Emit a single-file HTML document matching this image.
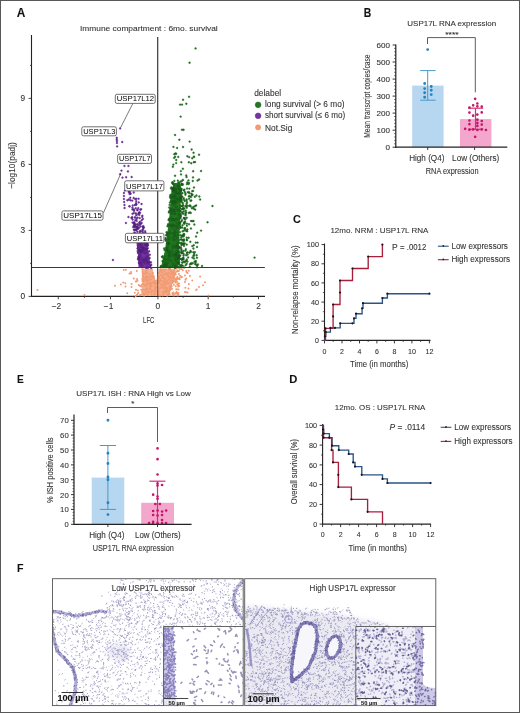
<!DOCTYPE html>
<html><head><meta charset="utf-8"><style>
html,body{margin:0;padding:0;background:#fff;}
svg{display:block;will-change:transform;}
text{font-family:"Liberation Sans", sans-serif;stroke:#3a3a3a;stroke-width:0.1px;}
text.ns{stroke:none;}
</style></head><body>
<svg width="520" height="713" viewBox="0 0 520 713">
<rect x="0" y="0" width="520" height="713" fill="#fff"/>
<line x1="31.5" y1="35" x2="31.5" y2="296.9" stroke="#222" stroke-width="1.1"/>
<line x1="31" y1="296.4" x2="265" y2="296.4" stroke="#222" stroke-width="1.1"/>
<line x1="28.6" y1="296.4" x2="31.5" y2="296.4" stroke="#333" stroke-width="0.9"/>
<text x="25.1" y="299.3" font-size="8.3" text-anchor="end" fill="#333">0</text>
<line x1="28.6" y1="230.4" x2="31.5" y2="230.4" stroke="#333" stroke-width="0.9"/>
<text x="25.1" y="233.3" font-size="8.3" text-anchor="end" fill="#333">3</text>
<line x1="28.6" y1="164.4" x2="31.5" y2="164.4" stroke="#333" stroke-width="0.9"/>
<text x="25.1" y="167.3" font-size="8.3" text-anchor="end" fill="#333">6</text>
<line x1="28.6" y1="98.4" x2="31.5" y2="98.4" stroke="#333" stroke-width="0.9"/>
<text x="25.1" y="101.3" font-size="8.3" text-anchor="end" fill="#333">9</text>
<line x1="30" y1="263.4" x2="31.5" y2="263.4" stroke="#333" stroke-width="0.8"/>
<line x1="30" y1="197.4" x2="31.5" y2="197.4" stroke="#333" stroke-width="0.8"/>
<line x1="30" y1="131.4" x2="31.5" y2="131.4" stroke="#333" stroke-width="0.8"/>
<line x1="30" y1="65.4" x2="31.5" y2="65.4" stroke="#333" stroke-width="0.8"/>
<line x1="58.3" y1="296.4" x2="58.3" y2="299.3" stroke="#333" stroke-width="0.9"/>
<line x1="110.5" y1="296.4" x2="110.5" y2="299.3" stroke="#333" stroke-width="0.9"/>
<line x1="157.9" y1="296.4" x2="157.9" y2="299.3" stroke="#333" stroke-width="0.9"/>
<line x1="208.2" y1="296.4" x2="208.2" y2="299.3" stroke="#333" stroke-width="0.9"/>
<line x1="258.5" y1="296.4" x2="258.5" y2="299.3" stroke="#333" stroke-width="0.9"/>
<line x1="84.4" y1="296.4" x2="84.4" y2="297.9" stroke="#333" stroke-width="0.8"/>
<line x1="134.2" y1="296.4" x2="134.2" y2="297.9" stroke="#333" stroke-width="0.8"/>
<line x1="183.1" y1="296.4" x2="183.1" y2="297.9" stroke="#333" stroke-width="0.8"/>
<line x1="233.3" y1="296.4" x2="233.3" y2="297.9" stroke="#333" stroke-width="0.8"/>
<text x="56.5" y="309.2" font-size="8.4" text-anchor="middle" fill="#333">−2</text>
<text x="108.6" y="309.2" font-size="8.4" text-anchor="middle" fill="#333">−1</text>
<text x="157.9" y="309.2" font-size="8.4" text-anchor="middle" fill="#333">0</text>
<text x="208.2" y="309.2" font-size="8.4" text-anchor="middle" fill="#333">1</text>
<text x="258.5" y="309.2" font-size="8.4" text-anchor="middle" fill="#333">2</text>
<line x1="157.7" y1="37" x2="157.7" y2="296.4" stroke="#333" stroke-width="0.9"/>
<line x1="31.5" y1="267.5" x2="264.8" y2="267.5" stroke="#333" stroke-width="0.9"/>
<path fill="#f5ad8c" d="M141.5 268.8 L152.5 268.8 L156 282.5 L159 268.8 L176 268.8 L173.3 280 L170.4 290 L168.5 295.6 L141 295.6 L142.5 285Z" />
<path fill="#f29a72" d="M168.8 268.9a1.0 1.0 0 1 0 2 0a1.0 1.0 0 1 0 -2 0M150.1 268.6a1.0 1.0 0 1 0 2 0a1.0 1.0 0 1 0 -2 0M159.6 269a1.0 1.0 0 1 0 2 0a1.0 1.0 0 1 0 -2 0M167.8 268.8a1.0 1.0 0 1 0 2 0a1.0 1.0 0 1 0 -2 0M141.7 269.3a1.0 1.0 0 1 0 2 0a1.0 1.0 0 1 0 -2 0M162.1 269.3a1.0 1.0 0 1 0 2 0a1.0 1.0 0 1 0 -2 0M164.2 269.6a1.0 1.0 0 1 0 2 0a1.0 1.0 0 1 0 -2 0M168.8 270.1a1.0 1.0 0 1 0 2 0a1.0 1.0 0 1 0 -2 0M158.9 270.8a1.0 1.0 0 1 0 2 0a1.0 1.0 0 1 0 -2 0M170.1 270.7a1.0 1.0 0 1 0 2 0a1.0 1.0 0 1 0 -2 0M160.8 270.5a1.0 1.0 0 1 0 2 0a1.0 1.0 0 1 0 -2 0M145.6 270.9a1.0 1.0 0 1 0 2 0a1.0 1.0 0 1 0 -2 0M173.3 271.1a1.0 1.0 0 1 0 2 0a1.0 1.0 0 1 0 -2 0M163.3 271.2a1.0 1.0 0 1 0 2 0a1.0 1.0 0 1 0 -2 0M170.1 271.3a1.0 1.0 0 1 0 2 0a1.0 1.0 0 1 0 -2 0M144.9 271.4a1.0 1.0 0 1 0 2 0a1.0 1.0 0 1 0 -2 0M172.5 271.5a1.0 1.0 0 1 0 2 0a1.0 1.0 0 1 0 -2 0M170.4 271.8a1.0 1.0 0 1 0 2 0a1.0 1.0 0 1 0 -2 0M159.7 271.7a1.0 1.0 0 1 0 2 0a1.0 1.0 0 1 0 -2 0M141.7 271.9a1.0 1.0 0 1 0 2 0a1.0 1.0 0 1 0 -2 0M144.6 272.5a1.0 1.0 0 1 0 2 0a1.0 1.0 0 1 0 -2 0M157.9 272.9a1.0 1.0 0 1 0 2 0a1.0 1.0 0 1 0 -2 0M171 272.6a1.0 1.0 0 1 0 2 0a1.0 1.0 0 1 0 -2 0M171.8 272.5a1.0 1.0 0 1 0 2 0a1.0 1.0 0 1 0 -2 0M165.7 272.9a1.0 1.0 0 1 0 2 0a1.0 1.0 0 1 0 -2 0M145 272.7a1.0 1.0 0 1 0 2 0a1.0 1.0 0 1 0 -2 0M167.8 272.5a1.0 1.0 0 1 0 2 0a1.0 1.0 0 1 0 -2 0M161.6 272.9a1.0 1.0 0 1 0 2 0a1.0 1.0 0 1 0 -2 0M146.4 273.2a1.0 1.0 0 1 0 2 0a1.0 1.0 0 1 0 -2 0M172.2 273.3a1.0 1.0 0 1 0 2 0a1.0 1.0 0 1 0 -2 0M151.8 273.1a1.0 1.0 0 1 0 2 0a1.0 1.0 0 1 0 -2 0M172.3 273.2a1.0 1.0 0 1 0 2 0a1.0 1.0 0 1 0 -2 0M172.2 273.6a1.0 1.0 0 1 0 2 0a1.0 1.0 0 1 0 -2 0M167.3 273.8a1.0 1.0 0 1 0 2 0a1.0 1.0 0 1 0 -2 0M164.4 273.8a1.0 1.0 0 1 0 2 0a1.0 1.0 0 1 0 -2 0M172.9 273.7a1.0 1.0 0 1 0 2 0a1.0 1.0 0 1 0 -2 0M142.1 273.6a1.0 1.0 0 1 0 2 0a1.0 1.0 0 1 0 -2 0M171 273.9a1.0 1.0 0 1 0 2 0a1.0 1.0 0 1 0 -2 0M144.2 273.8a1.0 1.0 0 1 0 2 0a1.0 1.0 0 1 0 -2 0M142.5 274.2a1.0 1.0 0 1 0 2 0a1.0 1.0 0 1 0 -2 0M165.8 274.4a1.0 1.0 0 1 0 2 0a1.0 1.0 0 1 0 -2 0M164.7 274.1a1.0 1.0 0 1 0 2 0a1.0 1.0 0 1 0 -2 0M170.8 274.4a1.0 1.0 0 1 0 2 0a1.0 1.0 0 1 0 -2 0M169.6 274.3a1.0 1.0 0 1 0 2 0a1.0 1.0 0 1 0 -2 0M170.9 274a1.0 1.0 0 1 0 2 0a1.0 1.0 0 1 0 -2 0M148.8 274.6a1.0 1.0 0 1 0 2 0a1.0 1.0 0 1 0 -2 0M159.9 275.1a1.0 1.0 0 1 0 2 0a1.0 1.0 0 1 0 -2 0M162.8 275a1.0 1.0 0 1 0 2 0a1.0 1.0 0 1 0 -2 0M141.7 275.9a1.0 1.0 0 1 0 2 0a1.0 1.0 0 1 0 -2 0M172 275.9a1.0 1.0 0 1 0 2 0a1.0 1.0 0 1 0 -2 0M142 275.7a1.0 1.0 0 1 0 2 0a1.0 1.0 0 1 0 -2 0M150.9 275.6a1.0 1.0 0 1 0 2 0a1.0 1.0 0 1 0 -2 0M161 275.9a1.0 1.0 0 1 0 2 0a1.0 1.0 0 1 0 -2 0M150.7 275.9a1.0 1.0 0 1 0 2 0a1.0 1.0 0 1 0 -2 0M166.7 275.6a1.0 1.0 0 1 0 2 0a1.0 1.0 0 1 0 -2 0M162.1 276.3a1.0 1.0 0 1 0 2 0a1.0 1.0 0 1 0 -2 0M167.4 276.4a1.0 1.0 0 1 0 2 0a1.0 1.0 0 1 0 -2 0M151.1 276.4a1.0 1.0 0 1 0 2 0a1.0 1.0 0 1 0 -2 0M168.9 276.4a1.0 1.0 0 1 0 2 0a1.0 1.0 0 1 0 -2 0M145.7 276a1.0 1.0 0 1 0 2 0a1.0 1.0 0 1 0 -2 0M161.8 276.1a1.0 1.0 0 1 0 2 0a1.0 1.0 0 1 0 -2 0M152.8 276.6a1.0 1.0 0 1 0 2 0a1.0 1.0 0 1 0 -2 0M162.1 276.9a1.0 1.0 0 1 0 2 0a1.0 1.0 0 1 0 -2 0M152.7 276.7a1.0 1.0 0 1 0 2 0a1.0 1.0 0 1 0 -2 0M158 276.6a1.0 1.0 0 1 0 2 0a1.0 1.0 0 1 0 -2 0M148.5 276.7a1.0 1.0 0 1 0 2 0a1.0 1.0 0 1 0 -2 0M144.7 277.1a1.0 1.0 0 1 0 2 0a1.0 1.0 0 1 0 -2 0M143 277.5a1.0 1.0 0 1 0 2 0a1.0 1.0 0 1 0 -2 0M149.1 277.2a1.0 1.0 0 1 0 2 0a1.0 1.0 0 1 0 -2 0M167.5 277.3a1.0 1.0 0 1 0 2 0a1.0 1.0 0 1 0 -2 0M146.5 277.2a1.0 1.0 0 1 0 2 0a1.0 1.0 0 1 0 -2 0M152.4 277.5a1.0 1.0 0 1 0 2 0a1.0 1.0 0 1 0 -2 0M157.2 277.9a1.0 1.0 0 1 0 2 0a1.0 1.0 0 1 0 -2 0M146.5 277.6a1.0 1.0 0 1 0 2 0a1.0 1.0 0 1 0 -2 0M157.8 277.9a1.0 1.0 0 1 0 2 0a1.0 1.0 0 1 0 -2 0M169.5 277.6a1.0 1.0 0 1 0 2 0a1.0 1.0 0 1 0 -2 0M146.3 277.9a1.0 1.0 0 1 0 2 0a1.0 1.0 0 1 0 -2 0M161.3 277.9a1.0 1.0 0 1 0 2 0a1.0 1.0 0 1 0 -2 0M152.6 278.2a1.0 1.0 0 1 0 2 0a1.0 1.0 0 1 0 -2 0M141.4 278.4a1.0 1.0 0 1 0 2 0a1.0 1.0 0 1 0 -2 0M157.9 278.2a1.0 1.0 0 1 0 2 0a1.0 1.0 0 1 0 -2 0M158.1 278.4a1.0 1.0 0 1 0 2 0a1.0 1.0 0 1 0 -2 0M152.7 278.4a1.0 1.0 0 1 0 2 0a1.0 1.0 0 1 0 -2 0M170.1 278.2a1.0 1.0 0 1 0 2 0a1.0 1.0 0 1 0 -2 0M144.8 278.4a1.0 1.0 0 1 0 2 0a1.0 1.0 0 1 0 -2 0M172.5 278.1a1.0 1.0 0 1 0 2 0a1.0 1.0 0 1 0 -2 0M163.4 278.4a1.0 1.0 0 1 0 2 0a1.0 1.0 0 1 0 -2 0M170.2 278.1a1.0 1.0 0 1 0 2 0a1.0 1.0 0 1 0 -2 0M158.9 278.7a1.0 1.0 0 1 0 2 0a1.0 1.0 0 1 0 -2 0M164.6 278.6a1.0 1.0 0 1 0 2 0a1.0 1.0 0 1 0 -2 0M169.9 278.6a1.0 1.0 0 1 0 2 0a1.0 1.0 0 1 0 -2 0M150.4 279.2a1.0 1.0 0 1 0 2 0a1.0 1.0 0 1 0 -2 0M163.5 279.2a1.0 1.0 0 1 0 2 0a1.0 1.0 0 1 0 -2 0M142.1 279.5a1.0 1.0 0 1 0 2 0a1.0 1.0 0 1 0 -2 0M141.4 279.8a1.0 1.0 0 1 0 2 0a1.0 1.0 0 1 0 -2 0M144.3 279.6a1.0 1.0 0 1 0 2 0a1.0 1.0 0 1 0 -2 0M167.9 279.7a1.0 1.0 0 1 0 2 0a1.0 1.0 0 1 0 -2 0M146.2 279.8a1.0 1.0 0 1 0 2 0a1.0 1.0 0 1 0 -2 0M148.8 279.8a1.0 1.0 0 1 0 2 0a1.0 1.0 0 1 0 -2 0M144.7 280.1a1.0 1.0 0 1 0 2 0a1.0 1.0 0 1 0 -2 0M171.6 280.5a1.0 1.0 0 1 0 2 0a1.0 1.0 0 1 0 -2 0M147.7 280.5a1.0 1.0 0 1 0 2 0a1.0 1.0 0 1 0 -2 0M146.9 280.3a1.0 1.0 0 1 0 2 0a1.0 1.0 0 1 0 -2 0M156.2 280.5a1.0 1.0 0 1 0 2 0a1.0 1.0 0 1 0 -2 0M141.6 280.2a1.0 1.0 0 1 0 2 0a1.0 1.0 0 1 0 -2 0M159.5 280a1.0 1.0 0 1 0 2 0a1.0 1.0 0 1 0 -2 0M145.6 280.9a1.0 1.0 0 1 0 2 0a1.0 1.0 0 1 0 -2 0M145.6 281a1.0 1.0 0 1 0 2 0a1.0 1.0 0 1 0 -2 0M159.3 280.7a1.0 1.0 0 1 0 2 0a1.0 1.0 0 1 0 -2 0M170.1 280.6a1.0 1.0 0 1 0 2 0a1.0 1.0 0 1 0 -2 0M156.7 280.5a1.0 1.0 0 1 0 2 0a1.0 1.0 0 1 0 -2 0M171.1 280.8a1.0 1.0 0 1 0 2 0a1.0 1.0 0 1 0 -2 0M165.9 280.6a1.0 1.0 0 1 0 2 0a1.0 1.0 0 1 0 -2 0M165.8 280.9a1.0 1.0 0 1 0 2 0a1.0 1.0 0 1 0 -2 0M160.8 281a1.0 1.0 0 1 0 2 0a1.0 1.0 0 1 0 -2 0M154.1 280.7a1.0 1.0 0 1 0 2 0a1.0 1.0 0 1 0 -2 0M163.4 281a1.0 1.0 0 1 0 2 0a1.0 1.0 0 1 0 -2 0M170.7 281.2a1.0 1.0 0 1 0 2 0a1.0 1.0 0 1 0 -2 0M153.3 281.4a1.0 1.0 0 1 0 2 0a1.0 1.0 0 1 0 -2 0M156.9 281.4a1.0 1.0 0 1 0 2 0a1.0 1.0 0 1 0 -2 0M143 281.3a1.0 1.0 0 1 0 2 0a1.0 1.0 0 1 0 -2 0M158 281.5a1.0 1.0 0 1 0 2 0a1.0 1.0 0 1 0 -2 0M141.5 281.2a1.0 1.0 0 1 0 2 0a1.0 1.0 0 1 0 -2 0M146.5 281.9a1.0 1.0 0 1 0 2 0a1.0 1.0 0 1 0 -2 0M146.5 281.7a1.0 1.0 0 1 0 2 0a1.0 1.0 0 1 0 -2 0M164 281.9a1.0 1.0 0 1 0 2 0a1.0 1.0 0 1 0 -2 0M157.8 281.9a1.0 1.0 0 1 0 2 0a1.0 1.0 0 1 0 -2 0M152.3 282.2a1.0 1.0 0 1 0 2 0a1.0 1.0 0 1 0 -2 0M164.1 282.3a1.0 1.0 0 1 0 2 0a1.0 1.0 0 1 0 -2 0M150.9 282.4a1.0 1.0 0 1 0 2 0a1.0 1.0 0 1 0 -2 0M152.3 282.4a1.0 1.0 0 1 0 2 0a1.0 1.0 0 1 0 -2 0M165 282.2a1.0 1.0 0 1 0 2 0a1.0 1.0 0 1 0 -2 0M162.7 282a1.0 1.0 0 1 0 2 0a1.0 1.0 0 1 0 -2 0M152.6 282.4a1.0 1.0 0 1 0 2 0a1.0 1.0 0 1 0 -2 0M158.5 282.3a1.0 1.0 0 1 0 2 0a1.0 1.0 0 1 0 -2 0M149.5 282.7a1.0 1.0 0 1 0 2 0a1.0 1.0 0 1 0 -2 0M171.7 282.7a1.0 1.0 0 1 0 2 0a1.0 1.0 0 1 0 -2 0M154.3 282.7a1.0 1.0 0 1 0 2 0a1.0 1.0 0 1 0 -2 0M158.5 283a1.0 1.0 0 1 0 2 0a1.0 1.0 0 1 0 -2 0M168.2 282.7a1.0 1.0 0 1 0 2 0a1.0 1.0 0 1 0 -2 0M167.4 283.2a1.0 1.0 0 1 0 2 0a1.0 1.0 0 1 0 -2 0M155.7 283.1a1.0 1.0 0 1 0 2 0a1.0 1.0 0 1 0 -2 0M153.4 283.4a1.0 1.0 0 1 0 2 0a1.0 1.0 0 1 0 -2 0M166.2 283.2a1.0 1.0 0 1 0 2 0a1.0 1.0 0 1 0 -2 0M162.3 283.9a1.0 1.0 0 1 0 2 0a1.0 1.0 0 1 0 -2 0M142 283.9a1.0 1.0 0 1 0 2 0a1.0 1.0 0 1 0 -2 0M165.8 283.7a1.0 1.0 0 1 0 2 0a1.0 1.0 0 1 0 -2 0M142.2 283.8a1.0 1.0 0 1 0 2 0a1.0 1.0 0 1 0 -2 0M147.9 283.8a1.0 1.0 0 1 0 2 0a1.0 1.0 0 1 0 -2 0M170.2 284.1a1.0 1.0 0 1 0 2 0a1.0 1.0 0 1 0 -2 0M149.7 284.1a1.0 1.0 0 1 0 2 0a1.0 1.0 0 1 0 -2 0M142.3 284.2a1.0 1.0 0 1 0 2 0a1.0 1.0 0 1 0 -2 0M164.2 284.4a1.0 1.0 0 1 0 2 0a1.0 1.0 0 1 0 -2 0M146.3 284.1a1.0 1.0 0 1 0 2 0a1.0 1.0 0 1 0 -2 0M150.2 284.4a1.0 1.0 0 1 0 2 0a1.0 1.0 0 1 0 -2 0M153.8 284.7a1.0 1.0 0 1 0 2 0a1.0 1.0 0 1 0 -2 0M144.6 284.7a1.0 1.0 0 1 0 2 0a1.0 1.0 0 1 0 -2 0M160 284.6a1.0 1.0 0 1 0 2 0a1.0 1.0 0 1 0 -2 0M144.5 284.6a1.0 1.0 0 1 0 2 0a1.0 1.0 0 1 0 -2 0M149 285a1.0 1.0 0 1 0 2 0a1.0 1.0 0 1 0 -2 0M141 284.6a1.0 1.0 0 1 0 2 0a1.0 1.0 0 1 0 -2 0M145.3 284.7a1.0 1.0 0 1 0 2 0a1.0 1.0 0 1 0 -2 0M145.2 285.1a1.0 1.0 0 1 0 2 0a1.0 1.0 0 1 0 -2 0M168.6 285.9a1.0 1.0 0 1 0 2 0a1.0 1.0 0 1 0 -2 0M160.8 285.5a1.0 1.0 0 1 0 2 0a1.0 1.0 0 1 0 -2 0M160.6 285.8a1.0 1.0 0 1 0 2 0a1.0 1.0 0 1 0 -2 0M164 285.6a1.0 1.0 0 1 0 2 0a1.0 1.0 0 1 0 -2 0M169.5 285.9a1.0 1.0 0 1 0 2 0a1.0 1.0 0 1 0 -2 0M143.7 285.7a1.0 1.0 0 1 0 2 0a1.0 1.0 0 1 0 -2 0M161 286.3a1.0 1.0 0 1 0 2 0a1.0 1.0 0 1 0 -2 0M169.4 286.3a1.0 1.0 0 1 0 2 0a1.0 1.0 0 1 0 -2 0M150.5 286.3a1.0 1.0 0 1 0 2 0a1.0 1.0 0 1 0 -2 0M140.8 286.4a1.0 1.0 0 1 0 2 0a1.0 1.0 0 1 0 -2 0M161.5 286.2a1.0 1.0 0 1 0 2 0a1.0 1.0 0 1 0 -2 0M145.8 286.7a1.0 1.0 0 1 0 2 0a1.0 1.0 0 1 0 -2 0M153.9 287a1.0 1.0 0 1 0 2 0a1.0 1.0 0 1 0 -2 0M148.7 286.9a1.0 1.0 0 1 0 2 0a1.0 1.0 0 1 0 -2 0M161 286.9a1.0 1.0 0 1 0 2 0a1.0 1.0 0 1 0 -2 0M164.1 287.1a1.0 1.0 0 1 0 2 0a1.0 1.0 0 1 0 -2 0M168.7 287.6a1.0 1.0 0 1 0 2 0a1.0 1.0 0 1 0 -2 0M161.5 287.6a1.0 1.0 0 1 0 2 0a1.0 1.0 0 1 0 -2 0M164.9 287.6a1.0 1.0 0 1 0 2 0a1.0 1.0 0 1 0 -2 0M155.8 287.5a1.0 1.0 0 1 0 2 0a1.0 1.0 0 1 0 -2 0M158.5 288.2a1.0 1.0 0 1 0 2 0a1.0 1.0 0 1 0 -2 0M159.2 288.2a1.0 1.0 0 1 0 2 0a1.0 1.0 0 1 0 -2 0M166.2 288.1a1.0 1.0 0 1 0 2 0a1.0 1.0 0 1 0 -2 0M163.1 288.3a1.0 1.0 0 1 0 2 0a1.0 1.0 0 1 0 -2 0M169.2 288.9a1.0 1.0 0 1 0 2 0a1.0 1.0 0 1 0 -2 0M146.3 288.9a1.0 1.0 0 1 0 2 0a1.0 1.0 0 1 0 -2 0M148.5 288.7a1.0 1.0 0 1 0 2 0a1.0 1.0 0 1 0 -2 0M166.1 288.7a1.0 1.0 0 1 0 2 0a1.0 1.0 0 1 0 -2 0M148.8 288.7a1.0 1.0 0 1 0 2 0a1.0 1.0 0 1 0 -2 0M145.3 289a1.0 1.0 0 1 0 2 0a1.0 1.0 0 1 0 -2 0M154.1 289.1a1.0 1.0 0 1 0 2 0a1.0 1.0 0 1 0 -2 0M143.9 289.9a1.0 1.0 0 1 0 2 0a1.0 1.0 0 1 0 -2 0M154.3 289.9a1.0 1.0 0 1 0 2 0a1.0 1.0 0 1 0 -2 0M142.1 289.8a1.0 1.0 0 1 0 2 0a1.0 1.0 0 1 0 -2 0M166 289.9a1.0 1.0 0 1 0 2 0a1.0 1.0 0 1 0 -2 0M140.3 289.8a1.0 1.0 0 1 0 2 0a1.0 1.0 0 1 0 -2 0M164.3 290.2a1.0 1.0 0 1 0 2 0a1.0 1.0 0 1 0 -2 0M153.6 290.5a1.0 1.0 0 1 0 2 0a1.0 1.0 0 1 0 -2 0M149.6 290a1.0 1.0 0 1 0 2 0a1.0 1.0 0 1 0 -2 0M157 291a1.0 1.0 0 1 0 2 0a1.0 1.0 0 1 0 -2 0M157.3 290.8a1.0 1.0 0 1 0 2 0a1.0 1.0 0 1 0 -2 0M157.3 291.2a1.0 1.0 0 1 0 2 0a1.0 1.0 0 1 0 -2 0M145 291.3a1.0 1.0 0 1 0 2 0a1.0 1.0 0 1 0 -2 0M164.3 291.1a1.0 1.0 0 1 0 2 0a1.0 1.0 0 1 0 -2 0M156.2 291.4a1.0 1.0 0 1 0 2 0a1.0 1.0 0 1 0 -2 0M152 291.1a1.0 1.0 0 1 0 2 0a1.0 1.0 0 1 0 -2 0M151.1 291.3a1.0 1.0 0 1 0 2 0a1.0 1.0 0 1 0 -2 0M147.4 291.6a1.0 1.0 0 1 0 2 0a1.0 1.0 0 1 0 -2 0M165.1 292a1.0 1.0 0 1 0 2 0a1.0 1.0 0 1 0 -2 0M141.4 291.7a1.0 1.0 0 1 0 2 0a1.0 1.0 0 1 0 -2 0M145.8 291.7a1.0 1.0 0 1 0 2 0a1.0 1.0 0 1 0 -2 0M167.3 291.5a1.0 1.0 0 1 0 2 0a1.0 1.0 0 1 0 -2 0M150.5 292.5a1.0 1.0 0 1 0 2 0a1.0 1.0 0 1 0 -2 0M162.1 292.1a1.0 1.0 0 1 0 2 0a1.0 1.0 0 1 0 -2 0M163.8 292.2a1.0 1.0 0 1 0 2 0a1.0 1.0 0 1 0 -2 0M163 292a1.0 1.0 0 1 0 2 0a1.0 1.0 0 1 0 -2 0M165.7 292.1a1.0 1.0 0 1 0 2 0a1.0 1.0 0 1 0 -2 0M148.4 292.5a1.0 1.0 0 1 0 2 0a1.0 1.0 0 1 0 -2 0M146.4 292.6a1.0 1.0 0 1 0 2 0a1.0 1.0 0 1 0 -2 0M153.7 292.7a1.0 1.0 0 1 0 2 0a1.0 1.0 0 1 0 -2 0M157.2 292.6a1.0 1.0 0 1 0 2 0a1.0 1.0 0 1 0 -2 0M162.1 293.1a1.0 1.0 0 1 0 2 0a1.0 1.0 0 1 0 -2 0M144.1 293.7a1.0 1.0 0 1 0 2 0a1.0 1.0 0 1 0 -2 0M157.5 294a1.0 1.0 0 1 0 2 0a1.0 1.0 0 1 0 -2 0M144.3 293.9a1.0 1.0 0 1 0 2 0a1.0 1.0 0 1 0 -2 0M153.9 293.6a1.0 1.0 0 1 0 2 0a1.0 1.0 0 1 0 -2 0M168.3 293.8a1.0 1.0 0 1 0 2 0a1.0 1.0 0 1 0 -2 0M143.8 294a1.0 1.0 0 1 0 2 0a1.0 1.0 0 1 0 -2 0M143 293.5a1.0 1.0 0 1 0 2 0a1.0 1.0 0 1 0 -2 0M166.6 294.3a1.0 1.0 0 1 0 2 0a1.0 1.0 0 1 0 -2 0M142 294.3a1.0 1.0 0 1 0 2 0a1.0 1.0 0 1 0 -2 0M162.6 294.9a1.0 1.0 0 1 0 2 0a1.0 1.0 0 1 0 -2 0M168.6 294.6a1.0 1.0 0 1 0 2 0a1.0 1.0 0 1 0 -2 0M153.1 295a1.0 1.0 0 1 0 2 0a1.0 1.0 0 1 0 -2 0M167.3 294.7a1.0 1.0 0 1 0 2 0a1.0 1.0 0 1 0 -2 0M167.1 294.7a1.0 1.0 0 1 0 2 0a1.0 1.0 0 1 0 -2 0M150.8 294.9a1.0 1.0 0 1 0 2 0a1.0 1.0 0 1 0 -2 0M153.6 294.7a1.0 1.0 0 1 0 2 0a1.0 1.0 0 1 0 -2 0M161.7 295.3a1.0 1.0 0 1 0 2 0a1.0 1.0 0 1 0 -2 0M159.3 295.4a1.0 1.0 0 1 0 2 0a1.0 1.0 0 1 0 -2 0M146.6 295.1a1.0 1.0 0 1 0 2 0a1.0 1.0 0 1 0 -2 0M158.2 295.6a1.0 1.0 0 1 0 2 0a1.0 1.0 0 1 0 -2 0M143.1 295.8a1.0 1.0 0 1 0 2 0a1.0 1.0 0 1 0 -2 0M161.7 295.6a1.0 1.0 0 1 0 2 0a1.0 1.0 0 1 0 -2 0M158.2 295.5a1.0 1.0 0 1 0 2 0a1.0 1.0 0 1 0 -2 0M175.8 268.7a1.0 1.0 0 1 0 2 0a1.0 1.0 0 1 0 -2 0M178.9 269a1.0 1.0 0 1 0 2 0a1.0 1.0 0 1 0 -2 0M180.7 269.1a1.0 1.0 0 1 0 2 0a1.0 1.0 0 1 0 -2 0M177.8 271a1.0 1.0 0 1 0 2 0a1.0 1.0 0 1 0 -2 0M177.1 271.3a1.0 1.0 0 1 0 2 0a1.0 1.0 0 1 0 -2 0M175.6 271.5a1.0 1.0 0 1 0 2 0a1.0 1.0 0 1 0 -2 0M174.4 272.7a1.0 1.0 0 1 0 2 0a1.0 1.0 0 1 0 -2 0M177.9 274a1.0 1.0 0 1 0 2 0a1.0 1.0 0 1 0 -2 0M174.3 274.5a1.0 1.0 0 1 0 2 0a1.0 1.0 0 1 0 -2 0M174.8 274.5a1.0 1.0 0 1 0 2 0a1.0 1.0 0 1 0 -2 0M174 274.5a1.0 1.0 0 1 0 2 0a1.0 1.0 0 1 0 -2 0M173.2 276a1.0 1.0 0 1 0 2 0a1.0 1.0 0 1 0 -2 0M172.5 276.4a1.0 1.0 0 1 0 2 0a1.0 1.0 0 1 0 -2 0M172.5 276.6a1.0 1.0 0 1 0 2 0a1.0 1.0 0 1 0 -2 0M176.4 277a1.0 1.0 0 1 0 2 0a1.0 1.0 0 1 0 -2 0M171.7 277.4a1.0 1.0 0 1 0 2 0a1.0 1.0 0 1 0 -2 0M172.1 277.1a1.0 1.0 0 1 0 2 0a1.0 1.0 0 1 0 -2 0M172.9 277.5a1.0 1.0 0 1 0 2 0a1.0 1.0 0 1 0 -2 0M178.5 278a1.0 1.0 0 1 0 2 0a1.0 1.0 0 1 0 -2 0M173.4 277.9a1.0 1.0 0 1 0 2 0a1.0 1.0 0 1 0 -2 0M175.5 278a1.0 1.0 0 1 0 2 0a1.0 1.0 0 1 0 -2 0M177.1 278.8a1.0 1.0 0 1 0 2 0a1.0 1.0 0 1 0 -2 0M173.3 279.5a1.0 1.0 0 1 0 2 0a1.0 1.0 0 1 0 -2 0M175.2 279a1.0 1.0 0 1 0 2 0a1.0 1.0 0 1 0 -2 0M175.1 280.3a1.0 1.0 0 1 0 2 0a1.0 1.0 0 1 0 -2 0M174.4 280.5a1.0 1.0 0 1 0 2 0a1.0 1.0 0 1 0 -2 0M171.8 280.7a1.0 1.0 0 1 0 2 0a1.0 1.0 0 1 0 -2 0M172.2 281.4a1.0 1.0 0 1 0 2 0a1.0 1.0 0 1 0 -2 0M170.5 281.3a1.0 1.0 0 1 0 2 0a1.0 1.0 0 1 0 -2 0M172.1 281.2a1.0 1.0 0 1 0 2 0a1.0 1.0 0 1 0 -2 0M174 281.8a1.0 1.0 0 1 0 2 0a1.0 1.0 0 1 0 -2 0M170.7 281.6a1.0 1.0 0 1 0 2 0a1.0 1.0 0 1 0 -2 0M174.5 282.6a1.0 1.0 0 1 0 2 0a1.0 1.0 0 1 0 -2 0M178 283.5a1.0 1.0 0 1 0 2 0a1.0 1.0 0 1 0 -2 0M177.5 283.6a1.0 1.0 0 1 0 2 0a1.0 1.0 0 1 0 -2 0M176.2 284.2a1.0 1.0 0 1 0 2 0a1.0 1.0 0 1 0 -2 0M176.9 284.8a1.0 1.0 0 1 0 2 0a1.0 1.0 0 1 0 -2 0M172.9 284.7a1.0 1.0 0 1 0 2 0a1.0 1.0 0 1 0 -2 0M170 285.8a1.0 1.0 0 1 0 2 0a1.0 1.0 0 1 0 -2 0M178.2 286.1a1.0 1.0 0 1 0 2 0a1.0 1.0 0 1 0 -2 0M177.2 286.4a1.0 1.0 0 1 0 2 0a1.0 1.0 0 1 0 -2 0M174.8 286.3a1.0 1.0 0 1 0 2 0a1.0 1.0 0 1 0 -2 0M170.8 286.3a1.0 1.0 0 1 0 2 0a1.0 1.0 0 1 0 -2 0M170 286.9a1.0 1.0 0 1 0 2 0a1.0 1.0 0 1 0 -2 0M168.7 287.1a1.0 1.0 0 1 0 2 0a1.0 1.0 0 1 0 -2 0M170.2 288.8a1.0 1.0 0 1 0 2 0a1.0 1.0 0 1 0 -2 0M171.1 288.7a1.0 1.0 0 1 0 2 0a1.0 1.0 0 1 0 -2 0M175.2 289.2a1.0 1.0 0 1 0 2 0a1.0 1.0 0 1 0 -2 0M177 289.2a1.0 1.0 0 1 0 2 0a1.0 1.0 0 1 0 -2 0M169.3 290a1.0 1.0 0 1 0 2 0a1.0 1.0 0 1 0 -2 0M168.2 289.7a1.0 1.0 0 1 0 2 0a1.0 1.0 0 1 0 -2 0M177.5 289.5a1.0 1.0 0 1 0 2 0a1.0 1.0 0 1 0 -2 0M168.4 291.9a1.0 1.0 0 1 0 2 0a1.0 1.0 0 1 0 -2 0M175.6 291.8a1.0 1.0 0 1 0 2 0a1.0 1.0 0 1 0 -2 0M176.1 292.7a1.0 1.0 0 1 0 2 0a1.0 1.0 0 1 0 -2 0M172.4 292.6a1.0 1.0 0 1 0 2 0a1.0 1.0 0 1 0 -2 0M177.4 293.4a1.0 1.0 0 1 0 2 0a1.0 1.0 0 1 0 -2 0M171.3 293.2a1.0 1.0 0 1 0 2 0a1.0 1.0 0 1 0 -2 0M175.1 293.1a1.0 1.0 0 1 0 2 0a1.0 1.0 0 1 0 -2 0M171.7 293.6a1.0 1.0 0 1 0 2 0a1.0 1.0 0 1 0 -2 0M176.5 293.7a1.0 1.0 0 1 0 2 0a1.0 1.0 0 1 0 -2 0M174.1 293.7a1.0 1.0 0 1 0 2 0a1.0 1.0 0 1 0 -2 0M176.7 294a1.0 1.0 0 1 0 2 0a1.0 1.0 0 1 0 -2 0M171.8 294.5a1.0 1.0 0 1 0 2 0a1.0 1.0 0 1 0 -2 0M172.4 294.6a1.0 1.0 0 1 0 2 0a1.0 1.0 0 1 0 -2 0M172.8 295.4a1.0 1.0 0 1 0 2 0a1.0 1.0 0 1 0 -2 0M166.2 295.7a1.0 1.0 0 1 0 2 0a1.0 1.0 0 1 0 -2 0M176.6 295.6a1.0 1.0 0 1 0 2 0a1.0 1.0 0 1 0 -2 0M136.5 280.4a1.0 1.0 0 1 0 2 0a1.0 1.0 0 1 0 -2 0M135.5 281.4a1.0 1.0 0 1 0 2 0a1.0 1.0 0 1 0 -2 0M137.7 285a1.0 1.0 0 1 0 2 0a1.0 1.0 0 1 0 -2 0M139.3 285.8a1.0 1.0 0 1 0 2 0a1.0 1.0 0 1 0 -2 0M139.2 286a1.0 1.0 0 1 0 2 0a1.0 1.0 0 1 0 -2 0M135 289.7a1.0 1.0 0 1 0 2 0a1.0 1.0 0 1 0 -2 0M136.9 290.4a1.0 1.0 0 1 0 2 0a1.0 1.0 0 1 0 -2 0M133.8 292.7a1.0 1.0 0 1 0 2 0a1.0 1.0 0 1 0 -2 0M136 294.8a1.0 1.0 0 1 0 2 0a1.0 1.0 0 1 0 -2 0M138.7 295.2a1.0 1.0 0 1 0 2 0a1.0 1.0 0 1 0 -2 0M139.7 295.1a1.0 1.0 0 1 0 2 0a1.0 1.0 0 1 0 -2 0M180.6 276.7a1.0 1.0 0 1 0 2 0a1.0 1.0 0 1 0 -2 0M202 285.3a1.0 1.0 0 1 0 2 0a1.0 1.0 0 1 0 -2 0M176.5 270.9a1.0 1.0 0 1 0 2 0a1.0 1.0 0 1 0 -2 0M181.8 270.3a1.0 1.0 0 1 0 2 0a1.0 1.0 0 1 0 -2 0M186.6 292.6a1.0 1.0 0 1 0 2 0a1.0 1.0 0 1 0 -2 0M185.4 272a1.0 1.0 0 1 0 2 0a1.0 1.0 0 1 0 -2 0M176.1 281.7a1.0 1.0 0 1 0 2 0a1.0 1.0 0 1 0 -2 0M184.4 279.7a1.0 1.0 0 1 0 2 0a1.0 1.0 0 1 0 -2 0M176.8 293.7a1.0 1.0 0 1 0 2 0a1.0 1.0 0 1 0 -2 0M186.5 272.9a1.0 1.0 0 1 0 2 0a1.0 1.0 0 1 0 -2 0M184 282a1.0 1.0 0 1 0 2 0a1.0 1.0 0 1 0 -2 0M185.2 270.9a1.0 1.0 0 1 0 2 0a1.0 1.0 0 1 0 -2 0M175.5 293.6a1.0 1.0 0 1 0 2 0a1.0 1.0 0 1 0 -2 0M179.1 275.7a1.0 1.0 0 1 0 2 0a1.0 1.0 0 1 0 -2 0M180.5 277.3a1.0 1.0 0 1 0 2 0a1.0 1.0 0 1 0 -2 0M177.8 270.8a1.0 1.0 0 1 0 2 0a1.0 1.0 0 1 0 -2 0M187.7 270.8a1.0 1.0 0 1 0 2 0a1.0 1.0 0 1 0 -2 0M199.1 276.6a1.0 1.0 0 1 0 2 0a1.0 1.0 0 1 0 -2 0M177.4 293.1a1.0 1.0 0 1 0 2 0a1.0 1.0 0 1 0 -2 0M183.9 275.5a1.0 1.0 0 1 0 2 0a1.0 1.0 0 1 0 -2 0M175.1 279.2a1.0 1.0 0 1 0 2 0a1.0 1.0 0 1 0 -2 0M195.7 289.5a1.0 1.0 0 1 0 2 0a1.0 1.0 0 1 0 -2 0M184.4 287.8a1.0 1.0 0 1 0 2 0a1.0 1.0 0 1 0 -2 0M177.5 295.1a1.0 1.0 0 1 0 2 0a1.0 1.0 0 1 0 -2 0M184.9 292.2a1.0 1.0 0 1 0 2 0a1.0 1.0 0 1 0 -2 0M185.2 278.4a1.0 1.0 0 1 0 2 0a1.0 1.0 0 1 0 -2 0M187.5 288.5a1.0 1.0 0 1 0 2 0a1.0 1.0 0 1 0 -2 0M176.6 279.1a1.0 1.0 0 1 0 2 0a1.0 1.0 0 1 0 -2 0M130.6 283.9a1.0 1.0 0 1 0 2 0a1.0 1.0 0 1 0 -2 0M136.1 294.6a1.0 1.0 0 1 0 2 0a1.0 1.0 0 1 0 -2 0M134.7 296a1.0 1.0 0 1 0 2 0a1.0 1.0 0 1 0 -2 0M132.8 278.5a1.0 1.0 0 1 0 2 0a1.0 1.0 0 1 0 -2 0M130 272a1.0 1.0 0 1 0 2 0a1.0 1.0 0 1 0 -2 0M130 273.6a1.0 1.0 0 1 0 2 0a1.0 1.0 0 1 0 -2 0M137.3 293a1.0 1.0 0 1 0 2 0a1.0 1.0 0 1 0 -2 0M130.5 287a1.0 1.0 0 1 0 2 0a1.0 1.0 0 1 0 -2 0M135.8 271a1.0 1.0 0 1 0 2 0a1.0 1.0 0 1 0 -2 0M122.2 282.4a1.0 1.0 0 1 0 2 0a1.0 1.0 0 1 0 -2 0M124.5 286.6a1.0 1.0 0 1 0 2 0a1.0 1.0 0 1 0 -2 0M124.9 269.8a1.0 1.0 0 1 0 2 0a1.0 1.0 0 1 0 -2 0M126.3 293.2a1.0 1.0 0 1 0 2 0a1.0 1.0 0 1 0 -2 0M124.3 283.2a1.0 1.0 0 1 0 2 0a1.0 1.0 0 1 0 -2 0M36.4 290a1.0 1.0 0 1 0 2 0a1.0 1.0 0 1 0 -2 0M83.5 295.1a1.0 1.0 0 1 0 2 0a1.0 1.0 0 1 0 -2 0M114 285.8a1.0 1.0 0 1 0 2 0a1.0 1.0 0 1 0 -2 0M119.8 284.6a1.0 1.0 0 1 0 2 0a1.0 1.0 0 1 0 -2 0M128.5 273.5a1.0 1.0 0 1 0 2 0a1.0 1.0 0 1 0 -2 0M134.8 281.6a1.0 1.0 0 1 0 2 0a1.0 1.0 0 1 0 -2 0M136 279a1.0 1.0 0 1 0 2 0a1.0 1.0 0 1 0 -2 0M178.6 279.3a1.0 1.0 0 1 0 2 0a1.0 1.0 0 1 0 -2 0M181 277a1.0 1.0 0 1 0 2 0a1.0 1.0 0 1 0 -2 0M187.8 284a1.0 1.0 0 1 0 2 0a1.0 1.0 0 1 0 -2 0M191.3 280.5a1.0 1.0 0 1 0 2 0a1.0 1.0 0 1 0 -2 0M204 282.3a1.0 1.0 0 1 0 2 0a1.0 1.0 0 1 0 -2 0M207.5 295.5a1.0 1.0 0 1 0 2 0a1.0 1.0 0 1 0 -2 0M122.8 270a1.0 1.0 0 1 0 2 0a1.0 1.0 0 1 0 -2 0M195 290a1.0 1.0 0 1 0 2 0a1.0 1.0 0 1 0 -2 0M198 287a1.0 1.0 0 1 0 2 0a1.0 1.0 0 1 0 -2 0M184 292a1.0 1.0 0 1 0 2 0a1.0 1.0 0 1 0 -2 0M189 276a1.0 1.0 0 1 0 2 0a1.0 1.0 0 1 0 -2 0"/>
<path fill="#7533a8" d="M138.5 267.5 L137.8 252 L136 240 L140 237 L145.5 240 L148.5 252 L151 267.5Z" />
<path fill="#7533a8" stroke="#4a2070" stroke-width="0.3" d="M128.7 191.8a0.95 0.95 0 1 0 1.9 0a0.95 0.95 0 1 0 -1.9 0M127.8 192a0.95 0.95 0 1 0 1.9 0a0.95 0.95 0 1 0 -1.9 0M132.8 192.5a0.95 0.95 0 1 0 1.9 0a0.95 0.95 0 1 0 -1.9 0M129.4 193.3a0.95 0.95 0 1 0 1.9 0a0.95 0.95 0 1 0 -1.9 0M128.6 193.9a0.95 0.95 0 1 0 1.9 0a0.95 0.95 0 1 0 -1.9 0M129.6 193.7a0.95 0.95 0 1 0 1.9 0a0.95 0.95 0 1 0 -1.9 0M132.7 198a0.95 0.95 0 1 0 1.9 0a0.95 0.95 0 1 0 -1.9 0M129.3 197.8a0.95 0.95 0 1 0 1.9 0a0.95 0.95 0 1 0 -1.9 0M137.6 198.8a0.95 0.95 0 1 0 1.9 0a0.95 0.95 0 1 0 -1.9 0M135.3 198.8a0.95 0.95 0 1 0 1.9 0a0.95 0.95 0 1 0 -1.9 0M134.3 199.1a0.95 0.95 0 1 0 1.9 0a0.95 0.95 0 1 0 -1.9 0M127.8 199.5a0.95 0.95 0 1 0 1.9 0a0.95 0.95 0 1 0 -1.9 0M129.5 200.3a0.95 0.95 0 1 0 1.9 0a0.95 0.95 0 1 0 -1.9 0M126.4 200.3a0.95 0.95 0 1 0 1.9 0a0.95 0.95 0 1 0 -1.9 0M131.3 200.6a0.95 0.95 0 1 0 1.9 0a0.95 0.95 0 1 0 -1.9 0M135.3 201.2a0.95 0.95 0 1 0 1.9 0a0.95 0.95 0 1 0 -1.9 0M137.8 202.4a0.95 0.95 0 1 0 1.9 0a0.95 0.95 0 1 0 -1.9 0M135.1 203.2a0.95 0.95 0 1 0 1.9 0a0.95 0.95 0 1 0 -1.9 0M135.4 204.3a0.95 0.95 0 1 0 1.9 0a0.95 0.95 0 1 0 -1.9 0M135.3 204.7a0.95 0.95 0 1 0 1.9 0a0.95 0.95 0 1 0 -1.9 0M133.9 205a0.95 0.95 0 1 0 1.9 0a0.95 0.95 0 1 0 -1.9 0M131.8 205.5a0.95 0.95 0 1 0 1.9 0a0.95 0.95 0 1 0 -1.9 0M128.4 206.3a0.95 0.95 0 1 0 1.9 0a0.95 0.95 0 1 0 -1.9 0M128.7 206.4a0.95 0.95 0 1 0 1.9 0a0.95 0.95 0 1 0 -1.9 0M131.5 207.6a0.95 0.95 0 1 0 1.9 0a0.95 0.95 0 1 0 -1.9 0M137.4 208.1a0.95 0.95 0 1 0 1.9 0a0.95 0.95 0 1 0 -1.9 0M134.8 208.2a0.95 0.95 0 1 0 1.9 0a0.95 0.95 0 1 0 -1.9 0M131.5 209.4a0.95 0.95 0 1 0 1.9 0a0.95 0.95 0 1 0 -1.9 0M140.2 209.3a0.95 0.95 0 1 0 1.9 0a0.95 0.95 0 1 0 -1.9 0M132.6 209.8a0.95 0.95 0 1 0 1.9 0a0.95 0.95 0 1 0 -1.9 0M139.4 209.7a0.95 0.95 0 1 0 1.9 0a0.95 0.95 0 1 0 -1.9 0M132.9 209.5a0.95 0.95 0 1 0 1.9 0a0.95 0.95 0 1 0 -1.9 0M136.6 209.7a0.95 0.95 0 1 0 1.9 0a0.95 0.95 0 1 0 -1.9 0M136.3 210.3a0.95 0.95 0 1 0 1.9 0a0.95 0.95 0 1 0 -1.9 0M133.2 210.9a0.95 0.95 0 1 0 1.9 0a0.95 0.95 0 1 0 -1.9 0M138.4 212.4a0.95 0.95 0 1 0 1.9 0a0.95 0.95 0 1 0 -1.9 0M138.8 212.9a0.95 0.95 0 1 0 1.9 0a0.95 0.95 0 1 0 -1.9 0M137.9 212.8a0.95 0.95 0 1 0 1.9 0a0.95 0.95 0 1 0 -1.9 0M138.9 212.6a0.95 0.95 0 1 0 1.9 0a0.95 0.95 0 1 0 -1.9 0M132.9 213.1a0.95 0.95 0 1 0 1.9 0a0.95 0.95 0 1 0 -1.9 0M134.9 213.2a0.95 0.95 0 1 0 1.9 0a0.95 0.95 0 1 0 -1.9 0M137.3 214a0.95 0.95 0 1 0 1.9 0a0.95 0.95 0 1 0 -1.9 0M131.6 213.8a0.95 0.95 0 1 0 1.9 0a0.95 0.95 0 1 0 -1.9 0M138.4 214.9a0.95 0.95 0 1 0 1.9 0a0.95 0.95 0 1 0 -1.9 0M135.4 214.9a0.95 0.95 0 1 0 1.9 0a0.95 0.95 0 1 0 -1.9 0M135.5 215.1a0.95 0.95 0 1 0 1.9 0a0.95 0.95 0 1 0 -1.9 0M141.4 215.7a0.95 0.95 0 1 0 1.9 0a0.95 0.95 0 1 0 -1.9 0M141.3 216.9a0.95 0.95 0 1 0 1.9 0a0.95 0.95 0 1 0 -1.9 0M131.2 217.1a0.95 0.95 0 1 0 1.9 0a0.95 0.95 0 1 0 -1.9 0M134.1 217.2a0.95 0.95 0 1 0 1.9 0a0.95 0.95 0 1 0 -1.9 0M136.6 217.6a0.95 0.95 0 1 0 1.9 0a0.95 0.95 0 1 0 -1.9 0M130.5 218a0.95 0.95 0 1 0 1.9 0a0.95 0.95 0 1 0 -1.9 0M134 217.6a0.95 0.95 0 1 0 1.9 0a0.95 0.95 0 1 0 -1.9 0M131.2 217.8a0.95 0.95 0 1 0 1.9 0a0.95 0.95 0 1 0 -1.9 0M138.7 218.1a0.95 0.95 0 1 0 1.9 0a0.95 0.95 0 1 0 -1.9 0M135.7 218.8a0.95 0.95 0 1 0 1.9 0a0.95 0.95 0 1 0 -1.9 0M142 218.9a0.95 0.95 0 1 0 1.9 0a0.95 0.95 0 1 0 -1.9 0M131.7 219.6a0.95 0.95 0 1 0 1.9 0a0.95 0.95 0 1 0 -1.9 0M140.7 220.3a0.95 0.95 0 1 0 1.9 0a0.95 0.95 0 1 0 -1.9 0M134.4 220.2a0.95 0.95 0 1 0 1.9 0a0.95 0.95 0 1 0 -1.9 0M135.7 220.9a0.95 0.95 0 1 0 1.9 0a0.95 0.95 0 1 0 -1.9 0M139 221.8a0.95 0.95 0 1 0 1.9 0a0.95 0.95 0 1 0 -1.9 0M133.2 222.2a0.95 0.95 0 1 0 1.9 0a0.95 0.95 0 1 0 -1.9 0M131.6 222.6a0.95 0.95 0 1 0 1.9 0a0.95 0.95 0 1 0 -1.9 0M140.7 223a0.95 0.95 0 1 0 1.9 0a0.95 0.95 0 1 0 -1.9 0M138.2 222.7a0.95 0.95 0 1 0 1.9 0a0.95 0.95 0 1 0 -1.9 0M133.5 223a0.95 0.95 0 1 0 1.9 0a0.95 0.95 0 1 0 -1.9 0M132.9 223.4a0.95 0.95 0 1 0 1.9 0a0.95 0.95 0 1 0 -1.9 0M138.7 223.5a0.95 0.95 0 1 0 1.9 0a0.95 0.95 0 1 0 -1.9 0M136.3 224.3a0.95 0.95 0 1 0 1.9 0a0.95 0.95 0 1 0 -1.9 0M139.6 224.2a0.95 0.95 0 1 0 1.9 0a0.95 0.95 0 1 0 -1.9 0M133.7 224.5a0.95 0.95 0 1 0 1.9 0a0.95 0.95 0 1 0 -1.9 0M134.4 224.5a0.95 0.95 0 1 0 1.9 0a0.95 0.95 0 1 0 -1.9 0M133.9 224.6a0.95 0.95 0 1 0 1.9 0a0.95 0.95 0 1 0 -1.9 0M136.5 224.7a0.95 0.95 0 1 0 1.9 0a0.95 0.95 0 1 0 -1.9 0M132.9 225.4a0.95 0.95 0 1 0 1.9 0a0.95 0.95 0 1 0 -1.9 0M138 225.2a0.95 0.95 0 1 0 1.9 0a0.95 0.95 0 1 0 -1.9 0M134.4 225.9a0.95 0.95 0 1 0 1.9 0a0.95 0.95 0 1 0 -1.9 0M142.4 226.1a0.95 0.95 0 1 0 1.9 0a0.95 0.95 0 1 0 -1.9 0M139.7 226.4a0.95 0.95 0 1 0 1.9 0a0.95 0.95 0 1 0 -1.9 0M135.2 226.7a0.95 0.95 0 1 0 1.9 0a0.95 0.95 0 1 0 -1.9 0M136 226.9a0.95 0.95 0 1 0 1.9 0a0.95 0.95 0 1 0 -1.9 0M141.9 226.6a0.95 0.95 0 1 0 1.9 0a0.95 0.95 0 1 0 -1.9 0M134 226.7a0.95 0.95 0 1 0 1.9 0a0.95 0.95 0 1 0 -1.9 0M136.6 227a0.95 0.95 0 1 0 1.9 0a0.95 0.95 0 1 0 -1.9 0M142 227.1a0.95 0.95 0 1 0 1.9 0a0.95 0.95 0 1 0 -1.9 0M133.1 227.2a0.95 0.95 0 1 0 1.9 0a0.95 0.95 0 1 0 -1.9 0M136 227.4a0.95 0.95 0 1 0 1.9 0a0.95 0.95 0 1 0 -1.9 0M132.2 227.1a0.95 0.95 0 1 0 1.9 0a0.95 0.95 0 1 0 -1.9 0M142.8 227.4a0.95 0.95 0 1 0 1.9 0a0.95 0.95 0 1 0 -1.9 0M142.6 227.9a0.95 0.95 0 1 0 1.9 0a0.95 0.95 0 1 0 -1.9 0M138.3 227.6a0.95 0.95 0 1 0 1.9 0a0.95 0.95 0 1 0 -1.9 0M136.3 228a0.95 0.95 0 1 0 1.9 0a0.95 0.95 0 1 0 -1.9 0M137 228.7a0.95 0.95 0 1 0 1.9 0a0.95 0.95 0 1 0 -1.9 0M136.9 228.8a0.95 0.95 0 1 0 1.9 0a0.95 0.95 0 1 0 -1.9 0M142 229.3a0.95 0.95 0 1 0 1.9 0a0.95 0.95 0 1 0 -1.9 0M134.5 229.8a0.95 0.95 0 1 0 1.9 0a0.95 0.95 0 1 0 -1.9 0M135.7 229.6a0.95 0.95 0 1 0 1.9 0a0.95 0.95 0 1 0 -1.9 0M134.1 229.7a0.95 0.95 0 1 0 1.9 0a0.95 0.95 0 1 0 -1.9 0M132.9 229.8a0.95 0.95 0 1 0 1.9 0a0.95 0.95 0 1 0 -1.9 0M141.6 229.9a0.95 0.95 0 1 0 1.9 0a0.95 0.95 0 1 0 -1.9 0M134.2 229.8a0.95 0.95 0 1 0 1.9 0a0.95 0.95 0 1 0 -1.9 0M135.1 230.1a0.95 0.95 0 1 0 1.9 0a0.95 0.95 0 1 0 -1.9 0M139.3 230.7a0.95 0.95 0 1 0 1.9 0a0.95 0.95 0 1 0 -1.9 0M141.4 231.4a0.95 0.95 0 1 0 1.9 0a0.95 0.95 0 1 0 -1.9 0M141.6 231a0.95 0.95 0 1 0 1.9 0a0.95 0.95 0 1 0 -1.9 0M144.2 231.3a0.95 0.95 0 1 0 1.9 0a0.95 0.95 0 1 0 -1.9 0M139.3 231.6a0.95 0.95 0 1 0 1.9 0a0.95 0.95 0 1 0 -1.9 0M136.3 231.7a0.95 0.95 0 1 0 1.9 0a0.95 0.95 0 1 0 -1.9 0M138.6 232.1a0.95 0.95 0 1 0 1.9 0a0.95 0.95 0 1 0 -1.9 0M133.4 232.5a0.95 0.95 0 1 0 1.9 0a0.95 0.95 0 1 0 -1.9 0M134 233a0.95 0.95 0 1 0 1.9 0a0.95 0.95 0 1 0 -1.9 0M144.4 232.6a0.95 0.95 0 1 0 1.9 0a0.95 0.95 0 1 0 -1.9 0M141.3 233.4a0.95 0.95 0 1 0 1.9 0a0.95 0.95 0 1 0 -1.9 0M142.5 233.3a0.95 0.95 0 1 0 1.9 0a0.95 0.95 0 1 0 -1.9 0M139 234.4a0.95 0.95 0 1 0 1.9 0a0.95 0.95 0 1 0 -1.9 0M133.9 234.1a0.95 0.95 0 1 0 1.9 0a0.95 0.95 0 1 0 -1.9 0M137.1 234.5a0.95 0.95 0 1 0 1.9 0a0.95 0.95 0 1 0 -1.9 0M138.7 234.8a0.95 0.95 0 1 0 1.9 0a0.95 0.95 0 1 0 -1.9 0M142.2 235.1a0.95 0.95 0 1 0 1.9 0a0.95 0.95 0 1 0 -1.9 0M144.3 235.1a0.95 0.95 0 1 0 1.9 0a0.95 0.95 0 1 0 -1.9 0M140.9 235.7a0.95 0.95 0 1 0 1.9 0a0.95 0.95 0 1 0 -1.9 0M139.6 235.9a0.95 0.95 0 1 0 1.9 0a0.95 0.95 0 1 0 -1.9 0M139.4 235.7a0.95 0.95 0 1 0 1.9 0a0.95 0.95 0 1 0 -1.9 0M137.5 236.1a0.95 0.95 0 1 0 1.9 0a0.95 0.95 0 1 0 -1.9 0M137 236.4a0.95 0.95 0 1 0 1.9 0a0.95 0.95 0 1 0 -1.9 0M135.4 236.1a0.95 0.95 0 1 0 1.9 0a0.95 0.95 0 1 0 -1.9 0M138.5 236.8a0.95 0.95 0 1 0 1.9 0a0.95 0.95 0 1 0 -1.9 0M142.1 237a0.95 0.95 0 1 0 1.9 0a0.95 0.95 0 1 0 -1.9 0M137 237.5a0.95 0.95 0 1 0 1.9 0a0.95 0.95 0 1 0 -1.9 0M135 237.1a0.95 0.95 0 1 0 1.9 0a0.95 0.95 0 1 0 -1.9 0M142.1 237.3a0.95 0.95 0 1 0 1.9 0a0.95 0.95 0 1 0 -1.9 0M135.4 237.9a0.95 0.95 0 1 0 1.9 0a0.95 0.95 0 1 0 -1.9 0M135.5 237.7a0.95 0.95 0 1 0 1.9 0a0.95 0.95 0 1 0 -1.9 0M144.8 238a0.95 0.95 0 1 0 1.9 0a0.95 0.95 0 1 0 -1.9 0M139.7 238a0.95 0.95 0 1 0 1.9 0a0.95 0.95 0 1 0 -1.9 0M145.8 238a0.95 0.95 0 1 0 1.9 0a0.95 0.95 0 1 0 -1.9 0M138.2 238.1a0.95 0.95 0 1 0 1.9 0a0.95 0.95 0 1 0 -1.9 0M145.2 239.3a0.95 0.95 0 1 0 1.9 0a0.95 0.95 0 1 0 -1.9 0M144.7 240a0.95 0.95 0 1 0 1.9 0a0.95 0.95 0 1 0 -1.9 0M142 239.7a0.95 0.95 0 1 0 1.9 0a0.95 0.95 0 1 0 -1.9 0M145.3 240a0.95 0.95 0 1 0 1.9 0a0.95 0.95 0 1 0 -1.9 0M145 240.3a0.95 0.95 0 1 0 1.9 0a0.95 0.95 0 1 0 -1.9 0M145.7 240.7a0.95 0.95 0 1 0 1.9 0a0.95 0.95 0 1 0 -1.9 0M137.1 240.5a0.95 0.95 0 1 0 1.9 0a0.95 0.95 0 1 0 -1.9 0M140.3 241.5a0.95 0.95 0 1 0 1.9 0a0.95 0.95 0 1 0 -1.9 0M135 241.1a0.95 0.95 0 1 0 1.9 0a0.95 0.95 0 1 0 -1.9 0M146 241.9a0.95 0.95 0 1 0 1.9 0a0.95 0.95 0 1 0 -1.9 0M141.6 242.3a0.95 0.95 0 1 0 1.9 0a0.95 0.95 0 1 0 -1.9 0M138.6 242.6a0.95 0.95 0 1 0 1.9 0a0.95 0.95 0 1 0 -1.9 0M145.9 242.9a0.95 0.95 0 1 0 1.9 0a0.95 0.95 0 1 0 -1.9 0M139.4 243.5a0.95 0.95 0 1 0 1.9 0a0.95 0.95 0 1 0 -1.9 0M139.3 243.3a0.95 0.95 0 1 0 1.9 0a0.95 0.95 0 1 0 -1.9 0M146.4 243.1a0.95 0.95 0 1 0 1.9 0a0.95 0.95 0 1 0 -1.9 0M144 243.9a0.95 0.95 0 1 0 1.9 0a0.95 0.95 0 1 0 -1.9 0M137.9 244a0.95 0.95 0 1 0 1.9 0a0.95 0.95 0 1 0 -1.9 0M140.6 244.4a0.95 0.95 0 1 0 1.9 0a0.95 0.95 0 1 0 -1.9 0M144.6 244a0.95 0.95 0 1 0 1.9 0a0.95 0.95 0 1 0 -1.9 0M146.6 244.1a0.95 0.95 0 1 0 1.9 0a0.95 0.95 0 1 0 -1.9 0M138.9 244.4a0.95 0.95 0 1 0 1.9 0a0.95 0.95 0 1 0 -1.9 0M139.7 244.9a0.95 0.95 0 1 0 1.9 0a0.95 0.95 0 1 0 -1.9 0M144.8 244.7a0.95 0.95 0 1 0 1.9 0a0.95 0.95 0 1 0 -1.9 0M146.1 244.7a0.95 0.95 0 1 0 1.9 0a0.95 0.95 0 1 0 -1.9 0M144.4 244.8a0.95 0.95 0 1 0 1.9 0a0.95 0.95 0 1 0 -1.9 0M136.9 245.5a0.95 0.95 0 1 0 1.9 0a0.95 0.95 0 1 0 -1.9 0M147 245a0.95 0.95 0 1 0 1.9 0a0.95 0.95 0 1 0 -1.9 0M146.8 245.3a0.95 0.95 0 1 0 1.9 0a0.95 0.95 0 1 0 -1.9 0M140.8 245.9a0.95 0.95 0 1 0 1.9 0a0.95 0.95 0 1 0 -1.9 0M145.5 246.3a0.95 0.95 0 1 0 1.9 0a0.95 0.95 0 1 0 -1.9 0M146.5 246.1a0.95 0.95 0 1 0 1.9 0a0.95 0.95 0 1 0 -1.9 0M139.8 246.5a0.95 0.95 0 1 0 1.9 0a0.95 0.95 0 1 0 -1.9 0M138.6 246.7a0.95 0.95 0 1 0 1.9 0a0.95 0.95 0 1 0 -1.9 0M137.1 246.9a0.95 0.95 0 1 0 1.9 0a0.95 0.95 0 1 0 -1.9 0M140.2 247.4a0.95 0.95 0 1 0 1.9 0a0.95 0.95 0 1 0 -1.9 0M141.5 247.3a0.95 0.95 0 1 0 1.9 0a0.95 0.95 0 1 0 -1.9 0M142.2 247.8a0.95 0.95 0 1 0 1.9 0a0.95 0.95 0 1 0 -1.9 0M137 248a0.95 0.95 0 1 0 1.9 0a0.95 0.95 0 1 0 -1.9 0M141.9 247.6a0.95 0.95 0 1 0 1.9 0a0.95 0.95 0 1 0 -1.9 0M142.3 248.4a0.95 0.95 0 1 0 1.9 0a0.95 0.95 0 1 0 -1.9 0M146.9 248.3a0.95 0.95 0 1 0 1.9 0a0.95 0.95 0 1 0 -1.9 0M143.2 248.2a0.95 0.95 0 1 0 1.9 0a0.95 0.95 0 1 0 -1.9 0M142.9 248.3a0.95 0.95 0 1 0 1.9 0a0.95 0.95 0 1 0 -1.9 0M145.3 248.7a0.95 0.95 0 1 0 1.9 0a0.95 0.95 0 1 0 -1.9 0M145.1 248.6a0.95 0.95 0 1 0 1.9 0a0.95 0.95 0 1 0 -1.9 0M141.7 248.9a0.95 0.95 0 1 0 1.9 0a0.95 0.95 0 1 0 -1.9 0M136.6 248.6a0.95 0.95 0 1 0 1.9 0a0.95 0.95 0 1 0 -1.9 0M146 249.1a0.95 0.95 0 1 0 1.9 0a0.95 0.95 0 1 0 -1.9 0M139.9 249.3a0.95 0.95 0 1 0 1.9 0a0.95 0.95 0 1 0 -1.9 0M143.9 249.7a0.95 0.95 0 1 0 1.9 0a0.95 0.95 0 1 0 -1.9 0M145.5 249.9a0.95 0.95 0 1 0 1.9 0a0.95 0.95 0 1 0 -1.9 0M142 250a0.95 0.95 0 1 0 1.9 0a0.95 0.95 0 1 0 -1.9 0M137.9 249.6a0.95 0.95 0 1 0 1.9 0a0.95 0.95 0 1 0 -1.9 0M138.2 250.4a0.95 0.95 0 1 0 1.9 0a0.95 0.95 0 1 0 -1.9 0M145.2 250.1a0.95 0.95 0 1 0 1.9 0a0.95 0.95 0 1 0 -1.9 0M139.5 250.4a0.95 0.95 0 1 0 1.9 0a0.95 0.95 0 1 0 -1.9 0M138.6 250.7a0.95 0.95 0 1 0 1.9 0a0.95 0.95 0 1 0 -1.9 0M139.2 250.6a0.95 0.95 0 1 0 1.9 0a0.95 0.95 0 1 0 -1.9 0M141 250.5a0.95 0.95 0 1 0 1.9 0a0.95 0.95 0 1 0 -1.9 0M142 250.8a0.95 0.95 0 1 0 1.9 0a0.95 0.95 0 1 0 -1.9 0M139.9 251.3a0.95 0.95 0 1 0 1.9 0a0.95 0.95 0 1 0 -1.9 0M148.2 251.3a0.95 0.95 0 1 0 1.9 0a0.95 0.95 0 1 0 -1.9 0M142.5 251.4a0.95 0.95 0 1 0 1.9 0a0.95 0.95 0 1 0 -1.9 0M140.2 251.4a0.95 0.95 0 1 0 1.9 0a0.95 0.95 0 1 0 -1.9 0M136.7 251.1a0.95 0.95 0 1 0 1.9 0a0.95 0.95 0 1 0 -1.9 0M138.6 251.1a0.95 0.95 0 1 0 1.9 0a0.95 0.95 0 1 0 -1.9 0M140.1 251.8a0.95 0.95 0 1 0 1.9 0a0.95 0.95 0 1 0 -1.9 0M146.8 252.1a0.95 0.95 0 1 0 1.9 0a0.95 0.95 0 1 0 -1.9 0M137.3 252.1a0.95 0.95 0 1 0 1.9 0a0.95 0.95 0 1 0 -1.9 0M142.4 252.5a0.95 0.95 0 1 0 1.9 0a0.95 0.95 0 1 0 -1.9 0M140.6 252.5a0.95 0.95 0 1 0 1.9 0a0.95 0.95 0 1 0 -1.9 0M138.9 252.9a0.95 0.95 0 1 0 1.9 0a0.95 0.95 0 1 0 -1.9 0M144.2 252.9a0.95 0.95 0 1 0 1.9 0a0.95 0.95 0 1 0 -1.9 0M137 253a0.95 0.95 0 1 0 1.9 0a0.95 0.95 0 1 0 -1.9 0M146.5 253.3a0.95 0.95 0 1 0 1.9 0a0.95 0.95 0 1 0 -1.9 0M144.7 253.1a0.95 0.95 0 1 0 1.9 0a0.95 0.95 0 1 0 -1.9 0M143.9 253.2a0.95 0.95 0 1 0 1.9 0a0.95 0.95 0 1 0 -1.9 0M139.8 254.4a0.95 0.95 0 1 0 1.9 0a0.95 0.95 0 1 0 -1.9 0M148.9 254.7a0.95 0.95 0 1 0 1.9 0a0.95 0.95 0 1 0 -1.9 0M139.2 255.2a0.95 0.95 0 1 0 1.9 0a0.95 0.95 0 1 0 -1.9 0M147 256a0.95 0.95 0 1 0 1.9 0a0.95 0.95 0 1 0 -1.9 0M138.9 256.2a0.95 0.95 0 1 0 1.9 0a0.95 0.95 0 1 0 -1.9 0M147.3 256a0.95 0.95 0 1 0 1.9 0a0.95 0.95 0 1 0 -1.9 0M137.5 256.9a0.95 0.95 0 1 0 1.9 0a0.95 0.95 0 1 0 -1.9 0M145.1 256.7a0.95 0.95 0 1 0 1.9 0a0.95 0.95 0 1 0 -1.9 0M138.1 257.3a0.95 0.95 0 1 0 1.9 0a0.95 0.95 0 1 0 -1.9 0M137.7 257.1a0.95 0.95 0 1 0 1.9 0a0.95 0.95 0 1 0 -1.9 0M145.5 257.6a0.95 0.95 0 1 0 1.9 0a0.95 0.95 0 1 0 -1.9 0M140.1 257.7a0.95 0.95 0 1 0 1.9 0a0.95 0.95 0 1 0 -1.9 0M138.1 257.6a0.95 0.95 0 1 0 1.9 0a0.95 0.95 0 1 0 -1.9 0M144.9 257.9a0.95 0.95 0 1 0 1.9 0a0.95 0.95 0 1 0 -1.9 0M141.3 257.7a0.95 0.95 0 1 0 1.9 0a0.95 0.95 0 1 0 -1.9 0M148.6 258a0.95 0.95 0 1 0 1.9 0a0.95 0.95 0 1 0 -1.9 0M148.3 258.5a0.95 0.95 0 1 0 1.9 0a0.95 0.95 0 1 0 -1.9 0M144.7 258.9a0.95 0.95 0 1 0 1.9 0a0.95 0.95 0 1 0 -1.9 0M138 258.7a0.95 0.95 0 1 0 1.9 0a0.95 0.95 0 1 0 -1.9 0M136.9 258.9a0.95 0.95 0 1 0 1.9 0a0.95 0.95 0 1 0 -1.9 0M146.7 258.5a0.95 0.95 0 1 0 1.9 0a0.95 0.95 0 1 0 -1.9 0M143.4 259.3a0.95 0.95 0 1 0 1.9 0a0.95 0.95 0 1 0 -1.9 0M141 259.3a0.95 0.95 0 1 0 1.9 0a0.95 0.95 0 1 0 -1.9 0M138.2 259.9a0.95 0.95 0 1 0 1.9 0a0.95 0.95 0 1 0 -1.9 0M146.3 259.9a0.95 0.95 0 1 0 1.9 0a0.95 0.95 0 1 0 -1.9 0M144.2 259.8a0.95 0.95 0 1 0 1.9 0a0.95 0.95 0 1 0 -1.9 0M142.8 260.3a0.95 0.95 0 1 0 1.9 0a0.95 0.95 0 1 0 -1.9 0M139.5 260a0.95 0.95 0 1 0 1.9 0a0.95 0.95 0 1 0 -1.9 0M137.8 260.1a0.95 0.95 0 1 0 1.9 0a0.95 0.95 0 1 0 -1.9 0M142.8 260.9a0.95 0.95 0 1 0 1.9 0a0.95 0.95 0 1 0 -1.9 0M143.4 260.8a0.95 0.95 0 1 0 1.9 0a0.95 0.95 0 1 0 -1.9 0M141.6 260.6a0.95 0.95 0 1 0 1.9 0a0.95 0.95 0 1 0 -1.9 0M144.9 260.7a0.95 0.95 0 1 0 1.9 0a0.95 0.95 0 1 0 -1.9 0M145.9 261.2a0.95 0.95 0 1 0 1.9 0a0.95 0.95 0 1 0 -1.9 0M143.1 262a0.95 0.95 0 1 0 1.9 0a0.95 0.95 0 1 0 -1.9 0M146.2 261.9a0.95 0.95 0 1 0 1.9 0a0.95 0.95 0 1 0 -1.9 0M141.2 261.9a0.95 0.95 0 1 0 1.9 0a0.95 0.95 0 1 0 -1.9 0M138.4 262.5a0.95 0.95 0 1 0 1.9 0a0.95 0.95 0 1 0 -1.9 0M147.4 262.1a0.95 0.95 0 1 0 1.9 0a0.95 0.95 0 1 0 -1.9 0M140 262.3a0.95 0.95 0 1 0 1.9 0a0.95 0.95 0 1 0 -1.9 0M146.9 262.1a0.95 0.95 0 1 0 1.9 0a0.95 0.95 0 1 0 -1.9 0M149.5 262.2a0.95 0.95 0 1 0 1.9 0a0.95 0.95 0 1 0 -1.9 0M150 262.4a0.95 0.95 0 1 0 1.9 0a0.95 0.95 0 1 0 -1.9 0M137.9 262.8a0.95 0.95 0 1 0 1.9 0a0.95 0.95 0 1 0 -1.9 0M147.1 263a0.95 0.95 0 1 0 1.9 0a0.95 0.95 0 1 0 -1.9 0M138.8 263.4a0.95 0.95 0 1 0 1.9 0a0.95 0.95 0 1 0 -1.9 0M146.2 263.4a0.95 0.95 0 1 0 1.9 0a0.95 0.95 0 1 0 -1.9 0M148 263.3a0.95 0.95 0 1 0 1.9 0a0.95 0.95 0 1 0 -1.9 0M143.6 263.2a0.95 0.95 0 1 0 1.9 0a0.95 0.95 0 1 0 -1.9 0M139.2 263.6a0.95 0.95 0 1 0 1.9 0a0.95 0.95 0 1 0 -1.9 0M144.5 263.6a0.95 0.95 0 1 0 1.9 0a0.95 0.95 0 1 0 -1.9 0M140 263.5a0.95 0.95 0 1 0 1.9 0a0.95 0.95 0 1 0 -1.9 0M141.1 263.9a0.95 0.95 0 1 0 1.9 0a0.95 0.95 0 1 0 -1.9 0M140.8 265a0.95 0.95 0 1 0 1.9 0a0.95 0.95 0 1 0 -1.9 0M150.3 264.9a0.95 0.95 0 1 0 1.9 0a0.95 0.95 0 1 0 -1.9 0M139.1 265.2a0.95 0.95 0 1 0 1.9 0a0.95 0.95 0 1 0 -1.9 0M149.4 265.4a0.95 0.95 0 1 0 1.9 0a0.95 0.95 0 1 0 -1.9 0M149.2 266a0.95 0.95 0 1 0 1.9 0a0.95 0.95 0 1 0 -1.9 0M146.4 266.2a0.95 0.95 0 1 0 1.9 0a0.95 0.95 0 1 0 -1.9 0M141.7 266.1a0.95 0.95 0 1 0 1.9 0a0.95 0.95 0 1 0 -1.9 0M140.4 267a0.95 0.95 0 1 0 1.9 0a0.95 0.95 0 1 0 -1.9 0M146.2 267.9a0.95 0.95 0 1 0 1.9 0a0.95 0.95 0 1 0 -1.9 0M147.1 267.7a0.95 0.95 0 1 0 1.9 0a0.95 0.95 0 1 0 -1.9 0M150.4 267.9a0.95 0.95 0 1 0 1.9 0a0.95 0.95 0 1 0 -1.9 0M144.9 267.8a0.95 0.95 0 1 0 1.9 0a0.95 0.95 0 1 0 -1.9 0M123 193a0.95 0.95 0 1 0 1.9 0a0.95 0.95 0 1 0 -1.9 0M123 196a0.95 0.95 0 1 0 1.9 0a0.95 0.95 0 1 0 -1.9 0M123 199a0.95 0.95 0 1 0 1.9 0a0.95 0.95 0 1 0 -1.9 0M123.2 202a0.95 0.95 0 1 0 1.9 0a0.95 0.95 0 1 0 -1.9 0M123.5 205a0.95 0.95 0 1 0 1.9 0a0.95 0.95 0 1 0 -1.9 0M123.6 208a0.95 0.95 0 1 0 1.9 0a0.95 0.95 0 1 0 -1.9 0M123.5 165.9a0.95 0.95 0 1 0 1.9 0a0.95 0.95 0 1 0 -1.9 0M127.5 165.9a0.95 0.95 0 1 0 1.9 0a0.95 0.95 0 1 0 -1.9 0M120.5 170.6a0.95 0.95 0 1 0 1.9 0a0.95 0.95 0 1 0 -1.9 0M127 171.4a0.95 0.95 0 1 0 1.9 0a0.95 0.95 0 1 0 -1.9 0M119.2 174.2a0.95 0.95 0 1 0 1.9 0a0.95 0.95 0 1 0 -1.9 0M121.5 177.6a0.95 0.95 0 1 0 1.9 0a0.95 0.95 0 1 0 -1.9 0M125.2 177.2a0.95 0.95 0 1 0 1.9 0a0.95 0.95 0 1 0 -1.9 0M130.7 177a0.95 0.95 0 1 0 1.9 0a0.95 0.95 0 1 0 -1.9 0M115.8 137.8a0.95 0.95 0 1 0 1.9 0a0.95 0.95 0 1 0 -1.9 0M115.8 139.5a0.95 0.95 0 1 0 1.9 0a0.95 0.95 0 1 0 -1.9 0M116 141a0.95 0.95 0 1 0 1.9 0a0.95 0.95 0 1 0 -1.9 0M116 143a0.95 0.95 0 1 0 1.9 0a0.95 0.95 0 1 0 -1.9 0M116.2 146.4a0.95 0.95 0 1 0 1.9 0a0.95 0.95 0 1 0 -1.9 0M121.3 142a0.95 0.95 0 1 0 1.9 0a0.95 0.95 0 1 0 -1.9 0M119.2 128.4a0.95 0.95 0 1 0 1.9 0a0.95 0.95 0 1 0 -1.9 0M112 260a0.95 0.95 0 1 0 1.9 0a0.95 0.95 0 1 0 -1.9 0M125 223a0.95 0.95 0 1 0 1.9 0a0.95 0.95 0 1 0 -1.9 0M127.5 217a0.95 0.95 0 1 0 1.9 0a0.95 0.95 0 1 0 -1.9 0M140.6 204a0.95 0.95 0 1 0 1.9 0a0.95 0.95 0 1 0 -1.9 0M124 190.5a0.95 0.95 0 1 0 1.9 0a0.95 0.95 0 1 0 -1.9 0M128.1 191a0.95 0.95 0 1 0 1.9 0a0.95 0.95 0 1 0 -1.9 0"/>
<path fill="#23791f" d="M159.3 267.5 L161.5 265 L165 250 L169 220 L171.5 190 L174 183 L180 183 L181 190 L180 220 L179 250 L178 265 L178 267.5Z" />
<path fill="#23791f" stroke="#17521a" stroke-width="0.3" d="M181.4 180.6a0.95 0.95 0 1 0 1.9 0a0.95 0.95 0 1 0 -1.9 0M176.9 180.6a0.95 0.95 0 1 0 1.9 0a0.95 0.95 0 1 0 -1.9 0M173.4 180.9a0.95 0.95 0 1 0 1.9 0a0.95 0.95 0 1 0 -1.9 0M179.9 181.5a0.95 0.95 0 1 0 1.9 0a0.95 0.95 0 1 0 -1.9 0M178.3 182.5a0.95 0.95 0 1 0 1.9 0a0.95 0.95 0 1 0 -1.9 0M171.5 182.3a0.95 0.95 0 1 0 1.9 0a0.95 0.95 0 1 0 -1.9 0M172 182.9a0.95 0.95 0 1 0 1.9 0a0.95 0.95 0 1 0 -1.9 0M177.3 182.6a0.95 0.95 0 1 0 1.9 0a0.95 0.95 0 1 0 -1.9 0M171.2 182.8a0.95 0.95 0 1 0 1.9 0a0.95 0.95 0 1 0 -1.9 0M171.9 183.7a0.95 0.95 0 1 0 1.9 0a0.95 0.95 0 1 0 -1.9 0M172 183.9a0.95 0.95 0 1 0 1.9 0a0.95 0.95 0 1 0 -1.9 0M180.7 184.3a0.95 0.95 0 1 0 1.9 0a0.95 0.95 0 1 0 -1.9 0M180.5 184.6a0.95 0.95 0 1 0 1.9 0a0.95 0.95 0 1 0 -1.9 0M180.9 184.5a0.95 0.95 0 1 0 1.9 0a0.95 0.95 0 1 0 -1.9 0M177.3 185a0.95 0.95 0 1 0 1.9 0a0.95 0.95 0 1 0 -1.9 0M173 185.1a0.95 0.95 0 1 0 1.9 0a0.95 0.95 0 1 0 -1.9 0M175.8 185.7a0.95 0.95 0 1 0 1.9 0a0.95 0.95 0 1 0 -1.9 0M177.3 186.4a0.95 0.95 0 1 0 1.9 0a0.95 0.95 0 1 0 -1.9 0M179.1 186.1a0.95 0.95 0 1 0 1.9 0a0.95 0.95 0 1 0 -1.9 0M170.4 187.5a0.95 0.95 0 1 0 1.9 0a0.95 0.95 0 1 0 -1.9 0M178.4 187.8a0.95 0.95 0 1 0 1.9 0a0.95 0.95 0 1 0 -1.9 0M172 188a0.95 0.95 0 1 0 1.9 0a0.95 0.95 0 1 0 -1.9 0M177.2 188.1a0.95 0.95 0 1 0 1.9 0a0.95 0.95 0 1 0 -1.9 0M176.8 188a0.95 0.95 0 1 0 1.9 0a0.95 0.95 0 1 0 -1.9 0M170.1 188.4a0.95 0.95 0 1 0 1.9 0a0.95 0.95 0 1 0 -1.9 0M173.8 188.3a0.95 0.95 0 1 0 1.9 0a0.95 0.95 0 1 0 -1.9 0M172.9 188.7a0.95 0.95 0 1 0 1.9 0a0.95 0.95 0 1 0 -1.9 0M172.7 188.6a0.95 0.95 0 1 0 1.9 0a0.95 0.95 0 1 0 -1.9 0M179.6 188.5a0.95 0.95 0 1 0 1.9 0a0.95 0.95 0 1 0 -1.9 0M171.9 188.9a0.95 0.95 0 1 0 1.9 0a0.95 0.95 0 1 0 -1.9 0M172.4 188.6a0.95 0.95 0 1 0 1.9 0a0.95 0.95 0 1 0 -1.9 0M180.7 188.9a0.95 0.95 0 1 0 1.9 0a0.95 0.95 0 1 0 -1.9 0M174.9 188.6a0.95 0.95 0 1 0 1.9 0a0.95 0.95 0 1 0 -1.9 0M177.7 189.2a0.95 0.95 0 1 0 1.9 0a0.95 0.95 0 1 0 -1.9 0M177.9 189.1a0.95 0.95 0 1 0 1.9 0a0.95 0.95 0 1 0 -1.9 0M171.2 189a0.95 0.95 0 1 0 1.9 0a0.95 0.95 0 1 0 -1.9 0M171.9 189.7a0.95 0.95 0 1 0 1.9 0a0.95 0.95 0 1 0 -1.9 0M179.9 190a0.95 0.95 0 1 0 1.9 0a0.95 0.95 0 1 0 -1.9 0M174.7 189.9a0.95 0.95 0 1 0 1.9 0a0.95 0.95 0 1 0 -1.9 0M180.3 190a0.95 0.95 0 1 0 1.9 0a0.95 0.95 0 1 0 -1.9 0M174.9 190.2a0.95 0.95 0 1 0 1.9 0a0.95 0.95 0 1 0 -1.9 0M172.8 190a0.95 0.95 0 1 0 1.9 0a0.95 0.95 0 1 0 -1.9 0M172.2 190.8a0.95 0.95 0 1 0 1.9 0a0.95 0.95 0 1 0 -1.9 0M180.3 190.7a0.95 0.95 0 1 0 1.9 0a0.95 0.95 0 1 0 -1.9 0M171.8 190.8a0.95 0.95 0 1 0 1.9 0a0.95 0.95 0 1 0 -1.9 0M179.5 191.4a0.95 0.95 0 1 0 1.9 0a0.95 0.95 0 1 0 -1.9 0M179.3 191.2a0.95 0.95 0 1 0 1.9 0a0.95 0.95 0 1 0 -1.9 0M172.8 191.1a0.95 0.95 0 1 0 1.9 0a0.95 0.95 0 1 0 -1.9 0M179.5 191.5a0.95 0.95 0 1 0 1.9 0a0.95 0.95 0 1 0 -1.9 0M174.6 191.8a0.95 0.95 0 1 0 1.9 0a0.95 0.95 0 1 0 -1.9 0M172 191.6a0.95 0.95 0 1 0 1.9 0a0.95 0.95 0 1 0 -1.9 0M175.4 192.1a0.95 0.95 0 1 0 1.9 0a0.95 0.95 0 1 0 -1.9 0M176.8 192.6a0.95 0.95 0 1 0 1.9 0a0.95 0.95 0 1 0 -1.9 0M174.1 192.8a0.95 0.95 0 1 0 1.9 0a0.95 0.95 0 1 0 -1.9 0M179 193.3a0.95 0.95 0 1 0 1.9 0a0.95 0.95 0 1 0 -1.9 0M177.2 193.1a0.95 0.95 0 1 0 1.9 0a0.95 0.95 0 1 0 -1.9 0M174.8 193.3a0.95 0.95 0 1 0 1.9 0a0.95 0.95 0 1 0 -1.9 0M175.9 193.8a0.95 0.95 0 1 0 1.9 0a0.95 0.95 0 1 0 -1.9 0M179.2 193.7a0.95 0.95 0 1 0 1.9 0a0.95 0.95 0 1 0 -1.9 0M180 193.9a0.95 0.95 0 1 0 1.9 0a0.95 0.95 0 1 0 -1.9 0M178.1 194.4a0.95 0.95 0 1 0 1.9 0a0.95 0.95 0 1 0 -1.9 0M171.1 194.4a0.95 0.95 0 1 0 1.9 0a0.95 0.95 0 1 0 -1.9 0M177.3 194a0.95 0.95 0 1 0 1.9 0a0.95 0.95 0 1 0 -1.9 0M169.5 194.9a0.95 0.95 0 1 0 1.9 0a0.95 0.95 0 1 0 -1.9 0M173.1 194.8a0.95 0.95 0 1 0 1.9 0a0.95 0.95 0 1 0 -1.9 0M173.8 195.4a0.95 0.95 0 1 0 1.9 0a0.95 0.95 0 1 0 -1.9 0M169.8 195.9a0.95 0.95 0 1 0 1.9 0a0.95 0.95 0 1 0 -1.9 0M180.1 195.8a0.95 0.95 0 1 0 1.9 0a0.95 0.95 0 1 0 -1.9 0M174.8 196.1a0.95 0.95 0 1 0 1.9 0a0.95 0.95 0 1 0 -1.9 0M174.1 196.3a0.95 0.95 0 1 0 1.9 0a0.95 0.95 0 1 0 -1.9 0M169.4 196.2a0.95 0.95 0 1 0 1.9 0a0.95 0.95 0 1 0 -1.9 0M172.4 196.3a0.95 0.95 0 1 0 1.9 0a0.95 0.95 0 1 0 -1.9 0M173.5 196.9a0.95 0.95 0 1 0 1.9 0a0.95 0.95 0 1 0 -1.9 0M180.2 196.6a0.95 0.95 0 1 0 1.9 0a0.95 0.95 0 1 0 -1.9 0M169.1 197a0.95 0.95 0 1 0 1.9 0a0.95 0.95 0 1 0 -1.9 0M179.2 196.8a0.95 0.95 0 1 0 1.9 0a0.95 0.95 0 1 0 -1.9 0M174.2 197.3a0.95 0.95 0 1 0 1.9 0a0.95 0.95 0 1 0 -1.9 0M171.5 197.4a0.95 0.95 0 1 0 1.9 0a0.95 0.95 0 1 0 -1.9 0M172.1 197.4a0.95 0.95 0 1 0 1.9 0a0.95 0.95 0 1 0 -1.9 0M170.3 197.9a0.95 0.95 0 1 0 1.9 0a0.95 0.95 0 1 0 -1.9 0M180.1 197.8a0.95 0.95 0 1 0 1.9 0a0.95 0.95 0 1 0 -1.9 0M179.8 197.5a0.95 0.95 0 1 0 1.9 0a0.95 0.95 0 1 0 -1.9 0M179.5 197.9a0.95 0.95 0 1 0 1.9 0a0.95 0.95 0 1 0 -1.9 0M176.4 197.7a0.95 0.95 0 1 0 1.9 0a0.95 0.95 0 1 0 -1.9 0M177.1 198.3a0.95 0.95 0 1 0 1.9 0a0.95 0.95 0 1 0 -1.9 0M172 198a0.95 0.95 0 1 0 1.9 0a0.95 0.95 0 1 0 -1.9 0M169.7 198.6a0.95 0.95 0 1 0 1.9 0a0.95 0.95 0 1 0 -1.9 0M175 198.8a0.95 0.95 0 1 0 1.9 0a0.95 0.95 0 1 0 -1.9 0M180.2 199.1a0.95 0.95 0 1 0 1.9 0a0.95 0.95 0 1 0 -1.9 0M176.2 199.1a0.95 0.95 0 1 0 1.9 0a0.95 0.95 0 1 0 -1.9 0M178.6 199.1a0.95 0.95 0 1 0 1.9 0a0.95 0.95 0 1 0 -1.9 0M173.8 199.1a0.95 0.95 0 1 0 1.9 0a0.95 0.95 0 1 0 -1.9 0M179.1 199.3a0.95 0.95 0 1 0 1.9 0a0.95 0.95 0 1 0 -1.9 0M179 199.9a0.95 0.95 0 1 0 1.9 0a0.95 0.95 0 1 0 -1.9 0M177.6 200a0.95 0.95 0 1 0 1.9 0a0.95 0.95 0 1 0 -1.9 0M176 200.1a0.95 0.95 0 1 0 1.9 0a0.95 0.95 0 1 0 -1.9 0M179.8 200.9a0.95 0.95 0 1 0 1.9 0a0.95 0.95 0 1 0 -1.9 0M173.7 200.9a0.95 0.95 0 1 0 1.9 0a0.95 0.95 0 1 0 -1.9 0M171.9 201.3a0.95 0.95 0 1 0 1.9 0a0.95 0.95 0 1 0 -1.9 0M173.2 201.2a0.95 0.95 0 1 0 1.9 0a0.95 0.95 0 1 0 -1.9 0M173.5 201.1a0.95 0.95 0 1 0 1.9 0a0.95 0.95 0 1 0 -1.9 0M169.8 201a0.95 0.95 0 1 0 1.9 0a0.95 0.95 0 1 0 -1.9 0M176.7 201.2a0.95 0.95 0 1 0 1.9 0a0.95 0.95 0 1 0 -1.9 0M173.2 202a0.95 0.95 0 1 0 1.9 0a0.95 0.95 0 1 0 -1.9 0M174.2 202a0.95 0.95 0 1 0 1.9 0a0.95 0.95 0 1 0 -1.9 0M170.8 201.5a0.95 0.95 0 1 0 1.9 0a0.95 0.95 0 1 0 -1.9 0M179.4 201.7a0.95 0.95 0 1 0 1.9 0a0.95 0.95 0 1 0 -1.9 0M174.7 202a0.95 0.95 0 1 0 1.9 0a0.95 0.95 0 1 0 -1.9 0M171.2 202a0.95 0.95 0 1 0 1.9 0a0.95 0.95 0 1 0 -1.9 0M171.4 202.3a0.95 0.95 0 1 0 1.9 0a0.95 0.95 0 1 0 -1.9 0M169 202.6a0.95 0.95 0 1 0 1.9 0a0.95 0.95 0 1 0 -1.9 0M175.9 202.9a0.95 0.95 0 1 0 1.9 0a0.95 0.95 0 1 0 -1.9 0M171.5 203.5a0.95 0.95 0 1 0 1.9 0a0.95 0.95 0 1 0 -1.9 0M172.5 203.5a0.95 0.95 0 1 0 1.9 0a0.95 0.95 0 1 0 -1.9 0M174.4 203.1a0.95 0.95 0 1 0 1.9 0a0.95 0.95 0 1 0 -1.9 0M173.7 204.2a0.95 0.95 0 1 0 1.9 0a0.95 0.95 0 1 0 -1.9 0M171.6 205a0.95 0.95 0 1 0 1.9 0a0.95 0.95 0 1 0 -1.9 0M168.7 204.9a0.95 0.95 0 1 0 1.9 0a0.95 0.95 0 1 0 -1.9 0M172.8 205.3a0.95 0.95 0 1 0 1.9 0a0.95 0.95 0 1 0 -1.9 0M179.4 205.2a0.95 0.95 0 1 0 1.9 0a0.95 0.95 0 1 0 -1.9 0M175.5 206.9a0.95 0.95 0 1 0 1.9 0a0.95 0.95 0 1 0 -1.9 0M175.6 206.6a0.95 0.95 0 1 0 1.9 0a0.95 0.95 0 1 0 -1.9 0M168.3 207.5a0.95 0.95 0 1 0 1.9 0a0.95 0.95 0 1 0 -1.9 0M179 208a0.95 0.95 0 1 0 1.9 0a0.95 0.95 0 1 0 -1.9 0M174.6 208.3a0.95 0.95 0 1 0 1.9 0a0.95 0.95 0 1 0 -1.9 0M178.9 208.5a0.95 0.95 0 1 0 1.9 0a0.95 0.95 0 1 0 -1.9 0M174.5 208.5a0.95 0.95 0 1 0 1.9 0a0.95 0.95 0 1 0 -1.9 0M169.4 208.6a0.95 0.95 0 1 0 1.9 0a0.95 0.95 0 1 0 -1.9 0M171.8 208.7a0.95 0.95 0 1 0 1.9 0a0.95 0.95 0 1 0 -1.9 0M169.4 209.3a0.95 0.95 0 1 0 1.9 0a0.95 0.95 0 1 0 -1.9 0M177.2 209.5a0.95 0.95 0 1 0 1.9 0a0.95 0.95 0 1 0 -1.9 0M170.6 209.9a0.95 0.95 0 1 0 1.9 0a0.95 0.95 0 1 0 -1.9 0M170.3 209.8a0.95 0.95 0 1 0 1.9 0a0.95 0.95 0 1 0 -1.9 0M171.2 209.7a0.95 0.95 0 1 0 1.9 0a0.95 0.95 0 1 0 -1.9 0M177.9 210.3a0.95 0.95 0 1 0 1.9 0a0.95 0.95 0 1 0 -1.9 0M173.4 210.4a0.95 0.95 0 1 0 1.9 0a0.95 0.95 0 1 0 -1.9 0M176.5 210.5a0.95 0.95 0 1 0 1.9 0a0.95 0.95 0 1 0 -1.9 0M173.8 210.8a0.95 0.95 0 1 0 1.9 0a0.95 0.95 0 1 0 -1.9 0M168.6 210.9a0.95 0.95 0 1 0 1.9 0a0.95 0.95 0 1 0 -1.9 0M176.8 211a0.95 0.95 0 1 0 1.9 0a0.95 0.95 0 1 0 -1.9 0M172.5 210.7a0.95 0.95 0 1 0 1.9 0a0.95 0.95 0 1 0 -1.9 0M179.3 210.7a0.95 0.95 0 1 0 1.9 0a0.95 0.95 0 1 0 -1.9 0M171.3 211.1a0.95 0.95 0 1 0 1.9 0a0.95 0.95 0 1 0 -1.9 0M173.2 211.1a0.95 0.95 0 1 0 1.9 0a0.95 0.95 0 1 0 -1.9 0M168.4 211.5a0.95 0.95 0 1 0 1.9 0a0.95 0.95 0 1 0 -1.9 0M179.5 211.5a0.95 0.95 0 1 0 1.9 0a0.95 0.95 0 1 0 -1.9 0M170.8 212.3a0.95 0.95 0 1 0 1.9 0a0.95 0.95 0 1 0 -1.9 0M167.9 212.4a0.95 0.95 0 1 0 1.9 0a0.95 0.95 0 1 0 -1.9 0M170.3 212.8a0.95 0.95 0 1 0 1.9 0a0.95 0.95 0 1 0 -1.9 0M173.5 213.5a0.95 0.95 0 1 0 1.9 0a0.95 0.95 0 1 0 -1.9 0M174.4 213.4a0.95 0.95 0 1 0 1.9 0a0.95 0.95 0 1 0 -1.9 0M173.8 213.9a0.95 0.95 0 1 0 1.9 0a0.95 0.95 0 1 0 -1.9 0M169.9 213.7a0.95 0.95 0 1 0 1.9 0a0.95 0.95 0 1 0 -1.9 0M178.7 213.7a0.95 0.95 0 1 0 1.9 0a0.95 0.95 0 1 0 -1.9 0M177.2 214.3a0.95 0.95 0 1 0 1.9 0a0.95 0.95 0 1 0 -1.9 0M171.2 214.4a0.95 0.95 0 1 0 1.9 0a0.95 0.95 0 1 0 -1.9 0M173.7 214a0.95 0.95 0 1 0 1.9 0a0.95 0.95 0 1 0 -1.9 0M177.9 215a0.95 0.95 0 1 0 1.9 0a0.95 0.95 0 1 0 -1.9 0M177.9 216.5a0.95 0.95 0 1 0 1.9 0a0.95 0.95 0 1 0 -1.9 0M179.8 216.4a0.95 0.95 0 1 0 1.9 0a0.95 0.95 0 1 0 -1.9 0M179.6 217a0.95 0.95 0 1 0 1.9 0a0.95 0.95 0 1 0 -1.9 0M170.7 217.6a0.95 0.95 0 1 0 1.9 0a0.95 0.95 0 1 0 -1.9 0M170.3 217.6a0.95 0.95 0 1 0 1.9 0a0.95 0.95 0 1 0 -1.9 0M179.5 218.2a0.95 0.95 0 1 0 1.9 0a0.95 0.95 0 1 0 -1.9 0M178.6 218.2a0.95 0.95 0 1 0 1.9 0a0.95 0.95 0 1 0 -1.9 0M175.7 218.4a0.95 0.95 0 1 0 1.9 0a0.95 0.95 0 1 0 -1.9 0M168.6 218.8a0.95 0.95 0 1 0 1.9 0a0.95 0.95 0 1 0 -1.9 0M168.4 218.6a0.95 0.95 0 1 0 1.9 0a0.95 0.95 0 1 0 -1.9 0M173.8 219.2a0.95 0.95 0 1 0 1.9 0a0.95 0.95 0 1 0 -1.9 0M172 219.4a0.95 0.95 0 1 0 1.9 0a0.95 0.95 0 1 0 -1.9 0M176.3 219.3a0.95 0.95 0 1 0 1.9 0a0.95 0.95 0 1 0 -1.9 0M175.2 219.3a0.95 0.95 0 1 0 1.9 0a0.95 0.95 0 1 0 -1.9 0M173 219.9a0.95 0.95 0 1 0 1.9 0a0.95 0.95 0 1 0 -1.9 0M170.9 219.8a0.95 0.95 0 1 0 1.9 0a0.95 0.95 0 1 0 -1.9 0M167.8 219.6a0.95 0.95 0 1 0 1.9 0a0.95 0.95 0 1 0 -1.9 0M172.3 219.5a0.95 0.95 0 1 0 1.9 0a0.95 0.95 0 1 0 -1.9 0M172.6 219.6a0.95 0.95 0 1 0 1.9 0a0.95 0.95 0 1 0 -1.9 0M177.5 220.3a0.95 0.95 0 1 0 1.9 0a0.95 0.95 0 1 0 -1.9 0M167.7 220.1a0.95 0.95 0 1 0 1.9 0a0.95 0.95 0 1 0 -1.9 0M170.2 220.8a0.95 0.95 0 1 0 1.9 0a0.95 0.95 0 1 0 -1.9 0M174.2 221.3a0.95 0.95 0 1 0 1.9 0a0.95 0.95 0 1 0 -1.9 0M178.4 222a0.95 0.95 0 1 0 1.9 0a0.95 0.95 0 1 0 -1.9 0M175.9 222.9a0.95 0.95 0 1 0 1.9 0a0.95 0.95 0 1 0 -1.9 0M178.8 223.6a0.95 0.95 0 1 0 1.9 0a0.95 0.95 0 1 0 -1.9 0M177.1 223.5a0.95 0.95 0 1 0 1.9 0a0.95 0.95 0 1 0 -1.9 0M167.2 224.2a0.95 0.95 0 1 0 1.9 0a0.95 0.95 0 1 0 -1.9 0M171.5 224.5a0.95 0.95 0 1 0 1.9 0a0.95 0.95 0 1 0 -1.9 0M175.6 224.2a0.95 0.95 0 1 0 1.9 0a0.95 0.95 0 1 0 -1.9 0M171.4 224.4a0.95 0.95 0 1 0 1.9 0a0.95 0.95 0 1 0 -1.9 0M168.3 225.2a0.95 0.95 0 1 0 1.9 0a0.95 0.95 0 1 0 -1.9 0M167.1 225a0.95 0.95 0 1 0 1.9 0a0.95 0.95 0 1 0 -1.9 0M172.3 225.4a0.95 0.95 0 1 0 1.9 0a0.95 0.95 0 1 0 -1.9 0M169.1 225.3a0.95 0.95 0 1 0 1.9 0a0.95 0.95 0 1 0 -1.9 0M172.6 225.7a0.95 0.95 0 1 0 1.9 0a0.95 0.95 0 1 0 -1.9 0M169.6 225.5a0.95 0.95 0 1 0 1.9 0a0.95 0.95 0 1 0 -1.9 0M171.3 225.9a0.95 0.95 0 1 0 1.9 0a0.95 0.95 0 1 0 -1.9 0M173.8 225.6a0.95 0.95 0 1 0 1.9 0a0.95 0.95 0 1 0 -1.9 0M177.3 225.5a0.95 0.95 0 1 0 1.9 0a0.95 0.95 0 1 0 -1.9 0M178.9 225.8a0.95 0.95 0 1 0 1.9 0a0.95 0.95 0 1 0 -1.9 0M166.5 226.3a0.95 0.95 0 1 0 1.9 0a0.95 0.95 0 1 0 -1.9 0M170.3 226.2a0.95 0.95 0 1 0 1.9 0a0.95 0.95 0 1 0 -1.9 0M173.5 226a0.95 0.95 0 1 0 1.9 0a0.95 0.95 0 1 0 -1.9 0M176.3 226.8a0.95 0.95 0 1 0 1.9 0a0.95 0.95 0 1 0 -1.9 0M175.6 226.9a0.95 0.95 0 1 0 1.9 0a0.95 0.95 0 1 0 -1.9 0M179.8 227.2a0.95 0.95 0 1 0 1.9 0a0.95 0.95 0 1 0 -1.9 0M171.1 227.9a0.95 0.95 0 1 0 1.9 0a0.95 0.95 0 1 0 -1.9 0M175.8 228.2a0.95 0.95 0 1 0 1.9 0a0.95 0.95 0 1 0 -1.9 0M177.9 228.9a0.95 0.95 0 1 0 1.9 0a0.95 0.95 0 1 0 -1.9 0M173.2 229.5a0.95 0.95 0 1 0 1.9 0a0.95 0.95 0 1 0 -1.9 0M174.9 230.2a0.95 0.95 0 1 0 1.9 0a0.95 0.95 0 1 0 -1.9 0M168.7 230.5a0.95 0.95 0 1 0 1.9 0a0.95 0.95 0 1 0 -1.9 0M173.8 231.2a0.95 0.95 0 1 0 1.9 0a0.95 0.95 0 1 0 -1.9 0M165.6 232.3a0.95 0.95 0 1 0 1.9 0a0.95 0.95 0 1 0 -1.9 0M174.4 232.2a0.95 0.95 0 1 0 1.9 0a0.95 0.95 0 1 0 -1.9 0M179.1 232.1a0.95 0.95 0 1 0 1.9 0a0.95 0.95 0 1 0 -1.9 0M177 232.4a0.95 0.95 0 1 0 1.9 0a0.95 0.95 0 1 0 -1.9 0M175.1 233a0.95 0.95 0 1 0 1.9 0a0.95 0.95 0 1 0 -1.9 0M173.9 232.8a0.95 0.95 0 1 0 1.9 0a0.95 0.95 0 1 0 -1.9 0M166.4 232.8a0.95 0.95 0 1 0 1.9 0a0.95 0.95 0 1 0 -1.9 0M168.8 232.7a0.95 0.95 0 1 0 1.9 0a0.95 0.95 0 1 0 -1.9 0M169.7 233.4a0.95 0.95 0 1 0 1.9 0a0.95 0.95 0 1 0 -1.9 0M167 233.5a0.95 0.95 0 1 0 1.9 0a0.95 0.95 0 1 0 -1.9 0M171.4 233.2a0.95 0.95 0 1 0 1.9 0a0.95 0.95 0 1 0 -1.9 0M172.7 233.2a0.95 0.95 0 1 0 1.9 0a0.95 0.95 0 1 0 -1.9 0M167.6 233.7a0.95 0.95 0 1 0 1.9 0a0.95 0.95 0 1 0 -1.9 0M166.5 233.7a0.95 0.95 0 1 0 1.9 0a0.95 0.95 0 1 0 -1.9 0M172.3 233.9a0.95 0.95 0 1 0 1.9 0a0.95 0.95 0 1 0 -1.9 0M177.2 234.9a0.95 0.95 0 1 0 1.9 0a0.95 0.95 0 1 0 -1.9 0M165.7 234.7a0.95 0.95 0 1 0 1.9 0a0.95 0.95 0 1 0 -1.9 0M177.3 235.2a0.95 0.95 0 1 0 1.9 0a0.95 0.95 0 1 0 -1.9 0M165.2 235.1a0.95 0.95 0 1 0 1.9 0a0.95 0.95 0 1 0 -1.9 0M173.7 235.5a0.95 0.95 0 1 0 1.9 0a0.95 0.95 0 1 0 -1.9 0M173.9 235.1a0.95 0.95 0 1 0 1.9 0a0.95 0.95 0 1 0 -1.9 0M179.5 235.2a0.95 0.95 0 1 0 1.9 0a0.95 0.95 0 1 0 -1.9 0M166.6 235.9a0.95 0.95 0 1 0 1.9 0a0.95 0.95 0 1 0 -1.9 0M175 236a0.95 0.95 0 1 0 1.9 0a0.95 0.95 0 1 0 -1.9 0M168.6 236.2a0.95 0.95 0 1 0 1.9 0a0.95 0.95 0 1 0 -1.9 0M174.1 236.2a0.95 0.95 0 1 0 1.9 0a0.95 0.95 0 1 0 -1.9 0M171.2 237.5a0.95 0.95 0 1 0 1.9 0a0.95 0.95 0 1 0 -1.9 0M173 237.2a0.95 0.95 0 1 0 1.9 0a0.95 0.95 0 1 0 -1.9 0M175.9 237.9a0.95 0.95 0 1 0 1.9 0a0.95 0.95 0 1 0 -1.9 0M176.9 237.7a0.95 0.95 0 1 0 1.9 0a0.95 0.95 0 1 0 -1.9 0M168 237.8a0.95 0.95 0 1 0 1.9 0a0.95 0.95 0 1 0 -1.9 0M167.4 238.5a0.95 0.95 0 1 0 1.9 0a0.95 0.95 0 1 0 -1.9 0M164.7 238a0.95 0.95 0 1 0 1.9 0a0.95 0.95 0 1 0 -1.9 0M175.4 239.2a0.95 0.95 0 1 0 1.9 0a0.95 0.95 0 1 0 -1.9 0M172.6 239.2a0.95 0.95 0 1 0 1.9 0a0.95 0.95 0 1 0 -1.9 0M164.5 239.3a0.95 0.95 0 1 0 1.9 0a0.95 0.95 0 1 0 -1.9 0M168.5 239.1a0.95 0.95 0 1 0 1.9 0a0.95 0.95 0 1 0 -1.9 0M173.9 239.8a0.95 0.95 0 1 0 1.9 0a0.95 0.95 0 1 0 -1.9 0M165.3 239.7a0.95 0.95 0 1 0 1.9 0a0.95 0.95 0 1 0 -1.9 0M178.1 240a0.95 0.95 0 1 0 1.9 0a0.95 0.95 0 1 0 -1.9 0M167.8 240.5a0.95 0.95 0 1 0 1.9 0a0.95 0.95 0 1 0 -1.9 0M172 240.1a0.95 0.95 0 1 0 1.9 0a0.95 0.95 0 1 0 -1.9 0M172.9 240.4a0.95 0.95 0 1 0 1.9 0a0.95 0.95 0 1 0 -1.9 0M164.9 240.7a0.95 0.95 0 1 0 1.9 0a0.95 0.95 0 1 0 -1.9 0M177.4 242.2a0.95 0.95 0 1 0 1.9 0a0.95 0.95 0 1 0 -1.9 0M177.5 242.3a0.95 0.95 0 1 0 1.9 0a0.95 0.95 0 1 0 -1.9 0M168 242.9a0.95 0.95 0 1 0 1.9 0a0.95 0.95 0 1 0 -1.9 0M167.2 242.7a0.95 0.95 0 1 0 1.9 0a0.95 0.95 0 1 0 -1.9 0M175.4 242.7a0.95 0.95 0 1 0 1.9 0a0.95 0.95 0 1 0 -1.9 0M167.7 243.4a0.95 0.95 0 1 0 1.9 0a0.95 0.95 0 1 0 -1.9 0M168.2 243.2a0.95 0.95 0 1 0 1.9 0a0.95 0.95 0 1 0 -1.9 0M167.2 243.9a0.95 0.95 0 1 0 1.9 0a0.95 0.95 0 1 0 -1.9 0M176.6 243.6a0.95 0.95 0 1 0 1.9 0a0.95 0.95 0 1 0 -1.9 0M167.1 243.6a0.95 0.95 0 1 0 1.9 0a0.95 0.95 0 1 0 -1.9 0M166 243.7a0.95 0.95 0 1 0 1.9 0a0.95 0.95 0 1 0 -1.9 0M171.6 243.8a0.95 0.95 0 1 0 1.9 0a0.95 0.95 0 1 0 -1.9 0M168 244.6a0.95 0.95 0 1 0 1.9 0a0.95 0.95 0 1 0 -1.9 0M174 245.5a0.95 0.95 0 1 0 1.9 0a0.95 0.95 0 1 0 -1.9 0M176 245.3a0.95 0.95 0 1 0 1.9 0a0.95 0.95 0 1 0 -1.9 0M176.2 245.9a0.95 0.95 0 1 0 1.9 0a0.95 0.95 0 1 0 -1.9 0M171.3 245.9a0.95 0.95 0 1 0 1.9 0a0.95 0.95 0 1 0 -1.9 0M167.1 246.5a0.95 0.95 0 1 0 1.9 0a0.95 0.95 0 1 0 -1.9 0M176.1 246.4a0.95 0.95 0 1 0 1.9 0a0.95 0.95 0 1 0 -1.9 0M176.4 246.4a0.95 0.95 0 1 0 1.9 0a0.95 0.95 0 1 0 -1.9 0M173.8 246.5a0.95 0.95 0 1 0 1.9 0a0.95 0.95 0 1 0 -1.9 0M178.6 246.9a0.95 0.95 0 1 0 1.9 0a0.95 0.95 0 1 0 -1.9 0M172.3 247.2a0.95 0.95 0 1 0 1.9 0a0.95 0.95 0 1 0 -1.9 0M173.2 247.4a0.95 0.95 0 1 0 1.9 0a0.95 0.95 0 1 0 -1.9 0M174.8 247.1a0.95 0.95 0 1 0 1.9 0a0.95 0.95 0 1 0 -1.9 0M165.5 247.7a0.95 0.95 0 1 0 1.9 0a0.95 0.95 0 1 0 -1.9 0M166.2 247.6a0.95 0.95 0 1 0 1.9 0a0.95 0.95 0 1 0 -1.9 0M163.3 248.4a0.95 0.95 0 1 0 1.9 0a0.95 0.95 0 1 0 -1.9 0M165.9 248.1a0.95 0.95 0 1 0 1.9 0a0.95 0.95 0 1 0 -1.9 0M171.4 248.3a0.95 0.95 0 1 0 1.9 0a0.95 0.95 0 1 0 -1.9 0M175.3 248.1a0.95 0.95 0 1 0 1.9 0a0.95 0.95 0 1 0 -1.9 0M178.3 248.3a0.95 0.95 0 1 0 1.9 0a0.95 0.95 0 1 0 -1.9 0M176.7 248.2a0.95 0.95 0 1 0 1.9 0a0.95 0.95 0 1 0 -1.9 0M166 249.7a0.95 0.95 0 1 0 1.9 0a0.95 0.95 0 1 0 -1.9 0M167.2 249.9a0.95 0.95 0 1 0 1.9 0a0.95 0.95 0 1 0 -1.9 0M166 250a0.95 0.95 0 1 0 1.9 0a0.95 0.95 0 1 0 -1.9 0M176 250.4a0.95 0.95 0 1 0 1.9 0a0.95 0.95 0 1 0 -1.9 0M166.3 250.5a0.95 0.95 0 1 0 1.9 0a0.95 0.95 0 1 0 -1.9 0M163.6 250a0.95 0.95 0 1 0 1.9 0a0.95 0.95 0 1 0 -1.9 0M170.8 250.2a0.95 0.95 0 1 0 1.9 0a0.95 0.95 0 1 0 -1.9 0M177.7 250.7a0.95 0.95 0 1 0 1.9 0a0.95 0.95 0 1 0 -1.9 0M167.5 250.8a0.95 0.95 0 1 0 1.9 0a0.95 0.95 0 1 0 -1.9 0M166.1 250.7a0.95 0.95 0 1 0 1.9 0a0.95 0.95 0 1 0 -1.9 0M175.3 251.4a0.95 0.95 0 1 0 1.9 0a0.95 0.95 0 1 0 -1.9 0M167.4 251.9a0.95 0.95 0 1 0 1.9 0a0.95 0.95 0 1 0 -1.9 0M172.3 251.7a0.95 0.95 0 1 0 1.9 0a0.95 0.95 0 1 0 -1.9 0M169.3 252.2a0.95 0.95 0 1 0 1.9 0a0.95 0.95 0 1 0 -1.9 0M178 252.2a0.95 0.95 0 1 0 1.9 0a0.95 0.95 0 1 0 -1.9 0M168.8 252.6a0.95 0.95 0 1 0 1.9 0a0.95 0.95 0 1 0 -1.9 0M177 252.8a0.95 0.95 0 1 0 1.9 0a0.95 0.95 0 1 0 -1.9 0M165.9 252.5a0.95 0.95 0 1 0 1.9 0a0.95 0.95 0 1 0 -1.9 0M169.3 252.5a0.95 0.95 0 1 0 1.9 0a0.95 0.95 0 1 0 -1.9 0M168.2 253.1a0.95 0.95 0 1 0 1.9 0a0.95 0.95 0 1 0 -1.9 0M176.3 253a0.95 0.95 0 1 0 1.9 0a0.95 0.95 0 1 0 -1.9 0M174.5 253.2a0.95 0.95 0 1 0 1.9 0a0.95 0.95 0 1 0 -1.9 0M174.7 254a0.95 0.95 0 1 0 1.9 0a0.95 0.95 0 1 0 -1.9 0M171.5 253.8a0.95 0.95 0 1 0 1.9 0a0.95 0.95 0 1 0 -1.9 0M174.5 254.4a0.95 0.95 0 1 0 1.9 0a0.95 0.95 0 1 0 -1.9 0M167.7 254.8a0.95 0.95 0 1 0 1.9 0a0.95 0.95 0 1 0 -1.9 0M171.4 255.1a0.95 0.95 0 1 0 1.9 0a0.95 0.95 0 1 0 -1.9 0M175.2 255.1a0.95 0.95 0 1 0 1.9 0a0.95 0.95 0 1 0 -1.9 0M174.3 255.2a0.95 0.95 0 1 0 1.9 0a0.95 0.95 0 1 0 -1.9 0M172.7 255.3a0.95 0.95 0 1 0 1.9 0a0.95 0.95 0 1 0 -1.9 0M177.2 255.4a0.95 0.95 0 1 0 1.9 0a0.95 0.95 0 1 0 -1.9 0M169 255.3a0.95 0.95 0 1 0 1.9 0a0.95 0.95 0 1 0 -1.9 0M164.6 255a0.95 0.95 0 1 0 1.9 0a0.95 0.95 0 1 0 -1.9 0M167.6 255.9a0.95 0.95 0 1 0 1.9 0a0.95 0.95 0 1 0 -1.9 0M167.8 256a0.95 0.95 0 1 0 1.9 0a0.95 0.95 0 1 0 -1.9 0M175.2 255.9a0.95 0.95 0 1 0 1.9 0a0.95 0.95 0 1 0 -1.9 0M175.8 256a0.95 0.95 0 1 0 1.9 0a0.95 0.95 0 1 0 -1.9 0M178.6 255.8a0.95 0.95 0 1 0 1.9 0a0.95 0.95 0 1 0 -1.9 0M167.9 255.9a0.95 0.95 0 1 0 1.9 0a0.95 0.95 0 1 0 -1.9 0M161.8 256.2a0.95 0.95 0 1 0 1.9 0a0.95 0.95 0 1 0 -1.9 0M175 256.4a0.95 0.95 0 1 0 1.9 0a0.95 0.95 0 1 0 -1.9 0M161 256.8a0.95 0.95 0 1 0 1.9 0a0.95 0.95 0 1 0 -1.9 0M169.9 256.9a0.95 0.95 0 1 0 1.9 0a0.95 0.95 0 1 0 -1.9 0M164.2 256.9a0.95 0.95 0 1 0 1.9 0a0.95 0.95 0 1 0 -1.9 0M177.7 257.5a0.95 0.95 0 1 0 1.9 0a0.95 0.95 0 1 0 -1.9 0M178.1 257a0.95 0.95 0 1 0 1.9 0a0.95 0.95 0 1 0 -1.9 0M172.3 257.3a0.95 0.95 0 1 0 1.9 0a0.95 0.95 0 1 0 -1.9 0M175.2 257.6a0.95 0.95 0 1 0 1.9 0a0.95 0.95 0 1 0 -1.9 0M161.9 257.5a0.95 0.95 0 1 0 1.9 0a0.95 0.95 0 1 0 -1.9 0M177.4 258.4a0.95 0.95 0 1 0 1.9 0a0.95 0.95 0 1 0 -1.9 0M177.4 258.4a0.95 0.95 0 1 0 1.9 0a0.95 0.95 0 1 0 -1.9 0M167.5 258.1a0.95 0.95 0 1 0 1.9 0a0.95 0.95 0 1 0 -1.9 0M177 258.2a0.95 0.95 0 1 0 1.9 0a0.95 0.95 0 1 0 -1.9 0M174.3 258.7a0.95 0.95 0 1 0 1.9 0a0.95 0.95 0 1 0 -1.9 0M165.1 259a0.95 0.95 0 1 0 1.9 0a0.95 0.95 0 1 0 -1.9 0M175.8 258.9a0.95 0.95 0 1 0 1.9 0a0.95 0.95 0 1 0 -1.9 0M163.4 258.5a0.95 0.95 0 1 0 1.9 0a0.95 0.95 0 1 0 -1.9 0M177.2 259a0.95 0.95 0 1 0 1.9 0a0.95 0.95 0 1 0 -1.9 0M167.4 259.4a0.95 0.95 0 1 0 1.9 0a0.95 0.95 0 1 0 -1.9 0M166.8 259.4a0.95 0.95 0 1 0 1.9 0a0.95 0.95 0 1 0 -1.9 0M163.3 259.7a0.95 0.95 0 1 0 1.9 0a0.95 0.95 0 1 0 -1.9 0M169 259.9a0.95 0.95 0 1 0 1.9 0a0.95 0.95 0 1 0 -1.9 0M174.2 259.5a0.95 0.95 0 1 0 1.9 0a0.95 0.95 0 1 0 -1.9 0M170.8 260.6a0.95 0.95 0 1 0 1.9 0a0.95 0.95 0 1 0 -1.9 0M174.3 260.6a0.95 0.95 0 1 0 1.9 0a0.95 0.95 0 1 0 -1.9 0M162.3 260.8a0.95 0.95 0 1 0 1.9 0a0.95 0.95 0 1 0 -1.9 0M175.3 260.6a0.95 0.95 0 1 0 1.9 0a0.95 0.95 0 1 0 -1.9 0M165.4 260.6a0.95 0.95 0 1 0 1.9 0a0.95 0.95 0 1 0 -1.9 0M169.7 261.3a0.95 0.95 0 1 0 1.9 0a0.95 0.95 0 1 0 -1.9 0M161.6 261.3a0.95 0.95 0 1 0 1.9 0a0.95 0.95 0 1 0 -1.9 0M178.1 261.5a0.95 0.95 0 1 0 1.9 0a0.95 0.95 0 1 0 -1.9 0M175.8 262.1a0.95 0.95 0 1 0 1.9 0a0.95 0.95 0 1 0 -1.9 0M167.1 262.5a0.95 0.95 0 1 0 1.9 0a0.95 0.95 0 1 0 -1.9 0M177.8 262.5a0.95 0.95 0 1 0 1.9 0a0.95 0.95 0 1 0 -1.9 0M177.7 262.6a0.95 0.95 0 1 0 1.9 0a0.95 0.95 0 1 0 -1.9 0M171.8 262.6a0.95 0.95 0 1 0 1.9 0a0.95 0.95 0 1 0 -1.9 0M163.3 262.6a0.95 0.95 0 1 0 1.9 0a0.95 0.95 0 1 0 -1.9 0M165.3 263.1a0.95 0.95 0 1 0 1.9 0a0.95 0.95 0 1 0 -1.9 0M178.1 263a0.95 0.95 0 1 0 1.9 0a0.95 0.95 0 1 0 -1.9 0M175.6 263.2a0.95 0.95 0 1 0 1.9 0a0.95 0.95 0 1 0 -1.9 0M166.7 263.5a0.95 0.95 0 1 0 1.9 0a0.95 0.95 0 1 0 -1.9 0M172.1 263.8a0.95 0.95 0 1 0 1.9 0a0.95 0.95 0 1 0 -1.9 0M164.1 263.5a0.95 0.95 0 1 0 1.9 0a0.95 0.95 0 1 0 -1.9 0M177.1 263.6a0.95 0.95 0 1 0 1.9 0a0.95 0.95 0 1 0 -1.9 0M166.2 264.2a0.95 0.95 0 1 0 1.9 0a0.95 0.95 0 1 0 -1.9 0M174 264.6a0.95 0.95 0 1 0 1.9 0a0.95 0.95 0 1 0 -1.9 0M165 264.7a0.95 0.95 0 1 0 1.9 0a0.95 0.95 0 1 0 -1.9 0M164.8 265.2a0.95 0.95 0 1 0 1.9 0a0.95 0.95 0 1 0 -1.9 0M163.5 265.4a0.95 0.95 0 1 0 1.9 0a0.95 0.95 0 1 0 -1.9 0M174.7 266a0.95 0.95 0 1 0 1.9 0a0.95 0.95 0 1 0 -1.9 0M163.5 265.6a0.95 0.95 0 1 0 1.9 0a0.95 0.95 0 1 0 -1.9 0M173.9 265.7a0.95 0.95 0 1 0 1.9 0a0.95 0.95 0 1 0 -1.9 0M162.7 265.5a0.95 0.95 0 1 0 1.9 0a0.95 0.95 0 1 0 -1.9 0M172.1 266.1a0.95 0.95 0 1 0 1.9 0a0.95 0.95 0 1 0 -1.9 0M163.1 266a0.95 0.95 0 1 0 1.9 0a0.95 0.95 0 1 0 -1.9 0M176.8 266.5a0.95 0.95 0 1 0 1.9 0a0.95 0.95 0 1 0 -1.9 0M170.2 266.1a0.95 0.95 0 1 0 1.9 0a0.95 0.95 0 1 0 -1.9 0M160.5 266.2a0.95 0.95 0 1 0 1.9 0a0.95 0.95 0 1 0 -1.9 0M165.9 266.1a0.95 0.95 0 1 0 1.9 0a0.95 0.95 0 1 0 -1.9 0M159.8 266.3a0.95 0.95 0 1 0 1.9 0a0.95 0.95 0 1 0 -1.9 0M174 266a0.95 0.95 0 1 0 1.9 0a0.95 0.95 0 1 0 -1.9 0M164.2 266.2a0.95 0.95 0 1 0 1.9 0a0.95 0.95 0 1 0 -1.9 0M164 266.9a0.95 0.95 0 1 0 1.9 0a0.95 0.95 0 1 0 -1.9 0M174.9 266.9a0.95 0.95 0 1 0 1.9 0a0.95 0.95 0 1 0 -1.9 0M161.3 266.6a0.95 0.95 0 1 0 1.9 0a0.95 0.95 0 1 0 -1.9 0M167.2 267a0.95 0.95 0 1 0 1.9 0a0.95 0.95 0 1 0 -1.9 0M169.1 267.3a0.95 0.95 0 1 0 1.9 0a0.95 0.95 0 1 0 -1.9 0M174.2 267.4a0.95 0.95 0 1 0 1.9 0a0.95 0.95 0 1 0 -1.9 0M165.6 267.1a0.95 0.95 0 1 0 1.9 0a0.95 0.95 0 1 0 -1.9 0M177.7 267.3a0.95 0.95 0 1 0 1.9 0a0.95 0.95 0 1 0 -1.9 0M174 267.9a0.95 0.95 0 1 0 1.9 0a0.95 0.95 0 1 0 -1.9 0M186.3 182.5a0.95 0.95 0 1 0 1.9 0a0.95 0.95 0 1 0 -1.9 0M188.1 182.9a0.95 0.95 0 1 0 1.9 0a0.95 0.95 0 1 0 -1.9 0M181.8 184.3a0.95 0.95 0 1 0 1.9 0a0.95 0.95 0 1 0 -1.9 0M187.6 184a0.95 0.95 0 1 0 1.9 0a0.95 0.95 0 1 0 -1.9 0M185.9 184.1a0.95 0.95 0 1 0 1.9 0a0.95 0.95 0 1 0 -1.9 0M181.6 184.9a0.95 0.95 0 1 0 1.9 0a0.95 0.95 0 1 0 -1.9 0M186.1 188.5a0.95 0.95 0 1 0 1.9 0a0.95 0.95 0 1 0 -1.9 0M188.4 188.6a0.95 0.95 0 1 0 1.9 0a0.95 0.95 0 1 0 -1.9 0M183.4 189.7a0.95 0.95 0 1 0 1.9 0a0.95 0.95 0 1 0 -1.9 0M182.9 190.2a0.95 0.95 0 1 0 1.9 0a0.95 0.95 0 1 0 -1.9 0M183.8 191.9a0.95 0.95 0 1 0 1.9 0a0.95 0.95 0 1 0 -1.9 0M188 192.1a0.95 0.95 0 1 0 1.9 0a0.95 0.95 0 1 0 -1.9 0M186.9 192.2a0.95 0.95 0 1 0 1.9 0a0.95 0.95 0 1 0 -1.9 0M184.5 193.4a0.95 0.95 0 1 0 1.9 0a0.95 0.95 0 1 0 -1.9 0M181.1 193.3a0.95 0.95 0 1 0 1.9 0a0.95 0.95 0 1 0 -1.9 0M188.4 193.1a0.95 0.95 0 1 0 1.9 0a0.95 0.95 0 1 0 -1.9 0M181.4 193.1a0.95 0.95 0 1 0 1.9 0a0.95 0.95 0 1 0 -1.9 0M184.5 194.8a0.95 0.95 0 1 0 1.9 0a0.95 0.95 0 1 0 -1.9 0M187.9 196.2a0.95 0.95 0 1 0 1.9 0a0.95 0.95 0 1 0 -1.9 0M180.8 196.7a0.95 0.95 0 1 0 1.9 0a0.95 0.95 0 1 0 -1.9 0M181.3 196.6a0.95 0.95 0 1 0 1.9 0a0.95 0.95 0 1 0 -1.9 0M182.8 198.2a0.95 0.95 0 1 0 1.9 0a0.95 0.95 0 1 0 -1.9 0M188.1 198.7a0.95 0.95 0 1 0 1.9 0a0.95 0.95 0 1 0 -1.9 0M180.6 199a0.95 0.95 0 1 0 1.9 0a0.95 0.95 0 1 0 -1.9 0M185.6 199.5a0.95 0.95 0 1 0 1.9 0a0.95 0.95 0 1 0 -1.9 0M183 199.7a0.95 0.95 0 1 0 1.9 0a0.95 0.95 0 1 0 -1.9 0M180.7 200.5a0.95 0.95 0 1 0 1.9 0a0.95 0.95 0 1 0 -1.9 0M185.6 200.6a0.95 0.95 0 1 0 1.9 0a0.95 0.95 0 1 0 -1.9 0M183.8 201.1a0.95 0.95 0 1 0 1.9 0a0.95 0.95 0 1 0 -1.9 0M186.1 202.5a0.95 0.95 0 1 0 1.9 0a0.95 0.95 0 1 0 -1.9 0M181.2 202.5a0.95 0.95 0 1 0 1.9 0a0.95 0.95 0 1 0 -1.9 0M181.9 203.2a0.95 0.95 0 1 0 1.9 0a0.95 0.95 0 1 0 -1.9 0M185.6 204a0.95 0.95 0 1 0 1.9 0a0.95 0.95 0 1 0 -1.9 0M182.3 205.3a0.95 0.95 0 1 0 1.9 0a0.95 0.95 0 1 0 -1.9 0M186.8 205.9a0.95 0.95 0 1 0 1.9 0a0.95 0.95 0 1 0 -1.9 0M181.2 206a0.95 0.95 0 1 0 1.9 0a0.95 0.95 0 1 0 -1.9 0M181.8 205.8a0.95 0.95 0 1 0 1.9 0a0.95 0.95 0 1 0 -1.9 0M185.3 206a0.95 0.95 0 1 0 1.9 0a0.95 0.95 0 1 0 -1.9 0M180 206.1a0.95 0.95 0 1 0 1.9 0a0.95 0.95 0 1 0 -1.9 0M184.4 206.2a0.95 0.95 0 1 0 1.9 0a0.95 0.95 0 1 0 -1.9 0M185.8 207.7a0.95 0.95 0 1 0 1.9 0a0.95 0.95 0 1 0 -1.9 0M182.5 208.1a0.95 0.95 0 1 0 1.9 0a0.95 0.95 0 1 0 -1.9 0M182 208.2a0.95 0.95 0 1 0 1.9 0a0.95 0.95 0 1 0 -1.9 0M183.4 208.6a0.95 0.95 0 1 0 1.9 0a0.95 0.95 0 1 0 -1.9 0M182.2 209.1a0.95 0.95 0 1 0 1.9 0a0.95 0.95 0 1 0 -1.9 0M180.8 209.2a0.95 0.95 0 1 0 1.9 0a0.95 0.95 0 1 0 -1.9 0M184.9 210.7a0.95 0.95 0 1 0 1.9 0a0.95 0.95 0 1 0 -1.9 0M182.9 211.2a0.95 0.95 0 1 0 1.9 0a0.95 0.95 0 1 0 -1.9 0M181.2 212.2a0.95 0.95 0 1 0 1.9 0a0.95 0.95 0 1 0 -1.9 0M184.6 212.9a0.95 0.95 0 1 0 1.9 0a0.95 0.95 0 1 0 -1.9 0M181.4 212.8a0.95 0.95 0 1 0 1.9 0a0.95 0.95 0 1 0 -1.9 0M185.1 212.7a0.95 0.95 0 1 0 1.9 0a0.95 0.95 0 1 0 -1.9 0M182.3 213.8a0.95 0.95 0 1 0 1.9 0a0.95 0.95 0 1 0 -1.9 0M179.9 214.3a0.95 0.95 0 1 0 1.9 0a0.95 0.95 0 1 0 -1.9 0M184.5 214.5a0.95 0.95 0 1 0 1.9 0a0.95 0.95 0 1 0 -1.9 0M184.6 215.2a0.95 0.95 0 1 0 1.9 0a0.95 0.95 0 1 0 -1.9 0M179.9 215.6a0.95 0.95 0 1 0 1.9 0a0.95 0.95 0 1 0 -1.9 0M185.8 217.7a0.95 0.95 0 1 0 1.9 0a0.95 0.95 0 1 0 -1.9 0M183.8 218a0.95 0.95 0 1 0 1.9 0a0.95 0.95 0 1 0 -1.9 0M182.8 218a0.95 0.95 0 1 0 1.9 0a0.95 0.95 0 1 0 -1.9 0M183.4 218.6a0.95 0.95 0 1 0 1.9 0a0.95 0.95 0 1 0 -1.9 0M184.4 219.4a0.95 0.95 0 1 0 1.9 0a0.95 0.95 0 1 0 -1.9 0M181.1 220.1a0.95 0.95 0 1 0 1.9 0a0.95 0.95 0 1 0 -1.9 0M180.6 221a0.95 0.95 0 1 0 1.9 0a0.95 0.95 0 1 0 -1.9 0M183.7 221.9a0.95 0.95 0 1 0 1.9 0a0.95 0.95 0 1 0 -1.9 0M184 221.8a0.95 0.95 0 1 0 1.9 0a0.95 0.95 0 1 0 -1.9 0M182.8 222.9a0.95 0.95 0 1 0 1.9 0a0.95 0.95 0 1 0 -1.9 0M179.4 222.5a0.95 0.95 0 1 0 1.9 0a0.95 0.95 0 1 0 -1.9 0M179.1 223a0.95 0.95 0 1 0 1.9 0a0.95 0.95 0 1 0 -1.9 0M183.6 223.1a0.95 0.95 0 1 0 1.9 0a0.95 0.95 0 1 0 -1.9 0M186 223.6a0.95 0.95 0 1 0 1.9 0a0.95 0.95 0 1 0 -1.9 0M183.4 223.7a0.95 0.95 0 1 0 1.9 0a0.95 0.95 0 1 0 -1.9 0M178.9 224.2a0.95 0.95 0 1 0 1.9 0a0.95 0.95 0 1 0 -1.9 0M181.6 225.3a0.95 0.95 0 1 0 1.9 0a0.95 0.95 0 1 0 -1.9 0M185.9 225.8a0.95 0.95 0 1 0 1.9 0a0.95 0.95 0 1 0 -1.9 0M179.6 227.3a0.95 0.95 0 1 0 1.9 0a0.95 0.95 0 1 0 -1.9 0M181.3 227.6a0.95 0.95 0 1 0 1.9 0a0.95 0.95 0 1 0 -1.9 0M184 228a0.95 0.95 0 1 0 1.9 0a0.95 0.95 0 1 0 -1.9 0M179.4 227.7a0.95 0.95 0 1 0 1.9 0a0.95 0.95 0 1 0 -1.9 0M183.6 228.5a0.95 0.95 0 1 0 1.9 0a0.95 0.95 0 1 0 -1.9 0M186.4 229.4a0.95 0.95 0 1 0 1.9 0a0.95 0.95 0 1 0 -1.9 0M184.1 229.1a0.95 0.95 0 1 0 1.9 0a0.95 0.95 0 1 0 -1.9 0M183.1 230.6a0.95 0.95 0 1 0 1.9 0a0.95 0.95 0 1 0 -1.9 0M185.1 230.8a0.95 0.95 0 1 0 1.9 0a0.95 0.95 0 1 0 -1.9 0M181.7 231.3a0.95 0.95 0 1 0 1.9 0a0.95 0.95 0 1 0 -1.9 0M186.3 231.2a0.95 0.95 0 1 0 1.9 0a0.95 0.95 0 1 0 -1.9 0M182.8 233.9a0.95 0.95 0 1 0 1.9 0a0.95 0.95 0 1 0 -1.9 0M183.3 234.3a0.95 0.95 0 1 0 1.9 0a0.95 0.95 0 1 0 -1.9 0M181.5 235.2a0.95 0.95 0 1 0 1.9 0a0.95 0.95 0 1 0 -1.9 0M183 235.8a0.95 0.95 0 1 0 1.9 0a0.95 0.95 0 1 0 -1.9 0M181.1 236.3a0.95 0.95 0 1 0 1.9 0a0.95 0.95 0 1 0 -1.9 0M182.5 236.4a0.95 0.95 0 1 0 1.9 0a0.95 0.95 0 1 0 -1.9 0M180.2 237.6a0.95 0.95 0 1 0 1.9 0a0.95 0.95 0 1 0 -1.9 0M185.8 237.7a0.95 0.95 0 1 0 1.9 0a0.95 0.95 0 1 0 -1.9 0M183.1 239.4a0.95 0.95 0 1 0 1.9 0a0.95 0.95 0 1 0 -1.9 0M185.9 239.8a0.95 0.95 0 1 0 1.9 0a0.95 0.95 0 1 0 -1.9 0M179.9 239.6a0.95 0.95 0 1 0 1.9 0a0.95 0.95 0 1 0 -1.9 0M181 239.6a0.95 0.95 0 1 0 1.9 0a0.95 0.95 0 1 0 -1.9 0M186 240.3a0.95 0.95 0 1 0 1.9 0a0.95 0.95 0 1 0 -1.9 0M182 240.1a0.95 0.95 0 1 0 1.9 0a0.95 0.95 0 1 0 -1.9 0M182.2 240.8a0.95 0.95 0 1 0 1.9 0a0.95 0.95 0 1 0 -1.9 0M183 240.8a0.95 0.95 0 1 0 1.9 0a0.95 0.95 0 1 0 -1.9 0M180.3 242.8a0.95 0.95 0 1 0 1.9 0a0.95 0.95 0 1 0 -1.9 0M179 243.1a0.95 0.95 0 1 0 1.9 0a0.95 0.95 0 1 0 -1.9 0M182.4 243.1a0.95 0.95 0 1 0 1.9 0a0.95 0.95 0 1 0 -1.9 0M183.9 243.5a0.95 0.95 0 1 0 1.9 0a0.95 0.95 0 1 0 -1.9 0M182.8 244a0.95 0.95 0 1 0 1.9 0a0.95 0.95 0 1 0 -1.9 0M180.6 244.2a0.95 0.95 0 1 0 1.9 0a0.95 0.95 0 1 0 -1.9 0M182.5 244.4a0.95 0.95 0 1 0 1.9 0a0.95 0.95 0 1 0 -1.9 0M181.9 244a0.95 0.95 0 1 0 1.9 0a0.95 0.95 0 1 0 -1.9 0M185.8 244.6a0.95 0.95 0 1 0 1.9 0a0.95 0.95 0 1 0 -1.9 0M180.6 245.3a0.95 0.95 0 1 0 1.9 0a0.95 0.95 0 1 0 -1.9 0M183.1 245.9a0.95 0.95 0 1 0 1.9 0a0.95 0.95 0 1 0 -1.9 0M178 246.7a0.95 0.95 0 1 0 1.9 0a0.95 0.95 0 1 0 -1.9 0M177.9 247.3a0.95 0.95 0 1 0 1.9 0a0.95 0.95 0 1 0 -1.9 0M180 247.6a0.95 0.95 0 1 0 1.9 0a0.95 0.95 0 1 0 -1.9 0M178.3 248a0.95 0.95 0 1 0 1.9 0a0.95 0.95 0 1 0 -1.9 0M180.4 249.1a0.95 0.95 0 1 0 1.9 0a0.95 0.95 0 1 0 -1.9 0M184.9 249.1a0.95 0.95 0 1 0 1.9 0a0.95 0.95 0 1 0 -1.9 0M180.4 250a0.95 0.95 0 1 0 1.9 0a0.95 0.95 0 1 0 -1.9 0M184.6 250.5a0.95 0.95 0 1 0 1.9 0a0.95 0.95 0 1 0 -1.9 0M182.6 250.9a0.95 0.95 0 1 0 1.9 0a0.95 0.95 0 1 0 -1.9 0M181.3 251.8a0.95 0.95 0 1 0 1.9 0a0.95 0.95 0 1 0 -1.9 0M186.6 252.3a0.95 0.95 0 1 0 1.9 0a0.95 0.95 0 1 0 -1.9 0M180 252.1a0.95 0.95 0 1 0 1.9 0a0.95 0.95 0 1 0 -1.9 0M178.3 252.1a0.95 0.95 0 1 0 1.9 0a0.95 0.95 0 1 0 -1.9 0M181.8 253.1a0.95 0.95 0 1 0 1.9 0a0.95 0.95 0 1 0 -1.9 0M185.8 253a0.95 0.95 0 1 0 1.9 0a0.95 0.95 0 1 0 -1.9 0M180.5 253.3a0.95 0.95 0 1 0 1.9 0a0.95 0.95 0 1 0 -1.9 0M178.1 254.1a0.95 0.95 0 1 0 1.9 0a0.95 0.95 0 1 0 -1.9 0M182.8 254.1a0.95 0.95 0 1 0 1.9 0a0.95 0.95 0 1 0 -1.9 0M185.1 255.3a0.95 0.95 0 1 0 1.9 0a0.95 0.95 0 1 0 -1.9 0M182.6 255.6a0.95 0.95 0 1 0 1.9 0a0.95 0.95 0 1 0 -1.9 0M179.3 255.6a0.95 0.95 0 1 0 1.9 0a0.95 0.95 0 1 0 -1.9 0M178.5 255.6a0.95 0.95 0 1 0 1.9 0a0.95 0.95 0 1 0 -1.9 0M177.9 256.7a0.95 0.95 0 1 0 1.9 0a0.95 0.95 0 1 0 -1.9 0M182.4 257.6a0.95 0.95 0 1 0 1.9 0a0.95 0.95 0 1 0 -1.9 0M182.1 258.2a0.95 0.95 0 1 0 1.9 0a0.95 0.95 0 1 0 -1.9 0M178 258a0.95 0.95 0 1 0 1.9 0a0.95 0.95 0 1 0 -1.9 0M181.1 258.9a0.95 0.95 0 1 0 1.9 0a0.95 0.95 0 1 0 -1.9 0M179.1 258.7a0.95 0.95 0 1 0 1.9 0a0.95 0.95 0 1 0 -1.9 0M180.6 259.2a0.95 0.95 0 1 0 1.9 0a0.95 0.95 0 1 0 -1.9 0M182.7 259.1a0.95 0.95 0 1 0 1.9 0a0.95 0.95 0 1 0 -1.9 0M181.3 259.6a0.95 0.95 0 1 0 1.9 0a0.95 0.95 0 1 0 -1.9 0M180.8 259.7a0.95 0.95 0 1 0 1.9 0a0.95 0.95 0 1 0 -1.9 0M185.8 259.5a0.95 0.95 0 1 0 1.9 0a0.95 0.95 0 1 0 -1.9 0M178 260.1a0.95 0.95 0 1 0 1.9 0a0.95 0.95 0 1 0 -1.9 0M184.9 261a0.95 0.95 0 1 0 1.9 0a0.95 0.95 0 1 0 -1.9 0M182.9 261.4a0.95 0.95 0 1 0 1.9 0a0.95 0.95 0 1 0 -1.9 0M183.8 262.2a0.95 0.95 0 1 0 1.9 0a0.95 0.95 0 1 0 -1.9 0M181.7 262.6a0.95 0.95 0 1 0 1.9 0a0.95 0.95 0 1 0 -1.9 0M181.2 262.5a0.95 0.95 0 1 0 1.9 0a0.95 0.95 0 1 0 -1.9 0M177.2 263.2a0.95 0.95 0 1 0 1.9 0a0.95 0.95 0 1 0 -1.9 0M185.7 263.7a0.95 0.95 0 1 0 1.9 0a0.95 0.95 0 1 0 -1.9 0M180.5 264.9a0.95 0.95 0 1 0 1.9 0a0.95 0.95 0 1 0 -1.9 0M178.3 264.6a0.95 0.95 0 1 0 1.9 0a0.95 0.95 0 1 0 -1.9 0M184.7 265.2a0.95 0.95 0 1 0 1.9 0a0.95 0.95 0 1 0 -1.9 0M181.9 265.8a0.95 0.95 0 1 0 1.9 0a0.95 0.95 0 1 0 -1.9 0M179.8 265.6a0.95 0.95 0 1 0 1.9 0a0.95 0.95 0 1 0 -1.9 0M180.3 265.9a0.95 0.95 0 1 0 1.9 0a0.95 0.95 0 1 0 -1.9 0M179.5 266.6a0.95 0.95 0 1 0 1.9 0a0.95 0.95 0 1 0 -1.9 0M183.2 267.4a0.95 0.95 0 1 0 1.9 0a0.95 0.95 0 1 0 -1.9 0M193 187.5a0.95 0.95 0 1 0 1.9 0a0.95 0.95 0 1 0 -1.9 0M191.3 191.1a0.95 0.95 0 1 0 1.9 0a0.95 0.95 0 1 0 -1.9 0M190.4 193.7a0.95 0.95 0 1 0 1.9 0a0.95 0.95 0 1 0 -1.9 0M191.6 194.6a0.95 0.95 0 1 0 1.9 0a0.95 0.95 0 1 0 -1.9 0M190.9 195.4a0.95 0.95 0 1 0 1.9 0a0.95 0.95 0 1 0 -1.9 0M188.7 196.3a0.95 0.95 0 1 0 1.9 0a0.95 0.95 0 1 0 -1.9 0M193.9 196.7a0.95 0.95 0 1 0 1.9 0a0.95 0.95 0 1 0 -1.9 0M190 197.1a0.95 0.95 0 1 0 1.9 0a0.95 0.95 0 1 0 -1.9 0M190.3 200.4a0.95 0.95 0 1 0 1.9 0a0.95 0.95 0 1 0 -1.9 0M189.6 200.8a0.95 0.95 0 1 0 1.9 0a0.95 0.95 0 1 0 -1.9 0M195.2 205.4a0.95 0.95 0 1 0 1.9 0a0.95 0.95 0 1 0 -1.9 0M188.7 205.7a0.95 0.95 0 1 0 1.9 0a0.95 0.95 0 1 0 -1.9 0M189.1 205.5a0.95 0.95 0 1 0 1.9 0a0.95 0.95 0 1 0 -1.9 0M189.7 206.4a0.95 0.95 0 1 0 1.9 0a0.95 0.95 0 1 0 -1.9 0M194 206.2a0.95 0.95 0 1 0 1.9 0a0.95 0.95 0 1 0 -1.9 0M191 208.2a0.95 0.95 0 1 0 1.9 0a0.95 0.95 0 1 0 -1.9 0M192.8 208.7a0.95 0.95 0 1 0 1.9 0a0.95 0.95 0 1 0 -1.9 0M194.3 209.6a0.95 0.95 0 1 0 1.9 0a0.95 0.95 0 1 0 -1.9 0M189 212.4a0.95 0.95 0 1 0 1.9 0a0.95 0.95 0 1 0 -1.9 0M187.8 212.9a0.95 0.95 0 1 0 1.9 0a0.95 0.95 0 1 0 -1.9 0M189.8 212.9a0.95 0.95 0 1 0 1.9 0a0.95 0.95 0 1 0 -1.9 0M191.4 221.1a0.95 0.95 0 1 0 1.9 0a0.95 0.95 0 1 0 -1.9 0M190.1 221a0.95 0.95 0 1 0 1.9 0a0.95 0.95 0 1 0 -1.9 0M193.4 224.5a0.95 0.95 0 1 0 1.9 0a0.95 0.95 0 1 0 -1.9 0M188.1 224.3a0.95 0.95 0 1 0 1.9 0a0.95 0.95 0 1 0 -1.9 0M190 228.5a0.95 0.95 0 1 0 1.9 0a0.95 0.95 0 1 0 -1.9 0M196.3 232.7a0.95 0.95 0 1 0 1.9 0a0.95 0.95 0 1 0 -1.9 0M195.1 236.5a0.95 0.95 0 1 0 1.9 0a0.95 0.95 0 1 0 -1.9 0M187.7 237.8a0.95 0.95 0 1 0 1.9 0a0.95 0.95 0 1 0 -1.9 0M189.4 241.8a0.95 0.95 0 1 0 1.9 0a0.95 0.95 0 1 0 -1.9 0M194.8 242.6a0.95 0.95 0 1 0 1.9 0a0.95 0.95 0 1 0 -1.9 0M196.6 242.6a0.95 0.95 0 1 0 1.9 0a0.95 0.95 0 1 0 -1.9 0M192.8 245.3a0.95 0.95 0 1 0 1.9 0a0.95 0.95 0 1 0 -1.9 0M191.3 246.1a0.95 0.95 0 1 0 1.9 0a0.95 0.95 0 1 0 -1.9 0M192.5 248.5a0.95 0.95 0 1 0 1.9 0a0.95 0.95 0 1 0 -1.9 0M189.5 250.9a0.95 0.95 0 1 0 1.9 0a0.95 0.95 0 1 0 -1.9 0M190 251.8a0.95 0.95 0 1 0 1.9 0a0.95 0.95 0 1 0 -1.9 0M192.4 252.2a0.95 0.95 0 1 0 1.9 0a0.95 0.95 0 1 0 -1.9 0M194 252.1a0.95 0.95 0 1 0 1.9 0a0.95 0.95 0 1 0 -1.9 0M188.5 252.7a0.95 0.95 0 1 0 1.9 0a0.95 0.95 0 1 0 -1.9 0M193.3 254a0.95 0.95 0 1 0 1.9 0a0.95 0.95 0 1 0 -1.9 0M186.7 254.6a0.95 0.95 0 1 0 1.9 0a0.95 0.95 0 1 0 -1.9 0M195.7 255.3a0.95 0.95 0 1 0 1.9 0a0.95 0.95 0 1 0 -1.9 0M193 255.8a0.95 0.95 0 1 0 1.9 0a0.95 0.95 0 1 0 -1.9 0M187.2 257.4a0.95 0.95 0 1 0 1.9 0a0.95 0.95 0 1 0 -1.9 0M191.5 257.5a0.95 0.95 0 1 0 1.9 0a0.95 0.95 0 1 0 -1.9 0M196 257.8a0.95 0.95 0 1 0 1.9 0a0.95 0.95 0 1 0 -1.9 0M193 258.5a0.95 0.95 0 1 0 1.9 0a0.95 0.95 0 1 0 -1.9 0M194.8 260.9a0.95 0.95 0 1 0 1.9 0a0.95 0.95 0 1 0 -1.9 0M186.5 261.5a0.95 0.95 0 1 0 1.9 0a0.95 0.95 0 1 0 -1.9 0M193.6 261.7a0.95 0.95 0 1 0 1.9 0a0.95 0.95 0 1 0 -1.9 0M194.9 262.1a0.95 0.95 0 1 0 1.9 0a0.95 0.95 0 1 0 -1.9 0M191.8 263.3a0.95 0.95 0 1 0 1.9 0a0.95 0.95 0 1 0 -1.9 0M190.2 263.2a0.95 0.95 0 1 0 1.9 0a0.95 0.95 0 1 0 -1.9 0M194.2 264a0.95 0.95 0 1 0 1.9 0a0.95 0.95 0 1 0 -1.9 0M190.4 263.9a0.95 0.95 0 1 0 1.9 0a0.95 0.95 0 1 0 -1.9 0M197 264.5a0.95 0.95 0 1 0 1.9 0a0.95 0.95 0 1 0 -1.9 0M189 264.3a0.95 0.95 0 1 0 1.9 0a0.95 0.95 0 1 0 -1.9 0M196.3 265.6a0.95 0.95 0 1 0 1.9 0a0.95 0.95 0 1 0 -1.9 0M188.9 266.6a0.95 0.95 0 1 0 1.9 0a0.95 0.95 0 1 0 -1.9 0M196.1 267.3a0.95 0.95 0 1 0 1.9 0a0.95 0.95 0 1 0 -1.9 0M192.1 177.4a0.95 0.95 0 1 0 1.9 0a0.95 0.95 0 1 0 -1.9 0M193.1 157a0.95 0.95 0 1 0 1.9 0a0.95 0.95 0 1 0 -1.9 0M179.9 171.1a0.95 0.95 0 1 0 1.9 0a0.95 0.95 0 1 0 -1.9 0M185.6 177.1a0.95 0.95 0 1 0 1.9 0a0.95 0.95 0 1 0 -1.9 0M191.3 158.2a0.95 0.95 0 1 0 1.9 0a0.95 0.95 0 1 0 -1.9 0M174.1 175.7a0.95 0.95 0 1 0 1.9 0a0.95 0.95 0 1 0 -1.9 0M188.2 157.1a0.95 0.95 0 1 0 1.9 0a0.95 0.95 0 1 0 -1.9 0M172.5 146.9a0.95 0.95 0 1 0 1.9 0a0.95 0.95 0 1 0 -1.9 0M177.3 156.9a0.95 0.95 0 1 0 1.9 0a0.95 0.95 0 1 0 -1.9 0M176.2 148a0.95 0.95 0 1 0 1.9 0a0.95 0.95 0 1 0 -1.9 0M175.3 160a0.95 0.95 0 1 0 1.9 0a0.95 0.95 0 1 0 -1.9 0M173.4 154.3a0.95 0.95 0 1 0 1.9 0a0.95 0.95 0 1 0 -1.9 0M182 179.9a0.95 0.95 0 1 0 1.9 0a0.95 0.95 0 1 0 -1.9 0M192.8 162.2a0.95 0.95 0 1 0 1.9 0a0.95 0.95 0 1 0 -1.9 0M174.2 156.8a0.95 0.95 0 1 0 1.9 0a0.95 0.95 0 1 0 -1.9 0M187.9 162.3a0.95 0.95 0 1 0 1.9 0a0.95 0.95 0 1 0 -1.9 0M185.3 175.5a0.95 0.95 0 1 0 1.9 0a0.95 0.95 0 1 0 -1.9 0M187.5 180.4a0.95 0.95 0 1 0 1.9 0a0.95 0.95 0 1 0 -1.9 0M173.2 157.9a0.95 0.95 0 1 0 1.9 0a0.95 0.95 0 1 0 -1.9 0M171.9 166.8a0.95 0.95 0 1 0 1.9 0a0.95 0.95 0 1 0 -1.9 0M186.4 156.2a0.95 0.95 0 1 0 1.9 0a0.95 0.95 0 1 0 -1.9 0M172.4 164.6a0.95 0.95 0 1 0 1.9 0a0.95 0.95 0 1 0 -1.9 0M175.2 153.8a0.95 0.95 0 1 0 1.9 0a0.95 0.95 0 1 0 -1.9 0M180.6 183.8a0.95 0.95 0 1 0 1.9 0a0.95 0.95 0 1 0 -1.9 0M180.1 174.4a0.95 0.95 0 1 0 1.9 0a0.95 0.95 0 1 0 -1.9 0M180.4 162.2a0.95 0.95 0 1 0 1.9 0a0.95 0.95 0 1 0 -1.9 0M174.6 153.4a0.95 0.95 0 1 0 1.9 0a0.95 0.95 0 1 0 -1.9 0M190.3 163.2a0.95 0.95 0 1 0 1.9 0a0.95 0.95 0 1 0 -1.9 0M178.2 185.5a0.95 0.95 0 1 0 1.9 0a0.95 0.95 0 1 0 -1.9 0M193 156.6a0.95 0.95 0 1 0 1.9 0a0.95 0.95 0 1 0 -1.9 0M181.9 168.7a0.95 0.95 0 1 0 1.9 0a0.95 0.95 0 1 0 -1.9 0M175.2 163.1a0.95 0.95 0 1 0 1.9 0a0.95 0.95 0 1 0 -1.9 0M194.6 48.4a0.95 0.95 0 1 0 1.9 0a0.95 0.95 0 1 0 -1.9 0M188.6 62.7a0.95 0.95 0 1 0 1.9 0a0.95 0.95 0 1 0 -1.9 0M188.1 96.8a0.95 0.95 0 1 0 1.9 0a0.95 0.95 0 1 0 -1.9 0M182.1 99.8a0.95 0.95 0 1 0 1.9 0a0.95 0.95 0 1 0 -1.9 0M185.4 103.7a0.95 0.95 0 1 0 1.9 0a0.95 0.95 0 1 0 -1.9 0M179.1 104.6a0.95 0.95 0 1 0 1.9 0a0.95 0.95 0 1 0 -1.9 0M181.1 104.6a0.95 0.95 0 1 0 1.9 0a0.95 0.95 0 1 0 -1.9 0M179.7 116.6a0.95 0.95 0 1 0 1.9 0a0.95 0.95 0 1 0 -1.9 0M181.1 129.8a0.95 0.95 0 1 0 1.9 0a0.95 0.95 0 1 0 -1.9 0M182.6 129.8a0.95 0.95 0 1 0 1.9 0a0.95 0.95 0 1 0 -1.9 0M174.1 135a0.95 0.95 0 1 0 1.9 0a0.95 0.95 0 1 0 -1.9 0M178.4 139.7a0.95 0.95 0 1 0 1.9 0a0.95 0.95 0 1 0 -1.9 0M188.7 141.6a0.95 0.95 0 1 0 1.9 0a0.95 0.95 0 1 0 -1.9 0M182.1 147a0.95 0.95 0 1 0 1.9 0a0.95 0.95 0 1 0 -1.9 0M190.7 149.5a0.95 0.95 0 1 0 1.9 0a0.95 0.95 0 1 0 -1.9 0M192.6 152.8a0.95 0.95 0 1 0 1.9 0a0.95 0.95 0 1 0 -1.9 0M198.1 154.7a0.95 0.95 0 1 0 1.9 0a0.95 0.95 0 1 0 -1.9 0M194.1 162a0.95 0.95 0 1 0 1.9 0a0.95 0.95 0 1 0 -1.9 0M192.2 171.3a0.95 0.95 0 1 0 1.9 0a0.95 0.95 0 1 0 -1.9 0M200.1 171a0.95 0.95 0 1 0 1.9 0a0.95 0.95 0 1 0 -1.9 0M191.8 181a0.95 0.95 0 1 0 1.9 0a0.95 0.95 0 1 0 -1.9 0M196.6 180.5a0.95 0.95 0 1 0 1.9 0a0.95 0.95 0 1 0 -1.9 0M198.1 179.5a0.95 0.95 0 1 0 1.9 0a0.95 0.95 0 1 0 -1.9 0M192.1 191a0.95 0.95 0 1 0 1.9 0a0.95 0.95 0 1 0 -1.9 0M195.5 195.5a0.95 0.95 0 1 0 1.9 0a0.95 0.95 0 1 0 -1.9 0M198.4 196.5a0.95 0.95 0 1 0 1.9 0a0.95 0.95 0 1 0 -1.9 0M199.2 199.5a0.95 0.95 0 1 0 1.9 0a0.95 0.95 0 1 0 -1.9 0M211.5 206a0.95 0.95 0 1 0 1.9 0a0.95 0.95 0 1 0 -1.9 0M192.4 207a0.95 0.95 0 1 0 1.9 0a0.95 0.95 0 1 0 -1.9 0M206.6 222.3a0.95 0.95 0 1 0 1.9 0a0.95 0.95 0 1 0 -1.9 0M192.6 221a0.95 0.95 0 1 0 1.9 0a0.95 0.95 0 1 0 -1.9 0M200.1 230.6a0.95 0.95 0 1 0 1.9 0a0.95 0.95 0 1 0 -1.9 0M196.1 247a0.95 0.95 0 1 0 1.9 0a0.95 0.95 0 1 0 -1.9 0M192.6 255.5a0.95 0.95 0 1 0 1.9 0a0.95 0.95 0 1 0 -1.9 0M253.6 257.6a0.95 0.95 0 1 0 1.9 0a0.95 0.95 0 1 0 -1.9 0M195.1 264.5a0.95 0.95 0 1 0 1.9 0a0.95 0.95 0 1 0 -1.9 0M201.1 266a0.95 0.95 0 1 0 1.9 0a0.95 0.95 0 1 0 -1.9 0"/>
<line x1="157.7" y1="37" x2="157.7" y2="296.4" stroke="#333" stroke-width="0.7"/>
<line x1="31.5" y1="267.5" x2="264.8" y2="267.5" stroke="#333" stroke-width="0.7"/>
<line x1="133.2" y1="102.8" x2="120.6" y2="127.6" stroke="#222" stroke-width="0.6"/>
<line x1="103.5" y1="212.7" x2="120.8" y2="173.5" stroke="#222" stroke-width="0.6"/>
<rect x="115.3" y="94.3" width="39.9" height="9.1" rx="1.6" fill="#fff" stroke="#444" stroke-width="0.75"/>
<text x="116.7" y="101.3" font-size="7.6" textLength="37.5" lengthAdjust="spacingAndGlyphs" class="ns">USP17L12</text>
<rect x="81.8" y="126.8" width="34.6" height="9" rx="1.6" fill="#fff" stroke="#444" stroke-width="0.75"/>
<text x="83.2" y="133.7" font-size="7.6" textLength="32.2" lengthAdjust="spacingAndGlyphs" class="ns">USP17L3</text>
<rect x="117.6" y="154.3" width="33.9" height="9.1" rx="1.6" fill="#fff" stroke="#444" stroke-width="0.75"/>
<text x="119" y="161.3" font-size="7.6" textLength="31.5" lengthAdjust="spacingAndGlyphs" class="ns">USP17L7</text>
<rect x="124.7" y="180.8" width="39.2" height="10.1" rx="1.6" fill="#fff" stroke="#444" stroke-width="0.75"/>
<text x="126.1" y="188.8" font-size="7.6" textLength="36.8" lengthAdjust="spacingAndGlyphs" class="ns">USP17L17</text>
<rect x="61.9" y="210.9" width="41.1" height="9.3" rx="1.6" fill="#fff" stroke="#444" stroke-width="0.75"/>
<text x="63.3" y="218.1" font-size="7.6" textLength="38.7" lengthAdjust="spacingAndGlyphs" class="ns">USP17L15</text>
<rect x="125.4" y="233.3" width="38.5" height="9.5" rx="1.6" fill="#fff" stroke="#444" stroke-width="0.75"/>
<text x="126.8" y="240.7" font-size="7.6" textLength="36.1" lengthAdjust="spacingAndGlyphs" class="ns">USP17L11</text>
<text x="16.8" y="16.5" font-size="12" font-weight="bold" fill="#111" textLength="8.6" lengthAdjust="spacingAndGlyphs">A</text>
<text x="80" y="31.3" font-size="8" fill="#333" textLength="137.7" lengthAdjust="spacingAndGlyphs">Immune compartment : 6mo. survival</text>
<text x="14.8" y="188.8" font-size="9.3" fill="#333" textLength="46.6" lengthAdjust="spacingAndGlyphs" transform="rotate(-90 14.8 188.8)">−log10(padj)</text>
<text x="143.1" y="322.6" font-size="9.8" fill="#333" textLength="11.2" lengthAdjust="spacingAndGlyphs">LFC</text>
<text x="254.2" y="96.2" font-size="8.6" fill="#333" textLength="27" lengthAdjust="spacingAndGlyphs">delabel</text>
<path fill="#23791f" stroke="#17521a" stroke-width="0.4" d="M255.2 104.8a2.9 2.9 0 1 0 5.8 0a2.9 2.9 0 1 0 -5.8 0"/>
<path fill="#7533a8" stroke="#4a2070" stroke-width="0.4" d="M255.2 115.8a2.9 2.9 0 1 0 5.8 0a2.9 2.9 0 1 0 -5.8 0"/>
<path fill="#f29a72" d="M255.2 127.3a2.9 2.9 0 1 0 5.8 0a2.9 2.9 0 1 0 -5.8 0"/>
<text x="265" y="107.1" font-size="8.8" fill="#333" textLength="79.6" lengthAdjust="spacingAndGlyphs">long survival (&gt; 6 mo)</text>
<text x="265" y="117.8" font-size="8.8" fill="#333" textLength="80.2" lengthAdjust="spacingAndGlyphs">short survival (≤ 6 mo)</text>
<text x="265" y="130.6" font-size="8.8" fill="#333" textLength="27.3" lengthAdjust="spacingAndGlyphs">Not.Sig</text>
<text x="363.8" y="16.8" font-size="12" font-weight="bold" fill="#111" textLength="7.5" lengthAdjust="spacingAndGlyphs">B</text>
<text x="407.3" y="26" font-size="8" fill="#333" textLength="88.9" lengthAdjust="spacingAndGlyphs">USP17L RNA expression</text>
<rect x="412.2" y="85.6" width="31.4" height="61.6" fill="#b7d6f0"/>
<rect x="460" y="119.1" width="31.4" height="28.1" fill="#f4a7cc"/>
<line x1="427.7" y1="70.6" x2="427.7" y2="100.2" stroke="#4799cc" stroke-width="1.0"/>
<line x1="420.2" y1="70.6" x2="435.6" y2="70.6" stroke="#4799cc" stroke-width="1.0"/>
<line x1="420.2" y1="100.2" x2="435.6" y2="100.2" stroke="#4799cc" stroke-width="1.0"/>
<line x1="475.5" y1="108.2" x2="475.5" y2="129.3" stroke="#d4307a" stroke-width="1.2"/>
<line x1="468.3" y1="108.2" x2="483.2" y2="108.2" stroke="#d4307a" stroke-width="1.2"/>
<line x1="468.3" y1="129.3" x2="483.2" y2="129.3" stroke="#d4307a" stroke-width="1.2"/>
<path fill="#2485ba" d="M426.2 49.6a1.45 1.45 0 1 0 2.9 0a1.45 1.45 0 1 0 -2.9 0M423.2 83.5a1.45 1.45 0 1 0 2.9 0a1.45 1.45 0 1 0 -2.9 0M423.2 88.6a1.45 1.45 0 1 0 2.9 0a1.45 1.45 0 1 0 -2.9 0M423.2 92.8a1.45 1.45 0 1 0 2.9 0a1.45 1.45 0 1 0 -2.9 0M423.2 97.2a1.45 1.45 0 1 0 2.9 0a1.45 1.45 0 1 0 -2.9 0M429.8 86.5a1.45 1.45 0 1 0 2.9 0a1.45 1.45 0 1 0 -2.9 0M429.8 90.2a1.45 1.45 0 1 0 2.9 0a1.45 1.45 0 1 0 -2.9 0M429.8 94.6a1.45 1.45 0 1 0 2.9 0a1.45 1.45 0 1 0 -2.9 0"/>
<path fill="#c8156a" d="M473.8 98.8a1.35 1.35 0 1 0 2.7 0a1.35 1.35 0 1 0 -2.7 0M476 103.5a1.35 1.35 0 1 0 2.7 0a1.35 1.35 0 1 0 -2.7 0M471.8 105.3a1.35 1.35 0 1 0 2.7 0a1.35 1.35 0 1 0 -2.7 0M476 106.3a1.35 1.35 0 1 0 2.7 0a1.35 1.35 0 1 0 -2.7 0M480.4 106.6a1.35 1.35 0 1 0 2.7 0a1.35 1.35 0 1 0 -2.7 0M468.1 107.7a1.35 1.35 0 1 0 2.7 0a1.35 1.35 0 1 0 -2.7 0M468.1 112.6a1.35 1.35 0 1 0 2.7 0a1.35 1.35 0 1 0 -2.7 0M480.4 112.4a1.35 1.35 0 1 0 2.7 0a1.35 1.35 0 1 0 -2.7 0M471.8 115.7a1.35 1.35 0 1 0 2.7 0a1.35 1.35 0 1 0 -2.7 0M476 114.6a1.35 1.35 0 1 0 2.7 0a1.35 1.35 0 1 0 -2.7 0M476 119.7a1.35 1.35 0 1 0 2.7 0a1.35 1.35 0 1 0 -2.7 0M468.1 120.5a1.35 1.35 0 1 0 2.7 0a1.35 1.35 0 1 0 -2.7 0M480.4 121a1.35 1.35 0 1 0 2.7 0a1.35 1.35 0 1 0 -2.7 0M468.1 124.2a1.35 1.35 0 1 0 2.7 0a1.35 1.35 0 1 0 -2.7 0M476 122.9a1.35 1.35 0 1 0 2.7 0a1.35 1.35 0 1 0 -2.7 0M480.4 124.6a1.35 1.35 0 1 0 2.7 0a1.35 1.35 0 1 0 -2.7 0M476 125.9a1.35 1.35 0 1 0 2.7 0a1.35 1.35 0 1 0 -2.7 0M463.8 128.8a1.35 1.35 0 1 0 2.7 0a1.35 1.35 0 1 0 -2.7 0M468.1 129.7a1.35 1.35 0 1 0 2.7 0a1.35 1.35 0 1 0 -2.7 0M471.8 129.4a1.35 1.35 0 1 0 2.7 0a1.35 1.35 0 1 0 -2.7 0M476 130a1.35 1.35 0 1 0 2.7 0a1.35 1.35 0 1 0 -2.7 0M480.4 129.4a1.35 1.35 0 1 0 2.7 0a1.35 1.35 0 1 0 -2.7 0M484.6 130a1.35 1.35 0 1 0 2.7 0a1.35 1.35 0 1 0 -2.7 0M473.8 136.8a1.35 1.35 0 1 0 2.7 0a1.35 1.35 0 1 0 -2.7 0"/>
<line x1="395.8" y1="44.5" x2="395.8" y2="147.9" stroke="#222" stroke-width="1.2"/>
<line x1="395.2" y1="147.2" x2="507.3" y2="147.2" stroke="#222" stroke-width="1.2"/>
<line x1="392.6" y1="147.2" x2="395.8" y2="147.2" stroke="#222" stroke-width="0.9"/>
<text x="390" y="150.1" font-size="8" text-anchor="end" fill="#333" textLength="4.5" lengthAdjust="spacingAndGlyphs">0</text>
<line x1="392.6" y1="130.2" x2="395.8" y2="130.2" stroke="#222" stroke-width="0.9"/>
<text x="390" y="133.1" font-size="8" text-anchor="end" fill="#333" textLength="13.5" lengthAdjust="spacingAndGlyphs">100</text>
<line x1="392.6" y1="113.1" x2="395.8" y2="113.1" stroke="#222" stroke-width="0.9"/>
<text x="390" y="116" font-size="8" text-anchor="end" fill="#333" textLength="13.5" lengthAdjust="spacingAndGlyphs">200</text>
<line x1="392.6" y1="96.1" x2="395.8" y2="96.1" stroke="#222" stroke-width="0.9"/>
<text x="390" y="99" font-size="8" text-anchor="end" fill="#333" textLength="13.5" lengthAdjust="spacingAndGlyphs">300</text>
<line x1="392.6" y1="79.1" x2="395.8" y2="79.1" stroke="#222" stroke-width="0.9"/>
<text x="390" y="82" font-size="8" text-anchor="end" fill="#333" textLength="13.5" lengthAdjust="spacingAndGlyphs">400</text>
<line x1="392.6" y1="62" x2="395.8" y2="62" stroke="#222" stroke-width="0.9"/>
<text x="390" y="64.9" font-size="8" text-anchor="end" fill="#333" textLength="13.5" lengthAdjust="spacingAndGlyphs">500</text>
<line x1="392.6" y1="45" x2="395.8" y2="45" stroke="#222" stroke-width="0.9"/>
<text x="390" y="47.9" font-size="8" text-anchor="end" fill="#333" textLength="13.5" lengthAdjust="spacingAndGlyphs">600</text>
<line x1="394.2" y1="143.8" x2="395.8" y2="143.8" stroke="#222" stroke-width="0.7"/>
<line x1="394.2" y1="140.4" x2="395.8" y2="140.4" stroke="#222" stroke-width="0.7"/>
<line x1="394.2" y1="137" x2="395.8" y2="137" stroke="#222" stroke-width="0.7"/>
<line x1="394.2" y1="133.6" x2="395.8" y2="133.6" stroke="#222" stroke-width="0.7"/>
<line x1="394.2" y1="126.8" x2="395.8" y2="126.8" stroke="#222" stroke-width="0.7"/>
<line x1="394.2" y1="123.4" x2="395.8" y2="123.4" stroke="#222" stroke-width="0.7"/>
<line x1="394.2" y1="120" x2="395.8" y2="120" stroke="#222" stroke-width="0.7"/>
<line x1="394.2" y1="116.5" x2="395.8" y2="116.5" stroke="#222" stroke-width="0.7"/>
<line x1="394.2" y1="109.7" x2="395.8" y2="109.7" stroke="#222" stroke-width="0.7"/>
<line x1="394.2" y1="106.3" x2="395.8" y2="106.3" stroke="#222" stroke-width="0.7"/>
<line x1="394.2" y1="102.9" x2="395.8" y2="102.9" stroke="#222" stroke-width="0.7"/>
<line x1="394.2" y1="99.5" x2="395.8" y2="99.5" stroke="#222" stroke-width="0.7"/>
<line x1="394.2" y1="92.7" x2="395.8" y2="92.7" stroke="#222" stroke-width="0.7"/>
<line x1="394.2" y1="89.3" x2="395.8" y2="89.3" stroke="#222" stroke-width="0.7"/>
<line x1="394.2" y1="85.9" x2="395.8" y2="85.9" stroke="#222" stroke-width="0.7"/>
<line x1="394.2" y1="82.5" x2="395.8" y2="82.5" stroke="#222" stroke-width="0.7"/>
<line x1="394.2" y1="75.7" x2="395.8" y2="75.7" stroke="#222" stroke-width="0.7"/>
<line x1="394.2" y1="72.3" x2="395.8" y2="72.3" stroke="#222" stroke-width="0.7"/>
<line x1="394.2" y1="68.9" x2="395.8" y2="68.9" stroke="#222" stroke-width="0.7"/>
<line x1="394.2" y1="65.5" x2="395.8" y2="65.5" stroke="#222" stroke-width="0.7"/>
<line x1="394.2" y1="58.6" x2="395.8" y2="58.6" stroke="#222" stroke-width="0.7"/>
<line x1="394.2" y1="55.2" x2="395.8" y2="55.2" stroke="#222" stroke-width="0.7"/>
<line x1="394.2" y1="51.8" x2="395.8" y2="51.8" stroke="#222" stroke-width="0.7"/>
<line x1="394.2" y1="48.4" x2="395.8" y2="48.4" stroke="#222" stroke-width="0.7"/>
<line x1="427.7" y1="147.2" x2="427.7" y2="150" stroke="#222" stroke-width="0.9"/>
<line x1="474.6" y1="147.2" x2="474.6" y2="150" stroke="#222" stroke-width="0.9"/>
<path d="M427.5 44V37.6H475.3V92.3" fill="none" stroke="#333" stroke-width="0.8"/>
<text x="445.2" y="37.4" font-size="8" fill="#333" textLength="13.5" lengthAdjust="spacingAndGlyphs">****</text>
<text x="409.2" y="160.8" font-size="8.5" fill="#333" textLength="35.2" lengthAdjust="spacingAndGlyphs">High (Q4)</text>
<text x="452.1" y="160.8" font-size="8.5" fill="#333" textLength="47.1" lengthAdjust="spacingAndGlyphs">Low (Others)</text>
<text x="425.8" y="173.8" font-size="9.5" fill="#333" textLength="52.7" lengthAdjust="spacingAndGlyphs">RNA expression</text>
<text x="369.8" y="137.7" font-size="8.6" fill="#333" textLength="83.3" lengthAdjust="spacingAndGlyphs" transform="rotate(-90 369.8 137.7)">Mean transcript copies/case</text>
<text x="17" y="382.6" font-size="11" font-weight="bold" fill="#111" textLength="6.8" lengthAdjust="spacingAndGlyphs">E</text>
<text x="76.3" y="396.3" font-size="8" fill="#333" textLength="114.5" lengthAdjust="spacingAndGlyphs">USP17L ISH : RNA High vs Low</text>
<rect x="91.7" y="477.6" width="32.6" height="46.7" fill="#b7d6f0"/>
<rect x="141.2" y="502.8" width="32.8" height="21.5" fill="#f4a7cc"/>
<line x1="107.9" y1="445.5" x2="107.9" y2="509.4" stroke="#4799cc" stroke-width="1.0"/>
<line x1="99.8" y1="445.5" x2="116" y2="445.5" stroke="#4799cc" stroke-width="1.0"/>
<line x1="99.8" y1="509.4" x2="116" y2="509.4" stroke="#4799cc" stroke-width="1.0"/>
<line x1="157.5" y1="481.2" x2="157.5" y2="524.3" stroke="#d4307a" stroke-width="1.2"/>
<line x1="149.4" y1="481.2" x2="165.4" y2="481.2" stroke="#d4307a" stroke-width="1.2"/>
<path fill="#2485ba" d="M106.5 420.3a1.45 1.45 0 1 0 2.9 0a1.45 1.45 0 1 0 -2.9 0M106.5 453.3a1.45 1.45 0 1 0 2.9 0a1.45 1.45 0 1 0 -2.9 0M106.5 463.5a1.45 1.45 0 1 0 2.9 0a1.45 1.45 0 1 0 -2.9 0M106.5 476.9a1.45 1.45 0 1 0 2.9 0a1.45 1.45 0 1 0 -2.9 0M106.5 479.7a1.45 1.45 0 1 0 2.9 0a1.45 1.45 0 1 0 -2.9 0M106.5 502.7a1.45 1.45 0 1 0 2.9 0a1.45 1.45 0 1 0 -2.9 0M106.5 514.6a1.45 1.45 0 1 0 2.9 0a1.45 1.45 0 1 0 -2.9 0"/>
<path fill="#c8156a" d="M156.2 448.4a1.35 1.35 0 1 0 2.7 0a1.35 1.35 0 1 0 -2.7 0M156.2 459.2a1.35 1.35 0 1 0 2.7 0a1.35 1.35 0 1 0 -2.7 0M156.2 474.5a1.35 1.35 0 1 0 2.7 0a1.35 1.35 0 1 0 -2.7 0M156.2 483.5a1.35 1.35 0 1 0 2.7 0a1.35 1.35 0 1 0 -2.7 0M156.2 485.6a1.35 1.35 0 1 0 2.7 0a1.35 1.35 0 1 0 -2.7 0M160.7 485a1.35 1.35 0 1 0 2.7 0a1.35 1.35 0 1 0 -2.7 0M151.8 494.7a1.35 1.35 0 1 0 2.7 0a1.35 1.35 0 1 0 -2.7 0M156.2 496.6a1.35 1.35 0 1 0 2.7 0a1.35 1.35 0 1 0 -2.7 0M156.2 498.7a1.35 1.35 0 1 0 2.7 0a1.35 1.35 0 1 0 -2.7 0M154 504a1.35 1.35 0 1 0 2.7 0a1.35 1.35 0 1 0 -2.7 0M158.5 504a1.35 1.35 0 1 0 2.7 0a1.35 1.35 0 1 0 -2.7 0M156.2 510.5a1.35 1.35 0 1 0 2.7 0a1.35 1.35 0 1 0 -2.7 0M151.8 511a1.35 1.35 0 1 0 2.7 0a1.35 1.35 0 1 0 -2.7 0M160.7 511.5a1.35 1.35 0 1 0 2.7 0a1.35 1.35 0 1 0 -2.7 0M164.8 510.5a1.35 1.35 0 1 0 2.7 0a1.35 1.35 0 1 0 -2.7 0M151.8 515a1.35 1.35 0 1 0 2.7 0a1.35 1.35 0 1 0 -2.7 0M156.2 515.5a1.35 1.35 0 1 0 2.7 0a1.35 1.35 0 1 0 -2.7 0M160.7 515a1.35 1.35 0 1 0 2.7 0a1.35 1.35 0 1 0 -2.7 0M160.7 520a1.35 1.35 0 1 0 2.7 0a1.35 1.35 0 1 0 -2.7 0M151.8 521.8a1.35 1.35 0 1 0 2.7 0a1.35 1.35 0 1 0 -2.7 0M147.7 523.2a1.35 1.35 0 1 0 2.7 0a1.35 1.35 0 1 0 -2.7 0M156.2 523.2a1.35 1.35 0 1 0 2.7 0a1.35 1.35 0 1 0 -2.7 0M160.7 523.2a1.35 1.35 0 1 0 2.7 0a1.35 1.35 0 1 0 -2.7 0M164.7 523.2a1.35 1.35 0 1 0 2.7 0a1.35 1.35 0 1 0 -2.7 0M151.7 523.4a1.35 1.35 0 1 0 2.7 0a1.35 1.35 0 1 0 -2.7 0"/>
<line x1="74" y1="414.6" x2="74" y2="525" stroke="#222" stroke-width="1.2"/>
<line x1="73.5" y1="524.3" x2="191.6" y2="524.3" stroke="#222" stroke-width="1.2"/>
<line x1="71" y1="524.3" x2="74" y2="524.3" stroke="#222" stroke-width="0.9"/>
<text x="68.7" y="527.2" font-size="8" text-anchor="end" fill="#333" textLength="4.2" lengthAdjust="spacingAndGlyphs">0</text>
<line x1="71" y1="509.4" x2="74" y2="509.4" stroke="#222" stroke-width="0.9"/>
<text x="68.7" y="512.3" font-size="8" text-anchor="end" fill="#333" textLength="8.6" lengthAdjust="spacingAndGlyphs">10</text>
<line x1="71" y1="494.6" x2="74" y2="494.6" stroke="#222" stroke-width="0.9"/>
<text x="68.7" y="497.5" font-size="8" text-anchor="end" fill="#333" textLength="8.6" lengthAdjust="spacingAndGlyphs">20</text>
<line x1="71" y1="479.7" x2="74" y2="479.7" stroke="#222" stroke-width="0.9"/>
<text x="68.7" y="482.6" font-size="8" text-anchor="end" fill="#333" textLength="8.6" lengthAdjust="spacingAndGlyphs">30</text>
<line x1="71" y1="464.9" x2="74" y2="464.9" stroke="#222" stroke-width="0.9"/>
<text x="68.7" y="467.8" font-size="8" text-anchor="end" fill="#333" textLength="8.6" lengthAdjust="spacingAndGlyphs">40</text>
<line x1="71" y1="450" x2="74" y2="450" stroke="#222" stroke-width="0.9"/>
<text x="68.7" y="452.9" font-size="8" text-anchor="end" fill="#333" textLength="8.6" lengthAdjust="spacingAndGlyphs">50</text>
<line x1="71" y1="435.1" x2="74" y2="435.1" stroke="#222" stroke-width="0.9"/>
<text x="68.7" y="438" font-size="8" text-anchor="end" fill="#333" textLength="8.6" lengthAdjust="spacingAndGlyphs">60</text>
<line x1="71" y1="420.3" x2="74" y2="420.3" stroke="#222" stroke-width="0.9"/>
<text x="68.7" y="423.2" font-size="8" text-anchor="end" fill="#333" textLength="8.6" lengthAdjust="spacingAndGlyphs">70</text>
<line x1="72.6" y1="521.3" x2="74" y2="521.3" stroke="#222" stroke-width="0.7"/>
<line x1="72.6" y1="518.4" x2="74" y2="518.4" stroke="#222" stroke-width="0.7"/>
<line x1="72.6" y1="515.4" x2="74" y2="515.4" stroke="#222" stroke-width="0.7"/>
<line x1="72.6" y1="512.4" x2="74" y2="512.4" stroke="#222" stroke-width="0.7"/>
<line x1="72.6" y1="506.5" x2="74" y2="506.5" stroke="#222" stroke-width="0.7"/>
<line x1="72.6" y1="503.5" x2="74" y2="503.5" stroke="#222" stroke-width="0.7"/>
<line x1="72.6" y1="500.5" x2="74" y2="500.5" stroke="#222" stroke-width="0.7"/>
<line x1="72.6" y1="497.6" x2="74" y2="497.6" stroke="#222" stroke-width="0.7"/>
<line x1="72.6" y1="491.6" x2="74" y2="491.6" stroke="#222" stroke-width="0.7"/>
<line x1="72.6" y1="488.6" x2="74" y2="488.6" stroke="#222" stroke-width="0.7"/>
<line x1="72.6" y1="485.7" x2="74" y2="485.7" stroke="#222" stroke-width="0.7"/>
<line x1="72.6" y1="482.7" x2="74" y2="482.7" stroke="#222" stroke-width="0.7"/>
<line x1="72.6" y1="476.7" x2="74" y2="476.7" stroke="#222" stroke-width="0.7"/>
<line x1="72.6" y1="473.8" x2="74" y2="473.8" stroke="#222" stroke-width="0.7"/>
<line x1="72.6" y1="470.8" x2="74" y2="470.8" stroke="#222" stroke-width="0.7"/>
<line x1="72.6" y1="467.8" x2="74" y2="467.8" stroke="#222" stroke-width="0.7"/>
<line x1="72.6" y1="461.9" x2="74" y2="461.9" stroke="#222" stroke-width="0.7"/>
<line x1="72.6" y1="458.9" x2="74" y2="458.9" stroke="#222" stroke-width="0.7"/>
<line x1="72.6" y1="455.9" x2="74" y2="455.9" stroke="#222" stroke-width="0.7"/>
<line x1="72.6" y1="453" x2="74" y2="453" stroke="#222" stroke-width="0.7"/>
<line x1="72.6" y1="447" x2="74" y2="447" stroke="#222" stroke-width="0.7"/>
<line x1="72.6" y1="444.1" x2="74" y2="444.1" stroke="#222" stroke-width="0.7"/>
<line x1="72.6" y1="441.1" x2="74" y2="441.1" stroke="#222" stroke-width="0.7"/>
<line x1="72.6" y1="438.1" x2="74" y2="438.1" stroke="#222" stroke-width="0.7"/>
<line x1="72.6" y1="432.2" x2="74" y2="432.2" stroke="#222" stroke-width="0.7"/>
<line x1="72.6" y1="429.2" x2="74" y2="429.2" stroke="#222" stroke-width="0.7"/>
<line x1="72.6" y1="426.2" x2="74" y2="426.2" stroke="#222" stroke-width="0.7"/>
<line x1="72.6" y1="423.3" x2="74" y2="423.3" stroke="#222" stroke-width="0.7"/>
<line x1="107.9" y1="524.3" x2="107.9" y2="527" stroke="#222" stroke-width="0.9"/>
<line x1="157.5" y1="524.3" x2="157.5" y2="527" stroke="#222" stroke-width="0.9"/>
<path d="M107.5 413V407.5H157.5V442" fill="none" stroke="#333" stroke-width="0.8"/>
<text x="131.3" y="405.8" font-size="8" fill="#333">*</text>
<text x="89.2" y="537.7" font-size="8.5" fill="#333" textLength="35.2" lengthAdjust="spacingAndGlyphs">High (Q4)</text>
<text x="135" y="537.7" font-size="8.5" fill="#333" textLength="45.6" lengthAdjust="spacingAndGlyphs">Low (Others)</text>
<text x="92.7" y="550.8" font-size="9.5" fill="#333" textLength="81.1" lengthAdjust="spacingAndGlyphs">USP17L RNA expression</text>
<text x="53.2" y="503" font-size="8.6" fill="#333" textLength="65.6" lengthAdjust="spacingAndGlyphs" transform="rotate(-90 53.2 503)">% ISH positive cells</text>
<text x="293" y="222.7" font-size="11.5" font-weight="bold" fill="#111" textLength="7.8" lengthAdjust="spacingAndGlyphs">C</text>
<text x="330.4" y="232.6" font-size="8" fill="#333" textLength="98" lengthAdjust="spacingAndGlyphs">12mo. NRM : USP17L RNA</text>
<line x1="324.5" y1="243.5" x2="324.5" y2="341" stroke="#222" stroke-width="1.1"/>
<line x1="324" y1="340.4" x2="430.5" y2="340.4" stroke="#222" stroke-width="1.1"/>
<line x1="321.5" y1="340.4" x2="324.5" y2="340.4" stroke="#222" stroke-width="0.9"/>
<text x="319" y="343" font-size="7.5" text-anchor="end" fill="#333" textLength="3.9" lengthAdjust="spacingAndGlyphs">0</text>
<line x1="321.5" y1="321.2" x2="324.5" y2="321.2" stroke="#222" stroke-width="0.9"/>
<text x="319" y="323.8" font-size="7.5" text-anchor="end" fill="#333" textLength="8" lengthAdjust="spacingAndGlyphs">20</text>
<line x1="321.5" y1="302.1" x2="324.5" y2="302.1" stroke="#222" stroke-width="0.9"/>
<text x="319" y="304.7" font-size="7.5" text-anchor="end" fill="#333" textLength="8" lengthAdjust="spacingAndGlyphs">40</text>
<line x1="321.5" y1="282.9" x2="324.5" y2="282.9" stroke="#222" stroke-width="0.9"/>
<text x="319" y="285.5" font-size="7.5" text-anchor="end" fill="#333" textLength="8" lengthAdjust="spacingAndGlyphs">60</text>
<line x1="321.5" y1="263.8" x2="324.5" y2="263.8" stroke="#222" stroke-width="0.9"/>
<text x="319" y="266.4" font-size="7.5" text-anchor="end" fill="#333" textLength="8" lengthAdjust="spacingAndGlyphs">80</text>
<line x1="321.5" y1="244.6" x2="324.5" y2="244.6" stroke="#222" stroke-width="0.9"/>
<text x="319" y="247.2" font-size="7.5" text-anchor="end" fill="#333" textLength="12.2" lengthAdjust="spacingAndGlyphs">100</text>
<line x1="322.9" y1="330.8" x2="324.5" y2="330.8" stroke="#222" stroke-width="0.7"/>
<line x1="322.9" y1="311.7" x2="324.5" y2="311.7" stroke="#222" stroke-width="0.7"/>
<line x1="322.9" y1="292.5" x2="324.5" y2="292.5" stroke="#222" stroke-width="0.7"/>
<line x1="322.9" y1="273.3" x2="324.5" y2="273.3" stroke="#222" stroke-width="0.7"/>
<line x1="322.9" y1="254.2" x2="324.5" y2="254.2" stroke="#222" stroke-width="0.7"/>
<line x1="324.5" y1="340.4" x2="324.5" y2="343.4" stroke="#222" stroke-width="0.9"/>
<text x="324.5" y="353.6" font-size="7.6" text-anchor="middle" fill="#333" textLength="3.9" lengthAdjust="spacingAndGlyphs">0</text>
<line x1="342" y1="340.4" x2="342" y2="343.4" stroke="#222" stroke-width="0.9"/>
<text x="342" y="353.6" font-size="7.6" text-anchor="middle" fill="#333" textLength="3.9" lengthAdjust="spacingAndGlyphs">2</text>
<line x1="359.5" y1="340.4" x2="359.5" y2="343.4" stroke="#222" stroke-width="0.9"/>
<text x="359.5" y="353.6" font-size="7.6" text-anchor="middle" fill="#333" textLength="3.9" lengthAdjust="spacingAndGlyphs">4</text>
<line x1="376.9" y1="340.4" x2="376.9" y2="343.4" stroke="#222" stroke-width="0.9"/>
<text x="376.9" y="353.6" font-size="7.6" text-anchor="middle" fill="#333" textLength="3.9" lengthAdjust="spacingAndGlyphs">6</text>
<line x1="394.4" y1="340.4" x2="394.4" y2="343.4" stroke="#222" stroke-width="0.9"/>
<text x="394.4" y="353.6" font-size="7.6" text-anchor="middle" fill="#333" textLength="3.9" lengthAdjust="spacingAndGlyphs">8</text>
<line x1="411.9" y1="340.4" x2="411.9" y2="343.4" stroke="#222" stroke-width="0.9"/>
<text x="411.9" y="353.6" font-size="7.6" text-anchor="middle" fill="#333" textLength="8" lengthAdjust="spacingAndGlyphs">10</text>
<line x1="429.4" y1="340.4" x2="429.4" y2="343.4" stroke="#222" stroke-width="0.9"/>
<text x="429.4" y="353.6" font-size="7.6" text-anchor="middle" fill="#333" textLength="8" lengthAdjust="spacingAndGlyphs">12</text>
<line x1="333.2" y1="340.4" x2="333.2" y2="342" stroke="#222" stroke-width="0.7"/>
<line x1="350.7" y1="340.4" x2="350.7" y2="342" stroke="#222" stroke-width="0.7"/>
<line x1="368.2" y1="340.4" x2="368.2" y2="342" stroke="#222" stroke-width="0.7"/>
<line x1="385.7" y1="340.4" x2="385.7" y2="342" stroke="#222" stroke-width="0.7"/>
<line x1="403.2" y1="340.4" x2="403.2" y2="342" stroke="#222" stroke-width="0.7"/>
<line x1="420.6" y1="340.4" x2="420.6" y2="342" stroke="#222" stroke-width="0.7"/>
<path d="M324.5 340.4H324.9V336.3H325.8V332.1H330.4V327.9H340.2V323.3H354V318.4H356V313.7H362.1V308.3H363V303.2H382.4V298H387.4V293.7H429.4" fill="none" stroke="#2b5584" stroke-width="1.35"/>
<path d="M324.5 340.4H325.5V328.4H333.1V304.5H340V280.5H352.5V268.5H368.2V256.6H382.4V244.6" fill="none" stroke="#a81f3d" stroke-width="1.35"/>
<path fill="#151520" d="M323.8 336.3a1.1 1.1 0 1 0 2.2 0a1.1 1.1 0 1 0 -2.2 0M324.7 332.1a1.1 1.1 0 1 0 2.2 0a1.1 1.1 0 1 0 -2.2 0M329.3 327.9a1.1 1.1 0 1 0 2.2 0a1.1 1.1 0 1 0 -2.2 0M333.9 327.9a1.1 1.1 0 1 0 2.2 0a1.1 1.1 0 1 0 -2.2 0M339.1 323.3a1.1 1.1 0 1 0 2.2 0a1.1 1.1 0 1 0 -2.2 0M351.4 323.3a1.1 1.1 0 1 0 2.2 0a1.1 1.1 0 1 0 -2.2 0M352.9 318.4a1.1 1.1 0 1 0 2.2 0a1.1 1.1 0 1 0 -2.2 0M354.9 313.7a1.1 1.1 0 1 0 2.2 0a1.1 1.1 0 1 0 -2.2 0M361 308.3a1.1 1.1 0 1 0 2.2 0a1.1 1.1 0 1 0 -2.2 0M361.9 303.2a1.1 1.1 0 1 0 2.2 0a1.1 1.1 0 1 0 -2.2 0M381.3 298a1.1 1.1 0 1 0 2.2 0a1.1 1.1 0 1 0 -2.2 0M386.3 293.7a1.1 1.1 0 1 0 2.2 0a1.1 1.1 0 1 0 -2.2 0M428.3 293.7a1.1 1.1 0 1 0 2.2 0a1.1 1.1 0 1 0 -2.2 0"/>
<path fill="#201010" d="M324.4 328.4a1.1 1.1 0 1 0 2.2 0a1.1 1.1 0 1 0 -2.2 0M332 316.4a1.1 1.1 0 1 0 2.2 0a1.1 1.1 0 1 0 -2.2 0M332 304.5a1.1 1.1 0 1 0 2.2 0a1.1 1.1 0 1 0 -2.2 0M338.9 292.5a1.1 1.1 0 1 0 2.2 0a1.1 1.1 0 1 0 -2.2 0M338.9 280.5a1.1 1.1 0 1 0 2.2 0a1.1 1.1 0 1 0 -2.2 0M351.4 268.5a1.1 1.1 0 1 0 2.2 0a1.1 1.1 0 1 0 -2.2 0M367.1 256.6a1.1 1.1 0 1 0 2.2 0a1.1 1.1 0 1 0 -2.2 0M381.3 244.6a1.1 1.1 0 1 0 2.2 0a1.1 1.1 0 1 0 -2.2 0"/>
<text x="392.1" y="249.7" font-size="8.5" fill="#333">P</text>
<text x="400.1" y="249.7" font-size="8.5" fill="#333" textLength="26.2" lengthAdjust="spacingAndGlyphs">= .0012</text>
<text x="298.4" y="333.9" font-size="8.6" fill="#333" textLength="88.4" lengthAdjust="spacingAndGlyphs" transform="rotate(-90 298.4 333.9)">Non-relapse mortality (%)</text>
<text x="350" y="367" font-size="9.5" fill="#333" textLength="58.3" lengthAdjust="spacingAndGlyphs">Time (in months)</text>
<line x1="437.9" y1="246.2" x2="448.7" y2="246.2" stroke="#2b5584" stroke-width="1.1"/>
<path fill="#222" d="M442.4 245.9a0.9 0.9 0 1 0 1.8 0a0.9 0.9 0 1 0 -1.8 0"/>
<text x="451.4" y="248.8" font-size="8.5" fill="#333" textLength="56.5" lengthAdjust="spacingAndGlyphs">Low expressors</text>
<line x1="437.9" y1="259.7" x2="448.7" y2="259.7" stroke="#a81f3d" stroke-width="1.1"/>
<path fill="#222" d="M442.4 259.4a0.9 0.9 0 1 0 1.8 0a0.9 0.9 0 1 0 -1.8 0"/>
<text x="451.4" y="262.3" font-size="8.5" fill="#333" textLength="58.6" lengthAdjust="spacingAndGlyphs">High expressors</text>
<text x="289.2" y="382.7" font-size="11.5" font-weight="bold" fill="#111" textLength="8.1" lengthAdjust="spacingAndGlyphs">D</text>
<text x="334.8" y="410.1" font-size="8" fill="#333" textLength="90.4" lengthAdjust="spacingAndGlyphs">12mo. OS : USP17L RNA</text>
<line x1="322.6" y1="424" x2="322.6" y2="524.7" stroke="#222" stroke-width="1.1"/>
<line x1="322.1" y1="524.1" x2="431" y2="524.1" stroke="#222" stroke-width="1.1"/>
<line x1="319.6" y1="524.1" x2="322.6" y2="524.1" stroke="#222" stroke-width="0.9"/>
<text x="317.1" y="526.7" font-size="7.5" text-anchor="end" fill="#333" textLength="3.9" lengthAdjust="spacingAndGlyphs">0</text>
<line x1="319.6" y1="504.4" x2="322.6" y2="504.4" stroke="#222" stroke-width="0.9"/>
<text x="317.1" y="507" font-size="7.5" text-anchor="end" fill="#333" textLength="8" lengthAdjust="spacingAndGlyphs">20</text>
<line x1="319.6" y1="484.6" x2="322.6" y2="484.6" stroke="#222" stroke-width="0.9"/>
<text x="317.1" y="487.2" font-size="7.5" text-anchor="end" fill="#333" textLength="8" lengthAdjust="spacingAndGlyphs">40</text>
<line x1="319.6" y1="464.9" x2="322.6" y2="464.9" stroke="#222" stroke-width="0.9"/>
<text x="317.1" y="467.5" font-size="7.5" text-anchor="end" fill="#333" textLength="8" lengthAdjust="spacingAndGlyphs">60</text>
<line x1="319.6" y1="445.1" x2="322.6" y2="445.1" stroke="#222" stroke-width="0.9"/>
<text x="317.1" y="447.7" font-size="7.5" text-anchor="end" fill="#333" textLength="8" lengthAdjust="spacingAndGlyphs">80</text>
<line x1="319.6" y1="425.4" x2="322.6" y2="425.4" stroke="#222" stroke-width="0.9"/>
<text x="317.1" y="428" font-size="7.5" text-anchor="end" fill="#333" textLength="12.2" lengthAdjust="spacingAndGlyphs">100</text>
<line x1="321" y1="514.2" x2="322.6" y2="514.2" stroke="#222" stroke-width="0.7"/>
<line x1="321" y1="494.5" x2="322.6" y2="494.5" stroke="#222" stroke-width="0.7"/>
<line x1="321" y1="474.8" x2="322.6" y2="474.8" stroke="#222" stroke-width="0.7"/>
<line x1="321" y1="455" x2="322.6" y2="455" stroke="#222" stroke-width="0.7"/>
<line x1="321" y1="435.3" x2="322.6" y2="435.3" stroke="#222" stroke-width="0.7"/>
<line x1="322.6" y1="524.1" x2="322.6" y2="527.1" stroke="#222" stroke-width="0.9"/>
<text x="322.6" y="537.3" font-size="7.6" text-anchor="middle" fill="#333" textLength="3.9" lengthAdjust="spacingAndGlyphs">0</text>
<line x1="340.6" y1="524.1" x2="340.6" y2="527.1" stroke="#222" stroke-width="0.9"/>
<text x="340.6" y="537.3" font-size="7.6" text-anchor="middle" fill="#333" textLength="3.9" lengthAdjust="spacingAndGlyphs">2</text>
<line x1="358.6" y1="524.1" x2="358.6" y2="527.1" stroke="#222" stroke-width="0.9"/>
<text x="358.6" y="537.3" font-size="7.6" text-anchor="middle" fill="#333" textLength="3.9" lengthAdjust="spacingAndGlyphs">4</text>
<line x1="376.6" y1="524.1" x2="376.6" y2="527.1" stroke="#222" stroke-width="0.9"/>
<text x="376.6" y="537.3" font-size="7.6" text-anchor="middle" fill="#333" textLength="3.9" lengthAdjust="spacingAndGlyphs">6</text>
<line x1="394.6" y1="524.1" x2="394.6" y2="527.1" stroke="#222" stroke-width="0.9"/>
<text x="394.6" y="537.3" font-size="7.6" text-anchor="middle" fill="#333" textLength="3.9" lengthAdjust="spacingAndGlyphs">8</text>
<line x1="412.6" y1="524.1" x2="412.6" y2="527.1" stroke="#222" stroke-width="0.9"/>
<text x="412.6" y="537.3" font-size="7.6" text-anchor="middle" fill="#333" textLength="8" lengthAdjust="spacingAndGlyphs">10</text>
<line x1="430.6" y1="524.1" x2="430.6" y2="527.1" stroke="#222" stroke-width="0.9"/>
<text x="430.6" y="537.3" font-size="7.6" text-anchor="middle" fill="#333" textLength="8" lengthAdjust="spacingAndGlyphs">12</text>
<line x1="331.6" y1="524.1" x2="331.6" y2="525.7" stroke="#222" stroke-width="0.7"/>
<line x1="349.6" y1="524.1" x2="349.6" y2="525.7" stroke="#222" stroke-width="0.7"/>
<line x1="367.6" y1="524.1" x2="367.6" y2="525.7" stroke="#222" stroke-width="0.7"/>
<line x1="385.6" y1="524.1" x2="385.6" y2="525.7" stroke="#222" stroke-width="0.7"/>
<line x1="403.6" y1="524.1" x2="403.6" y2="525.7" stroke="#222" stroke-width="0.7"/>
<line x1="421.6" y1="524.1" x2="421.6" y2="525.7" stroke="#222" stroke-width="0.7"/>
<path d="M322.6 425.4H323.1V429.5H323.7V433.6H329.4V437.7H332.1V445.7H338.8V450.1H348.7V454H353.2V462.4H355V466.6H361.8V474.8H382.5V478.9H387.4V483H430.6" fill="none" stroke="#2b5584" stroke-width="1.35"/>
<path d="M322.6 425.4H323.5V437.7H331.6V450.1H333V462.4H338.4V487.1H351.4V499.4H367.6V511.8H382.5V524.1" fill="none" stroke="#a81f3d" stroke-width="1.35"/>
<path fill="#151520" d="M321.9 429.5a1.1 1.1 0 1 0 2.2 0a1.1 1.1 0 1 0 -2.2 0M322.6 433.6a1.1 1.1 0 1 0 2.2 0a1.1 1.1 0 1 0 -2.2 0M328.2 437.7a1.1 1.1 0 1 0 2.2 0a1.1 1.1 0 1 0 -2.2 0M330.9 445.7a1.1 1.1 0 1 0 2.2 0a1.1 1.1 0 1 0 -2.2 0M337.7 450.1a1.1 1.1 0 1 0 2.2 0a1.1 1.1 0 1 0 -2.2 0M347.6 454a1.1 1.1 0 1 0 2.2 0a1.1 1.1 0 1 0 -2.2 0M352.1 462.4a1.1 1.1 0 1 0 2.2 0a1.1 1.1 0 1 0 -2.2 0M353.9 466.6a1.1 1.1 0 1 0 2.2 0a1.1 1.1 0 1 0 -2.2 0M360.6 474.8a1.1 1.1 0 1 0 2.2 0a1.1 1.1 0 1 0 -2.2 0M381.4 478.9a1.1 1.1 0 1 0 2.2 0a1.1 1.1 0 1 0 -2.2 0M386.3 483a1.1 1.1 0 1 0 2.2 0a1.1 1.1 0 1 0 -2.2 0M429.5 483a1.1 1.1 0 1 0 2.2 0a1.1 1.1 0 1 0 -2.2 0"/>
<path fill="#201010" d="M322.4 437.7a1.1 1.1 0 1 0 2.2 0a1.1 1.1 0 1 0 -2.2 0M330.5 450.1a1.1 1.1 0 1 0 2.2 0a1.1 1.1 0 1 0 -2.2 0M331.9 462.4a1.1 1.1 0 1 0 2.2 0a1.1 1.1 0 1 0 -2.2 0M337.2 474.8a1.1 1.1 0 1 0 2.2 0a1.1 1.1 0 1 0 -2.2 0M337.2 487.1a1.1 1.1 0 1 0 2.2 0a1.1 1.1 0 1 0 -2.2 0M350.3 499.4a1.1 1.1 0 1 0 2.2 0a1.1 1.1 0 1 0 -2.2 0M366.5 511.8a1.1 1.1 0 1 0 2.2 0a1.1 1.1 0 1 0 -2.2 0"/>
<text x="389.6" y="430.3" font-size="8.5" font-style="italic" fill="#333">P</text>
<text x="397.6" y="430.3" font-size="8.5" fill="#333" textLength="27.6" lengthAdjust="spacingAndGlyphs">= .0114</text>
<text x="296.9" y="504.3" font-size="8.6" fill="#333" textLength="65.3" lengthAdjust="spacingAndGlyphs" transform="rotate(-90 296.9 504.3)">Overall survival (%)</text>
<text x="348.5" y="551" font-size="9.5" fill="#333" textLength="58.3" lengthAdjust="spacingAndGlyphs">Time (in months)</text>
<line x1="440.7" y1="427.3" x2="451.3" y2="427.3" stroke="#2b5584" stroke-width="1.1"/>
<path fill="#222" d="M445.1 427a0.9 0.9 0 1 0 1.8 0a0.9 0.9 0 1 0 -1.8 0"/>
<text x="454.3" y="429.9" font-size="8.5" fill="#333" textLength="56.7" lengthAdjust="spacingAndGlyphs">Low expressors</text>
<line x1="440.7" y1="441.4" x2="451.3" y2="441.4" stroke="#a81f3d" stroke-width="1.1"/>
<path fill="#222" d="M445.1 441.1a0.9 0.9 0 1 0 1.8 0a0.9 0.9 0 1 0 -1.8 0"/>
<text x="454.3" y="444" font-size="8.5" fill="#333" textLength="58.3" lengthAdjust="spacingAndGlyphs">High expressors</text>
<text x="17" y="572.2" font-size="11.5" font-weight="bold" fill="#111" textLength="6.5" lengthAdjust="spacingAndGlyphs">F</text>
<defs><filter id="blur2"><feGaussianBlur stdDeviation="2.5"/></filter><clipPath id="cL"><rect x="52.6" y="578.8" width="110.6" height="126.6"/><rect x="163.2" y="578.8" width="80" height="47.4"/></clipPath><clipPath id="cLi"><rect x="163.3" y="626.3" width="79.9" height="79.4"/></clipPath><clipPath id="cR"><rect x="244.8" y="578.8" width="110.7" height="126.6"/><rect x="355.5" y="578.8" width="80.3" height="47.4"/></clipPath><clipPath id="cRi"><rect x="355.5" y="626.3" width="80.3" height="79.4"/></clipPath></defs>
<g clip-path="url(#cL)">
<ellipse cx="119" cy="652" rx="11" ry="9" fill="#e9e8f4" filter="url(#blur2)"/>
<path d="M65.0 626.5l-0.7 0.3M176.7 677.7l0.0 0.7M157.4 606.7l-0.1 0.2M76.4 702.4l0.3 0.2M127.8 632.1l0.1 0.3M170.2 640.4l0.1 0.1M232.6 607.2l-0.1 0.4M136.7 623.8l-0.1 0.4M239.0 621.9l-0.5 0.5M94.6 651.7l0.1 0.7M105.0 680.0l0.1 0.8M199.4 636.0l0.0 0.3M133.7 633.0l-0.0 0.1M237.6 608.6l-0.3 0.3M89.5 633.7l-0.3 0.5M169.2 656.9l0.1 0.6M200.7 651.2l0.8 0.0M120.2 678.8l-0.4 0.5M104.8 697.9l-0.0 0.9M216.8 621.6l-0.4 0.7M138.0 617.7l-0.1 0.2M84.2 629.4l-0.7 0.2M232.8 605.2l0.1 0.4M199.9 650.5l0.1 0.3M134.8 666.2l0.2 0.2M92.3 620.0l0.2 0.4M102.2 659.4l0.7 0.0M232.4 642.4l0.7 0.0M223.7 594.8l0.2 0.6M139.0 690.7l-0.2 0.8M212.7 663.2l0.6 0.2M161.8 602.1l0.4 0.1M233.8 620.8l-0.3 0.5M98.6 705.6l0.2 0.4M132.6 644.2l0.1 0.7M207.3 609.0l0.2 0.8M172.4 702.8l-0.0 0.1M87.5 633.7l-0.4 0.6M190.3 678.7l0.6 0.2M73.5 668.7l0.6 0.1M156.9 649.6l-0.6 0.5M130.2 617.5l-0.7 0.0M117.1 619.1l0.8 0.1M144.9 703.4l0.3 0.0M236.8 674.6l-0.2 0.1M97.1 685.9l-0.0 0.8M184.7 600.5l0.4 0.3M238.2 590.8l-0.2 0.1M85.1 646.9l-0.7 0.2M226.1 603.5l0.5 0.4M155.0 612.8l0.1 0.6M106.7 675.4l0.6 0.4M150.5 633.1l0.1 0.2M130.7 618.5l-0.7 0.2M130.6 582.9l-0.0 0.1M93.0 688.7l-0.2 0.4M181.5 605.4l-0.1 0.1M86.3 665.5l-0.2 0.1M165.5 705.1l-0.8 0.3M64.3 656.7l0.1 0.4M237.5 608.0l0.4 0.5M184.5 631.1l-0.8 0.3M129.0 639.1l0.7 0.3M141.4 602.4l-0.4 0.0M113.3 700.9l-0.4 0.2M60.8 634.3l-0.1 0.1M192.3 677.3l-0.4 0.8M123.7 597.4l-0.1 0.8M236.8 643.2l0.5 0.4M145.9 693.9l-0.1 0.3M191.8 609.7l0.1 0.1M207.6 608.7l-0.1 0.4M231.5 667.2l-0.1 0.2M103.6 618.0l0.4 0.5M219.8 636.9l0.0 0.4M225.5 641.9l-0.2 0.3M129.0 611.1l0.3 0.5M237.0 645.4l-0.5 0.3M118.4 687.0l0.1 0.0M135.7 603.2l0.8 0.1M200.4 699.6l-0.7 0.2M193.0 580.3l0.3 0.8M101.3 620.2l-0.3 0.1M136.2 596.1l-0.5 0.2M77.9 629.8l-0.2 0.5M98.0 625.8l-0.2 0.0M221.1 582.4l0.0 0.2M186.8 657.8l0.0 0.2M138.2 615.9l0.1 0.7M186.1 679.9l-0.3 0.4M158.9 630.9l-0.2 0.2M104.2 693.6l-0.3 0.0M83.5 641.2l-0.5 0.2M63.8 685.4l-0.0 0.8M180.2 666.0l-0.6 0.4M108.1 655.8l0.2 0.0M187.7 617.5l0.8 0.3M191.2 593.7l-0.2 0.5M192.6 693.8l0.3 0.5M179.0 689.3l0.6 0.2M195.1 645.4l0.6 0.7M206.0 588.5l-0.1 0.7M83.6 668.4l-0.7 0.0M192.5 685.4l0.0 0.6M165.7 696.4l-0.3 0.3M139.4 682.4l-0.1 0.5M146.0 594.2l0.6 0.5M96.0 662.1l-0.2 0.1M195.2 648.0l0.6 0.5M211.4 631.6l-0.0 0.3M53.9 621.4l-0.5 0.1M216.0 688.3l-0.1 0.0M91.2 647.2l-0.7 0.2M226.1 608.0l0.2 0.2M99.5 629.1l-0.6 0.3M148.5 627.0l0.2 0.4M119.6 624.0l0.8 0.4M124.5 638.3l0.4 0.1M145.9 634.9l-0.8 0.1M160.7 585.2l0.2 0.3M140.2 605.6l0.2 0.1M82.7 632.6l-0.2 0.1M125.9 641.4l0.4 0.2M83.6 693.8l-0.7 0.0M87.6 649.7l-0.1 0.2M172.5 661.4l-0.1 0.6M77.3 702.6l0.1 0.1M82.7 657.2l0.3 0.3M196.5 658.1l0.1 0.1M142.7 626.5l-0.3 0.6M199.6 685.3l0.1 0.5M200.3 621.3l-0.5 0.0M118.9 685.6l0.6 0.2M233.5 591.3l-0.1 0.6M97.1 660.6l-0.1 0.5M155.8 630.1l-0.1 0.1M120.4 644.9l0.1 0.3M52.4 612.8l-0.6 0.6M126.2 640.8l0.5 0.7M126.4 637.2l-0.4 0.8M223.2 615.8l0.2 0.3M129.9 612.7l-0.7 0.3M93.9 676.1l-0.1 0.4M126.5 593.1l0.1 0.0M149.1 633.1l0.0 0.3M182.6 613.5l0.2 0.5M85.7 630.0l0.4 0.3M180.5 604.8l0.3 0.8M234.2 629.2l-0.7 0.2M189.5 654.5l-0.0 0.2M225.6 628.5l0.0 0.3M204.5 704.3l-0.3 0.1M161.2 617.5l-0.3 0.8M177.7 688.6l0.5 0.0M200.5 680.5l-0.0 0.2M119.1 594.3l0.0 0.1M214.1 589.2l-0.4 0.6M119.9 691.6l0.0 0.3M109.7 629.8l0.1 0.1M110.6 670.2l-0.4 0.2M189.6 646.6l-0.1 0.6M211.9 651.1l-0.2 0.1M151.4 638.8l0.0 0.8M127.8 655.4l-0.1 0.0M135.6 593.1l0.8 0.2M78.4 667.5l0.9 0.1M189.3 593.8l-0.4 0.8M70.1 619.9l-0.2 0.5M232.6 682.6l0.0 0.9M241.1 632.7l-0.3 0.1M111.8 585.6l-0.2 0.2M77.0 655.6l-0.3 0.3M169.4 629.6l-0.7 0.1M226.7 607.8l-0.4 0.1M186.4 602.3l-0.0 0.3M160.6 626.5l-0.3 0.5M236.7 641.8l-0.6 0.3M202.2 694.2l-0.5 0.0M212.8 654.3l0.1 0.1M212.7 613.1l-0.0 0.2M174.6 579.9l-0.7 0.1M163.3 592.9l0.6 0.4M140.8 597.7l0.1 0.6M85.9 684.3l0.4 0.1M92.3 678.9l0.1 0.1M176.7 684.4l0.2 0.1M78.2 689.3l-0.3 0.1M127.8 659.9l0.2 0.2M200.2 636.0l-0.6 0.2M166.0 675.3l0.4 0.1M109.4 608.0l0.1 0.3M140.3 639.1l-0.6 0.4M118.0 650.8l-0.4 0.1M174.1 692.2l-0.3 0.4M97.9 644.0l0.1 0.1M120.7 600.7l-0.3 0.7M234.8 690.6l0.4 0.2M191.0 622.1l0.3 0.3M107.2 637.3l-0.1 0.0M216.1 593.7l-0.2 0.0M178.8 696.8l0.3 0.6M86.7 650.1l-0.6 0.2M166.8 676.4l0.3 0.2M210.0 599.7l-0.2 0.5M99.6 632.1l-0.2 0.7M124.2 600.5l0.3 0.1M234.8 596.5l0.5 0.4M130.2 605.2l0.1 0.4M73.7 659.0l0.9 0.1M149.4 593.0l-0.2 0.7M145.4 639.6l-0.1 0.8M180.3 605.5l-0.7 0.3M105.2 681.8l0.1 0.0M168.6 598.4l0.2 0.0M141.6 629.5l0.4 0.0M191.6 600.3l-0.4 0.0M229.0 636.8l0.0 0.2M192.6 659.7l-0.3 0.5M208.7 702.7l0.4 0.4M238.1 689.1l-0.6 0.0M238.2 594.6l0.9 0.2M229.1 599.8l-0.0 0.3M148.5 610.0l-0.2 0.3M215.4 636.2l0.1 0.0M196.4 601.5l0.0 0.3M91.9 703.3l-0.4 0.4M107.0 687.9l0.1 0.1M103.5 664.8l0.2 0.4M102.7 668.4l0.6 0.4M238.0 594.1l-0.3 0.3M158.8 671.4l-0.1 0.1M165.8 647.8l-0.2 0.0M184.3 639.1l-0.6 0.4M232.5 660.2l-0.5 0.3M232.6 637.2l0.2 0.3M155.7 650.6l-0.1 0.4M220.1 621.6l-0.3 0.3M201.5 603.4l-0.1 0.5M216.5 667.6l0.2 0.1M78.7 613.8l-0.1 0.8M136.1 623.1l-0.6 0.6M225.7 607.0l-0.6 0.7M103.3 695.1l-0.6 0.1M164.9 667.0l-0.0 0.2M180.9 678.1l0.7 0.4M215.3 608.5l0.0 0.2M158.1 669.7l0.2 0.6M204.5 591.2l0.2 0.0M188.0 703.3l-0.8 0.1M208.8 698.4l-0.1 0.2M62.0 635.7l0.3 0.5M98.3 627.3l0.6 0.1M195.4 619.6l-0.8 0.4M212.0 688.0l-0.0 0.1M238.8 578.3l-0.4 0.0M205.8 659.9l0.4 0.7M167.9 638.0l0.1 0.7M182.9 594.2l0.7 0.3M235.5 609.9l-0.2 0.2M140.6 594.2l0.3 0.3M96.7 630.5l-0.2 0.5M128.4 668.9l-0.1 0.0M241.6 608.9l-0.4 0.7M115.1 662.0l-0.1 0.1M94.4 675.5l-0.5 0.7M55.2 690.4l0.3 0.5M150.8 646.6l0.1 0.3M99.5 642.5l0.0 0.2M89.5 635.6l0.8 0.1M223.7 668.8l0.7 0.2M216.9 632.9l-0.8 0.0M160.9 652.2l0.2 0.0M92.6 647.6l0.4 0.5M149.9 620.9l0.4 0.1M184.0 692.2l-0.1 0.2M76.6 630.8l0.4 0.2M58.2 632.5l0.0 0.2M106.0 604.5l-0.1 0.1M74.4 647.0l-0.6 0.7M110.7 595.1l-0.2 0.0M198.5 670.9l-0.4 0.3M150.2 579.8l-0.8 0.1M168.1 601.0l-0.1 0.4M236.3 632.2l-0.0 0.6M164.3 638.8l-0.5 0.2M164.0 589.2l0.5 0.1M185.7 645.4l-0.3 0.0M217.7 629.9l0.1 0.3M130.8 649.1l0.3 0.3M81.0 631.4l-0.2 0.1M229.4 651.6l-0.3 0.2M115.3 667.6l-0.3 0.3M91.2 633.5l0.4 0.7M178.8 685.0l-0.1 0.1M145.2 609.1l0.4 0.3M77.3 645.7l0.2 0.6M229.6 702.5l0.8 0.3M200.6 580.5l-0.0 0.2M68.5 611.8l0.7 0.1M104.9 626.0l0.7 0.1M112.6 617.2l0.4 0.2M90.6 685.7l-0.2 0.8M182.5 648.8l-0.3 0.1M124.7 630.4l-0.4 0.5M92.3 676.9l0.1 0.1M62.1 640.7l0.7 0.1M106.8 626.5l0.1 0.3M141.4 651.8l-0.0 0.4M148.7 638.3l0.1 0.0M186.6 675.3l0.4 0.3M226.0 672.1l-0.4 0.7M123.5 637.0l0.3 0.5M195.3 696.2l0.7 0.1M139.3 588.4l0.3 0.1M243.2 601.7l0.2 0.6M199.0 596.6l0.1 0.9M229.9 671.7l0.3 0.3M112.2 665.1l0.1 0.3M183.4 604.1l-0.7 0.2M98.5 642.4l0.2 0.2M229.0 600.1l-0.1 0.6M97.9 673.9l0.7 0.4M75.4 659.2l-0.7 0.2M143.8 695.8l-0.3 0.1M182.7 703.4l-0.2 0.3M179.0 581.7l-0.1 0.5M104.6 676.0l-0.0 0.6M239.9 643.6l-0.3 0.1M113.9 647.7l0.1 0.5M61.1 621.8l-0.1 0.2M60.8 620.0l-0.3 0.1M167.3 653.5l0.1 0.2M181.3 627.9l0.1 0.1M213.6 599.6l0.8 0.3M239.4 640.7l-0.4 0.3M120.2 642.3l0.3 0.4M121.4 700.5l0.6 0.6M112.2 604.6l0.6 0.2M236.6 655.2l0.3 0.2M202.4 654.7l-0.2 0.0M129.2 614.1l-0.3 0.1M65.5 618.8l-0.3 0.2M84.3 694.8l-0.7 0.4M64.5 651.4l-0.2 0.1M210.2 619.3l0.0 0.5M240.1 689.9l-0.1 0.2M120.7 664.2l-0.6 0.1M202.1 658.4l0.4 0.5M240.1 624.4l-0.3 0.4M216.8 597.7l0.3 0.1M87.2 642.1l0.1 0.5M240.5 693.8l0.5 0.1M58.0 646.1l0.1 0.0M142.3 657.0l0.9 0.3M112.2 700.5l-0.5 0.1M135.9 644.2l-0.7 0.2M148.9 672.3l-0.0 0.5M69.5 615.1l0.9 0.2M140.0 606.0l-0.5 0.4M112.8 703.3l-0.7 0.4M102.8 667.4l0.3 0.8M203.5 674.1l-0.1 0.1M100.3 625.3l-0.5 0.1M107.5 677.1l0.8 0.1M240.3 694.9l0.3 0.3M195.5 612.0l0.0 0.2M105.5 698.9l-0.3 0.8M116.7 617.4l0.1 0.2M77.6 631.5l-0.1 0.8M131.4 633.0l-0.4 0.4M132.2 611.5l0.5 0.2M148.9 593.3l0.5 0.4M121.4 604.8l-0.1 0.3M82.1 680.5l0.1 0.3M163.7 678.3l0.5 0.5M72.3 648.9l-0.2 0.6M190.1 665.7l0.5 0.5M171.6 595.6l-0.2 0.7M102.5 638.9l-0.8 0.3M76.3 651.5l-0.1 0.4M80.4 626.0l-0.1 0.3M212.0 580.3l0.0 0.1M187.8 631.4l-0.6 0.2M162.3 685.3l0.4 0.2M122.4 635.5l0.0 0.3M130.2 595.8l-0.4 0.1M195.3 651.8l-0.0 0.1M92.9 622.3l-0.7 0.3M180.7 652.4l-0.7 0.0M77.3 651.8l0.0 0.2M232.4 578.8l0.2 0.2M241.1 661.0l-0.3 0.6M168.3 615.8l0.7 0.2M163.8 603.5l-0.6 0.6M105.7 681.8l0.1 0.2M108.2 652.0l-0.0 0.5M223.8 583.8l0.5 0.6M167.7 625.8l-0.5 0.7M239.8 606.5l0.2 0.7M111.3 669.0l0.8 0.2M91.6 620.9l0.2 0.1M99.1 620.8l-0.4 0.0M132.7 688.1l-0.1 0.1M130.5 675.5l0.5 0.7M202.5 623.1l0.2 0.6M230.6 689.7l-0.3 0.2M181.9 639.5l-0.4 0.6M114.4 633.8l-0.2 0.6M89.3 663.0l-0.2 0.2M209.2 670.7l-0.1 0.3M146.4 704.0l0.6 0.5M126.3 658.9l-0.2 0.1M185.4 658.9l-0.2 0.0M170.3 634.8l0.0 0.7M131.3 623.4l0.8 0.0M127.3 612.5l-0.8 0.1M216.3 611.4l0.2 0.0M80.1 613.8l0.1 0.1M224.3 580.8l0.7 0.4M224.3 651.9l0.2 0.0M174.2 694.0l-0.1 0.8M112.1 610.9l0.3 0.0M127.8 635.3l-0.8 0.4M87.7 660.7l0.5 0.4M238.1 701.8l-0.1 0.6M144.8 600.9l0.6 0.2M181.6 636.2l-0.1 0.2M89.9 667.4l-0.6 0.5M231.1 659.0l-0.4 0.2M188.5 698.6l-0.1 0.2M129.5 619.5l-0.1 0.0M184.7 603.3l0.1 0.0M148.3 654.2l0.1 0.2M197.2 637.2l0.1 0.5M223.0 608.7l0.5 0.2M201.2 667.6l-0.8 0.2M104.2 617.8l-0.4 0.2M120.9 590.3l-0.4 0.4M157.2 651.1l-0.1 0.1M174.2 625.4l-0.6 0.4M118.9 703.8l-0.2 0.0M68.1 625.6l0.0 0.4M191.8 651.3l0.5 0.1M123.1 610.1l0.7 0.4M165.0 613.5l0.7 0.2M200.7 651.0l-0.5 0.3M218.2 665.4l-0.3 0.4M162.4 701.0l-0.1 0.2M150.5 602.5l0.4 0.7M189.2 668.2l-0.2 0.5M105.8 689.3l0.5 0.2M167.7 691.1l0.3 0.5M221.8 630.0l-0.9 0.1M192.0 679.0l-0.0 0.4M86.4 634.8l-0.1 0.2M218.8 640.4l-0.4 0.0M122.1 659.7l0.0 0.5M206.2 600.3l-0.2 0.6M229.0 603.7l0.3 0.0M140.6 595.5l-0.1 0.3M180.0 692.0l-0.8 0.0M140.6 656.3l-0.5 0.3M145.5 699.5l0.1 0.1M118.1 650.1l-0.1 0.3M83.9 634.9l0.3 0.1M234.4 704.3l0.3 0.3M218.7 692.3l0.2 0.3M103.2 651.7l-0.1 0.3M186.8 670.5l0.5 0.6M233.7 681.9l-0.6 0.1M169.5 633.9l-0.5 0.0M120.0 703.5l0.0 0.1M61.0 643.2l0.2 0.2M196.4 695.4l0.1 0.3M216.6 637.6l-0.2 0.1M231.2 704.6l0.6 0.1M211.9 578.9l0.0 0.4M184.0 672.1l0.5 0.1M208.2 589.0l-0.6 0.6M207.3 590.9l-0.1 0.0M124.4 657.5l-0.5 0.6M222.3 686.4l-0.2 0.5M162.6 612.5l0.4 0.4M88.0 700.3l0.1 0.3M195.8 646.6l-0.2 0.0M112.2 703.5l-0.7 0.3M195.3 643.5l0.3 0.5M186.9 637.9l0.1 0.2M148.2 592.0l0.5 0.6M235.3 663.7l0.2 0.1M128.9 626.8l-0.3 0.1M165.9 639.4l0.7 0.1M143.7 620.2l0.6 0.1M238.9 662.0l-0.1 0.1M161.6 701.0l-0.3 0.3M198.9 661.3l-0.7 0.3M71.6 641.4l0.1 0.1M196.6 579.3l-0.2 0.2M156.4 639.9l0.2 0.2M209.4 659.9l0.1 0.2M228.2 658.9l0.6 0.5M83.9 635.7l-0.2 0.5M200.7 686.9l0.6 0.1M76.8 630.8l-0.4 0.6M239.2 600.6l-0.2 0.3M180.3 653.3l0.4 0.3M217.8 584.2l-0.0 0.2M178.3 700.6l-0.4 0.2M232.3 615.0l-0.1 0.8M174.6 618.7l-0.7 0.4M147.6 629.4l0.2 0.1M96.4 697.9l0.3 0.5M219.1 683.5l0.1 0.1M88.2 667.1l-0.1 0.3M87.5 693.5l-0.2 0.5M91.7 646.3l0.1 0.9M123.8 699.1l-0.1 0.3M200.5 682.1l-0.5 0.7M230.7 677.6l0.6 0.1M207.4 629.7l-0.2 0.3M147.8 612.5l-0.5 0.3M202.4 599.4l0.2 0.5M88.9 660.9l0.7 0.3M141.6 652.6l0.2 0.2M128.2 616.9l0.2 0.1M201.8 608.4l-0.1 0.8M90.7 628.8l0.0 0.1M53.3 620.1l-0.2 0.0M155.9 674.5l0.2 0.1M232.0 678.3l0.8 0.3M204.7 618.0l-0.5 0.1M91.1 655.0l-0.0 0.2M189.5 619.0l0.1 0.4M146.4 580.4l-0.1 0.2M132.0 618.9l-0.2 0.2M234.3 648.1l-0.0 0.2M127.3 616.5l-0.8 0.1M122.8 606.7l-0.9 0.0M97.2 661.2l0.1 0.3M112.7 689.5l0.5 0.2M227.5 637.7l-0.6 0.1M227.6 578.1l0.1 0.1M126.7 593.5l0.7 0.1M110.3 646.2l0.3 0.8M117.2 656.9l-0.1 0.5M199.9 607.6l-0.3 0.6M98.2 686.1l-0.6 0.1M135.5 675.7l-0.2 0.5M201.9 684.1l0.2 0.1M185.8 661.5l0.3 0.1M189.3 652.1l0.5 0.5M125.4 696.8l-0.7 0.2M79.7 655.3l0.3 0.8M197.0 633.4l-0.6 0.6M225.1 692.6l-0.1 0.2M242.8 678.0l-0.7 0.1M207.2 681.7l0.0 0.1M168.3 617.9l0.3 0.0M193.6 679.7l0.4 0.4M92.7 628.3l0.2 0.2M195.6 615.7l0.8 0.1M149.6 632.9l0.1 0.7M221.9 618.5l0.2 0.5M73.6 658.8l-0.7 0.5M159.9 602.2l0.6 0.0M133.7 674.6l-0.2 0.0M153.5 605.6l-0.3 0.4M163.6 606.9l0.4 0.4M216.4 612.4l-0.3 0.1M85.9 684.8l-0.1 0.4M151.0 691.5l0.1 0.0M218.3 615.7l0.2 0.5M99.6 700.9l-0.4 0.1M199.7 616.7l0.3 0.1M219.5 670.1l0.3 0.8M163.2 685.5l0.2 0.1M163.2 620.9l0.7 0.2M150.4 620.0l-0.8 0.2M137.2 606.9l0.1 0.8M231.5 605.6l0.8 0.5M168.0 651.4l-0.0 0.4M229.9 697.4l-0.1 0.4M152.6 671.9l-0.2 0.9M82.8 681.9l0.4 0.1M140.4 589.4l-0.3 0.2M218.2 690.9l0.4 0.5M231.5 644.0l-0.1 0.5M135.2 694.3l-0.4 0.2M83.5 639.4l-0.1 0.4M187.7 687.0l0.7 0.4M225.4 602.7l-0.8 0.1M101.5 683.9l-0.4 0.5M227.5 613.9l-0.7 0.3M178.6 703.8l0.2 0.0M185.1 600.0l-0.4 0.4M188.7 675.5l0.5 0.5M75.4 634.4l0.4 0.7M220.2 625.4l0.0 0.2M182.5 604.1l-0.3 0.2M153.3 614.8l0.1 0.2M96.4 615.2l0.2 0.1M64.9 639.1l0.8 0.4M159.5 667.5l-0.1 0.2M108.5 616.9l-0.3 0.2M214.7 631.0l0.8 0.0M225.7 626.2l0.1 0.1M138.1 606.7l0.2 0.7M140.6 607.0l0.0 0.4M75.6 694.4l-0.2 0.2M57.6 659.9l0.1 0.4M217.1 602.7l0.1 0.1M58.7 670.0l-0.1 0.1M239.4 701.7l-0.1 0.4M184.1 663.6l0.1 0.1M163.7 643.5l-0.4 0.5M120.8 685.1l0.0 0.1M193.9 606.0l0.1 0.2M179.3 613.4l0.0 0.5M92.1 688.0l0.1 0.4M128.5 601.2l0.1 0.3M94.4 682.0l0.1 0.3M176.3 612.0l-0.3 0.2M134.8 670.3l0.8 0.2M233.5 604.0l0.5 0.4M120.9 618.9l-0.7 0.2M200.9 602.1l0.2 0.5M180.2 622.4l-0.4 0.1M102.7 617.4l-0.7 0.5M179.6 667.0l0.0 0.2M204.4 623.3l-0.0 0.3M117.1 674.2l-0.3 0.1M207.2 689.6l0.0 0.3M78.7 616.6l-0.0 0.5M236.4 605.0l0.6 0.5M186.3 703.3l0.0 0.3M164.3 670.4l0.3 0.5M64.4 634.2l-0.3 0.3M83.1 632.8l-0.1 0.1M124.0 697.0l-0.1 0.1M61.1 628.7l-0.2 0.4M228.4 597.5l0.1 0.3M83.3 632.0l-0.3 0.8M206.7 580.9l-0.6 0.0M155.8 660.3l-0.3 0.2M235.5 610.8l-0.4 0.5M141.5 674.8l-0.2 0.7M172.1 647.7l0.4 0.2M148.4 581.9l-0.4 0.6M181.7 638.1l0.2 0.1M179.4 644.0l-0.2 0.3M95.0 691.2l-0.2 0.1M241.7 703.4l-0.5 0.6M218.3 650.6l0.1 0.1M122.0 651.6l-0.6 0.0M115.1 625.7l0.3 0.5M117.6 696.9l0.5 0.6M91.2 698.8l0.7 0.0M176.4 681.7l0.4 0.3M146.1 663.5l0.8 0.0M103.6 666.7l0.4 0.5M60.5 633.8l0.1 0.1M107.0 705.4l-0.1 0.1M213.7 610.7l-0.2 0.1M173.2 635.8l-0.7 0.2M126.7 654.8l-0.2 0.0M90.6 628.6l0.0 0.2M62.9 618.1l0.2 0.1M242.1 614.1l0.3 0.0M163.9 673.6l-0.2 0.1M146.0 636.2l-0.1 0.8M112.9 656.3l0.5 0.2M150.1 591.7l-0.6 0.2M112.9 639.6l-0.2 0.5M125.2 671.7l0.1 0.3M140.8 705.4l0.5 0.2M147.8 600.6l0.1 0.1M59.7 613.8l0.4 0.1M165.4 580.9l0.4 0.3M88.7 621.2l-0.0 0.5M171.1 641.0l0.1 0.0M131.3 690.4l-0.8 0.0M211.5 671.6l-0.7 0.4M218.6 653.7l0.2 0.3M233.6 637.5l-0.2 0.2M139.5 684.9l-0.5 0.5M206.7 702.6l-0.6 0.5M118.1 628.8l-0.3 0.5M137.5 657.0l0.0 0.3M202.9 690.8l0.1 0.1M120.5 582.8l-0.3 0.2M109.6 606.5l0.1 0.2M199.0 629.2l0.4 0.2M223.3 613.6l0.2 0.0M210.2 614.8l-0.0 0.2M148.7 677.6l-0.0 0.1M242.3 682.5l-0.1 0.2M218.6 613.4l0.2 0.0M140.1 579.7l-0.1 0.5M110.4 613.6l-0.7 0.3M176.8 637.1l0.1 0.2M240.5 670.3l-0.2 0.1M105.3 617.6l-0.2 0.4M200.6 681.5l-0.3 0.5M195.5 581.4l0.2 0.0M115.6 654.4l0.5 0.0M156.1 649.5l-0.6 0.1M230.4 627.5l0.1 0.1M183.9 595.8l-0.1 0.2M232.9 590.1l0.0 0.3M149.9 609.0l-0.1 0.2M179.0 581.6l-0.2 0.1M103.0 637.8l0.1 0.2M211.8 681.5l-0.6 0.4M151.1 579.1l0.0 0.3M223.3 628.3l-0.1 0.5M114.2 618.0l-0.6 0.4M63.8 632.1l0.1 0.1M101.0 618.7l-0.4 0.4M223.1 703.8l0.3 0.1M211.9 619.8l0.0 0.8M121.4 613.8l0.6 0.7M163.7 611.4l0.1 0.0M87.4 640.5l-0.2 0.7M217.2 664.4l0.0 0.8M156.0 597.7l0.4 0.3M132.4 615.8l-0.2 0.1M159.5 690.8l-0.8 0.3M189.8 664.7l0.2 0.9M212.0 631.8l0.2 0.2M76.4 691.9l0.2 0.0M161.3 702.9l0.6 0.1M148.0 692.7l-0.1 0.1M111.4 617.1l0.2 0.2M140.6 665.6l-0.3 0.8M239.1 606.1l0.7 0.2M172.2 639.0l0.1 0.1M157.4 638.4l0.7 0.4M159.5 636.4l-0.1 0.8M94.6 632.5l0.2 0.2M158.1 624.5l-0.3 0.3M241.2 700.3l0.0 0.2M242.7 611.2l-0.1 0.2M166.5 596.7l0.3 0.5M68.1 640.0l-0.3 0.1M91.3 641.4l0.3 0.0M214.7 660.9l0.3 0.5M236.8 670.4l-0.1 0.1M77.7 641.0l-0.4 0.6M102.2 692.0l-0.8 0.4M122.5 622.8l0.2 0.9M75.7 702.4l-0.2 0.1M202.7 694.5l0.1 0.1M238.4 674.3l-0.1 0.1M65.7 612.7l-0.0 0.1M205.4 623.4l-0.6 0.5M239.1 672.4l-0.1 0.2M146.2 617.4l0.2 0.3M176.4 625.5l0.2 0.2M174.5 606.4l-0.2 0.2M152.5 614.4l-0.1 0.9M187.1 658.9l0.4 0.5M134.9 624.9l-0.1 0.1M152.2 669.4l0.6 0.2M174.3 623.3l0.4 0.1M216.9 601.6l-0.1 0.3M172.5 596.6l-0.0 0.6M233.7 669.7l-0.5 0.5M147.7 700.2l0.4 0.3M215.4 610.5l-0.0 0.2M208.9 682.4l-0.2 0.8M58.4 616.8l0.0 0.4M202.9 686.2l0.6 0.1M62.8 612.0l-0.1 0.4M73.0 625.2l-0.0 0.3M88.4 662.6l0.3 0.2M165.4 655.0l0.4 0.3M117.5 599.7l-0.4 0.6M188.4 672.5l0.6 0.5M207.1 583.0l0.3 0.7M113.0 689.2l0.2 0.5M152.8 681.1l0.0 0.1M205.6 694.7l-0.7 0.5M235.3 590.0l0.3 0.8M118.2 678.8l-0.3 0.8M180.0 661.5l-0.3 0.6M226.3 671.0l0.1 0.6M84.0 695.6l0.0 0.6M70.2 693.1l-0.5 0.6M233.4 701.6l0.2 0.1M142.2 624.1l-0.2 0.1M82.0 612.3l0.0 0.5M189.1 671.9l0.2 0.3M170.1 627.7l0.1 0.1M208.2 620.5l-0.2 0.0M206.0 675.6l0.2 0.2M110.1 612.0l0.6 0.2M201.5 647.3l-0.2 0.0M95.7 683.5l-0.3 0.3M60.4 617.5l0.3 0.1M95.9 637.4l0.1 0.6M241.3 599.6l0.0 0.1M235.4 702.1l0.4 0.5M216.3 611.8l0.5 0.3M79.1 663.5l-0.6 0.5M127.4 693.0l-0.1 0.2M228.4 631.3l0.4 0.4M81.9 631.9l-0.4 0.1M133.5 652.3l-0.7 0.1M153.2 617.5l0.1 0.6M170.1 584.9l0.4 0.2M208.8 693.5l0.5 0.4M229.1 639.4l0.3 0.5M156.5 652.5l0.7 0.5M145.8 618.1l0.0 0.2M132.3 600.7l-0.3 0.3M108.4 687.2l-0.2 0.5M97.0 623.0l0.1 0.1M86.5 619.5l0.2 0.6M168.4 646.4l0.5 0.2M82.4 678.0l0.4 0.2M199.5 649.6l0.1 0.1M241.5 682.2l-0.2 0.6M165.4 614.2l0.1 0.7M136.9 639.4l-0.5 0.4M217.3 603.8l-0.7 0.2M233.8 695.9l0.0 0.3M241.8 670.7l-0.0 0.1M92.1 648.3l-0.6 0.3M149.1 605.3l-0.2 0.2M72.0 631.7l0.0 0.2M203.4 580.8l0.1 0.2M65.9 648.1l0.1 0.1M208.3 646.4l-0.2 0.2M73.2 627.5l0.2 0.2M118.6 601.9l0.1 0.8M74.2 666.2l0.5 0.2M118.0 666.5l-0.0 0.5M162.6 645.7l0.1 0.7M190.2 581.4l0.1 0.9M169.4 597.7l-0.5 0.1M240.0 678.3l0.2 0.0M169.3 598.4l0.2 0.2M168.1 648.6l0.6 0.6M110.1 677.3l-0.3 0.6M128.5 603.4l-0.1 0.8M206.4 667.5l0.6 0.1M213.3 702.8l-0.4 0.6M201.5 585.6l-0.4 0.6M119.1 601.2l-0.1 0.1M189.1 629.4l0.3 0.1M125.0 628.4l-0.3 0.2M188.7 658.5l-0.3 0.6M53.5 622.5l-0.2 0.1M128.8 611.3l-0.5 0.7M203.5 617.6l-0.4 0.7M160.5 647.2l0.2 0.5M193.8 584.7l0.4 0.5M176.3 609.1l-0.2 0.0M141.8 628.3l0.5 0.7M155.5 653.0l0.2 0.4M119.6 637.5l0.6 0.4M168.9 676.3l-0.2 0.5M215.9 618.7l0.6 0.2M150.6 672.1l-0.3 0.3M212.6 685.6l-0.3 0.8M183.0 662.3l-0.8 0.2M92.4 698.7l0.1 0.5M107.9 701.0l0.7 0.5M239.4 648.1l-0.1 0.2M164.8 691.0l-0.1 0.5M114.0 672.1l-0.2 0.5M79.2 654.7l-0.3 0.4M203.2 601.9l0.0 0.5M182.0 679.1l-0.2 0.1M131.2 622.9l-0.1 0.1M157.4 631.4l0.5 0.4M128.3 616.5l-0.5 0.7M239.3 636.9l-0.6 0.3M165.8 636.4l0.3 0.0M220.7 592.5l-0.0 0.4M126.8 645.0l-0.8 0.4M187.1 633.2l-0.1 0.1M146.4 615.7l-0.3 0.3M193.8 601.7l-0.5 0.0M203.8 662.1l0.3 0.3M106.1 639.9l-0.2 0.1M140.7 690.5l-0.2 0.5M235.9 617.0l0.4 0.3M199.1 704.8l-0.3 0.3M58.0 610.9l0.6 0.4M216.3 613.6l-0.7 0.2M136.3 669.1l-0.4 0.4M78.1 640.8l-0.2 0.4M159.4 675.2l-0.1 0.1M107.3 607.4l-0.0 0.6M148.2 642.0l-0.5 0.6M233.7 629.1l-0.4 0.1M123.0 652.7l0.5 0.2M70.4 618.6l-0.1 0.8M130.4 591.1l0.8 0.2M128.8 642.6l0.2 0.1M211.1 627.4l0.2 0.4M105.2 654.1l0.0 0.1M164.6 638.6l-0.2 0.3M100.7 680.0l-0.2 0.1M105.3 696.5l-0.7 0.1M132.3 700.4l0.1 0.4M71.3 651.9l0.5 0.5M149.0 607.9l0.3 0.1M222.1 593.3l0.3 0.1M86.0 690.1l-0.2 0.6M203.1 678.8l-0.5 0.6M145.0 673.4l-0.1 0.1M179.0 587.1l0.0 0.5M101.4 642.1l-0.2 0.2M243.4 635.6l0.1 0.0M121.4 649.8l-0.4 0.1M130.3 665.2l0.1 0.2M106.6 616.7l-0.5 0.6M230.6 597.7l-0.0 0.5M129.3 607.4l0.3 0.5M179.6 628.9l0.3 0.2M117.5 650.0l-0.7 0.3M239.7 628.9l-0.3 0.5M150.0 641.8l-0.1 0.2M202.0 675.8l-0.8 0.3M110.8 605.4l0.2 0.5M195.0 677.4l-0.8 0.2M212.9 653.6l-0.0 0.2M168.7 633.3l0.5 0.2M139.3 617.8l0.4 0.2M159.7 643.8l0.0 0.1M179.7 663.1l0.4 0.6M202.2 666.3l-0.1 0.5M148.6 705.6l-0.3 0.0M122.4 650.9l-0.1 0.3M123.1 661.3l-0.1 0.1M214.3 675.6l0.3 0.4M62.3 650.4l0.1 0.2M193.3 658.3l-0.1 0.1M86.8 634.9l0.3 0.8M222.8 666.8l0.0 0.5M175.4 614.9l0.0 0.3M165.0 608.9l0.3 0.8M132.1 672.7l0.2 0.1M101.5 621.3l0.3 0.4M137.4 648.9l0.1 0.0M243.3 682.8l0.1 0.0M227.1 612.2l-0.0 0.1M220.2 651.6l-0.3 0.5M211.0 633.4l0.5 0.7M82.1 659.4l0.0 0.1M84.7 637.8l0.7 0.1M141.3 597.8l-0.1 0.2M218.1 633.1l0.3 0.5M173.5 688.4l-0.3 0.3M156.8 625.2l-0.2 0.1M119.4 620.3l-0.3 0.8M218.3 648.0l-0.8 0.0M150.1 653.4l0.0 0.3M100.9 660.8l0.4 0.1M200.8 652.0l0.4 0.1M229.8 641.3l-0.5 0.4M124.7 634.3l0.3 0.1M230.7 639.1l0.8 0.3M94.3 677.8l-0.1 0.1M125.4 671.5l0.8 0.3M130.9 605.0l-0.5 0.3M86.5 629.7l0.2 0.0M108.1 654.9l-0.1 0.4M98.2 676.5l-0.1 0.5M114.0 619.4l-0.0 0.2M210.3 583.9l0.2 0.3M203.9 644.8l-0.0 0.4M146.8 616.4l0.5 0.2M63.5 643.1l-0.5 0.2M215.4 624.4l0.6 0.5M93.6 618.3l-0.1 0.1M125.9 699.0l-0.3 0.4M212.4 586.6l-0.0 0.6M206.9 698.4l0.5 0.4M225.7 678.4l-0.4 0.6M200.8 622.9l-0.3 0.1M172.3 580.3l-0.5 0.5M120.2 667.3l0.4 0.3M142.0 672.2l-0.4 0.1M184.8 702.5l-0.2 0.4M158.8 643.8l0.1 0.8M174.3 701.1l-0.1 0.1M132.7 687.4l-0.0 0.8M92.2 692.5l0.7 0.1M135.5 669.6l-0.6 0.2M179.5 617.7l0.3 0.1M179.7 600.1l0.1 0.1M142.0 700.6l0.0 0.2M236.5 599.6l0.4 0.6M98.8 656.0l0.3 0.7M212.9 688.4l-0.2 0.1M240.1 578.9l-0.2 0.7M119.8 613.5l-0.0 0.7M182.1 687.0l-0.7 0.3M229.8 703.8l-0.2 0.3M161.1 632.8l0.6 0.1M80.6 696.7l0.2 0.6M122.7 692.9l0.6 0.1M235.6 627.0l0.1 0.2M121.1 601.2l-0.2 0.0M125.4 603.0l0.2 0.1M192.0 579.3l0.6 0.3M233.9 594.8l0.5 0.2M150.6 668.8l0.3 0.6M129.5 631.9l-0.3 0.6M65.4 640.9l-0.1 0.6M238.6 689.1l0.1 0.3M93.2 613.1l0.6 0.7M197.9 624.0l-0.1 0.3M125.5 683.4l0.3 0.7M163.1 605.6l-0.4 0.6M184.8 614.1l-0.0 0.2M136.1 629.1l0.7 0.3M144.5 648.1l0.2 0.5M184.2 596.6l-0.0 0.1M124.5 620.2l0.3 0.2M129.9 600.7l0.2 0.7M220.9 648.0l0.0 0.5M122.1 693.6l-0.3 0.2M127.7 649.8l0.4 0.2M160.0 658.5l0.2 0.1M92.6 644.8l0.7 0.3M226.8 645.5l0.0 0.7M147.5 660.8l-0.6 0.3M213.8 700.0l0.4 0.5M78.7 613.9l0.5 0.6M62.0 701.4l-0.1 0.6M168.3 597.4l0.2 0.9M101.5 627.0l-0.7 0.3M233.4 628.4l-0.2 0.3M243.5 625.4l-0.4 0.2M227.8 676.6l0.4 0.1M182.3 627.6l0.3 0.3M189.7 619.5l0.4 0.6M128.2 649.1l0.2 0.2M239.0 686.4l-0.2 0.1M178.8 693.8l0.1 0.1M127.0 654.8l0.1 0.1M138.5 642.4l-0.3 0.3M217.6 700.6l-0.2 0.0M122.8 688.8l0.1 0.7M235.2 643.6l-0.7 0.0M170.2 593.9l-0.2 0.7M201.9 585.9l0.0 0.2M204.7 679.9l-0.1 0.1M226.2 595.0l-0.4 0.0M111.7 689.8l-0.7 0.2M235.7 659.8l0.5 0.7M160.9 627.2l-0.1 0.5M116.1 670.0l-0.1 0.1M170.4 667.4l0.4 0.5M187.2 683.2l0.5 0.2M123.9 652.6l0.4 0.0M176.5 645.0l-0.4 0.2M144.3 606.8l0.1 0.8M178.5 676.7l-0.5 0.1M103.0 700.3l-0.5 0.2M132.2 610.0l-0.4 0.8M80.8 697.3l0.8 0.1M161.9 611.9l-0.0 0.3M130.7 605.7l0.3 0.3M83.7 687.0l-0.0 0.3M141.2 636.4l0.1 0.1M241.6 670.6l0.3 0.4M92.0 639.9l0.0 0.1M150.2 581.3l0.4 0.7M135.2 598.2l0.2 0.3M190.3 683.5l-0.8 0.2M112.1 648.8l-0.1 0.3M207.9 617.6l-0.2 0.4M170.3 626.4l0.2 0.0M79.7 668.5l-0.6 0.1M140.7 639.9l-0.4 0.1M202.1 687.0l0.9 0.1M113.6 608.8l0.1 0.5M75.2 661.6l-0.6 0.1M90.7 621.9l0.5 0.3M190.8 704.3l0.2 0.3M224.3 633.4l-0.6 0.4M235.2 636.1l-0.5 0.4M191.6 593.0l-0.2 0.3M239.4 666.6l0.0 0.1M106.3 650.3l0.4 0.4M235.9 624.0l-0.1 0.3M190.1 641.2l0.4 0.0M82.3 623.3l-0.5 0.4M148.7 616.4l0.5 0.6M225.9 654.2l0.2 0.2M215.7 701.7l0.1 0.1M96.3 680.2l0.6 0.6M137.8 664.2l0.3 0.4M137.1 595.2l-0.4 0.0M145.5 703.9l0.4 0.2M190.2 645.4l0.1 0.5M210.0 672.6l0.4 0.0M213.0 607.5l-0.3 0.6M85.8 647.8l-0.1 0.4M81.0 667.0l-0.2 0.2M199.1 685.0l0.2 0.0M204.1 646.4l0.4 0.1M111.6 601.0l-0.2 0.1M123.3 604.5l0.6 0.3M160.7 659.5l-0.5 0.1M173.3 596.9l0.1 0.1M149.3 585.8l0.2 0.1M196.1 631.4l0.4 0.5M125.4 578.9l0.4 0.6M215.0 601.4l-0.0 0.3M112.5 620.8l-0.0 0.5M138.6 610.8l-0.5 0.0M113.1 608.7l0.4 0.3M125.2 608.2l-0.0 0.1M122.7 580.3l0.6 0.6M91.4 636.8l-0.2 0.3M218.1 637.5l-0.7 0.2M168.0 684.6l0.3 0.7M134.1 627.2l-0.1 0.3M230.3 632.3l0.3 0.3M118.9 632.0l-0.1 0.1M113.1 672.8l-0.0 0.5M110.3 642.3l-0.1 0.9M193.8 657.8l0.6 0.4M208.2 672.6l-0.2 0.6M112.9 655.5l-0.6 0.5M60.6 611.7l0.2 0.0M162.2 607.3l0.9 0.0M120.9 605.2l-0.4 0.6M137.4 622.0l-0.2 0.9M80.8 704.6l-0.2 0.1M204.3 650.8l0.2 0.8M57.4 634.1l0.5 0.4M232.1 688.3l0.3 0.1M212.5 696.8l-0.8 0.2M102.7 646.1l-0.1 0.4M140.8 615.9l-0.5 0.3M196.6 677.0l-0.1 0.6M229.3 604.6l0.2 0.1M120.4 628.5l-0.0 0.5M228.7 611.7l-0.3 0.6M236.5 654.9l0.2 0.4M165.2 609.8l0.4 0.0M226.9 611.7l-0.2 0.1M199.4 665.8l0.1 0.5M175.8 595.7l0.7 0.3M216.7 656.7l-0.1 0.6M126.7 608.7l-0.2 0.3M171.3 624.2l0.1 0.3M227.2 614.7l-0.0 0.2M231.8 671.5l0.4 0.3M233.6 590.7l-0.3 0.7M116.8 650.3l-0.1 0.2M232.9 695.9l0.6 0.3M190.4 667.8l0.2 0.7M236.0 671.4l-0.1 0.1M227.4 616.4l0.4 0.4M82.9 699.1l-0.0 0.3M107.8 641.1l-0.1 0.1M227.8 674.3l-0.2 0.0M164.4 658.0l0.6 0.6M148.8 691.0l0.0 0.3M132.1 641.0l0.4 0.2M209.6 676.6l0.4 0.6M192.6 663.5l0.5 0.2M151.0 607.5l-0.1 0.3M152.8 624.4l-0.4 0.4M161.6 579.9l-0.3 0.5M199.4 618.2l0.1 0.1M161.7 685.3l0.4 0.1M158.9 704.5l-0.2 0.2M154.5 683.9l0.1 0.8M222.6 605.6l0.6 0.6M161.7 588.9l-0.2 0.1M82.2 694.5l0.7 0.3M219.3 650.7l-0.6 0.4M82.7 644.1l0.4 0.1M103.2 622.1l0.1 0.2M176.5 692.4l0.0 0.7M106.1 616.6l0.7 0.1M75.7 647.5l0.3 0.1M82.0 660.4l-0.0 0.7M126.2 693.1l-0.2 0.1M177.4 622.1l-0.5 0.3M172.2 624.4l-0.1 0.2M134.5 649.9l0.5 0.3M223.9 669.9l-0.3 0.3M91.9 627.4l-0.1 0.3M140.8 674.7l-0.3 0.2M192.4 682.7l0.1 0.1M82.6 638.3l0.6 0.5M210.2 590.1l0.2 0.4M107.8 641.9l-0.1 0.3M76.4 663.1l0.1 0.1M178.4 649.1l0.1 0.4M184.1 623.2l-0.1 0.1M93.5 695.5l-0.4 0.6M91.1 684.3l0.1 0.4M137.4 639.4l-0.6 0.3M197.3 615.4l-0.5 0.1M191.7 621.1l0.0 0.5M109.8 674.3l0.4 0.4M214.1 581.9l0.0 0.2M174.1 630.0l-0.5 0.1M215.9 663.5l-0.3 0.6M152.7 652.2l0.5 0.4M54.3 642.9l0.1 0.2M183.2 601.1l-0.3 0.8M83.2 690.9l-0.3 0.3M125.0 613.7l-0.2 0.1M177.9 620.5l-0.1 0.7M96.2 640.9l0.8 0.2M59.5 674.2l-0.6 0.6M174.9 659.0l0.2 0.1M161.0 595.7l0.8 0.2M185.8 605.4l0.3 0.2M96.7 649.7l-0.6 0.1M99.2 655.3l-0.2 0.6M219.5 660.2l0.2 0.1M151.3 689.8l0.0 0.2M176.0 614.5l-0.1 0.1M105.7 649.1l-0.3 0.1M231.5 600.2l-0.3 0.6M77.3 684.1l0.2 0.2M83.1 611.3l-0.1 0.5M107.7 673.5l-0.3 0.1M149.1 676.2l0.7 0.2M156.0 597.0l0.1 0.4M126.6 667.3l0.9 0.0M107.4 648.2l-0.4 0.3M67.4 690.8l-0.5 0.2M95.6 691.4l0.2 0.1M55.4 626.9l0.0 0.7M64.6 647.2l-0.1 0.2M171.2 673.9l-0.1 0.1M134.1 687.4l-0.1 0.2M192.0 680.8l0.2 0.1M84.1 636.6l0.1 0.5M155.5 610.7l-0.1 0.2M107.5 674.5l0.2 0.8M117.4 616.9l0.1 0.2M207.1 601.6l0.6 0.2M65.8 628.9l0.3 0.0M215.8 632.4l-0.0 0.6M124.6 648.2l-0.8 0.2M210.1 578.0l-0.1 0.3M153.7 659.2l0.4 0.4M96.0 616.7l-0.5 0.6M128.0 689.4l-0.1 0.7M115.4 654.1l-0.7 0.2M154.1 580.8l0.1 0.5M232.7 615.5l0.3 0.4M197.9 613.3l-0.5 0.4M140.9 650.2l-0.3 0.2M144.7 605.7l0.4 0.1M192.1 675.9l-0.2 0.0M240.0 613.3l-0.2 0.0M224.9 631.9l0.5 0.3M226.2 583.5l-0.5 0.5M142.9 621.2l-0.3 0.7M241.2 589.5l0.1 0.3M237.8 693.0l-0.1 0.9M104.8 687.8l-0.3 0.6M137.4 579.1l0.6 0.5M187.9 635.7l0.0 0.2M226.9 585.9l-0.6 0.2M172.6 648.2l0.1 0.2M82.0 670.3l0.6 0.4M238.1 703.4l0.7 0.5M155.8 671.3l-0.2 0.6M204.3 613.2l-0.0 0.1M228.4 666.6l0.4 0.1M163.9 662.3l0.3 0.3M99.1 640.5l0.1 0.8M75.9 613.2l-0.3 0.1M224.7 696.9l0.4 0.5M184.7 663.0l0.1 0.1M239.8 687.8l0.1 0.1M70.5 645.3l0.4 0.1M204.6 688.0l-0.2 0.8M195.8 579.3l-0.5 0.3M65.4 656.6l-0.1 0.8M103.8 695.0l0.2 0.2M200.4 603.3l-0.2 0.2M218.4 615.9l0.6 0.3M59.1 646.8l-0.5 0.0M163.8 592.2l-0.4 0.4M217.8 579.4l-0.1 0.9M130.1 656.4l0.2 0.5M208.9 701.8l-0.4 0.0M192.4 688.2l-0.5 0.5M72.2 627.9l0.6 0.2M200.6 674.8l0.2 0.0M163.3 704.9l-0.2 0.3M217.3 662.7l0.4 0.2M123.7 678.4l-0.1 0.8M99.7 691.7l-0.8 0.2M84.4 641.5l0.1 0.7M155.7 619.6l-0.2 0.3M100.2 681.4l-0.7 0.2M233.4 600.4l0.4 0.2M101.2 639.0l-0.1 0.1M149.2 592.7l0.5 0.5M179.0 646.6l-0.3 0.8M131.7 660.7l-0.0 0.9M169.9 680.3l0.2 0.1M169.8 703.5l0.8 0.1M214.1 655.1l0.5 0.5M193.0 656.3l0.3 0.1M177.7 618.9l-0.8 0.1M145.0 602.5l-0.7 0.2M220.7 650.5l-0.1 0.1M207.9 677.0l-0.3 0.4M84.3 691.6l0.3 0.3M183.8 609.9l-0.3 0.0M242.3 688.3l-0.2 0.6M160.5 663.2l-0.4 0.6M127.1 635.8l-0.7 0.2M160.9 627.7l0.0 0.1M199.4 624.0l0.2 0.6M216.2 683.0l-0.1 0.8M159.1 644.5l-0.4 0.1M124.6 644.4l0.6 0.1M185.1 616.9l0.4 0.5M131.0 647.1l-0.3 0.6M54.7 635.1l-0.4 0.4M158.6 623.2l0.5 0.0M116.1 703.9l-0.6 0.2M183.0 683.1l0.6 0.6M126.1 656.7l-0.1 0.3M85.0 679.7l-0.3 0.3M116.4 601.3l-0.4 0.1M72.8 644.8l-0.1 0.2M115.0 596.4l-0.4 0.1M76.5 684.0l-0.2 0.4M119.3 661.9l-0.6 0.5M117.0 694.8l0.2 0.1M123.8 637.4l-0.3 0.3M213.0 639.9l0.1 0.2M225.8 630.8l-0.8 0.0M84.5 643.1l-0.5 0.7M76.2 631.6l-0.1 0.7M208.3 660.5l0.2 0.1M153.1 611.7l-0.6 0.2M105.8 642.8l-0.2 0.1M197.5 685.6l0.1 0.2M231.5 631.5l-0.1 0.2M75.2 630.2l-0.1 0.1M120.3 602.1l0.5 0.2M214.9 702.0l-0.5 0.6M68.6 625.9l0.1 0.5M236.6 640.4l0.0 0.4M182.2 595.8l0.4 0.1M206.8 667.5l-0.1 0.3M170.2 703.6l0.1 0.1M105.0 623.2l0.2 0.3M143.4 636.6l-0.3 0.8M148.3 698.2l0.5 0.6M194.4 677.7l-0.0 0.5M77.1 688.0l-0.0 0.5M115.1 649.0l-0.2 0.1M106.9 615.0l-0.1 0.2M220.6 698.3l-0.1 0.0M211.2 579.0l0.3 0.5M173.4 659.6l0.2 0.2M176.8 660.9l-0.2 0.0M165.2 649.6l-0.8 0.1M156.5 589.9l-0.3 0.4M143.2 657.5l0.6 0.6M216.5 582.0l-0.8 0.1M108.7 658.5l0.0 0.1M215.5 619.0l-0.3 0.4M63.7 615.5l0.2 0.5M200.2 579.0l-0.6 0.2M165.1 669.6l-0.1 0.2M101.4 630.6l0.2 0.1M189.6 683.1l-0.1 0.5M189.5 677.7l-0.3 0.2M243.0 588.5l0.2 0.6M173.3 654.6l0.2 0.6M231.2 662.3l0.3 0.5M66.9 629.4l0.0 0.7M93.8 683.3l0.4 0.7M95.3 668.4l0.5 0.1M131.1 608.7l0.0 0.1M122.7 682.3l0.6 0.4M135.3 598.1l0.5 0.1M123.0 619.5l-0.2 0.0M107.4 646.3l-0.4 0.3M128.2 698.5l0.2 0.7M215.8 698.8l0.2 0.5M201.9 671.6l0.5 0.1M153.0 596.3l0.5 0.3M207.5 578.3l-0.2 0.3M79.5 613.8l-0.2 0.6M53.5 622.0l0.1 0.3M131.1 627.2l0.1 0.1M65.3 627.1l0.4 0.1M150.1 643.2l-0.3 0.1M169.5 659.9l0.1 0.1M209.2 637.6l-0.6 0.1M130.2 599.7l0.6 0.2M156.9 668.3l-0.2 0.7M155.0 658.7l0.7 0.5M107.5 610.7l-0.7 0.2M238.7 631.5l-0.7 0.5M206.2 686.6l-0.6 0.4M150.4 649.6l-0.2 0.1M237.8 672.5l0.6 0.1M121.0 655.7l-0.1 0.0M243.4 698.3l-0.1 0.1M164.2 583.8l-0.3 0.1M118.3 695.9l0.0 0.1M182.7 685.4l0.3 0.6M165.4 633.5l0.2 0.6M229.1 692.0l-0.1 0.1M127.0 618.9l-0.5 0.2M192.5 625.3l-0.4 0.2M178.4 657.7l-0.4 0.2M207.1 674.1l0.2 0.3M52.5 664.1l-0.3 0.3M155.6 628.4l-0.8 0.1M121.5 635.9l-0.2 0.7M163.8 601.5l-0.1 0.5M118.9 662.8l0.1 0.2M87.8 644.0l0.2 0.3M168.2 671.8l0.3 0.7M199.7 670.9l-0.0 0.1M236.2 615.3l-0.8 0.1M119.8 639.8l-0.8 0.2M149.6 585.8l-0.1 0.2M159.7 594.0l0.6 0.2M149.6 611.1l0.5 0.4M174.1 597.0l0.6 0.1M201.4 612.8l0.1 0.3M236.9 663.6l0.1 0.4M204.0 691.7l0.4 0.4M146.2 642.2l-0.8 0.3M149.6 647.6l-0.7 0.5M124.0 693.9l-0.0 0.2M88.9 671.7l-0.5 0.7M98.4 681.8l-0.3 0.6M177.6 643.7l0.8 0.2M129.7 623.9l-0.5 0.3M223.8 605.8l0.2 0.1M212.2 616.6l-0.4 0.5M151.0 593.9l0.6 0.4M131.2 642.2l0.1 0.9M67.4 616.4l-0.2 0.7M99.9 694.4l-0.5 0.1M116.9 602.5l-0.7 0.2M144.2 605.5l0.4 0.1M112.4 605.6l0.6 0.0M214.6 607.2l-0.0 0.3M79.7 653.3l-0.3 0.5M235.3 676.2l-0.7 0.1M78.8 695.5l-0.2 0.3M161.2 626.1l0.0 0.1M130.2 637.6l-0.4 0.2M75.6 666.3l-0.7 0.5M66.7 631.7l-0.2 0.4M239.5 605.4l-0.1 0.2M225.0 671.9l-0.1 0.4M163.0 613.6l-0.3 0.5M141.5 592.8l-0.4 0.6M181.5 638.1l-0.5 0.0M97.3 694.6l-0.3 0.6M91.4 704.1l-0.6 0.4M161.8 616.1l0.8 0.2M141.7 665.9l-0.2 0.0M169.9 699.0l0.1 0.0M206.8 651.6l-0.3 0.2M212.2 606.3l0.4 0.3M208.9 646.0l0.4 0.3M165.8 590.8l-0.1 0.5M243.2 697.5l0.2 0.2M76.2 675.1l-0.1 0.1M239.5 610.3l-0.3 0.0M138.1 663.2l0.2 0.0M231.5 697.0l0.4 0.3M189.7 670.4l0.6 0.2M127.1 608.4l-0.1 0.2M123.7 654.3l-0.4 0.6M206.4 673.3l-0.2 0.3M105.0 681.1l0.1 0.3M213.1 601.2l-0.0 0.9M177.8 597.1l0.2 0.0M119.0 686.0l0.4 0.1M214.9 702.9l0.3 0.9M94.1 700.6l0.2 0.4M169.6 592.0l0.2 0.2M120.6 615.1l0.4 0.6M162.1 699.6l0.0 0.2M197.6 607.5l-0.1 0.3M218.5 690.8l0.5 0.5M220.7 612.6l-0.3 0.1M219.0 637.7l0.4 0.2M193.8 598.4l0.2 0.1M89.0 621.6l0.3 0.8M224.4 649.5l-0.1 0.7M131.5 691.3l0.2 0.3M220.6 591.4l-0.7 0.2M114.2 625.2l-0.7 0.1M217.8 619.9l0.8 0.0M129.2 625.8l-0.0 0.1M239.8 596.0l-0.4 0.1M192.7 616.9l-0.5 0.4M210.4 636.5l0.8 0.0M173.5 627.2l-0.3 0.4M121.7 580.3l-0.6 0.1M165.1 636.9l-0.1 0.2M124.1 597.0l0.1 0.4M105.3 626.1l-0.2 0.1M234.4 640.2l-0.2 0.3M178.7 639.8l-0.8 0.4M168.8 582.0l-0.1 0.8M130.8 632.9l-0.2 0.2M123.6 583.7l-0.2 0.6M178.8 607.1l-0.4 0.3M130.8 642.8l0.4 0.3M159.9 616.9l-0.3 0.7M207.2 615.3l0.4 0.3M126.3 658.1l0.6 0.1M230.9 697.8l0.6 0.1M208.5 608.7l0.0 0.3M138.9 659.5l0.8 0.1M100.1 686.3l-0.0 0.4M170.6 617.6l-0.5 0.1M132.1 669.0l-0.5 0.3M204.4 593.6l0.1 0.4M158.3 618.7l0.4 0.0M208.2 635.0l0.2 0.2M239.5 593.1l0.1 0.5M120.3 674.9l-0.5 0.3M85.2 628.3l0.1 0.2M125.7 604.7l-0.1 0.0M243.9 677.1l0.0 0.3M98.6 687.4l0.1 0.6M151.1 609.2l0.3 0.4M177.5 690.8l0.0 0.7M187.7 620.7l-0.0 0.4M184.6 701.0l0.2 0.9M135.7 682.6l0.6 0.4M73.7 617.3l0.3 0.6M53.8 612.9l0.1 0.9M236.8 642.2l-0.2 0.1M162.6 614.4l-0.2 0.0M102.3 610.7l0.9 0.0M226.8 621.8l0.6 0.4M92.8 652.7l-0.3 0.4M123.5 660.4l0.1 0.2M106.2 667.2l0.3 0.0M228.3 700.0l0.6 0.3M216.9 665.7l0.3 0.2M207.0 702.3l-0.1 0.1M187.8 694.6l0.6 0.3M88.5 695.7l-0.2 0.7M59.7 632.1l-0.0 0.1M211.9 686.4l0.4 0.2M57.3 620.6l-0.1 0.3M151.7 623.5l-0.0 0.1M126.2 653.5l-0.1 0.1M83.8 703.3l-0.6 0.4M124.0 650.0l-0.4 0.4M207.1 583.6l-0.1 0.7M144.5 627.2l-0.1 0.1M159.6 627.8l-0.4 0.5M167.0 637.0l-0.3 0.3M229.6 606.9l0.2 0.1M159.9 664.5l-0.2 0.2M109.2 609.5l-0.1 0.5M134.3 618.6l0.7 0.5M208.8 610.1l-0.4 0.1M232.8 696.8l-0.5 0.1M173.8 649.6l0.5 0.5M120.0 671.1l0.1 0.1M243.1 686.5l-0.1 0.5M183.6 659.4l0.2 0.6M207.3 617.1l0.1 0.5M137.6 621.9l0.3 0.2M116.3 641.0l0.5 0.1M117.9 653.1l0.3 0.2M197.7 622.9l-0.7 0.0M187.3 616.4l0.3 0.3M210.4 608.0l0.2 0.4M160.3 705.0l0.1 0.1M223.9 631.2l0.1 0.6M234.0 645.9l0.3 0.8M191.7 653.4l0.2 0.4M116.9 620.6l0.8 0.2M113.7 611.2l0.1 0.3M218.9 581.9l-0.1 0.2M225.8 604.7l-0.1 0.4M115.5 695.9l0.3 0.2M124.7 656.2l0.5 0.0M184.2 654.9l0.7 0.4M176.5 580.6l0.3 0.3M131.5 598.9l0.8 0.0M123.5 664.4l0.1 0.0M176.5 610.1l0.0 0.3M97.2 640.8l0.0 0.8M236.6 623.8l0.1 0.3M159.2 622.1l-0.1 0.4M85.1 646.1l-0.1 0.3M97.9 661.4l0.2 0.4M111.3 686.1l0.1 0.1M184.8 617.7l0.5 0.5M78.8 663.5l-0.2 0.3M122.9 696.5l-0.4 0.2M204.0 664.8l-0.4 0.8M159.7 614.9l0.4 0.3M92.7 685.4l0.3 0.2M66.0 652.9l0.8 0.0M124.2 597.7l0.2 0.0M163.8 659.7l-0.2 0.5M153.2 617.5l-0.2 0.2M184.8 652.0l0.0 0.2M74.0 664.3l0.4 0.2M158.7 594.7l0.1 0.4M231.3 672.2l-0.7 0.1M130.1 619.6l-0.8 0.3M176.7 698.4l-0.3 0.2M139.1 668.0l0.7 0.1M117.2 688.2l0.1 0.3M79.6 657.4l0.1 0.1M62.5 673.5l-0.5 0.6M149.7 598.0l-0.5 0.5M109.6 610.3l0.6 0.7M209.3 666.4l-0.3 0.0M154.0 603.4l-0.6 0.2M200.6 641.8l-0.8 0.2M162.3 701.0l0.4 0.3M180.3 612.1l0.1 0.5M172.5 623.2l0.8 0.0M219.9 683.8l-0.7 0.0M215.0 578.1l0.3 0.5M135.0 705.7l-0.2 0.0M139.1 650.6l-0.1 0.1M137.5 634.8l0.1 0.1M137.6 605.9l0.4 0.6M152.9 616.5l-0.8 0.5M100.8 672.2l0.1 0.1M75.2 647.7l0.3 0.4M118.7 601.6l0.1 0.2M75.8 699.8l-0.3 0.1M204.7 598.5l-0.3 0.0M216.8 668.4l-0.6 0.3M223.1 636.0l-0.1 0.0M240.1 680.1l0.1 0.2M229.4 705.8l-0.2 0.8M96.5 624.4l-0.1 0.8M236.4 680.2l0.1 0.3M217.7 626.5l0.6 0.3M218.6 682.0l0.3 0.7M210.9 689.2l0.4 0.7M200.8 578.1l-0.0 0.2M151.4 594.0l0.2 0.6M107.4 659.1l0.2 0.4M203.0 678.9l0.5 0.3M105.8 631.4l-0.2 0.1M177.9 689.6l-0.0 0.4M220.6 597.1l-0.1 0.8M185.6 628.6l0.8 0.4M116.0 624.7l0.0 0.2M195.4 618.1l-0.8 0.3M179.5 671.7l-0.3 0.8M185.3 648.3l0.5 0.3M63.5 617.9l0.3 0.6M122.8 605.3l0.8 0.0M115.3 634.6l0.6 0.2M128.9 705.9l-0.3 0.7M242.3 606.6l0.2 0.6M147.1 657.9l-0.6 0.6M194.9 649.7l-0.0 0.4M151.3 580.9l-0.2 0.0M124.0 596.3l0.5 0.3M118.2 602.9l0.3 0.6M207.5 698.4l-0.1 0.0M199.5 641.6l-0.7 0.4M215.2 622.0l0.0 0.4M58.4 620.9l-0.2 0.3M95.4 635.2l-0.8 0.1M107.1 630.4l0.4 0.6M123.0 598.8l0.5 0.1M210.3 599.9l0.4 0.6M208.0 655.3l-0.4 0.3M58.9 623.1l0.2 0.2M140.6 654.7l0.8 0.1M138.2 634.9l0.6 0.1M226.6 654.1l0.1 0.1M147.2 601.6l0.1 0.1M238.5 606.0l-0.5 0.7M75.9 623.0l0.5 0.2M113.1 631.6l-0.6 0.0M172.6 649.5l0.3 0.3M215.2 623.3l0.5 0.6M134.7 591.9l0.2 0.6M214.2 681.4l0.3 0.7M125.6 640.9l-0.1 0.6M126.4 616.8l0.5 0.1M230.9 666.1l0.0 0.4M113.1 601.0l0.1 0.6M238.9 614.5l-0.5 0.3M159.0 620.9l-0.1 0.8M103.5 663.4l0.0 0.7M214.8 640.4l-0.3 0.3M80.8 626.2l0.1 0.1M110.9 630.8l0.3 0.1M75.9 699.8l-0.2 0.6M148.9 704.5l-0.6 0.0M234.5 584.8l-0.1 0.0M83.8 680.0l-0.4 0.1M121.3 665.4l0.4 0.4M198.3 604.5l-0.7 0.2M93.0 639.0l0.4 0.3M90.3 659.5l-0.3 0.6M140.7 595.8l0.2 0.2M179.1 684.9l-0.0 0.2M190.8 588.5l0.2 0.6M212.1 613.7l-0.0 0.3M86.5 677.5l-0.7 0.3M219.5 652.7l-0.4 0.6M153.5 624.5l-0.1 0.2M147.6 634.1l0.4 0.0M97.1 671.4l-0.3 0.7M233.8 693.1l0.6 0.6M120.1 635.0l0.4 0.7M119.8 705.0l-0.4 0.2M152.6 617.4l-0.3 0.1M194.6 678.8l-0.3 0.1M110.6 626.8l0.8 0.4M145.7 629.7l-0.8 0.3M60.3 614.5l-0.3 0.1M126.9 674.3l0.1 0.3M181.2 615.0l0.6 0.6M148.2 607.1l-0.5 0.7M222.8 630.0l0.0 0.1M198.5 630.6l-0.0 0.1M117.1 612.8l-0.1 0.0M179.7 670.1l0.3 0.2M96.5 672.5l-0.0 0.2M139.2 621.0l-0.3 0.1M67.4 683.4l-0.3 0.1M202.9 633.9l-0.5 0.2M88.7 649.1l0.6 0.3M238.0 665.2l-0.2 0.5M210.9 654.9l-0.3 0.4M85.6 703.0l-0.1 0.2M109.7 640.3l-0.2 0.0M158.4 654.9l0.1 0.4M219.2 614.6l0.0 0.5M123.2 664.4l-0.4 0.4M225.9 594.4l-0.6 0.1M110.1 617.9l-0.3 0.2M73.0 704.8l-0.4 0.7M182.3 600.0l-0.3 0.3M146.2 693.7l0.2 0.0M202.0 603.9l0.4 0.0M181.4 657.3l-0.5 0.2M241.2 586.5l-0.2 0.3M241.5 681.6l0.2 0.7M124.2 660.6l0.5 0.7M88.2 664.4l-0.3 0.2M164.7 637.1l0.5 0.2M92.0 659.1l0.1 0.3M234.6 579.3l0.3 0.4M55.0 628.8l0.2 0.3M196.9 602.8l0.1 0.5M216.6 693.3l-0.0 0.2M212.1 636.5l-0.2 0.3M94.2 681.7l0.3 0.2M222.7 633.2l-0.1 0.4M210.6 664.5l-0.5 0.2M201.5 603.4l0.5 0.4M170.2 602.5l-0.7 0.0M148.5 594.2l0.2 0.4M179.1 656.6l-0.5 0.2M167.9 617.3l-0.0 0.1M230.0 616.6l0.3 0.1M124.2 659.8l-0.2 0.2M117.7 654.1l-0.0 0.4M188.8 689.9l-0.1 0.1M206.1 643.8l-0.0 0.3M78.1 701.7l-0.7 0.4M101.9 610.5l-0.3 0.3M103.4 662.3l0.5 0.2M211.0 684.8l-0.4 0.0M108.5 634.1l-0.1 0.5M189.5 624.8l-0.3 0.4M185.8 680.3l0.3 0.2M226.7 677.0l0.7 0.5M207.9 704.4l-0.2 0.1M224.0 616.0l-0.5 0.1M115.8 594.1l-0.2 0.0M160.1 593.5l0.1 0.7M132.7 629.3l0.7 0.6M82.7 646.5l-0.5 0.4M153.7 615.6l-0.1 0.0M154.4 640.8l-0.4 0.6M217.6 579.3l0.1 0.5M166.3 636.3l0.3 0.3M110.3 650.7l-0.2 0.2M126.4 625.2l-0.4 0.7M173.8 625.6l-0.0 0.8M76.5 626.7l0.3 0.5M197.9 702.5l-0.3 0.2M123.6 652.4l0.6 0.6M204.2 640.0l-0.2 0.8M229.2 650.1l0.2 0.3M218.9 616.3l-0.6 0.2M176.6 663.4l0.5 0.2M238.9 609.4l0.1 0.2M188.0 622.2l0.0 0.1M193.2 578.6l0.6 0.6M200.3 700.7l0.6 0.3M134.1 656.0l0.1 0.2M146.0 682.2l0.1 0.3M201.8 592.6l0.7 0.3M197.7 650.4l-0.2 0.8M166.6 600.1l0.5 0.4M225.3 657.6l0.8 0.3M211.2 607.1l0.1 0.0M210.9 655.7l0.3 0.5M122.2 705.0l0.3 0.2M243.9 667.5l-0.5 0.0M184.2 673.1l0.1 0.5M65.3 651.8l-0.4 0.6M226.9 638.5l-0.7 0.3M167.4 702.6l0.2 0.4M123.7 652.8l0.3 0.6M125.2 640.1l0.1 0.9M231.4 624.7l-0.3 0.6M126.6 604.1l-0.5 0.3M209.5 663.6l-0.3 0.0M53.3 624.3l0.4 0.6M73.8 627.5l-0.4 0.3M115.3 648.4l0.1 0.2M139.5 681.7l0.1 0.0M71.9 656.8l0.1 0.2M134.4 592.4l-0.3 0.2M228.1 589.2l0.2 0.1M234.4 658.4l0.4 0.3M173.9 655.8l0.2 0.4M239.5 685.9l-0.2 0.1M120.4 675.2l0.4 0.5M130.5 600.6l0.6 0.6M237.7 642.6l-0.1 0.1M180.3 701.2l0.1 0.5M194.2 656.8l0.3 0.8M200.0 682.1l0.3 0.5M119.1 693.9l0.2 0.2M238.2 698.0l0.2 0.7M196.0 653.7l-0.1 0.3M205.3 645.3l-0.4 0.6M55.7 611.0l0.5 0.1M77.4 665.3l-0.2 0.4M198.9 679.0l0.3 0.1M242.9 622.0l0.3 0.4M125.6 610.9l-0.2 0.1M155.0 628.9l-0.4 0.6M220.4 637.1l0.0 0.2M98.6 661.7l0.1 0.1M173.4 645.1l-0.6 0.4M175.8 691.6l-0.2 0.6M116.7 594.3l0.2 0.4M78.7 625.2l-0.3 0.3M184.0 673.6l0.7 0.2M143.9 599.6l-0.3 0.2M147.7 613.1l0.0 0.1M158.4 655.3l-0.5 0.4M69.1 704.8l0.4 0.1M202.4 697.5l0.4 0.8M150.5 671.7l-0.6 0.5M54.6 629.3l-0.7 0.4M145.7 603.2l0.4 0.5M56.2 635.8l0.1 0.1M235.6 668.6l-0.1 0.8M225.1 579.6l0.4 0.3M67.2 654.6l0.8 0.0M119.7 631.7l0.0 0.2M136.7 658.2l0.8 0.0M229.6 584.1l0.8 0.2M102.5 623.7l-0.4 0.2M154.7 632.0l0.1 0.3M148.2 630.8l-0.3 0.3M238.3 656.2l-0.3 0.5M237.3 652.5l0.6 0.3M176.8 683.6l0.0 0.8M159.5 633.5l0.0 0.3M215.0 611.3l0.4 0.1M204.3 680.0l0.1 0.1M209.5 635.4l-0.3 0.3M93.8 701.1l-0.5 0.2M182.7 628.3l-0.3 0.1M229.9 638.6l0.2 0.4M227.8 603.5l-0.5 0.5M144.1 608.7l-0.2 0.7M177.6 694.4l-0.1 0.4M91.0 630.3l0.7 0.2M134.4 613.0l-0.5 0.4M142.3 623.8l0.2 0.5M127.8 683.9l0.3 0.3M215.7 629.9l0.4 0.1M73.0 701.8l-0.8 0.3M191.9 610.5l0.2 0.1M128.0 619.6l0.6 0.6M199.3 659.0l0.2 0.0M224.6 668.6l-0.1 0.2M163.8 625.6l0.2 0.9M223.4 662.9l-0.0 0.1M227.7 700.4l0.1 0.1M234.6 610.5l0.1 0.1M145.7 657.2l0.4 0.3M229.7 621.5l0.0 0.7M71.7 629.5l-0.1 0.1M113.6 704.1l-0.2 0.4M186.3 651.9l0.2 0.2M172.8 698.1l0.4 0.4M141.4 696.8l-0.6 0.1M70.1 638.0l0.3 0.2M228.0 591.7l-0.5 0.3M134.7 682.6l-0.0 0.4M133.1 607.7l-0.6 0.4M242.8 675.0l-0.1 0.5M107.8 609.2l0.2 0.3M197.8 669.0l-0.1 0.1M214.0 616.8l-0.3 0.3M176.5 694.1l0.5 0.3M126.3 697.9l-0.2 0.1M211.8 654.8l0.2 0.2M65.0 633.6l0.7 0.1M196.8 621.6l0.8 0.3M200.3 681.0l-0.3 0.1M243.7 678.3l-0.2 0.8M231.2 648.7l-0.1 0.4M201.0 651.0l0.6 0.4M120.0 679.0l0.0 0.1M118.8 600.6l-0.5 0.1M168.2 600.5l-0.3 0.0M141.7 631.7l0.4 0.2M155.0 627.9l-0.2 0.6M140.4 682.6l-0.7 0.4M218.0 584.4l0.2 0.5M218.2 701.2l-0.0 0.3M127.8 601.0l-0.1 0.4M223.7 627.8l-0.2 0.1M137.1 697.2l-0.1 0.1M221.4 588.5l-0.3 0.3M171.7 676.5l0.0 0.6M230.6 691.0l0.3 0.2M113.7 629.2l0.2 0.3M143.9 610.1l-0.1 0.6M218.8 701.2l-0.5 0.6M200.8 618.8l0.0 0.6M130.8 610.8l0.2 0.0M233.0 669.5l0.7 0.0M143.6 656.2l-0.2 0.5M185.1 673.1l0.2 0.1M118.7 604.3l0.5 0.7M220.9 582.9l0.3 0.4M108.2 681.5l-0.1 0.1M228.0 698.8l-0.5 0.3M87.3 656.1l0.4 0.3M238.9 692.9l0.0 0.4M188.1 629.0l0.1 0.1M242.9 661.5l-0.2 0.1M234.2 609.6l-0.0 0.7M121.3 579.2l-0.3 0.2M215.4 679.0l-0.5 0.5M240.4 683.0l0.4 0.3M124.1 600.0l-0.2 0.0M224.8 671.7l0.6 0.1M113.7 643.5l-0.5 0.6M202.5 698.1l-0.3 0.8M115.6 619.8l0.8 0.2M147.2 642.1l-0.5 0.2M190.4 688.4l-0.7 0.2M88.1 677.1l-0.2 0.6M98.3 694.7l-0.2 0.0M152.6 597.3l0.5 0.3M92.3 644.9l0.5 0.2M207.9 642.9l-0.0 0.4M217.9 664.2l0.3 0.2M132.8 664.6l0.2 0.0M176.1 623.3l-0.1 0.7M172.8 592.1l0.3 0.2M104.3 631.1l-0.8 0.0M238.9 584.2l0.2 0.2M128.0 622.2l-0.0 0.4M142.4 609.2l-0.0 0.3M94.3 668.3l0.2 0.1M117.8 635.3l-0.6 0.1M149.6 620.4l-0.0 0.8M103.2 612.3l-0.2 0.2M116.9 665.4l-0.2 0.1M234.7 603.3l-0.1 0.8M218.7 694.3l0.5 0.1M214.4 623.0l0.3 0.8M173.7 630.4l-0.0 0.4M90.0 690.7l0.5 0.0M241.4 611.1l0.1 0.4M117.2 628.6l-0.3 0.5M123.0 659.1l0.0 0.4M128.1 614.1l-0.1 0.3M131.2 623.3l-0.1 0.0M177.4 647.6l-0.1 0.1M188.4 664.0l0.2 0.2M115.5 675.3l-0.1 0.3M219.1 677.2l0.1 0.1M116.5 644.0l0.3 0.4M233.5 657.6l0.5 0.2M235.6 638.8l-0.1 0.2M219.0 658.5l-0.2 0.3M65.3 679.6l-0.6 0.4M114.4 663.2l0.1 0.1M75.8 655.3l-0.0 0.1M128.1 688.8l0.7 0.5M207.6 695.5l0.1 0.4M222.7 621.5l-0.7 0.5M109.9 615.5l-0.1 0.1M185.5 651.5l-0.5 0.2M176.8 596.4l-0.6 0.4M105.9 676.0l-0.1 0.4M128.5 613.3l0.2 0.7M93.7 652.1l0.1 0.8M190.4 630.5l0.1 0.1M218.8 630.1l-0.3 0.1M202.0 694.4l-0.2 0.3M183.0 665.4l0.0 0.3M123.3 583.8l0.1 0.6M67.0 620.6l0.5 0.2M66.6 615.1l-0.4 0.3M137.3 614.2l0.3 0.1M118.2 616.2l-0.4 0.8M219.6 664.2l0.4 0.6M92.8 653.9l0.1 0.1M157.0 613.1l0.5 0.4M147.4 609.1l0.6 0.5M217.1 694.9l-0.6 0.1M228.7 680.1l0.1 0.0M125.0 654.3l0.4 0.0M197.5 651.2l-0.3 0.3M238.4 585.4l0.3 0.0M227.8 621.3l-0.5 0.3M100.1 651.4l0.4 0.2M85.5 649.0l-0.5 0.4M104.3 610.9l0.2 0.3M197.1 612.2l0.5 0.1M175.9 645.0l0.7 0.5M203.0 627.3l-0.1 0.2M192.6 637.8l0.4 0.5M146.9 646.3l-0.1 0.8M233.4 683.7l0.1 0.5M197.7 634.7l0.0 0.7M112.6 605.7l0.2 0.3M73.7 678.0l0.4 0.5M236.4 648.1l-0.2 0.3M83.2 691.8l-0.2 0.1M96.1 628.5l-0.5 0.5M148.8 597.5l0.2 0.3M129.1 700.6l-0.1 0.8M217.6 626.2l0.8 0.4M190.5 702.7l0.0 0.1M239.9 652.1l0.5 0.3M140.0 592.2l-0.0 0.1M130.4 673.7l0.3 0.1M196.5 660.4l0.7 0.1M155.5 597.5l-0.8 0.4M132.8 637.0l0.0 0.6M121.0 670.6l0.1 0.5M186.3 672.4l-0.4 0.5M190.1 619.6l0.5 0.0M235.6 638.1l-0.3 0.1M81.8 652.5l-0.4 0.4M88.6 647.7l-0.4 0.7M117.0 605.7l0.5 0.4M156.0 644.3l0.6 0.0M147.1 593.5l0.0 0.6M193.3 660.4l-0.0 0.5M89.6 703.0l0.1 0.6M98.7 622.6l0.3 0.4M231.6 659.8l0.5 0.3M156.5 679.0l0.5 0.0M168.9 618.0l-0.1 0.1M85.1 660.0l0.1 0.3M212.9 608.8l0.4 0.1M166.5 624.3l-0.5 0.0M187.4 601.2l0.2 0.6M224.6 685.3l-0.1 0.3M224.8 603.7l-0.2 0.4M218.0 692.5l-0.3 0.4M112.8 667.4l-0.5 0.1M158.1 618.3l0.1 0.1M229.4 665.6l-0.4 0.7M236.1 602.6l0.1 0.1M229.9 649.6l0.4 0.5M130.4 677.2l-0.1 0.3M225.6 611.4l-0.6 0.3M119.9 629.5l-0.2 0.1M85.1 649.3l0.6 0.4M233.9 695.9l0.1 0.2M86.3 676.6l0.5 0.5M143.6 650.2l0.1 0.1M117.2 604.9l0.5 0.3M158.4 606.3l0.6 0.3M70.6 612.0l-0.4 0.7M123.9 641.6l0.2 0.9M110.1 610.9l-0.3 0.6M187.9 672.2l-0.0 0.1M178.8 604.0l0.7 0.1M210.0 697.8l0.7 0.0M99.8 698.1l-0.2 0.3M177.4 673.8l0.2 0.6M109.4 666.1l-0.1 0.1M155.0 612.3l0.7 0.3M97.5 672.3l0.2 0.3M67.3 697.0l-0.2 0.9M167.0 677.2l-0.8 0.3M221.7 614.7l0.2 0.1M200.0 693.3l0.7 0.6M181.6 655.6l0.1 0.4M243.1 669.2l0.5 0.3M233.8 587.5l0.7 0.3M197.2 702.3l0.4 0.0M107.8 688.1l-0.2 0.3M98.0 636.7l-0.9 0.1M109.0 647.5l-0.2 0.8M129.2 624.2l-0.6 0.5M197.1 691.4l-0.2 0.2M200.2 629.0l-0.8 0.4M87.3 667.8l-0.2 0.5M128.7 620.7l0.1 0.0M147.4 631.7l-0.1 0.6M163.0 683.2l0.4 0.4M133.0 582.2l-0.2 0.1M137.8 633.6l-0.3 0.1M188.4 634.0l0.1 0.1M65.5 636.2l-0.0 0.2M231.3 659.3l-0.3 0.2M127.5 635.2l-0.5 0.4M72.5 632.1l0.0 0.1M72.7 633.5l-0.2 0.1M212.8 659.9l0.0 0.4M224.3 585.4l-0.5 0.3M77.5 618.9l-0.2 0.2M113.9 659.5l0.8 0.1M228.2 595.3l0.9 0.0M208.4 600.7l0.4 0.1M163.0 621.9l-0.2 0.3M139.1 578.4l-0.1 0.3M52.9 625.0l0.1 0.1M184.4 670.0l-0.5 0.4M118.9 651.4l-0.4 0.7M170.1 623.5l-0.3 0.8M143.8 587.2l0.0 0.8M191.5 680.4l0.3 0.3M161.3 693.8l-0.5 0.5M204.8 625.8l-0.2 0.2M164.6 634.2l-0.0 0.3M232.5 702.7l0.3 0.6M103.6 634.7l-0.0 0.1M71.0 624.4l0.0 0.1M232.2 653.9l-0.1 0.9M126.2 651.2l-0.4 0.5M242.5 701.8l0.0 0.4M134.4 701.4l0.8 0.0M209.3 689.6l-0.1 0.8M239.1 614.8l0.7 0.3M202.9 667.2l-0.1 0.1M119.8 616.1l0.5 0.7M141.8 602.1l0.5 0.2M181.2 695.7l0.2 0.9M191.8 682.2l-0.1 0.1M215.2 640.7l-0.3 0.3M149.8 661.5l-0.4 0.2M121.2 684.4l-0.5 0.0M208.9 601.5l-0.5 0.6M86.3 647.3l0.7 0.0M182.2 614.2l-0.3 0.8M186.0 661.3l-0.1 0.1M160.9 617.9l0.1 0.7M189.8 679.8l-0.4 0.3M240.9 598.6l0.0 0.4M89.6 666.8l-0.0 0.2M115.0 616.1l0.4 0.4M56.4 704.0l0.8 0.4M213.5 680.1l-0.1 0.3M191.4 614.5l-0.1 0.8M88.8 626.5l0.3 0.4M54.0 619.6l-0.5 0.1M177.1 618.4l-0.0 0.8M57.2 701.7l-0.3 0.0M83.3 665.1l0.1 0.3M189.2 607.6l0.3 0.2M113.4 637.0l0.2 0.3M180.8 620.6l-0.3 0.5M124.2 703.9l-0.1 0.3M78.5 641.7l-0.1 0.6M135.0 664.1l-0.6 0.3M124.0 584.3l0.2 0.4M164.5 695.5l-0.2 0.2M154.2 599.8l0.4 0.3M166.5 653.5l0.6 0.5M88.4 672.7l-0.7 0.1M128.4 643.9l-0.3 0.6M127.7 633.4l0.8 0.0M196.2 638.7l-0.1 0.4M119.4 649.7l0.5 0.1M168.8 673.3l0.1 0.1M169.9 669.2l-0.2 0.2M240.5 613.9l0.0 0.1M204.8 612.1l0.3 0.5M204.0 626.7l-0.3 0.4M219.0 626.0l-0.1 0.3M155.5 657.3l0.1 0.8M225.5 663.2l0.2 0.5M164.1 598.0l0.2 0.3M183.7 700.7l0.1 0.7M142.6 667.1l-0.2 0.0M192.4 637.1l-0.2 0.4M164.7 663.5l-0.3 0.3M222.6 620.1l-0.1 0.1M199.5 675.1l-0.2 0.3M196.5 662.5l-0.1 0.3M215.6 664.1l-0.3 0.1M128.6 659.8l0.1 0.2M125.8 618.6l0.0 0.1M184.4 681.4l0.3 0.1M187.4 683.5l0.7 0.2M217.8 696.2l0.4 0.7M148.6 697.1l-0.6 0.0M156.6 627.7l0.0 0.2M241.8 656.9l-0.5 0.1M227.7 607.8l-0.1 0.6M137.4 662.1l-0.2 0.6M187.8 626.5l0.1 0.7M233.4 699.1l0.2 0.9M168.7 685.5l0.0 0.3M163.4 581.7l0.3 0.0M222.3 590.2l0.4 0.3M76.2 694.1l-0.2 0.3M229.6 604.0l0.3 0.0M99.4 689.7l0.4 0.2M175.9 693.9l0.6 0.1M186.9 637.8l-0.5 0.2M93.5 641.7l0.4 0.2M202.4 704.5l0.1 0.5M88.9 695.8l-0.0 0.8M57.2 616.5l0.4 0.8M108.9 612.2l0.0 0.5M124.8 645.0l0.5 0.2M128.6 699.0l0.1 0.7M206.8 671.2l0.6 0.2M105.4 613.8l-0.5 0.5M208.1 651.4l-0.6 0.0M86.1 668.1l0.2 0.3M109.9 613.3l0.2 0.2M241.7 583.7l-0.1 0.1M233.8 636.7l-0.4 0.7M97.4 628.5l-0.5 0.1M229.6 669.8l-0.1 0.0M187.8 602.7l-0.4 0.0M154.5 612.8l-0.1 0.0M209.7 605.3l-0.0 0.2M149.1 595.1l0.2 0.6M209.2 700.3l-0.1 0.1M178.0 670.1l-0.2 0.5M219.8 594.7l0.4 0.2M201.3 649.9l-0.4 0.5M65.7 616.1l-0.6 0.4M182.5 621.7l-0.0 0.5M81.4 664.2l0.3 0.5M187.7 664.4l-0.4 0.4M100.2 668.6l-0.2 0.2M151.1 667.8l-0.0 0.2M177.6 649.3l-0.1 0.6M112.9 632.1l0.6 0.3M168.9 606.2l-0.1 0.0M75.4 690.9l-0.2 0.5M239.8 627.8l-0.6 0.2M176.8 652.5l-0.4 0.8M170.9 702.9l-0.5 0.5M228.9 699.6l0.5 0.1M121.7 636.3l0.1 0.3M231.2 663.9l0.0 0.2M156.2 700.9l-0.3 0.5M172.2 693.0l-0.1 0.0M139.7 632.3l-0.1 0.3M124.7 629.8l-0.5 0.3M237.7 607.7l-0.0 0.3M239.0 606.4l0.0 0.2M239.0 676.7l-0.1 0.1M207.3 670.0l0.1 0.1M200.1 639.4l0.3 0.2M219.8 629.0l-0.9 0.0M106.6 644.3l0.8 0.2M196.6 633.7l0.5 0.7M144.7 665.4l0.7 0.1M171.8 701.3l-0.1 0.1M239.2 629.9l-0.3 0.4M196.7 683.6l-0.4 0.2M148.8 600.7l0.2 0.1M86.0 613.1l-0.4 0.7M229.4 676.6l-0.4 0.3M117.7 672.1l-0.3 0.2M241.2 661.4l-0.6 0.2M208.8 617.0l0.4 0.7M215.5 649.9l0.3 0.0M196.1 631.8l-0.6 0.3M209.7 699.7l0.3 0.3M196.6 650.7l0.8 0.3M142.7 594.4l0.5 0.1M173.7 698.9l0.3 0.1M153.9 580.2l0.2 0.5M145.5 661.2l-0.5 0.0M231.3 696.2l-0.2 0.7M198.3 639.5l-0.2 0.5M104.9 647.4l-0.3 0.4M202.6 651.8l0.5 0.2M224.7 591.7l-0.1 0.1M163.7 665.5l-0.1 0.3M222.8 642.6l0.4 0.1M188.7 682.8l0.2 0.2M93.4 667.3l0.0 0.2M207.4 608.7l0.5 0.0M190.2 688.5l0.4 0.4M210.8 601.6l0.2 0.7M125.3 593.0l-0.4 0.3M171.6 617.4l-0.1 0.7M157.4 604.4l-0.0 0.2M180.3 696.0l0.1 0.8M152.8 610.6l0.0 0.1M218.8 600.5l-0.6 0.1M112.1 693.8l-0.3 0.3M139.4 579.4l0.4 0.5M225.5 699.0l-0.7 0.1M178.5 679.3l0.6 0.4M149.4 625.3l-0.5 0.1M190.1 598.3l-0.8 0.1M101.4 668.2l0.6 0.5M236.9 601.7l0.5 0.3M130.2 586.5l-0.5 0.1M216.8 580.1l-0.2 0.1M184.5 681.2l-0.6 0.0M132.3 653.2l-0.2 0.0M95.4 615.7l0.1 0.5M223.0 597.4l0.5 0.3M181.3 679.0l-0.2 0.2M228.5 690.0l0.1 0.3M82.5 701.5l0.2 0.6M97.3 697.1l0.0 0.2M159.5 677.1l0.0 0.6M122.9 608.5l0.0 0.6M154.6 704.4l-0.2 0.4M104.6 651.9l-0.1 0.1M236.9 617.7l-0.2 0.8M85.9 695.6l0.3 0.4M216.7 661.2l-0.0 0.3M228.8 685.9l0.1 0.1M91.9 668.4l-0.3 0.5M203.9 629.9l-0.2 0.8M180.6 648.8l0.3 0.2M167.4 616.8l0.3 0.3M212.6 590.5l0.8 0.4M146.4 594.6l0.2 0.3M107.2 690.9l0.7 0.2M127.9 658.2l-0.2 0.3M209.0 651.5l-0.5 0.3M164.7 596.6l-0.8 0.2M183.6 636.3l0.5 0.2M125.3 614.3l0.0 0.9M137.1 703.6l0.1 0.4M100.5 633.9l0.0 0.1M237.1 674.8l-0.2 0.1M180.9 607.4l0.7 0.1M159.4 608.0l-0.6 0.1M116.9 680.1l0.8 0.1M228.8 649.9l-0.6 0.1M172.9 678.2l0.3 0.1M215.0 614.7l-0.4 0.0M133.1 586.7l0.2 0.1M157.1 656.5l0.6 0.4M114.8 663.2l0.9 0.0M207.2 703.1l-0.1 0.8M98.9 648.2l0.2 0.0M71.6 613.7l0.4 0.4M185.0 691.5l-0.2 0.2M163.8 686.5l-0.7 0.1M98.6 620.6l0.6 0.2M83.3 635.1l0.5 0.0M122.0 673.6l-0.1 0.2M173.7 619.7l-0.3 0.0M120.3 630.0l-0.2 0.3M101.5 595.9l0.7 0.3M195.8 594.5l-0.3 0.8M228.0 648.3l-0.2 0.0M163.5 629.7l0.1 0.0M130.4 649.5l-0.5 0.5M231.0 636.7l-0.4 0.6M101.6 617.4l0.7 0.4M158.9 624.0l0.4 0.5M95.1 676.6l0.3 0.1M107.4 670.1l0.1 0.2M227.1 603.1l0.3 0.1M234.8 608.9l0.0 0.9M227.7 637.0l-0.3 0.1M134.1 632.3l0.1 0.1M241.4 676.8l-0.1 0.4M234.7 599.0l0.9 0.1M175.9 671.4l-0.0 0.3M148.0 678.8l0.1 0.7M108.7 697.1l-0.6 0.4M241.7 586.0l0.1 0.4M59.0 652.0l0.1 0.3M184.5 581.7l-0.5 0.0M231.0 703.1l-0.1 0.1M241.7 619.7l0.8 0.3M98.0 671.2l-0.5 0.1M128.8 634.1l0.1 0.5M183.9 636.4l0.5 0.7M172.8 580.8l-0.3 0.6M234.3 664.8l0.3 0.7M168.0 688.2l0.2 0.2M163.4 635.9l0.1 0.1M77.0 691.8l-0.3 0.2M155.3 667.9l-0.7 0.5M196.4 627.6l0.4 0.2M154.7 665.8l0.1 0.1M214.6 591.5l-0.1 0.4M207.5 678.2l-0.1 0.4M147.8 599.9l0.3 0.5M171.9 605.3l-0.2 0.0M107.9 648.8l-0.5 0.6M108.8 660.2l-0.7 0.2M106.8 603.0l-0.2 0.6M125.9 597.7l0.1 0.1M167.2 676.2l0.2 0.5M79.8 626.4l-0.3 0.2M155.4 705.5l0.2 0.5M58.4 635.0l0.1 0.1M105.3 701.6l-0.6 0.6M164.4 616.2l0.1 0.2M159.3 609.3l-0.1 0.2M95.1 691.6l0.6 0.6M240.2 628.1l-0.2 0.2M200.6 699.9l0.3 0.3M136.3 618.1l0.2 0.0M81.4 700.4l0.4 0.1M218.1 656.8l-0.1 0.4M115.3 593.4l-0.3 0.4M237.0 679.3l0.0 0.2M128.1 655.6l-0.4 0.6M120.1 598.7l-0.1 0.2M118.6 671.7l0.1 0.1M172.2 603.1l0.5 0.6M130.4 683.3l-0.0 0.5M162.1 682.8l-0.5 0.6M154.3 607.5l-0.5 0.1M186.2 652.2l0.1 0.5M79.0 633.6l0.4 0.7M120.1 605.1l-0.5 0.2M141.1 658.6l0.5 0.7M104.7 633.8l0.2 0.6M185.2 614.1l0.6 0.1M104.5 673.8l-0.7 0.5M207.9 652.2l0.1 0.6M158.9 693.6l0.3 0.0M145.0 601.4l0.0 0.7M175.1 670.7l-0.4 0.8M145.1 629.2l0.1 0.2M205.9 583.2l0.1 0.1M142.7 657.0l-0.1 0.3M220.6 638.0l-0.6 0.6M140.3 596.5l0.3 0.6M142.5 596.9l-0.1 0.3M113.2 652.7l0.4 0.1M162.7 634.0l0.2 0.1M137.8 697.8l0.2 0.2M125.3 594.1l-0.0 0.5M217.0 692.5l0.4 0.5M79.0 699.5l-0.6 0.0M154.5 610.4l-0.0 0.5M112.2 623.1l-0.5 0.1M89.6 658.8l-0.4 0.0M56.9 618.8l0.4 0.3M151.3 658.4l-0.9 0.1M108.8 592.0l-0.2 0.3M94.3 684.6l0.2 0.5M225.9 639.8l-0.3 0.2M151.6 631.5l0.1 0.0M233.4 691.8l0.2 0.1M128.2 663.0l0.0 0.4M213.7 686.2l0.1 0.5M171.3 672.5l0.2 0.0M129.3 620.1l-0.4 0.6M170.6 600.5l0.2 0.3M210.0 653.7l0.0 0.2M78.9 617.4l-0.1 0.4M141.6 668.9l0.1 0.4M63.1 624.2l-0.5 0.2M142.4 639.7l-0.5 0.6M189.2 610.4l-0.3 0.4M118.9 654.4l0.6 0.0M155.9 666.0l-0.3 0.5M149.5 638.5l-0.5 0.2M102.7 704.1l0.4 0.8M218.7 628.2l0.1 0.2M94.9 637.0l0.5 0.5M127.3 683.4l0.5 0.0M97.4 678.3l0.0 0.3M166.2 704.5l0.3 0.2M80.5 687.5l-0.9 0.0M144.9 594.0l-0.7 0.3M237.8 646.6l-0.4 0.7M230.3 618.8l0.1 0.8M121.8 628.8l-0.3 0.3M229.7 671.0l0.8 0.0M132.1 689.3l0.2 0.2M199.6 609.5l0.6 0.5M200.7 634.8l-0.0 0.4M119.8 609.3l-0.1 0.6M165.2 600.6l-0.1 0.0M222.9 679.9l-0.2 0.1M110.6 646.9l-0.2 0.4M126.1 601.5l0.4 0.6M230.9 685.9l-0.4 0.4M77.5 626.9l-0.2 0.8M217.0 655.0l-0.3 0.5M104.5 631.9l-0.5 0.5M197.3 705.2l-0.5 0.6M194.8 667.3l-0.7 0.2M135.5 652.5l-0.1 0.2M125.3 630.5l0.2 0.0M131.4 656.5l0.5 0.1M119.9 603.8l-0.7 0.3M89.0 635.3l-0.6 0.4M118.8 619.6l-0.3 0.5M83.0 666.2l-0.3 0.4M235.2 694.2l-0.1 0.7M77.1 618.2l-0.6 0.1M220.5 657.0l0.3 0.0M193.1 669.2l-0.5 0.5M118.3 650.0l0.1 0.0M204.7 625.0l0.2 0.7M176.8 612.8l-0.1 0.1M82.9 652.0l-0.6 0.2M233.3 653.4l-0.2 0.6M215.7 634.9l-0.6 0.5M124.2 649.5l0.1 0.1M68.7 638.7l0.7 0.1M107.2 697.1l-0.1 0.2M117.2 591.9l-0.6 0.5M156.0 659.5l-0.3 0.2M232.0 649.9l0.1 0.1M133.5 700.0l0.1 0.0M217.3 620.2l0.2 0.0M226.3 684.3l-0.7 0.2M239.7 644.2l-0.6 0.2M87.2 631.3l-0.3 0.4M167.5 700.9l0.2 0.5M117.1 605.6l0.2 0.8M64.7 643.3l-0.6 0.3M71.9 649.4l-0.6 0.6M134.9 626.5l0.1 0.2M76.2 697.3l-0.4 0.4M228.5 645.2l-0.3 0.3M192.9 614.2l0.8 0.3M60.0 617.8l-0.9 0.2M184.5 600.8l-0.2 0.5M90.4 625.4l-0.7 0.1M73.1 634.3l0.7 0.2M179.7 599.2l0.8 0.0M215.7 694.4l0.7 0.4M170.6 582.8l-0.1 0.1M235.5 632.1l-0.0 0.3M113.0 651.2l-0.9 0.1M174.9 616.2l0.7 0.1M234.8 632.9l0.4 0.7M162.1 695.5l0.4 0.8M186.3 626.3l0.1 0.3M179.9 606.6l0.6 0.4M222.7 597.3l0.1 0.2M228.7 585.8l-0.4 0.7M163.7 705.7l-0.3 0.6M193.8 665.3l-0.7 0.1M131.5 685.8l0.0 0.2M98.9 657.5l0.2 0.5M205.4 702.7l-0.1 0.0M227.7 642.7l-0.5 0.5M124.2 600.1l-0.1 0.0M102.8 679.6l-0.4 0.1M161.8 643.7l0.7 0.3M167.0 669.0l-0.2 0.9M171.6 689.5l0.3 0.4M196.2 672.2l-0.2 0.6M92.9 640.4l-0.2 0.2M204.3 637.1l0.5 0.1M204.2 584.5l-0.1 0.8M113.8 601.9l0.1 0.4M80.8 661.8l-0.6 0.1M212.8 592.2l-0.7 0.4M243.4 640.7l0.3 0.6M170.5 618.1l0.0 0.8M58.4 692.7l-0.1 0.1M196.3 695.8l-0.3 0.6M113.6 641.0l-0.2 0.4M163.7 594.8l-0.6 0.5M121.6 644.6l-0.3 0.8M224.9 676.8l-0.0 0.2M211.4 625.4l-0.5 0.2M129.7 652.3l0.1 0.1M104.8 696.4l-0.1 0.1M71.5 655.8l-0.2 0.1M108.9 643.0l0.0 0.5M178.0 653.6l0.1 0.3M133.1 581.5l-0.0 0.1M137.9 595.6l0.2 0.4M186.4 607.5l0.2 0.5M137.2 621.4l-0.2 0.5M109.4 657.1l-0.5 0.3M216.5 671.2l-0.6 0.5M159.9 622.4l0.2 0.6M121.6 656.4l0.3 0.2M134.4 620.1l0.6 0.2M200.2 661.0l-0.7 0.4M240.0 624.1l0.3 0.8M138.2 648.0l-0.3 0.0M126.9 615.1l-0.1 0.2M147.6 596.3l-0.2 0.1M188.1 703.4l0.5 0.1M196.1 613.7l-0.6 0.1M105.0 655.4l-0.2 0.1M112.1 645.1l-0.2 0.1M208.7 689.3l-0.1 0.8M143.6 615.1l0.2 0.8M162.0 645.3l-0.0 0.2M127.4 619.6l0.8 0.2M217.6 617.4l0.0 0.1M153.6 621.9l0.7 0.1M137.1 688.1l0.2 0.0M228.4 584.0l0.3 0.0M163.1 579.8l-0.1 0.5M118.8 660.8l-0.6 0.3M180.2 690.3l0.8 0.4M61.0 629.5l-0.0 0.2M182.9 604.4l0.5 0.3M239.9 700.6l-0.6 0.2M194.0 694.7l-0.4 0.2" stroke="#9995c0" stroke-width="0.95" stroke-linecap="round" fill="none" opacity="0.9"/>
<path d="M52 611 L62 612.5 L75 616 L90 613.5 L100 611 L106 612" stroke="#b9b5dc" stroke-width="2.8" fill="none" stroke-linejoin="round" stroke-linecap="round" opacity="1.0"/>
<path d="M52 628 L54 640 L58 652 L66 660 L73 668 L76 680 L75 692 L72 700 L70 706" stroke="#b3afd9" stroke-width="3.2" fill="none" stroke-linejoin="round" stroke-linecap="round" opacity="1.0"/>
<path d="M243 580 L237 588 L233.5 598 L235 608 L240 616 L244 619" stroke="#bcb8de" stroke-width="3.0" fill="none" stroke-linejoin="round" stroke-linecap="round" opacity="1.0"/>
<path d="M72.7 668.6l0.4 0.0M77.6 615.5l-0.2 0.5M70.2 613.1l-0.1 0.3M240.3 614.1l-0.1 0.2M235.5 590.0l-0.2 0.4M75.1 616.4l-0.4 0.7M73.7 673.1l0.3 0.2M235.9 610.7l-0.0 0.8M86.2 613.0l-0.0 0.1M52.4 626.6l-0.0 0.2M89.3 612.1l-0.3 0.6M75.3 694.9l-0.5 0.1M83.8 614.0l0.0 0.3M66.9 663.0l0.1 0.5M238.4 614.0l0.7 0.0M73.9 614.3l-0.4 0.6M75.3 678.6l0.5 0.5M242.3 582.9l-0.1 0.6M233.0 604.0l0.6 0.2M70.4 667.0l-0.3 0.2M73.6 699.8l-0.2 0.4M52.9 641.2l0.0 0.2M71.1 613.6l0.6 0.4M55.3 638.4l0.3 0.1M75.8 674.5l-0.3 0.7M106.7 612.4l-0.5 0.2M64.4 657.7l0.4 0.1M67.7 614.0l0.2 0.1M77.4 679.7l-0.4 0.3M73.0 698.4l-0.3 0.4M71.6 703.5l0.1 0.0M73.3 672.3l-0.1 0.0M72.3 696.7l-0.4 0.4M70.7 667.1l-0.1 0.1M92.3 611.6l0.1 0.6M237.8 589.9l0.1 0.1M96.8 610.7l0.1 0.5M73.6 690.5l0.1 0.1M80.7 615.6l0.4 0.3M82.3 614.6l-0.4 0.2M72.4 697.4l-0.3 0.7M72.2 667.4l-0.6 0.3M89.1 614.1l0.7 0.1M65.1 657.1l-0.0 0.2M64.0 657.5l0.1 0.3M56.9 644.8l-0.4 0.0M71.1 615.5l-0.0 0.3M52.4 612.5l0.0 0.6M67.8 663.2l0.3 0.0M53.0 626.8l-0.1 0.4M76.4 690.4l-0.2 0.2M67.4 659.6l0.3 0.4M75.5 676.9l-0.1 0.7M58.3 613.0l0.1 0.1M232.2 599.8l-0.0 0.6M56.2 651.2l-0.3 0.1M73.2 614.9l0.3 0.1M238.3 585.3l-0.2 0.0M105.7 611.5l-0.1 0.3M234.6 601.8l-0.6 0.2M91.4 613.1l0.1 0.2M70.5 614.3l-0.3 0.4M240.2 585.2l-0.4 0.4M54.4 634.8l0.2 0.0M71.1 664.2l0.1 0.1M106.0 611.7l0.7 0.1M95.1 612.6l0.4 0.3M53.3 612.4l0.1 0.1M97.9 611.5l0.3 0.6M76.3 685.5l-0.1 0.2M60.6 653.0l0.6 0.2M68.7 664.0l-0.1 0.7M74.0 686.4l-0.0 0.4M53.3 611.6l0.4 0.5M234.8 596.1l0.4 0.3M66.6 662.6l0.2 0.4M72.8 615.5l0.7 0.1M76.1 675.0l0.1 0.2M238.8 615.3l0.0 0.3M83.5 615.2l0.0 0.6M55.6 648.2l-0.0 0.7M71.6 616.3l-0.3 0.6M59.8 610.8l-0.0 0.5M236.8 589.7l-0.2 0.1M234.7 590.1l-0.7 0.1M94.3 611.1l0.2 0.7M99.5 611.5l0.3 0.2M243.5 619.7l0.6 0.2M74.7 679.9l-0.0 0.7M80.4 615.6l-0.1 0.2M74.9 688.7l-0.7 0.3M235.8 602.8l-0.0 0.1M69.5 704.7l-0.0 0.2M240.6 585.2l-0.3 0.2M75.2 614.9l0.4 0.2M233.2 605.8l0.1 0.2M241.0 617.7l0.1 0.7M82.5 616.3l0.7 0.1M74.7 673.9l0.2 0.1M104.3 612.7l0.4 0.6M82.9 614.4l-0.5 0.1M75.1 675.3l-0.5 0.4M66.0 659.9l0.0 0.3M57.5 651.0l0.1 0.4M64.7 660.6l0.2 0.1M234.9 596.9l-0.7 0.1M73.4 616.1l-0.2 0.3M68.3 660.3l0.3 0.1M233.5 604.2l0.2 0.7M88.0 614.3l-0.0 0.1M71.1 701.1l0.5 0.1M74.6 678.6l-0.5 0.3M54.1 634.1l-0.1 0.1M233.4 604.3l0.1 0.5M233.2 605.7l0.1 0.0M73.7 671.1l-0.3 0.3M53.5 638.9l-0.3 0.2M73.3 672.3l-0.1 0.1M61.9 611.0l-0.2 0.0M66.1 660.8l0.5 0.5M65.0 614.7l-0.0 0.2M69.1 613.3l-0.5 0.5M233.8 595.5l-0.1 0.5M72.6 697.8l0.2 0.5M76.9 682.2l0.7 0.2M60.4 613.6l0.3 0.7M234.8 607.7l0.5 0.5M233.5 593.9l-0.0 0.6M241.5 619.4l0.3 0.2M55.7 649.6l-0.1 0.6M240.6 582.2l0.4 0.4M66.4 615.1l0.4 0.1M102.6 611.8l-0.4 0.4M76.7 691.2l-0.6 0.2M242.2 618.0l0.3 0.2M235.2 610.8l-0.1 0.2M56.0 610.7l-0.6 0.1M55.2 645.7l-0.1 0.0M64.4 657.1l0.0 0.1M74.9 672.1l-0.5 0.3M234.6 594.0l-0.4 0.1M95.9 612.1l-0.5 0.0M97.9 613.0l-0.3 0.1M235.6 604.6l0.2 0.0M58.6 651.8l0.3 0.1M236.2 609.5l0.1 0.2M73.5 693.1l0.0 0.1M58.9 651.2l0.1 0.4M71.9 666.2l0.0 0.2M72.2 703.9l-0.7 0.3M58.6 650.3l-0.0 0.2M233.5 594.4l0.0 0.3M73.6 670.2l0.0 0.5M74.0 685.5l0.7 0.2M58.4 612.8l-0.4 0.7M83.0 615.6l-0.3 0.0M236.1 612.5l0.5 0.1M64.1 655.8l0.1 0.2M72.4 666.8l-0.2 0.7M73.4 670.8l0.2 0.8M235.9 607.7l-0.2 0.2M71.0 614.7l-0.6 0.4M60.3 655.6l0.1 0.2M53.5 610.4l-0.1 0.5M59.1 613.2l0.1 0.1M95.2 611.9l-0.4 0.5M53.2 631.3l-0.7 0.3M99.0 610.1l0.5 0.2M75.9 676.3l0.1 0.1M73.1 666.9l-0.2 0.1M58.2 650.4l0.1 0.0M53.4 629.5l-0.1 0.3M236.3 591.5l-0.3 0.3M74.7 672.2l0.0 0.6M58.4 649.2l-0.4 0.2M62.8 613.6l0.3 0.5M75.9 692.9l-0.1 0.4M65.1 659.8l-0.0 0.2M68.3 613.4l-0.1 0.1M78.1 616.1l0.3 0.2M234.1 593.4l0.2 0.4M70.6 667.1l-0.3 0.1M95.7 611.6l-0.1 0.1M235.6 608.1l0.3 0.2M81.8 615.5l0.7 0.0M96.1 613.3l-0.2 0.0M242.4 583.4l0.6 0.3M98.4 612.1l-0.2 0.0M55.7 644.1l-0.3 0.2M53.4 627.4l-0.1 0.7M58.6 652.3l-0.4 0.4M59.0 654.4l0.7 0.3M69.4 613.6l-0.1 0.2M66.0 659.9l0.3 0.7M67.9 664.2l-0.2 0.3M54.2 632.8l0.3 0.3M75.0 678.6l-0.2 0.2M61.7 612.6l0.1 0.7M72.6 700.1l-0.7 0.3M97.7 612.1l0.4 0.2M233.3 605.5l0.2 0.3M56.3 647.7l-0.6 0.4M103.1 611.2l0.7 0.2M52.9 632.0l-0.1 0.7M236.2 605.7l0.6 0.3M60.4 652.4l-0.7 0.3M76.4 677.7l-0.2 0.3M243.0 579.5l-0.1 0.7M56.3 612.8l-0.4 0.3M61.4 611.0l0.1 0.5M66.2 661.2l0.7 0.2M234.0 609.2l-0.0 0.2M54.5 637.7l0.1 0.2M74.5 671.2l-0.3 0.3M235.1 591.0l-0.1 0.1M55.2 610.9l0.1 0.2M74.2 615.3l0.1 0.4M86.2 614.4l-0.5 0.3M98.4 609.9l0.5 0.4M63.2 613.1l0.6 0.1M55.0 647.5l0.2 0.2M86.0 615.7l-0.1 0.5M54.3 633.9l0.2 0.3M73.1 666.1l-0.6 0.2M233.3 599.7l-0.0 0.1M73.1 697.3l0.7 0.1M64.2 658.6l-0.5 0.1M52.7 637.7l0.3 0.2M86.0 615.4l0.2 0.3M234.7 601.2l0.0 0.5M73.2 693.0l0.3 0.2M235.2 606.6l-0.4 0.6M72.0 670.0l-0.2 0.7M236.5 585.9l0.2 0.1M90.9 614.7l-0.6 0.2M55.3 644.7l-0.2 0.4M237.9 585.6l0.6 0.4M71.5 664.2l0.2 0.0M233.1 603.0l-0.3 0.0M73.7 695.1l-0.1 0.2M72.7 670.2l0.7 0.0M54.4 643.9l-0.7 0.3M63.7 656.1l0.2 0.6M55.8 643.9l-0.8 0.1M73.8 669.1l0.4 0.6M95.8 610.9l-0.3 0.6M74.6 679.2l0.3 0.4M75.0 694.9l0.3 0.1M233.3 594.2l-0.4 0.4M53.8 611.5l-0.6 0.0M78.8 614.0l0.1 0.1M87.4 612.7l0.1 0.7M56.3 651.9l-0.3 0.1M63.5 656.1l0.5 0.5M89.6 613.9l-0.4 0.5M73.9 670.6l-0.4 0.3M74.4 667.8l-0.1 0.0M83.1 614.0l0.2 0.1M73.4 674.6l-0.1 0.0M55.3 639.5l-0.3 0.7M59.8 613.3l0.2 0.1M237.9 615.3l-0.0 0.3M69.7 663.0l-0.1 0.5M236.8 593.6l0.3 0.3M54.8 643.1l0.1 0.2M64.0 612.9l-0.5 0.4M66.3 658.9l-0.4 0.4M235.0 598.5l-0.0 0.4M102.3 609.8l0.2 0.2M235.9 610.2l-0.5 0.4M103.0 611.7l0.2 0.0M71.9 667.1l-0.1 0.1M74.5 677.5l-0.2 0.0" stroke="#686399" stroke-width="0.9" stroke-linecap="round" fill="none" opacity="0.8"/>
</g>
<g clip-path="url(#cLi)">
<path d="M163 626H173L174 650L175 680L175.5 706H163Z" fill="#cfcbe8"/>
<path d="M164.5 635.1l0.7 0.6M171.5 692.5l0.4 0.1M169.0 690.0l0.1 0.7M169.0 667.3l-0.6 0.6M172.1 653.6l0.7 0.2M169.6 690.8l0.4 0.7M176.0 704.2l0.2 0.5M175.7 690.6l0.3 0.2M173.9 687.9l1.2 0.1M170.8 645.3l0.7 0.4M175.2 702.9l-0.8 0.2M163.9 689.3l-0.9 0.5M165.1 631.3l0.2 0.6M169.1 706.0l0.2 0.2M166.9 638.7l-0.4 0.3M167.7 692.4l-0.0 1.1M168.0 705.0l-0.4 1.1M172.4 627.1l0.8 0.5M171.2 640.2l0.5 0.8M163.9 642.2l-0.0 0.8M172.6 674.6l-1.0 0.6M163.4 641.8l0.1 0.6M172.7 655.0l0.1 0.2M167.2 665.9l0.2 0.7M173.5 633.8l0.0 0.3M171.2 643.0l-0.2 0.2M163.9 674.2l-0.5 0.4M163.1 643.6l-0.2 1.1M164.4 698.5l-1.1 0.1M173.7 641.7l-0.3 0.1M163.3 637.1l-0.4 0.3M170.3 695.4l-0.3 0.6M171.2 688.8l0.7 0.2M168.6 705.6l-0.1 0.9M163.9 628.3l0.4 1.0M168.5 671.9l-0.6 1.0M173.9 648.6l0.2 1.0M174.3 698.8l-0.2 0.1M172.9 628.1l-0.5 0.0M163.3 659.9l-0.6 0.1M169.7 665.0l0.2 0.6M168.9 691.4l0.4 0.1M164.9 675.8l0.3 0.0M170.4 679.3l-0.8 0.1M174.9 652.0l-0.5 0.1M171.8 628.5l1.1 0.5M163.4 650.2l-0.5 0.5M164.8 687.2l0.1 0.2M165.3 668.9l-0.6 0.7M164.1 650.2l-0.6 0.3M172.8 699.9l0.1 0.3M164.3 683.9l0.2 0.4M170.4 658.8l-0.3 0.7M166.5 673.8l0.7 0.4M164.1 636.1l-0.3 0.1M168.9 649.6l-0.9 0.7M167.0 690.4l-1.1 0.2M170.9 698.7l0.3 0.2M170.1 697.8l-0.7 0.3M171.6 685.3l-0.2 0.2M167.6 674.9l-0.3 0.0M170.6 685.8l-0.4 0.8M169.6 700.8l-0.9 0.3M169.7 680.3l0.3 0.7M168.7 664.2l1.0 0.6M165.1 658.5l0.2 0.4M174.9 663.4l0.8 0.7M164.8 643.8l0.4 0.5M164.7 682.5l0.5 0.5M168.0 660.2l-0.2 0.3M164.7 688.7l0.2 0.8M171.3 628.7l0.6 0.2M163.3 688.7l0.2 0.6M175.0 658.4l0.4 0.1M170.4 642.1l-0.0 0.4M166.2 668.9l0.3 0.3M163.9 639.3l0.5 1.0M169.3 668.3l1.0 0.3M172.2 637.7l-0.4 0.9M165.4 701.8l0.6 1.0M170.3 689.8l-0.1 0.2M174.7 659.6l-0.4 0.7M172.3 671.6l0.5 0.1M169.0 657.4l-0.3 0.4M173.2 648.5l-0.4 0.5M165.8 645.9l-0.3 0.4M169.6 693.9l-0.2 0.7M171.1 696.4l-0.7 0.6M163.5 704.0l0.2 1.0M168.4 676.3l0.4 0.6M169.1 681.5l0.2 0.6M163.4 703.2l0.5 0.5M171.2 639.8l1.0 0.0M175.4 681.3l0.4 0.9M169.2 665.0l0.2 0.9M164.3 655.4l0.6 0.8M165.8 682.8l-0.4 0.0M165.9 698.5l0.8 0.5M164.0 655.6l1.0 0.2M174.3 641.0l0.5 0.1M166.1 701.6l-0.5 0.4M174.0 642.0l-0.1 0.6M173.1 680.2l-0.3 0.3M167.4 684.2l-0.2 0.7M174.9 674.7l0.4 0.1M168.1 678.6l-0.8 0.6M165.4 678.5l0.8 0.8M172.3 670.8l-1.0 0.2M174.3 678.6l0.4 0.0M168.4 635.1l-0.2 0.2M168.6 691.2l-0.4 0.4M170.1 660.6l0.2 0.6M165.8 695.6l0.6 0.2M174.1 663.9l-0.2 0.2M168.5 688.5l-0.4 1.1M170.7 640.2l0.3 0.3M172.8 704.8l-0.8 0.2M163.2 659.1l-0.3 0.1M165.0 635.9l-0.0 0.2M165.1 692.6l-0.3 0.5M173.5 638.0l-0.0 0.5M171.1 695.4l-0.8 0.4M167.7 662.2l-0.8 0.9M171.4 656.7l0.4 0.2M164.7 659.4l-0.4 0.2M171.0 678.5l-1.0 0.1M167.2 652.9l0.2 0.1M171.5 646.8l0.3 0.5M170.3 670.2l0.1 0.4M175.1 698.7l0.4 0.3M174.2 692.4l-0.7 0.6M166.8 638.6l0.3 0.2M169.2 659.8l-0.0 0.3M174.4 695.2l-0.1 0.8M174.3 634.8l0.3 0.2M174.1 679.4l-0.6 0.7M172.2 700.7l0.8 0.7M171.5 634.1l0.1 0.4M169.0 669.8l-0.6 0.5M167.1 700.7l-0.7 0.9M171.7 648.8l-0.1 0.7M169.2 657.0l-0.4 0.1M175.1 664.1l0.1 0.2M169.4 634.3l0.4 0.4M168.4 638.6l-0.5 0.6M173.7 700.0l-0.3 0.7M168.2 628.4l-0.9 0.2M172.1 684.9l1.0 0.0M172.7 655.6l-0.3 0.3M163.8 690.8l0.1 0.8M167.0 651.8l0.6 0.2M168.8 648.3l0.5 0.3M170.2 696.8l0.1 0.9M168.6 636.5l-0.3 0.3M171.8 659.7l-0.5 0.2M164.8 653.9l-0.1 0.3M167.6 635.4l0.2 0.2M166.2 652.5l-0.0 1.1M166.2 704.4l-0.4 0.1M167.7 692.0l0.3 0.8M166.6 643.2l0.9 0.6M163.7 645.2l0.5 0.0M165.3 697.2l-1.0 0.6M163.3 653.6l-0.0 0.8M175.0 655.1l-0.1 0.2M165.7 691.7l0.4 0.9M173.1 683.3l0.6 0.5M165.3 664.0l-0.4 0.1M165.0 652.7l0.6 0.3M168.4 632.9l0.6 0.9M172.4 671.5l0.5 0.3M173.6 698.7l-0.6 0.4M167.4 695.0l0.1 0.4M170.9 661.5l0.6 0.3M171.1 638.2l-0.1 0.5M168.4 675.6l-0.3 0.1M164.4 681.6l0.9 0.2M172.5 652.4l-0.4 0.5M168.8 675.4l0.7 0.8M169.8 640.5l-0.5 0.5M169.2 700.0l-0.8 0.5M168.4 690.9l0.1 0.5M166.5 635.8l0.5 0.8M172.9 635.7l-0.7 0.7M164.3 634.2l-0.1 0.2M166.7 675.9l-0.8 0.8M168.9 663.2l0.3 0.0M166.7 689.7l0.3 1.1M170.7 682.9l0.1 0.7M167.5 628.4l-0.6 0.4M164.1 684.2l0.5 0.2M169.7 636.7l0.9 0.3M165.1 694.5l0.3 0.5M173.3 638.9l-0.8 0.5M174.1 675.7l-0.2 1.1M170.3 650.1l0.2 0.3M166.1 630.5l-0.3 0.5M169.1 696.9l1.1 0.2M171.6 694.5l0.5 0.6M171.2 675.0l0.3 0.0M173.8 656.3l0.9 0.6M168.3 676.7l0.3 0.9M174.5 659.0l0.2 0.9M171.5 663.8l-0.2 0.5M167.2 657.1l-0.1 0.4M165.4 687.0l0.1 0.5M170.3 686.0l-1.0 0.6M164.8 645.6l-0.0 0.9M172.4 685.0l-0.1 0.3M169.9 696.6l-0.6 0.6M173.9 704.9l-0.2 0.3M174.1 688.2l-0.9 0.0M163.3 631.8l-0.1 0.2M167.1 696.6l0.4 0.8M171.9 634.5l0.2 0.2M174.1 635.2l0.9 0.5M168.9 627.9l-0.3 0.3M173.1 662.9l-0.2 0.2M166.5 639.6l0.1 0.2M164.0 646.2l-0.3 1.0M174.8 686.5l0.4 0.1M163.4 703.9l0.9 0.4M170.2 673.3l1.0 0.1M164.2 702.2l-0.3 0.2M165.3 628.2l0.3 0.6M168.6 642.8l0.0 0.7M172.0 693.0l-0.3 0.2M171.8 689.5l0.2 0.6M167.6 703.8l-0.0 0.3M169.7 667.6l-0.3 0.2M169.6 698.6l0.2 0.6M167.6 652.8l-0.2 0.2M166.6 687.4l0.2 0.2M171.9 652.6l0.7 0.2M168.3 700.2l0.5 0.2M165.3 658.3l0.3 0.5M174.4 657.7l-0.1 0.2M165.9 641.2l-0.5 0.6M167.9 662.2l0.1 0.5M173.2 658.7l0.0 1.1M173.1 675.3l-0.8 0.4M163.3 667.4l-1.2 0.2M168.2 630.7l1.1 0.3M175.2 701.7l0.8 0.3M166.8 635.6l0.0 0.6M167.2 705.2l-0.2 0.7M163.3 629.4l-0.3 0.5M169.1 654.4l0.7 0.1M169.4 683.2l-0.4 0.7M166.9 679.9l0.1 0.2M166.2 701.4l-0.9 0.6M166.9 677.6l0.5 0.2M169.7 667.1l-0.5 0.2M165.0 690.9l0.6 0.5M166.6 692.6l-0.2 0.4M164.2 681.3l0.9 0.1M166.3 684.7l0.1 0.3M166.6 675.4l-0.1 0.2M169.2 696.4l-0.4 0.0M172.3 661.4l-0.2 0.3M163.6 631.7l-0.2 0.3M165.6 682.5l0.6 1.0M168.4 664.9l-0.3 0.7M166.5 635.5l0.8 0.5M165.2 626.7l-0.8 0.1M164.0 691.3l-0.0 0.4M174.9 699.3l0.8 0.6M169.7 634.0l0.6 0.1M173.1 694.2l0.7 0.6M170.7 682.4l0.2 0.6M166.0 629.7l-0.0 0.8M164.2 638.0l-0.8 0.2M172.8 681.9l0.9 0.1M164.3 637.2l-0.0 0.9M169.1 646.4l0.6 0.2M175.0 675.1l-0.4 0.2M163.4 632.2l0.3 0.2M167.6 689.1l0.2 0.9M173.8 686.6l0.8 0.6M165.8 633.7l0.3 0.1M167.6 631.4l0.4 0.5M171.4 665.5l-0.3 0.7M172.0 701.2l-0.2 0.7M164.6 653.5l-0.1 0.2M165.6 674.0l0.5 1.0M173.9 683.7l-0.5 0.8M163.0 658.3l0.4 0.4M163.6 676.2l0.3 0.3M167.9 665.8l-0.2 0.4M172.8 699.4l0.0 0.3M166.7 637.4l-0.9 0.0M174.5 675.0l-0.2 0.5M175.2 693.1l-0.4 0.3M171.5 656.7l-0.1 0.7M167.7 652.1l0.4 0.8M163.5 635.4l-0.6 0.8M169.3 672.2l-0.0 1.0M169.0 639.7l-0.8 0.9M169.2 687.3l0.1 0.8M174.8 667.0l0.8 0.4M172.7 664.6l-0.1 0.5M170.7 664.3l-0.3 0.2M165.6 653.3l0.6 0.7M165.9 650.4l-0.2 0.3M168.4 646.7l0.7 0.2M175.4 696.2l1.0 0.1M163.5 642.6l-1.0 0.4M167.0 650.8l0.2 0.1M171.7 704.0l0.9 0.2M163.0 681.9l0.5 0.3M167.8 675.1l-0.4 0.1M164.0 669.1l-0.3 0.9M169.5 695.8l-1.1 0.2M172.1 670.0l-1.1 0.4M171.1 651.0l-1.1 0.2M172.2 670.6l-0.3 0.0M170.0 669.8l0.1 0.4M173.9 661.1l0.7 0.7M168.5 698.6l-0.5 0.1M174.1 703.6l0.8 0.5M163.9 660.7l-0.2 0.5M168.1 629.8l-0.3 0.0M168.3 670.5l-0.3 0.2M175.3 701.6l0.5 0.4M171.9 655.1l-1.0 0.1M170.9 682.0l0.2 1.1M173.5 671.4l0.9 0.2M172.3 637.8l0.1 0.4M166.7 667.3l0.1 0.2M173.5 632.0l0.6 0.1M166.3 655.0l-0.3 0.7M173.7 644.8l0.1 0.5M169.0 629.5l-0.4 0.6M168.8 701.1l-0.1 0.6M167.8 695.3l0.3 0.4M172.8 669.2l-0.2 0.5M174.0 660.3l0.4 0.4M164.4 698.5l0.7 0.1M165.1 639.1l1.2 0.0M163.0 693.9l-0.1 0.4M166.0 679.7l0.1 0.3M174.1 689.9l0.7 0.8M173.2 667.1l0.1 0.2M165.9 636.1l0.2 0.6M168.5 703.9l-0.4 0.1M163.1 643.4l-1.0 0.5M168.0 635.1l-0.4 0.6M168.6 662.7l0.3 0.3M167.7 666.2l0.9 0.2M165.7 686.7l-0.6 0.1M165.2 682.6l0.2 0.6M174.2 641.9l0.2 0.4M172.7 704.6l-0.5 0.9M173.6 649.8l-0.8 0.6M171.2 667.3l-0.6 0.0M163.2 672.2l0.1 0.4M167.8 690.1l0.4 0.3M171.9 637.2l0.1 1.0M164.8 648.7l-0.7 0.9M169.3 638.6l-0.3 0.9M173.0 642.7l0.8 0.4M169.3 664.5l-0.2 1.1M167.4 659.1l0.0 0.8M166.7 634.7l-0.2 0.4M164.9 652.6l-0.5 0.2M174.4 695.4l-0.3 0.2M167.2 703.8l-1.1 0.0M167.7 683.3l0.6 0.4M175.3 669.8l0.4 0.1M164.7 691.8l-0.9 0.8M169.3 664.1l-0.2 0.6M173.5 686.0l-0.3 0.1M170.1 633.3l0.3 1.1" stroke="#7a72b5" stroke-width="1.3" stroke-linecap="round" fill="none" opacity="0.85"/>
<path d="M238.9 690.3l0.3 2.3M196.1 638.8l-1.1 0.3M197.2 689.7l-0.7 1.9M223.7 646.9l0.8 0.5M221.5 685.0l-0.8 0.1M208.0 653.0l-1.7 0.6M195.3 658.1l-1.4 0.2M205.6 691.8l-0.9 1.7M206.9 671.5l1.6 1.7M194.1 646.1l-1.2 0.8M231.3 670.6l1.3 2.1M193.5 631.8l0.4 1.0M196.7 696.3l-2.2 1.1M190.2 691.0l0.5 2.2M197.3 629.2l-0.2 0.9M227.6 653.6l0.5 1.3M243.1 682.9l0.5 1.1M206.7 670.4l-1.6 1.3M206.2 657.9l0.8 0.2M192.0 679.0l0.7 0.9M210.4 644.7l2.0 0.9M217.9 628.6l1.6 1.7M234.4 650.9l-0.8 0.6M222.1 702.0l-1.1 0.5M193.9 703.4l1.5 1.4M234.4 626.2l0.7 0.6M196.6 649.8l-0.1 1.4M237.7 649.9l-1.3 0.1M221.4 665.0l1.8 0.3M224.4 658.8l-1.1 0.5M228.2 664.7l1.3 0.7M192.0 691.8l2.5 0.0M225.7 631.9l-0.0 2.1M241.4 694.9l-0.6 1.7M212.1 683.2l-1.2 1.2M193.6 664.6l2.6 0.2M218.4 629.0l1.3 0.3M212.0 692.0l-0.6 1.5M230.0 627.6l1.8 1.4M201.5 699.6l1.3 1.9M198.3 630.8l1.8 0.7M191.3 653.7l1.2 0.9M232.3 700.9l1.3 1.1M243.6 660.8l1.5 0.7M197.8 656.6l-1.8 0.2M229.0 683.2l1.2 0.5M205.5 628.4l-1.2 0.7M205.9 683.5l1.1 1.1M235.9 676.0l0.3 2.5M207.0 680.7l2.1 1.1M241.4 675.0l1.0 1.7M229.8 668.2l-0.2 0.9M213.7 685.2l-0.0 1.5M242.5 667.6l0.8 0.6M229.9 674.5l1.1 2.0M218.6 695.5l-0.3 1.0M204.1 645.7l1.6 2.0M235.2 646.5l-0.2 1.2M240.6 661.6l0.4 1.7M181.6 627.3l1.2 1.3M238.2 642.8l-0.8 0.5M239.9 663.2l-0.3 1.6M238.0 650.9l0.4 1.8M241.0 672.2l0.2 0.8M218.3 684.9l1.1 0.1M193.0 683.5l1.4 1.4M236.4 634.5l-1.0 1.8M231.5 629.6l-1.7 1.7M227.3 670.4l0.8 0.8M192.7 693.2l-1.3 0.0M205.5 705.9l-0.2 1.2M220.7 646.2l-0.2 0.8M194.4 650.8l-0.7 0.8M243.9 657.9l-0.8 0.4M229.6 701.7l-0.9 0.9M213.8 692.2l-0.4 2.2M207.0 661.5l-0.1 2.2M201.3 688.8l-1.9 0.1M204.2 649.8l1.2 0.9M194.8 681.5l-1.3 0.4M234.0 671.5l-0.9 1.7M220.3 678.7l1.6 1.6M220.1 680.2l-1.0 0.0M194.9 700.2l0.7 0.4M211.7 650.3l-0.7 1.5M235.7 635.1l1.5 1.1M236.0 671.9l-1.5 0.3M198.4 676.2l-1.3 1.3M188.5 639.6l-1.4 1.2M193.2 691.1l-1.4 1.1M181.9 682.2l-1.0 1.0M228.2 660.0l-0.7 2.0M242.8 705.6l1.7 1.1M208.2 649.7l0.0 1.8M222.5 644.0l-1.3 1.5M193.6 702.5l1.2 0.4M225.3 630.5l-1.4 1.3M190.8 683.1l-1.0 0.3M213.8 640.8l0.9 1.5M219.6 663.2l-0.4 1.1M224.1 660.7l2.0 1.2M228.9 630.9l-0.1 0.9M216.3 658.6l0.8 0.4M231.4 702.6l1.3 1.4M237.5 651.1l0.7 1.9M224.0 697.0l0.7 0.5M240.6 672.9l1.3 1.7M229.9 678.6l1.5 1.7M243.4 639.6l1.3 0.8M238.0 685.6l0.9 2.0M218.4 636.1l-0.7 0.7M176.1 652.2l-2.2 0.4M207.0 662.2l0.7 0.4" stroke="#7c77a8" stroke-width="1.5" stroke-linecap="round" fill="none" opacity="0.8"/>
</g>
<g clip-path="url(#cR)">
<path fill="#ebeaf3" d="M244 606 L270 607.5 L300 611 L340 614 L355 618 L380 622 L392 627 L436 627 L436 706 L244 706Z" filter="url(#blur2)"/>
<path fill="#f7f7fb" d="M298.7 628.2 L301.5 624.5 L305.3 622.6 L310.5 623.2 L315.4 626 L317.6 636 L315.4 651.6 L308.7 667.2 L299.8 676 L292 681.7 L291.3 671.7 L293.5 651.6 L296.4 638.2Z" stroke="#8e89c1" stroke-width="3.2" stroke-linejoin="round"/>
<ellipse cx="333.5" cy="647" rx="6.6" ry="11.3" transform="rotate(18 333.5 647)" fill="#f7f7fb" stroke="#8e89c1" stroke-width="3"/>
<circle cx="288.6" cy="619.3" r="3.6" fill="none" stroke="#b3afd8" stroke-width="1.4"/>
<path d="M250 624 L256 615 L262 606" stroke="#a5a0cf" stroke-width="1.1" fill="none" stroke-linejoin="round" stroke-linecap="round" opacity="1.0"/>
<path d="M256 627 L263 617 L270 609" stroke="#a5a0cf" stroke-width="1.0" fill="none" stroke-linejoin="round" stroke-linecap="round" opacity="1.0"/>
<path d="M247 630 L249.5 645 L251 665" stroke="#9a95cb" stroke-width="2.4" fill="none" stroke-linejoin="round" stroke-linecap="round" opacity="1.0"/>
<path d="M344.1 648.5l0.5 0.3M339.3 692.9l-0.0 0.7M336.9 631.4l-0.3 0.2M362.5 696.9l0.3 0.7M282.0 697.4l-0.4 0.4M391.2 683.6l0.7 0.3M281.1 694.6l-0.1 0.9M403.1 640.9l-0.3 0.7M264.3 641.8l-0.6 0.6M277.3 650.6l-0.5 0.2M249.3 688.5l-0.7 0.1M425.0 653.2l-0.0 0.2M328.5 701.3l-0.2 0.8M329.3 668.3l-0.1 0.0M261.3 694.7l-0.4 0.4M253.2 673.0l-0.2 0.4M245.9 651.2l0.2 0.5M288.5 612.4l-0.6 0.0M415.6 639.8l-0.4 0.2M328.6 669.9l-0.0 0.6M293.7 695.4l-0.1 0.1M423.3 688.0l0.1 0.2M288.6 614.1l0.2 0.3M406.0 684.0l-0.2 0.3M293.1 705.7l-0.1 0.7M383.3 645.2l-0.1 0.4M434.4 670.2l-0.1 0.0M313.4 679.1l-0.2 0.1M408.3 667.4l0.1 0.1M288.3 618.7l-0.1 0.2M311.9 701.2l0.1 0.3M385.2 639.3l-0.3 0.2M390.3 662.3l0.4 0.4M282.4 626.7l-0.1 0.3M419.7 656.5l0.4 0.5M423.5 627.5l0.2 0.1M335.6 631.5l0.1 0.8M295.4 631.8l-0.0 0.2M385.9 652.6l0.0 0.4M324.6 694.1l0.3 0.1M295.7 688.8l0.6 0.3M275.6 682.3l-0.7 0.2M421.1 671.2l-0.3 0.2M377.3 648.5l-0.1 0.0M313.2 674.0l0.6 0.2M284.1 613.5l0.7 0.6M372.9 631.9l0.0 0.1M289.3 649.4l0.1 0.1M388.7 684.8l-0.8 0.1M326.7 637.9l0.5 0.6M388.2 702.2l-0.4 0.5M404.2 670.7l-0.0 0.2M258.3 661.8l0.1 0.3M342.2 633.3l-0.2 0.3M316.4 687.8l0.7 0.5M301.6 616.4l0.3 0.0M277.6 665.4l-0.4 0.4M272.7 705.4l0.4 0.2M264.4 663.4l-0.5 0.4M402.6 649.1l-0.4 0.2M348.2 695.2l-0.2 0.4M279.8 659.4l0.1 0.1M319.4 657.7l-0.3 0.1M364.6 685.9l-0.2 0.1M344.0 662.2l0.9 0.1M422.6 683.7l-0.3 0.1M350.2 641.0l0.2 0.1M263.9 674.5l-0.4 0.3M249.1 663.9l-0.6 0.3M248.6 679.6l-0.3 0.2M407.8 698.1l0.1 0.1M248.6 629.0l-0.8 0.0M350.0 684.6l-0.5 0.7M417.4 687.1l0.7 0.4M297.5 613.5l0.4 0.6M261.5 645.3l0.2 0.3M415.9 671.1l0.3 0.1M319.6 678.3l-0.5 0.4M244.7 620.8l-0.0 0.7M361.2 639.8l0.7 0.5M412.9 695.4l0.6 0.5M398.3 681.3l-0.2 0.6M383.1 675.9l0.5 0.1M434.9 660.5l0.1 0.1M380.8 653.2l0.2 0.4M340.0 652.2l0.5 0.5M271.5 659.0l-0.3 0.2M379.1 633.3l0.1 0.4M270.6 700.5l0.2 0.2M250.8 676.7l-0.0 0.1M289.7 648.2l-0.0 0.2M248.0 607.6l-0.1 0.1M359.0 665.6l0.3 0.1M362.1 664.1l-0.4 0.1M248.0 686.6l0.1 0.2M251.9 696.4l0.7 0.0M398.4 676.4l-0.0 0.3M277.0 679.9l-0.0 0.1M423.2 652.9l-0.2 0.2M316.0 695.6l0.1 0.1M374.5 642.1l-0.3 0.3M286.4 669.8l0.3 0.6M416.0 701.9l-0.4 0.3M310.1 667.9l0.2 0.2M312.9 685.8l-0.2 0.1M425.9 689.6l0.4 0.1M263.4 676.2l0.4 0.1M265.3 681.2l-0.2 0.2M426.4 672.6l0.8 0.0M347.3 617.6l0.0 0.8M378.6 697.9l-0.7 0.1M382.8 674.9l0.4 0.3M332.6 684.6l-0.2 0.4M372.0 660.2l-0.4 0.1M363.4 654.3l-0.3 0.2M346.7 658.0l-0.1 0.4M397.3 646.9l-0.3 0.3M355.8 678.4l0.6 0.1M287.9 612.5l-0.2 0.7M359.3 680.8l0.5 0.4M377.3 653.8l-0.0 0.2M257.7 614.6l-0.2 0.4M250.1 608.4l-0.1 0.1M281.7 694.7l0.3 0.1M319.1 625.5l-0.0 0.2M395.9 636.8l0.3 0.1M306.2 672.2l-0.2 0.0M351.3 615.2l-0.2 0.3M304.9 704.8l0.0 0.2M405.8 636.1l-0.2 0.7M340.4 632.7l-0.2 0.2M249.6 635.4l-0.1 0.1M245.6 623.7l-0.5 0.1M340.3 691.2l-0.2 0.1M434.6 667.8l0.6 0.3M327.4 630.1l0.1 0.2M358.4 678.3l-0.2 0.1M416.2 641.3l0.5 0.2M274.5 698.9l0.6 0.4M257.1 705.3l-0.6 0.2M409.8 639.0l0.8 0.3M419.9 686.5l0.1 0.3M325.9 694.7l-0.6 0.0M380.6 631.3l-0.1 0.0M337.1 681.7l0.5 0.5M259.2 609.4l-0.1 0.1M285.4 670.3l-0.6 0.3M356.0 697.3l-0.3 0.2M316.3 651.2l-0.7 0.3M412.1 682.4l0.5 0.2M389.7 641.0l0.3 0.3M320.8 652.0l-0.6 0.3M421.1 655.7l0.1 0.2M346.1 628.7l-0.3 0.6M341.9 659.4l-0.7 0.1M282.4 673.2l0.9 0.2M365.8 701.9l-0.2 0.4M281.5 666.8l-0.3 0.8M272.8 702.4l0.1 0.5M289.3 662.1l0.3 0.7M391.6 687.8l0.4 0.2M406.8 671.3l0.6 0.3M294.9 702.9l-0.1 0.2M391.0 653.3l0.2 0.3M347.8 685.1l-0.2 0.4M291.8 613.9l0.3 0.3M343.1 635.7l0.2 0.0M379.0 706.0l-0.2 0.3M362.7 636.2l0.6 0.4M414.3 701.5l0.4 0.7M358.4 683.7l-0.2 0.7M272.3 621.6l-0.2 0.3M334.2 627.1l0.2 0.4M270.0 625.1l0.2 0.3M363.6 697.8l0.1 0.1M414.2 672.2l0.1 0.1M309.9 665.1l-0.1 0.2M341.0 677.9l0.4 0.6M267.7 701.0l-0.1 0.1M298.9 706.0l-0.6 0.4M304.2 692.2l-0.6 0.2M348.5 660.9l-0.4 0.4M385.6 638.4l-0.7 0.5M247.9 633.6l-0.3 0.1M326.4 673.4l-0.2 0.5M401.5 681.3l-0.4 0.4M340.5 620.5l-0.1 0.1M386.2 640.3l-0.5 0.6M332.3 661.7l0.3 0.4M294.8 610.7l0.5 0.1M416.3 640.0l0.1 0.1M306.6 684.3l-0.5 0.6M257.3 607.0l-0.7 0.0M292.8 643.5l0.1 0.5M371.2 680.1l0.4 0.2M259.9 626.7l0.5 0.2M422.9 662.9l-0.6 0.1M405.1 644.6l0.3 0.5M244.9 679.7l0.4 0.2M253.0 686.2l0.2 0.3M363.3 668.6l0.5 0.3M248.7 635.3l-0.3 0.4M272.3 671.1l0.1 0.7M305.5 671.1l0.1 0.4M247.3 609.6l0.3 0.1M371.6 631.2l-0.4 0.6M426.2 651.6l-0.3 0.7M270.6 670.1l-0.1 0.1M339.5 676.1l0.1 0.1M372.3 679.2l-0.2 0.3M387.0 669.2l0.2 0.6M308.5 673.3l-0.0 0.4M288.9 685.5l0.6 0.2M292.5 614.1l-0.0 0.2M324.3 662.5l0.4 0.0M341.6 666.2l-0.2 0.8M263.2 645.3l-0.2 0.2M383.1 701.1l-0.3 0.4M321.9 641.9l0.7 0.1M255.0 700.6l-0.3 0.5M316.8 646.0l-0.2 0.8M262.5 627.5l-0.5 0.3M372.2 666.1l-0.1 0.8M371.5 642.4l-0.7 0.5M366.6 639.8l0.1 0.5M298.6 671.5l0.4 0.8M305.3 613.1l-0.2 0.3M404.7 648.1l0.6 0.2M391.2 664.7l0.4 0.0M270.4 678.6l0.1 0.6M413.4 698.6l0.2 0.6M348.5 607.4l0.2 0.2M352.8 629.1l-0.0 0.6M290.8 694.7l-0.1 0.2M300.3 705.4l0.4 0.1M315.1 620.0l-0.2 0.9M409.5 667.0l-0.1 0.7M377.8 622.7l-0.2 0.0M346.0 674.3l-0.7 0.3M411.7 666.1l0.1 0.1M267.7 695.0l0.8 0.3M417.0 686.6l0.3 0.0M316.1 622.4l0.1 0.4M431.0 677.6l0.0 0.8M300.7 611.0l-0.7 0.2M350.9 657.7l-0.4 0.1M348.0 655.4l-0.2 0.5M352.3 633.9l0.4 0.1M371.1 653.1l0.5 0.1M257.7 667.0l0.0 0.1M250.7 623.5l0.5 0.1M348.6 666.5l0.5 0.2M326.9 691.5l0.6 0.2M321.6 633.0l-0.0 0.1M268.7 659.9l0.4 0.4M299.1 626.2l-0.1 0.4M259.7 641.9l0.3 0.1M263.5 684.2l0.1 0.6M377.6 622.7l-0.1 0.8M267.6 609.4l-0.1 0.9M422.8 675.0l0.4 0.6M353.0 637.3l0.2 0.7M412.7 691.1l0.2 0.0M360.2 642.1l0.2 0.4M419.8 640.0l0.0 0.1M356.4 695.2l-0.2 0.2M318.0 679.1l-0.4 0.3M293.9 647.3l0.4 0.0M299.9 617.8l-0.2 0.0M358.3 621.7l0.1 0.1M403.7 693.8l-0.4 0.0M313.8 677.1l-0.4 0.1M285.7 661.3l-0.2 0.6M348.7 699.6l-0.7 0.4M399.9 684.3l-0.5 0.1M409.5 678.2l-0.1 0.6M352.4 669.1l0.6 0.1M297.8 632.0l-0.2 0.1M391.8 698.0l-0.3 0.2M317.0 619.8l0.7 0.2M268.9 664.9l-0.3 0.3M405.9 678.6l0.0 0.3M279.4 611.2l-0.7 0.1M351.6 697.9l0.1 0.4M413.9 680.4l-0.1 0.0M367.5 670.1l0.5 0.7M251.0 612.5l-0.4 0.4M274.0 669.8l-0.3 0.6M432.5 694.1l-0.5 0.1M365.9 622.5l0.2 0.7M397.6 640.8l0.6 0.2M366.9 633.7l-0.1 0.5M435.5 673.6l0.3 0.2M359.3 684.4l-0.4 0.2M431.3 660.6l0.5 0.4M301.6 612.8l-0.0 0.4M389.4 662.8l-0.1 0.6M427.2 705.5l0.1 0.2M283.8 608.0l0.1 0.1M290.6 658.8l-0.4 0.6M310.6 697.8l0.2 0.8M410.6 641.5l-0.0 0.8M321.8 613.5l0.6 0.4M433.0 696.7l-0.3 0.3M337.6 688.3l-0.1 0.0M396.9 675.6l0.4 0.2M405.5 628.6l0.0 0.4M273.1 619.6l0.7 0.3M295.1 621.5l0.0 0.2M289.2 705.8l0.1 0.0M247.8 672.8l0.3 0.2M290.4 678.3l-0.8 0.3M351.1 678.9l0.8 0.3M361.2 698.7l0.5 0.7M261.5 614.2l0.3 0.6M291.2 689.9l-0.1 0.3M346.3 628.8l0.2 0.2M351.0 701.7l0.2 0.5M373.9 639.7l0.5 0.6M264.3 671.7l-0.4 0.3M282.5 696.8l0.1 0.0M304.3 682.2l0.7 0.5M386.3 685.3l-0.2 0.2M251.9 620.1l0.3 0.5M392.4 639.2l-0.5 0.4M335.9 614.2l0.5 0.1M244.5 656.3l-0.1 0.1M354.2 704.7l0.5 0.1M349.7 612.7l0.3 0.5M262.5 635.1l-0.6 0.2M362.4 694.9l-0.2 0.4M326.8 702.3l-0.1 0.6M390.0 629.6l0.0 0.1M400.4 689.8l0.4 0.2M257.3 634.9l-0.4 0.3M355.2 705.6l-0.6 0.3M434.1 636.1l-0.7 0.2M254.3 692.8l0.4 0.6M380.6 653.7l-0.2 0.5M362.7 682.0l0.5 0.7M246.1 695.9l-0.2 0.1M371.7 684.1l0.1 0.5M294.8 632.6l0.2 0.7M343.6 636.9l-0.3 0.3M269.6 669.3l0.1 0.3M261.2 676.0l0.0 0.1M244.6 685.9l0.6 0.3M426.3 668.6l0.2 0.6M252.7 637.7l0.8 0.0M252.4 613.3l0.1 0.1M251.7 692.5l-0.1 0.7M372.9 633.6l0.1 0.3M268.2 669.2l0.0 0.4M322.6 646.6l-0.1 0.1M333.6 683.4l-0.3 0.6M366.5 631.3l-0.3 0.2M398.8 692.0l-0.3 0.3M357.7 702.4l0.6 0.2M329.2 676.6l-0.7 0.2M272.2 648.4l0.4 0.7M366.2 661.2l-0.5 0.1M369.2 681.9l0.1 0.3M412.9 642.9l-0.6 0.2M347.6 630.0l0.3 0.5M318.2 634.9l0.6 0.1M274.8 637.5l-0.1 0.2M308.4 614.8l-0.3 0.5M373.7 688.9l-0.7 0.1M269.5 685.0l-0.2 0.2M263.3 667.1l0.8 0.1M418.4 697.8l-0.5 0.6M274.1 657.4l-0.3 0.1M340.5 665.8l-0.5 0.6M252.0 615.2l-0.5 0.2M325.0 696.3l0.2 0.1M344.0 651.4l-0.1 0.6M430.0 668.1l0.4 0.0M257.6 669.9l0.2 0.0M263.1 645.1l-0.0 0.2M295.2 622.7l0.1 0.2M259.4 651.7l-0.4 0.8M388.4 692.0l-0.2 0.0M402.6 640.9l0.0 0.5M396.6 674.1l-0.3 0.3M337.3 660.9l0.1 0.3M274.1 684.6l-0.4 0.6M338.3 681.5l0.3 0.6M406.0 649.2l-0.5 0.3M404.0 629.2l-0.1 0.4M339.0 631.0l0.1 0.4M281.9 703.8l-0.4 0.4M308.8 686.7l-0.8 0.3M268.9 626.2l0.4 0.1M388.0 660.6l0.3 0.3M252.9 671.1l0.0 0.8M314.8 612.0l0.2 0.3M304.5 701.6l0.7 0.0M369.7 625.0l-0.2 0.5M251.8 610.7l-0.5 0.6M418.2 647.8l0.4 0.6M285.5 677.0l-0.4 0.4M257.2 619.3l-0.1 0.5M395.0 670.6l-0.8 0.4M269.7 672.4l0.1 0.6M354.9 677.0l-0.1 0.1M368.9 645.4l0.1 0.4M413.6 646.3l-0.5 0.4M319.4 700.7l0.3 0.4M281.8 632.8l0.4 0.1M321.6 623.1l0.6 0.2M331.9 612.2l-0.1 0.2M425.0 639.4l-0.1 0.2M357.1 640.3l-0.2 0.5M412.0 690.1l-0.1 0.8M259.3 688.5l0.4 0.8M343.8 683.9l-0.1 0.3M388.7 648.9l-0.1 0.0M372.6 638.9l-0.2 0.1M339.8 679.4l-0.2 0.0M381.8 656.3l-0.2 0.4M373.4 681.5l0.1 0.2M396.1 658.3l0.3 0.7M319.1 628.9l0.0 0.2M401.9 678.0l0.3 0.0M319.9 641.8l-0.0 0.7M402.5 648.2l0.1 0.7M397.9 668.1l-0.5 0.4M279.1 671.5l0.1 0.1M314.4 704.1l-0.6 0.4M254.7 693.7l0.1 0.2M355.1 704.0l-0.5 0.3M254.6 637.4l0.1 0.5M261.5 651.9l-0.4 0.0M291.5 610.9l-0.8 0.1M302.9 701.0l0.3 0.4M379.6 679.4l0.1 0.2M282.3 637.8l-0.6 0.1M326.8 608.2l0.1 0.8M282.0 698.2l0.4 0.2M287.0 644.1l-0.1 0.1M261.6 689.5l0.1 0.3M250.1 615.1l0.2 0.2M395.4 703.9l-0.2 0.7M271.5 704.0l0.1 0.4M285.1 701.9l-0.2 0.3M392.4 697.7l0.0 0.5M283.7 632.4l-0.5 0.2M282.7 610.5l0.5 0.7M369.8 663.4l-0.5 0.2M384.1 670.2l-0.3 0.1M350.0 619.8l0.0 0.3M401.7 665.4l0.2 0.2M359.1 635.0l-0.2 0.7M396.9 649.6l-0.2 0.1M343.4 656.0l0.1 0.8M341.8 651.3l0.1 0.6M417.4 650.0l-0.4 0.3M373.8 688.8l0.6 0.3M363.1 639.1l-0.5 0.6M386.0 625.4l0.4 0.4M278.0 608.2l-0.6 0.2M245.8 693.5l0.4 0.2M423.3 687.4l-0.3 0.2M261.3 633.5l0.2 0.8M276.6 658.8l-0.5 0.3M405.5 686.0l0.7 0.4M274.0 684.0l-0.1 0.1M275.3 612.2l0.3 0.3M413.5 666.6l0.3 0.3M320.1 625.3l0.0 0.1M390.8 666.2l-0.2 0.4M293.3 650.2l0.3 0.1M280.6 667.8l0.5 0.6M407.7 656.4l0.8 0.2M355.6 675.3l0.3 0.2M343.3 682.2l-0.7 0.1M380.6 677.4l-0.9 0.0M289.5 630.9l-0.1 0.1M413.3 649.2l0.2 0.1M274.5 630.8l0.5 0.4M244.4 690.3l-0.6 0.4M382.2 635.9l-0.7 0.3M398.3 652.2l-0.1 0.1M247.9 615.2l-0.2 0.9M373.1 659.3l0.2 0.1M435.7 701.5l-0.2 0.4M322.4 657.1l-0.2 0.6M387.1 638.6l-0.3 0.6M270.3 612.3l-0.2 0.5M319.2 681.0l0.1 0.7M420.4 675.7l-0.4 0.1M424.0 678.3l0.6 0.4M244.3 682.8l0.3 0.5M374.2 668.8l0.6 0.3M387.3 694.7l-0.1 0.0M252.7 627.6l-0.5 0.4M283.8 662.4l-0.3 0.3M337.5 637.3l0.2 0.0M245.8 659.6l0.2 0.1M411.4 639.5l-0.2 0.1M356.4 671.3l-0.3 0.1M418.5 653.0l0.4 0.0M314.0 689.0l-0.2 0.2M265.5 690.8l-0.5 0.4M416.0 632.6l-0.5 0.1M382.7 647.3l0.2 0.5M260.2 699.3l0.2 0.4M263.7 638.0l-0.6 0.1M271.5 684.2l-0.3 0.1M295.7 696.8l0.2 0.8M373.2 632.3l0.1 0.4M395.8 663.9l-0.2 0.7M361.5 690.1l-0.2 0.2M421.3 661.7l-0.6 0.1M329.2 658.9l0.1 0.3M302.1 678.0l-0.5 0.2M254.2 657.0l-0.1 0.0M317.3 620.1l0.2 0.4M317.4 655.9l-0.1 0.0M342.0 621.8l-0.3 0.3M323.3 669.1l-0.2 0.7M345.9 697.3l-0.4 0.4M362.0 647.7l-0.3 0.6M264.1 660.6l0.5 0.5M310.1 672.8l-0.3 0.2M255.1 696.4l-0.0 0.4M263.4 699.6l-0.3 0.8M266.3 652.3l0.2 0.0M335.7 690.8l0.0 0.3M404.8 681.2l0.4 0.4M263.5 695.7l-0.3 0.2M271.8 648.6l-0.2 0.0M354.1 662.2l-0.5 0.2M288.7 657.3l-0.3 0.6M323.3 615.1l-0.1 0.2M272.0 653.8l-0.7 0.1M400.2 670.7l0.1 0.2M267.3 609.5l0.0 0.5M366.5 692.5l0.1 0.6M311.8 612.2l-0.6 0.6M287.4 655.3l0.0 0.2M375.4 661.6l-0.9 0.2M346.1 666.3l0.5 0.8M343.8 634.8l0.0 0.1M283.2 698.3l0.7 0.4M397.9 650.1l-0.2 0.2M428.5 644.5l0.6 0.2M334.7 628.7l0.6 0.2M275.5 657.6l-0.4 0.4M422.3 653.6l0.7 0.3M392.9 698.6l0.4 0.4M368.0 652.0l-0.5 0.5M265.0 619.7l-0.3 0.0M370.4 651.1l-0.4 0.6M285.6 652.3l0.5 0.3M280.5 654.7l-0.8 0.2M321.2 666.2l0.3 0.1M307.0 681.7l-0.5 0.5M421.2 671.7l0.3 0.1M293.0 647.4l-0.1 0.1M261.8 642.8l-0.2 0.7M263.1 640.8l0.0 0.5M285.0 626.7l0.1 0.0M394.1 643.7l0.1 0.4M313.2 705.9l-0.2 0.4M268.4 640.9l-0.1 0.1M396.7 695.2l0.1 0.3M264.0 682.5l-0.2 0.7M422.4 652.0l0.1 0.5M364.1 697.5l0.2 0.0M271.2 637.3l0.2 0.2M255.0 677.2l0.3 0.8M418.3 668.3l-0.1 0.1M302.2 704.9l-0.1 0.6M389.4 666.3l-0.2 0.1M339.2 673.8l-0.4 0.2M371.4 699.1l0.2 0.0M344.5 631.1l0.0 0.1M431.1 633.7l-0.3 0.5M433.6 691.1l-0.1 0.4M256.9 666.4l-0.0 0.2M275.7 669.6l-0.2 0.1M365.7 670.5l-0.1 0.2M405.2 634.2l-0.3 0.1M316.5 701.2l-0.8 0.4M277.4 614.8l-0.6 0.1M433.5 643.8l-0.7 0.4M397.2 683.3l0.0 0.6M286.2 625.8l-0.6 0.2M351.2 691.2l0.0 0.1M268.8 675.5l0.4 0.5M279.1 658.6l-0.4 0.0M408.9 678.5l-0.7 0.4M400.7 633.2l-0.4 0.4M292.1 701.3l-0.5 0.6M408.0 687.3l0.7 0.3M366.5 652.7l0.0 0.3M259.7 666.8l0.5 0.3M244.5 696.3l-0.5 0.3M390.9 653.3l0.3 0.4M322.4 681.9l0.3 0.0M357.7 619.2l0.3 0.2M381.0 679.9l0.0 0.3M344.3 618.1l0.5 0.2M318.4 615.2l-0.4 0.4M333.7 607.8l-0.2 0.2M402.9 630.0l0.6 0.2M245.1 651.1l-0.2 0.3M350.5 612.4l0.6 0.6M380.6 694.8l0.1 0.0M246.2 688.9l-0.1 0.4M275.8 614.2l-0.1 0.2M287.8 632.5l-0.1 0.4M402.2 634.9l0.1 0.9M385.9 644.2l-0.4 0.1M380.3 632.6l-0.5 0.4M265.6 680.9l0.0 0.4M277.0 679.3l0.2 0.2M412.5 655.7l-0.7 0.1M311.4 610.7l-0.3 0.5M389.7 698.3l-0.2 0.1M291.3 612.8l0.2 0.2M373.7 693.3l0.1 0.5M247.6 611.7l0.9 0.0M335.4 664.0l-0.1 0.6M372.4 655.8l-0.4 0.3M249.1 695.1l0.6 0.2M297.4 701.9l0.0 0.2M318.7 686.3l-0.6 0.5M302.3 681.9l0.3 0.8M365.8 697.6l0.1 0.2M262.1 639.3l-0.2 0.2M345.0 674.3l-0.0 0.7M257.0 657.0l-0.0 0.7M284.9 669.4l-0.4 0.3M248.4 611.8l-0.2 0.1M338.4 701.8l-0.2 0.1M285.1 609.6l0.3 0.1M327.3 704.9l-0.0 0.1M259.4 615.2l0.5 0.6M356.7 672.4l0.0 0.2M412.0 701.9l0.2 0.1M263.9 674.4l0.1 0.4M245.1 671.8l0.2 0.4M349.7 694.5l0.2 0.2M387.8 670.5l0.5 0.2M257.0 661.9l-0.2 0.7M284.2 686.0l0.2 0.2M357.2 640.9l-0.1 0.2M328.9 659.1l-0.3 0.8M300.5 624.8l-0.6 0.2M375.1 685.2l0.4 0.2M336.2 670.7l-0.5 0.4M417.0 665.2l-0.1 0.6M327.0 659.5l0.2 0.2M244.4 626.1l0.0 0.3M361.7 704.5l0.6 0.1M343.7 644.5l0.6 0.6M318.7 665.4l-0.4 0.1M359.7 644.4l0.1 0.1M273.0 641.7l0.3 0.4M331.1 684.5l0.0 0.1M414.8 632.3l-0.2 0.0M309.0 679.5l-0.2 0.2M431.8 686.6l-0.8 0.4M284.8 637.1l-0.4 0.0M314.6 703.8l0.2 0.6M429.5 663.0l-0.4 0.2M287.7 703.5l0.4 0.1M296.5 611.0l0.2 0.3M257.6 625.1l0.5 0.0M405.7 675.6l-0.0 0.3M377.0 623.3l0.1 0.6M389.8 667.5l0.2 0.1M322.6 665.4l0.0 0.1M397.9 697.6l-0.3 0.8M341.5 645.4l0.2 0.1M244.1 696.8l-0.3 0.0M394.6 678.4l0.7 0.1M423.7 660.9l-0.0 0.2M317.1 666.4l0.1 0.5M368.9 690.8l0.2 0.6M335.2 676.5l0.1 0.1M327.1 656.7l0.3 0.0M432.8 692.1l-0.2 0.1M264.1 696.9l-0.4 0.5M403.2 681.5l-0.3 0.8M427.7 639.9l-0.3 0.5M266.8 633.2l0.9 0.2M364.5 693.4l0.4 0.0M381.1 698.9l0.0 0.2M273.2 621.1l0.1 0.8M403.4 697.4l-0.2 0.1M275.7 684.5l-0.8 0.1M282.2 610.1l0.2 0.0M433.1 652.8l-0.6 0.0M432.4 664.0l-0.1 0.4M250.9 698.5l-0.1 0.1M340.9 652.7l0.2 0.1M248.6 606.7l-0.2 0.0M314.3 698.2l0.8 0.2M385.8 654.1l-0.4 0.5M360.4 628.3l-0.2 0.4M398.2 676.1l0.4 0.3M304.4 614.4l-0.0 0.1M381.2 668.2l-0.4 0.8M382.5 639.8l0.4 0.3M272.6 651.5l-0.3 0.7M426.9 654.1l0.6 0.3M420.3 642.6l-0.1 0.0M382.3 639.4l-0.3 0.8M283.1 617.0l-0.2 0.1M279.2 636.6l-0.2 0.5M297.6 628.1l0.2 0.2M329.6 696.8l0.7 0.5M401.3 657.9l-0.2 0.7M275.2 608.4l-0.2 0.6M384.9 661.4l-0.0 0.2M283.7 623.3l-0.4 0.4M359.6 669.2l0.2 0.7M302.5 704.0l-0.7 0.4M256.2 701.8l0.1 0.6M398.1 702.3l-0.3 0.6M279.1 654.7l-0.2 0.4M384.7 662.6l0.8 0.2M377.0 681.5l0.1 0.6M307.5 702.2l-0.2 0.2M339.2 678.9l-0.1 0.0M402.7 695.0l0.1 0.2M316.0 684.6l-0.1 0.4M270.1 705.3l-0.2 0.1M393.5 655.3l-0.1 0.1M253.3 649.7l-0.1 0.1M266.2 652.9l0.4 0.2M254.1 680.9l-0.2 0.2M373.0 654.5l-0.6 0.1M402.6 657.4l-0.1 0.2M406.4 704.0l0.1 0.4M360.5 624.1l0.1 0.3M388.9 628.2l0.1 0.4M398.5 648.6l-0.2 0.2M354.1 664.6l-0.1 0.8M415.1 687.1l0.6 0.2M366.9 696.7l0.1 0.1M373.8 646.7l0.0 0.6M423.1 659.9l-0.6 0.2M404.9 670.6l-0.3 0.7M274.0 695.4l0.3 0.1M263.9 656.0l-0.2 0.2M322.7 697.4l0.1 0.0M292.1 623.2l0.0 0.1M343.9 631.5l0.3 0.1M404.0 691.5l-0.1 0.4M260.8 681.2l0.1 0.2M289.8 693.0l0.0 0.3M377.5 658.1l0.3 0.3M381.4 680.2l0.7 0.5M428.8 664.7l-0.1 0.2M307.1 687.6l-0.5 0.0M334.9 686.2l-0.5 0.2M273.8 629.3l0.2 0.6M419.4 684.0l0.7 0.2M323.9 698.6l-0.3 0.5M280.4 657.0l0.3 0.0M253.5 621.4l-0.6 0.7M380.4 687.0l0.0 0.3M263.0 637.0l0.9 0.3M346.0 661.7l0.2 0.4M244.4 609.7l0.3 0.4M270.3 686.5l-0.1 0.1M298.4 680.2l0.1 0.6M264.7 655.8l-0.1 0.2M281.5 648.2l-0.6 0.1M416.4 627.6l0.6 0.3M256.2 673.1l0.5 0.3M249.6 624.9l0.5 0.1M302.1 680.0l-0.2 0.4M415.4 692.2l0.2 0.2M270.0 618.1l0.2 0.4M264.8 681.8l-0.5 0.2M342.5 662.5l0.2 0.4M253.3 616.7l0.6 0.5M288.6 693.3l0.1 0.1M309.2 685.3l-0.8 0.2M268.3 673.1l0.3 0.6M251.3 680.0l0.9 0.0M256.0 685.1l0.2 0.5M395.1 656.5l-0.1 0.2M246.1 633.9l0.2 0.2M382.7 705.6l-0.7 0.1M302.3 682.1l0.5 0.0M325.5 635.3l0.3 0.1M355.6 623.0l-0.6 0.4M308.3 704.2l0.8 0.3M262.1 673.2l0.2 0.7M357.4 659.3l-0.2 0.6M387.8 691.0l0.3 0.6M372.1 682.6l-0.2 0.3M368.7 699.5l0.4 0.6M378.8 672.7l-0.2 0.5M345.1 668.2l0.0 0.3M248.7 647.9l-0.1 0.7M319.5 668.7l-0.2 0.1M384.7 654.2l-0.2 0.3M353.8 618.1l-0.1 0.6M347.0 640.9l0.0 0.5M395.3 688.0l-0.7 0.5M255.9 655.9l-0.7 0.3M270.2 664.5l0.6 0.1M341.3 696.6l0.8 0.2M265.1 639.4l0.1 0.3M329.4 661.3l0.5 0.1M419.6 655.9l0.1 0.3M275.1 673.4l-0.0 0.2M396.0 634.0l-0.9 0.1M305.2 693.5l0.3 0.5M296.2 627.8l-0.7 0.1M244.3 691.3l-0.3 0.6M340.4 695.1l0.6 0.1M301.9 698.1l0.2 0.1M413.9 660.6l0.4 0.4M375.9 686.1l0.2 0.1M295.3 689.7l-0.6 0.1M349.5 624.0l-0.1 0.8M388.0 682.1l-0.4 0.1M276.1 670.1l0.4 0.1M315.3 609.6l-0.3 0.0M290.9 667.5l0.0 0.7M383.4 642.9l0.1 0.1M344.2 636.1l-0.3 0.6M379.2 643.0l0.2 0.2M389.8 642.6l0.1 0.4M416.9 655.4l0.2 0.3M295.7 623.0l0.2 0.5M324.9 620.2l-0.0 0.3M289.5 651.0l0.2 0.3M386.4 688.4l0.0 0.5M327.3 618.5l0.1 0.3M316.3 664.1l-0.9 0.3M311.9 701.0l-0.2 0.3M246.6 653.0l0.2 0.5M289.8 660.0l-0.7 0.2M261.7 615.7l0.4 0.8M426.9 646.8l0.1 0.8M333.8 671.8l-0.7 0.4M374.8 684.5l0.1 0.1M290.9 654.4l-0.3 0.7M267.0 610.0l-0.1 0.6M425.6 671.3l0.4 0.2M349.2 637.8l-0.3 0.2M345.9 639.9l-0.7 0.2M268.8 617.1l0.8 0.3M400.6 670.2l-0.1 0.2M298.6 692.9l0.4 0.2M292.0 664.3l-0.3 0.6M433.5 676.5l-0.2 0.2M366.1 629.7l-0.7 0.6M386.6 633.4l0.7 0.0M318.5 671.1l-0.8 0.2M374.6 656.9l0.2 0.4M354.9 639.6l-0.1 0.1M394.6 632.5l-0.3 0.3M279.9 676.1l0.1 0.8M312.2 674.5l0.1 0.3M260.2 678.9l-0.1 0.2M339.2 663.2l-0.3 0.5M276.8 667.2l0.1 0.1M396.3 694.8l0.6 0.1M363.6 661.6l0.8 0.3M256.9 608.8l0.0 0.4M349.8 611.8l0.6 0.4M358.5 666.5l0.5 0.0M346.8 630.3l-0.4 0.1M389.2 633.1l-0.1 0.6M259.9 650.4l0.6 0.3M435.4 697.2l-0.3 0.4M411.8 633.4l0.6 0.1M326.1 631.6l-0.1 0.2M344.1 637.7l0.0 0.1M379.4 685.5l-0.7 0.1M339.1 639.6l0.1 0.1M407.1 675.6l-0.2 0.6M267.1 675.7l0.2 0.7M282.6 680.6l-0.1 0.6M385.2 688.7l-0.4 0.3M277.9 644.4l-0.1 0.1M366.1 681.3l-0.3 0.5M393.2 640.3l0.3 0.5M288.5 700.3l0.6 0.2M305.7 671.5l0.0 0.3M284.2 704.2l-0.1 0.7M246.3 631.5l0.5 0.4M268.1 611.4l-0.1 0.7M278.3 686.3l-0.1 0.3M256.7 639.5l0.2 0.8M265.4 628.0l-0.8 0.4M406.5 633.2l0.1 0.2M340.1 684.0l0.2 0.1M375.2 623.5l0.1 0.9M406.9 637.4l-0.1 0.2M270.0 673.2l0.0 0.3M259.2 650.6l-0.1 0.5M262.3 623.2l0.1 0.4M368.1 691.7l-0.5 0.7M342.6 668.3l-0.5 0.4M376.6 653.3l0.3 0.6M387.2 700.5l-0.1 0.2M346.4 705.0l0.3 0.5M352.5 669.9l0.0 0.3M285.3 610.7l0.2 0.0M267.9 681.8l0.7 0.0M344.5 653.9l0.3 0.6M288.4 691.1l-0.5 0.5M271.0 640.5l0.2 0.4M296.7 620.8l0.2 0.3M404.6 636.2l-0.0 0.4M315.4 622.3l-0.2 0.1M337.3 703.0l-0.7 0.1M266.1 626.4l-0.0 0.2M287.8 647.0l0.2 0.2M365.4 643.1l0.1 0.1M282.2 661.5l-0.7 0.5M367.5 637.9l0.1 0.1M316.1 687.9l0.2 0.0M271.5 633.5l-0.5 0.6M261.9 622.5l-0.5 0.1M322.3 701.8l0.3 0.1M246.6 680.4l0.1 0.2M356.1 695.3l-0.3 0.2M390.4 631.5l-0.5 0.1M360.1 624.1l0.2 0.7M378.3 698.4l0.7 0.5M284.0 703.9l0.6 0.1M402.2 697.7l-0.6 0.1M426.7 663.8l-0.3 0.3M273.2 631.9l0.0 0.4M413.7 659.7l-0.6 0.4M363.5 700.9l0.3 0.3M259.8 703.6l0.0 0.2M348.2 617.4l-0.1 0.2M296.8 684.1l-0.8 0.2M364.5 665.4l-0.0 0.2M362.9 631.6l-0.5 0.6M363.2 642.2l-0.3 0.3M414.7 646.2l-0.1 0.5M251.2 646.2l0.6 0.4M317.3 642.7l0.0 0.2M319.4 677.0l0.4 0.3M390.2 694.9l-0.4 0.8M413.6 634.7l0.0 0.6M313.8 666.9l-0.3 0.6M394.0 696.2l0.7 0.3M416.2 650.1l0.7 0.4M364.8 675.3l-0.2 0.0M345.3 694.9l0.4 0.3M252.2 648.2l-0.5 0.4M410.7 681.7l0.5 0.1M432.3 703.7l0.7 0.5M274.7 681.0l0.6 0.4M396.7 678.2l0.4 0.7M349.1 618.4l0.2 0.2M354.3 682.9l0.4 0.3M356.2 636.8l-0.3 0.3M270.5 640.1l0.8 0.1M351.7 673.3l0.1 0.5M318.5 702.5l-0.6 0.1M301.4 693.0l0.1 0.1M432.9 688.2l0.2 0.2M435.0 666.6l0.2 0.8M274.0 678.6l0.4 0.2M370.0 680.1l-0.4 0.0M251.6 639.9l0.6 0.2M435.8 683.0l-0.2 0.0M399.3 685.2l0.1 0.4M264.0 691.1l0.7 0.5M328.2 660.6l-0.2 0.1M413.9 699.4l0.1 0.7M320.4 704.9l-0.1 0.4M368.3 621.2l0.8 0.3M269.5 643.6l-0.5 0.7M397.1 696.4l-0.3 0.6M328.8 623.1l-0.1 0.4M399.7 698.8l0.0 0.2M258.2 649.4l0.1 0.1M265.3 640.6l-0.4 0.1M360.2 653.7l0.5 0.2M419.4 674.4l-0.1 0.3M367.0 649.8l-0.4 0.3M351.8 639.9l-0.7 0.5M270.7 698.9l0.7 0.2M330.5 623.7l0.7 0.0M361.0 661.0l0.1 0.6M258.7 612.4l-0.6 0.4M363.6 662.0l-0.1 0.2M263.1 659.5l-0.2 0.4M301.7 678.2l-0.4 0.0M246.8 679.4l0.3 0.1M415.7 648.7l0.7 0.3M275.5 697.0l-0.4 0.0M278.7 701.8l0.3 0.4M364.2 656.2l0.7 0.0M354.8 638.1l-0.2 0.4M319.5 676.2l-0.2 0.7M331.3 675.7l-0.5 0.6M393.2 651.9l-0.6 0.0M273.0 648.2l0.1 0.2M278.2 644.2l0.2 0.1M398.8 666.1l-0.1 0.1M428.8 650.7l0.8 0.3M389.3 657.4l0.3 0.4M284.6 703.5l-0.1 0.2M301.3 623.7l-0.2 0.0M321.6 636.5l0.8 0.4M260.8 667.2l-0.7 0.1M269.8 610.3l-0.1 0.2M283.9 633.5l0.3 0.3M325.5 609.6l-0.8 0.2M422.9 660.6l-0.2 0.3M318.2 658.6l-0.4 0.2M348.4 617.9l-0.2 0.1M247.6 630.3l0.1 0.2M358.3 701.5l0.7 0.5M329.3 664.6l0.1 0.2M386.9 662.2l0.0 0.7M260.9 663.0l-0.3 0.0M349.9 626.4l0.7 0.3M358.9 648.6l0.1 0.1M310.5 703.9l0.1 0.8M365.1 685.0l0.6 0.3M396.7 660.9l0.3 0.2M266.4 615.3l-0.0 0.3M389.9 685.7l0.2 0.5M413.4 662.3l-0.2 0.3M275.0 608.4l-0.3 0.6M411.6 636.6l-0.0 0.9M288.0 683.4l-0.5 0.7M421.6 671.9l-0.1 0.7M332.2 693.4l-0.2 0.0M273.9 612.7l0.1 0.5M338.0 607.9l-0.4 0.1M247.3 651.6l-0.3 0.2M282.4 705.7l0.2 0.2M318.5 625.3l0.2 0.7M251.9 622.3l0.3 0.7M262.0 639.9l0.5 0.7M349.4 636.5l-0.3 0.4M348.8 679.9l0.3 0.6M335.7 685.8l-0.7 0.2M340.5 638.5l0.4 0.6M422.0 659.3l0.2 0.1M371.4 629.8l-0.4 0.3M426.6 636.0l-0.3 0.7M279.7 665.0l-0.7 0.0M274.9 689.8l0.8 0.2M293.2 622.7l0.5 0.5M275.5 680.8l-0.0 0.5M251.6 673.4l-0.1 0.3M250.7 660.3l-0.5 0.2M307.2 687.5l0.1 0.5M276.2 677.1l-0.2 0.1M404.2 701.5l0.2 0.1M249.5 652.1l-0.4 0.2M247.7 677.5l0.5 0.7M272.6 616.9l0.2 0.4M292.8 693.5l-0.4 0.1M271.6 614.7l0.0 0.3M281.4 682.3l-0.5 0.2M374.6 629.1l-0.4 0.0M316.3 668.3l0.8 0.1M321.7 670.0l-0.1 0.5M272.8 610.3l0.6 0.1M387.8 657.8l0.7 0.0M370.5 655.5l-0.5 0.3M426.8 630.6l0.3 0.5M400.1 634.0l0.2 0.0M281.3 629.4l0.2 0.7M367.3 703.8l-0.0 0.1M427.3 663.6l0.0 0.2M255.2 681.2l-0.1 0.0M292.2 626.7l-0.1 0.8M348.9 667.1l-0.2 0.2M260.9 685.0l0.2 0.3M371.0 668.5l-0.5 0.1M351.3 657.8l0.6 0.3M341.2 659.2l-0.4 0.3M385.9 638.2l0.2 0.4M412.4 688.5l0.0 0.4M377.5 697.2l0.2 0.1M261.6 622.8l-0.5 0.4M279.3 661.6l-0.2 0.5M343.2 636.2l-0.3 0.1M426.0 660.0l0.9 0.3M283.1 678.7l-0.8 0.1M280.7 625.2l-0.1 0.7M282.5 697.8l-0.4 0.1M261.4 619.2l0.0 0.2M403.0 646.8l0.1 0.7M364.0 687.8l0.6 0.5M277.4 641.9l-0.6 0.3M366.7 687.2l0.1 0.3M264.9 699.6l-0.0 0.6M250.1 675.1l-0.2 0.1M321.1 676.4l0.2 0.6M413.8 679.2l-0.7 0.5M323.3 653.3l-0.7 0.3M323.6 681.2l-0.3 0.5M333.4 664.7l-0.3 0.1M364.2 703.2l0.2 0.1M325.0 650.0l-0.2 0.2M418.8 686.7l-0.1 0.4M322.8 691.3l-0.6 0.0M366.0 638.3l-0.0 0.1M308.3 685.3l-0.4 0.2M383.2 666.6l0.1 0.4M365.3 705.9l0.1 0.0M288.1 667.9l0.1 0.5M255.9 605.7l-0.8 0.2M423.2 662.9l0.1 0.1M244.2 681.5l0.1 0.1M335.4 699.6l-0.6 0.4M349.2 679.5l0.0 0.9M344.8 688.1l-0.0 0.4M283.6 685.6l-0.2 0.1M290.2 686.8l0.6 0.4M411.7 639.1l-0.2 0.1M433.1 650.4l-0.3 0.2M343.3 691.7l0.1 0.1M422.1 696.1l0.3 0.0M366.5 645.7l0.2 0.1M382.0 698.7l0.8 0.1M386.0 689.5l0.1 0.1M344.1 649.6l-0.3 0.4M261.7 691.2l-0.2 0.2M340.2 634.2l-0.2 0.3M278.5 690.5l-0.1 0.4M256.5 654.8l0.1 0.1M399.0 656.1l-0.2 0.1M271.1 655.6l-0.2 0.0M283.9 688.4l0.2 0.6M284.8 672.2l-0.2 0.8M378.6 686.2l0.2 0.2M346.6 655.8l0.5 0.6M382.7 669.7l0.5 0.0M375.4 672.0l0.7 0.2M418.3 664.7l0.5 0.4M277.7 692.7l0.2 0.3M326.1 684.2l0.2 0.1M286.1 667.7l-0.3 0.1M410.2 658.0l-0.2 0.0M368.8 673.4l0.1 0.3M308.6 680.7l-0.2 0.2M265.1 673.6l0.0 0.2M328.4 673.3l0.5 0.1M291.1 676.2l0.3 0.2M362.0 646.2l0.6 0.1M370.2 680.7l0.1 0.3M393.8 677.4l0.8 0.4M377.7 699.5l0.1 0.1M334.8 691.1l-0.2 0.7M321.2 687.4l0.8 0.1M247.5 653.7l-0.6 0.3M360.8 705.8l-0.4 0.2M359.2 683.0l-0.1 0.7M270.7 663.0l0.7 0.1M275.2 684.2l0.3 0.3M270.2 680.3l0.3 0.3M268.6 659.9l-0.1 0.1M343.5 649.0l-0.1 0.8M293.1 612.4l-0.4 0.4M388.4 657.3l-0.5 0.3M340.0 704.7l-0.0 0.3M256.9 684.7l-0.3 0.1M334.7 662.0l0.4 0.3M429.8 628.1l0.2 0.2M425.5 647.8l-0.0 0.7M260.0 629.9l-0.2 0.5M354.2 619.4l-0.1 0.1M315.2 695.5l-0.7 0.0M318.6 675.0l0.7 0.2M266.5 695.9l-0.8 0.2M362.9 669.0l-0.5 0.1M347.2 650.6l-0.1 0.1M409.7 671.8l0.3 0.1M357.5 655.8l-0.2 0.8M279.3 671.3l-0.6 0.2M249.1 689.8l0.2 0.2M333.4 609.8l-0.2 0.1M272.2 687.8l0.5 0.2M359.1 699.5l-0.1 0.7M342.5 681.0l0.2 0.4M301.4 614.5l-0.3 0.4M401.1 681.2l0.6 0.3M331.5 663.4l0.3 0.2M375.5 634.3l-0.4 0.0M386.7 649.3l0.1 0.2M413.2 679.8l0.1 0.2M343.2 670.3l-0.2 0.5M389.5 667.9l0.5 0.1M250.9 679.6l-0.2 0.8M414.7 681.2l0.3 0.5M252.6 675.6l0.2 0.1M314.8 619.9l0.6 0.1M245.9 685.0l0.1 0.7M260.5 647.2l-0.5 0.1M245.3 616.9l-0.2 0.3M361.7 694.8l-0.1 0.2M379.8 625.9l-0.1 0.3M368.2 627.1l0.7 0.2M277.2 652.4l0.6 0.7M414.1 653.5l0.2 0.7M337.7 617.1l0.4 0.6M255.6 652.2l-0.4 0.2M359.8 661.8l-0.4 0.1M350.7 615.4l0.9 0.2M392.9 629.7l0.2 0.1M377.6 676.5l-0.1 0.2M432.0 667.6l-0.6 0.3M257.0 640.2l0.8 0.0M333.5 619.9l-0.4 0.6M252.5 676.2l0.2 0.6M289.6 640.1l-0.5 0.3M257.3 650.6l0.1 0.0M380.9 656.0l0.5 0.5M387.5 693.8l-0.1 0.6M377.2 638.5l0.2 0.2M388.7 654.2l0.1 0.1M244.2 655.7l0.2 0.2M298.9 700.4l-0.7 0.2M340.9 647.8l-0.0 0.5M352.6 683.8l-0.1 0.2M311.5 674.1l-0.3 0.5M384.5 646.4l-0.1 0.2M357.4 627.4l0.1 0.2M351.3 672.5l0.4 0.4M352.5 630.1l0.6 0.1M266.0 631.6l-0.0 0.7M294.7 619.3l-0.2 0.4M258.2 677.8l0.6 0.1M315.6 614.5l0.2 0.6M389.1 664.9l0.3 0.7M335.5 630.5l0.5 0.4M282.5 657.2l0.7 0.5M311.9 689.0l0.4 0.1M292.9 612.4l-0.1 0.5M346.6 651.3l0.2 0.2M413.1 642.9l0.7 0.2M402.7 704.3l0.6 0.4M429.5 691.6l0.5 0.6M435.6 694.4l0.2 0.1M270.6 641.8l-0.1 0.5M290.9 628.6l-0.7 0.2M262.8 620.3l0.2 0.0M260.6 668.6l-0.1 0.1M335.1 611.3l0.3 0.4M355.8 645.0l-0.1 0.2M264.0 680.8l-0.3 0.4M420.0 651.0l0.1 0.3M311.6 695.4l-0.6 0.0M322.1 655.6l0.1 0.1M332.2 674.9l-0.1 0.2M292.8 630.1l-0.1 0.5M403.8 701.9l0.6 0.5M318.5 636.6l0.3 0.0M337.8 618.0l0.5 0.3M392.3 686.1l-0.5 0.2M380.9 665.6l0.3 0.4M261.3 609.7l0.5 0.3M341.8 618.0l0.2 0.6M265.9 657.0l0.4 0.1M432.5 673.2l-0.2 0.5M251.7 660.4l0.1 0.1M277.9 676.2l0.5 0.5M416.1 678.4l0.7 0.2M421.2 693.1l0.5 0.2M345.0 705.5l0.0 0.4M413.6 649.5l0.3 0.6M274.4 619.4l0.2 0.1M270.9 632.1l-0.0 0.1M277.4 661.9l-0.6 0.1M354.5 690.9l-0.3 0.2M338.5 658.6l0.2 0.3M284.9 628.0l0.7 0.1M431.3 644.0l-0.3 0.0M273.3 608.1l-0.1 0.0M312.2 683.3l-0.3 0.4M253.0 680.9l0.0 0.3M314.7 704.1l0.0 0.7M250.6 627.3l0.1 0.2M417.6 632.9l0.6 0.0M402.4 657.4l-0.8 0.2M376.7 684.9l-0.3 0.3M284.2 604.7l-0.2 0.0M322.4 662.5l0.6 0.0M259.0 689.6l-0.1 0.1M341.7 634.2l-0.4 0.6M369.6 662.9l-0.2 0.0M258.8 676.6l0.0 0.4M270.4 681.5l-0.1 0.2M308.0 698.1l0.4 0.0M273.7 620.7l-0.5 0.7M375.3 698.2l0.3 0.4M363.0 642.0l-0.8 0.1M288.7 647.3l-0.5 0.4M335.9 680.4l-0.2 0.3M284.9 610.2l-0.1 0.4M391.6 657.3l-0.6 0.3M304.9 699.5l-0.1 0.3M397.8 678.3l0.7 0.4M262.5 645.4l0.2 0.1M266.0 672.4l-0.1 0.2M325.4 659.2l0.0 0.4M288.6 616.1l-0.7 0.2M316.8 621.4l0.1 0.0M269.0 673.2l0.1 0.1M326.2 617.6l0.1 0.6M249.8 693.0l-0.2 0.5M288.7 694.5l-0.6 0.6M332.7 678.8l0.1 0.5M391.3 650.1l0.0 0.9M393.7 694.1l-0.2 0.5M420.5 652.7l0.6 0.0M254.0 623.4l0.1 0.1M419.4 705.8l0.9 0.1M247.0 613.3l-0.1 0.5M402.4 634.7l0.2 0.1M363.2 671.3l-0.6 0.3M368.1 682.0l-0.5 0.1M290.3 647.7l-0.3 0.8M342.9 666.6l0.1 0.5M265.7 646.9l0.6 0.5M327.4 632.4l0.0 0.2M266.9 661.4l-0.0 0.6M255.0 641.3l-0.4 0.5M249.4 644.2l-0.7 0.2M277.9 670.0l-0.1 0.1M308.0 679.6l0.4 0.1M263.9 642.1l0.0 0.2M343.1 684.8l0.3 0.7M345.7 670.6l0.4 0.5M378.0 645.8l-0.7 0.5M414.5 627.8l0.0 0.4M301.4 694.4l-0.3 0.7M375.2 632.2l-0.4 0.0M302.7 617.0l0.5 0.2M299.0 687.8l-0.1 0.3M413.7 648.8l0.6 0.6M315.6 657.2l-0.1 0.2M278.0 646.0l0.3 0.2M399.1 700.8l0.2 0.0M348.9 698.6l-0.2 0.3M352.3 677.7l0.3 0.1M360.0 630.7l-0.3 0.3M258.1 675.4l0.1 0.1M334.2 659.6l0.7 0.3M387.2 625.3l0.0 0.1M405.9 643.5l-0.7 0.0M280.1 663.5l-0.5 0.1M272.9 684.8l-0.0 0.4M334.1 633.0l-0.1 0.8M417.6 675.5l0.6 0.1M295.0 630.6l0.4 0.8M319.7 627.0l0.3 0.1M290.3 630.8l-0.4 0.0M415.9 654.1l0.4 0.1M409.9 638.2l0.2 0.6M394.1 655.3l-0.3 0.4M244.0 665.7l0.1 0.9M377.3 691.9l0.2 0.8M405.0 662.8l0.1 0.3M337.0 700.7l0.6 0.7M377.7 682.5l0.3 0.1M270.8 644.4l0.3 0.4M266.9 679.4l0.2 0.3M407.4 693.1l-0.3 0.5M380.7 700.3l-0.1 0.1M309.5 677.8l-0.2 0.4M425.1 666.7l-0.2 0.3M281.5 691.0l-0.7 0.0M267.2 633.5l0.2 0.1M373.1 683.2l-0.2 0.2M320.4 701.0l0.1 0.0M371.9 638.1l0.7 0.2M400.4 633.4l-0.8 0.0M316.9 632.1l0.3 0.3M272.2 680.1l0.2 0.3M422.7 672.0l-0.2 0.3M326.6 641.2l-0.4 0.7M351.6 694.8l0.3 0.2M353.0 699.3l-0.8 0.0M256.0 699.5l0.0 0.4M262.6 642.0l-0.0 0.6M363.3 700.7l0.8 0.1M255.0 613.7l0.7 0.3M275.4 628.8l-0.3 0.1M321.5 651.1l-0.2 0.1M331.4 625.6l-0.1 0.2M357.6 663.3l-0.4 0.4M387.4 662.2l0.1 0.3M427.2 646.8l-0.0 0.2M255.3 649.4l0.3 0.5M347.4 696.4l-0.7 0.4M387.0 640.6l-0.8 0.1M275.5 678.7l0.2 0.4M289.9 684.4l-0.2 0.0M420.8 697.1l-0.1 0.0M420.5 701.2l0.3 0.2M262.7 624.8l-0.0 0.2M325.4 623.8l0.2 0.2M432.7 661.4l-0.1 0.2M388.4 672.5l-0.4 0.2M375.2 702.5l-0.7 0.3M412.9 690.5l-0.0 0.3M381.3 691.4l-0.1 0.0M259.6 669.4l0.2 0.4M333.0 704.4l0.4 0.3M349.3 676.6l0.1 0.6M261.5 642.2l0.3 0.8M384.9 633.6l-0.2 0.3M402.3 636.9l-0.1 0.4M262.9 691.4l-0.0 0.5M267.9 693.6l0.2 0.2M335.1 662.7l-0.7 0.2M258.5 695.8l0.1 0.2M399.4 700.1l-0.1 0.2M302.3 617.5l0.3 0.8M417.1 703.8l-0.1 0.8M431.7 688.3l0.7 0.3M431.1 661.7l-0.0 0.9M339.6 665.2l0.1 0.7M349.7 653.9l-0.3 0.8M286.3 626.6l-0.8 0.3M351.5 660.5l-0.1 0.5M337.7 626.1l0.2 0.4M392.3 641.2l-0.6 0.4M302.9 613.7l-0.5 0.5M256.4 672.7l-0.0 0.4M302.3 685.0l0.4 0.6M358.3 664.8l0.6 0.6M411.3 698.2l0.1 0.3M284.5 619.6l0.6 0.5M412.3 681.2l0.3 0.4M324.3 617.2l-0.6 0.1M420.1 676.3l-0.2 0.3M334.4 616.9l0.6 0.3M297.6 612.8l0.6 0.4M356.2 652.3l-0.2 0.4M375.1 700.1l-0.2 0.2M324.0 670.4l0.4 0.6M407.9 650.5l0.5 0.6M405.9 671.0l-0.7 0.4M328.7 613.9l0.0 0.1M270.5 652.6l-0.5 0.5M373.7 678.1l0.4 0.4M316.9 624.3l0.1 0.8M338.6 691.4l-0.2 0.3M379.3 685.5l-0.6 0.1M380.1 649.6l0.8 0.2M329.2 693.7l-0.4 0.4M320.5 675.8l-0.7 0.3M246.0 611.4l0.6 0.2M385.0 664.2l-0.7 0.4M246.1 629.0l-0.2 0.7M348.1 702.1l0.2 0.6M260.4 686.1l0.1 0.8M304.2 618.2l0.3 0.7M435.4 674.1l0.1 0.1M380.4 678.5l-0.5 0.5M256.7 683.7l0.8 0.1M305.3 705.9l-0.2 0.0M387.6 650.5l-0.4 0.1M418.1 705.2l0.7 0.4M379.7 647.0l-0.3 0.5M399.3 672.4l0.6 0.3M418.1 648.5l0.1 0.5M286.9 662.5l0.3 0.6M350.4 693.4l0.1 0.1M282.6 616.5l-0.1 0.6M298.8 684.3l-0.2 0.0M284.9 692.1l-0.1 0.1M363.9 622.7l0.2 0.8M305.2 614.0l0.6 0.1M386.4 662.4l-0.7 0.4M373.5 668.5l0.3 0.1M370.5 650.3l-0.3 0.6M368.3 628.6l0.4 0.8M260.7 662.8l-0.1 0.4M274.0 649.6l-0.3 0.2M329.2 611.5l-0.3 0.2M365.8 696.1l0.7 0.0M256.0 684.1l-0.8 0.2M410.9 701.3l-0.7 0.6M264.0 704.4l-0.5 0.4M260.4 633.5l0.3 0.2M284.6 694.9l0.1 0.2M338.0 679.7l0.2 0.7M417.3 676.3l0.1 0.3M415.0 691.1l-0.3 0.2M418.4 635.4l0.1 0.4M307.8 685.8l-0.1 0.7M379.8 638.9l0.2 0.2M341.6 678.5l-0.6 0.3M341.0 611.9l-0.6 0.5M263.1 658.5l-0.3 0.4M264.5 680.7l0.2 0.1M263.4 705.1l-0.3 0.3M352.9 688.7l0.5 0.1M257.8 613.6l0.2 0.4M386.6 676.2l-0.4 0.6M278.7 696.8l0.1 0.7M282.5 628.7l0.4 0.2M285.9 700.8l-0.2 0.4M291.8 679.4l0.3 0.4M289.0 669.8l-0.1 0.2M351.4 618.8l-0.2 0.3M326.9 697.8l-0.3 0.0M380.1 691.3l-0.1 0.5M338.9 676.5l-0.1 0.9M371.3 673.4l-0.5 0.2M362.8 637.9l0.5 0.3M410.5 655.0l0.2 0.4M314.5 673.2l0.6 0.2M391.4 645.4l-0.2 0.2M321.2 662.8l0.0 0.4M254.7 636.7l-0.8 0.0M406.0 680.3l0.2 0.5M411.8 633.4l0.3 0.3M382.7 653.0l0.1 0.7M346.9 667.9l-0.0 0.1M286.7 609.9l0.1 0.5M400.7 652.9l-0.7 0.2M374.4 670.0l0.5 0.0M316.4 703.2l0.4 0.3M330.5 683.2l0.1 0.1M277.9 675.7l0.5 0.1M315.9 626.4l-0.1 0.2M356.2 696.5l0.2 0.8M360.9 631.3l-0.5 0.6M272.1 695.2l0.7 0.3M269.7 663.4l-0.1 0.3M283.8 643.4l-0.6 0.2M306.0 613.6l0.2 0.0M423.2 699.3l-0.1 0.2M397.3 683.1l-0.3 0.3M386.0 644.0l-0.6 0.3M389.9 686.4l0.2 0.4M262.5 688.9l0.4 0.0M384.1 633.7l0.0 0.1M285.9 630.9l0.4 0.4M302.8 682.9l-0.0 0.2M319.5 636.7l-0.4 0.2M367.1 693.5l-0.1 0.6M295.6 679.9l-0.1 0.1M298.6 691.9l0.1 0.2M373.3 701.8l0.6 0.4M431.5 672.1l0.2 0.4M262.1 633.7l-0.5 0.1M254.6 617.1l-0.0 0.6M290.4 647.7l0.0 0.5M424.2 677.7l-0.4 0.1M401.5 680.4l0.3 0.0M253.9 705.0l-0.3 0.1M245.7 629.6l0.1 0.1M247.8 697.5l0.7 0.2M335.8 675.4l-0.7 0.1M355.0 631.1l0.2 0.2M309.8 681.2l0.8 0.2M328.8 703.1l-0.4 0.8M364.1 661.0l0.1 0.3M383.6 696.4l0.1 0.2M337.0 635.9l-0.2 0.3M285.5 668.7l0.2 0.7M356.7 649.6l-0.7 0.6M385.2 664.5l0.7 0.3M429.9 684.6l-0.2 0.2M351.0 672.4l0.2 0.2M384.5 701.8l-0.8 0.1M262.9 674.0l-0.8 0.3M411.5 692.9l-0.6 0.2M382.3 704.5l0.5 0.7M405.4 634.8l0.3 0.5M292.4 646.7l0.8 0.3M398.2 643.7l0.1 0.1M316.6 611.9l0.2 0.7M325.3 631.4l0.2 0.2M351.4 615.3l0.5 0.2M398.6 656.3l-0.2 0.2M341.4 656.0l-0.3 0.0M340.8 676.3l0.4 0.2M323.3 679.0l-0.1 0.8M346.7 679.1l0.6 0.4M394.3 670.1l-0.3 0.1M351.2 678.2l-0.1 0.8M432.7 647.0l0.1 0.2M407.9 646.5l-0.5 0.4M283.3 640.8l0.4 0.0M305.9 674.3l0.7 0.1M256.4 611.0l-0.1 0.1M398.8 668.0l-0.0 0.4M269.5 634.1l0.5 0.4M321.7 657.3l0.4 0.5M297.7 612.1l0.8 0.1M396.9 645.7l-0.3 0.4M424.1 682.9l-0.2 0.6M318.6 675.5l-0.5 0.3M316.2 613.0l0.1 0.5M319.6 614.8l0.1 0.2M354.6 664.7l0.3 0.7M319.0 622.3l0.1 0.5M408.2 635.0l-0.2 0.1M314.9 616.2l-0.1 0.0M378.1 656.0l0.2 0.1M272.5 672.6l-0.6 0.5M268.9 703.1l0.1 0.2M415.0 691.6l0.4 0.5M319.3 662.8l-0.4 0.3M420.2 704.4l0.2 0.1M395.3 679.3l-0.1 0.5M369.2 665.9l0.3 0.4M395.0 665.8l-0.2 0.0M373.4 682.9l-0.1 0.3M391.2 701.2l-0.7 0.5M344.5 673.5l0.4 0.6M319.3 643.5l-0.4 0.4M414.2 636.4l0.3 0.5M395.9 646.5l0.1 0.1M263.7 628.7l0.1 0.4M354.1 635.9l0.2 0.7M255.0 699.7l0.2 0.6M296.9 608.3l-0.5 0.1M375.6 696.4l0.2 0.4M344.5 685.7l-0.2 0.1M267.6 671.0l0.0 0.1M325.0 663.8l0.4 0.1M282.0 688.2l-0.2 0.2M276.0 656.4l0.3 0.7M352.8 622.3l0.3 0.3M274.2 685.2l-0.5 0.3M253.9 634.5l0.4 0.0M374.0 622.4l0.2 0.6M379.0 628.2l-0.4 0.7M383.9 681.3l0.8 0.2M428.2 673.3l-0.1 0.4M268.8 678.9l-0.6 0.4M286.7 615.6l0.1 0.6M297.4 616.4l-0.2 0.1M428.0 677.9l0.4 0.2M342.4 649.1l-0.5 0.2M433.4 673.5l0.1 0.2M348.0 690.3l0.8 0.2M268.2 687.9l-0.5 0.2M271.8 691.1l0.4 0.4M390.7 650.4l0.2 0.4M324.4 625.8l-0.1 0.0M389.4 675.0l-0.5 0.1M268.1 679.2l-0.4 0.5M282.3 644.4l0.3 0.2M383.1 678.0l0.4 0.2M283.2 656.5l-0.6 0.4M344.3 670.1l0.6 0.3M381.8 652.2l0.6 0.6M321.8 680.5l-0.3 0.4M327.8 632.8l-0.0 0.2M345.3 680.4l-0.1 0.9M366.9 661.4l-0.2 0.8M323.1 650.8l0.4 0.1M407.7 664.7l0.3 0.2M396.8 639.6l0.0 0.2M425.7 642.8l0.3 0.4M349.1 700.9l0.8 0.3M410.6 663.9l-0.1 0.6M343.0 677.5l-0.4 0.5M410.3 632.1l0.1 0.2M357.9 618.5l-0.4 0.3M323.4 628.5l-0.3 0.7M420.6 703.4l0.3 0.1M277.5 688.4l-0.7 0.2M372.4 623.8l-0.6 0.6M355.1 682.4l-0.8 0.2M416.0 666.2l-0.5 0.7M263.6 643.1l0.3 0.2M256.7 687.3l-0.2 0.2M288.9 705.7l0.2 0.4M311.5 686.9l0.2 0.6M257.5 641.6l0.0 0.4M342.7 687.5l0.6 0.3M382.8 623.8l-0.2 0.2M335.5 623.6l0.5 0.1M431.7 647.9l0.3 0.2M328.7 620.6l-0.2 0.1M275.0 689.7l-0.4 0.1M432.4 644.4l0.8 0.1M302.6 695.0l-0.1 0.1M371.8 699.0l-0.8 0.1M432.4 670.3l0.6 0.2M298.4 694.1l0.1 0.5M393.8 641.1l-0.7 0.5M315.7 685.1l0.1 0.4M397.3 674.6l-0.1 0.1M327.7 619.3l-0.7 0.4M404.4 648.2l-0.0 0.1M278.9 634.8l-0.5 0.3M351.6 643.9l0.1 0.1M360.4 645.0l-0.4 0.1M357.1 665.2l-0.2 0.6M387.9 638.9l0.5 0.2M322.0 656.6l-0.4 0.2M346.1 679.0l0.6 0.6M355.1 684.6l0.2 0.7M431.8 647.8l-0.5 0.1M371.8 665.5l0.1 0.0M412.1 687.7l-0.1 0.7M325.5 662.3l0.4 0.2M329.6 678.0l-0.1 0.0M306.1 685.8l-0.1 0.7M335.7 609.0l-0.3 0.2M396.4 648.4l0.1 0.8M365.7 678.9l0.2 0.0M248.2 610.1l0.6 0.3M339.4 620.8l-0.5 0.2M294.7 683.1l0.5 0.6M372.7 628.7l0.2 0.1M345.4 672.2l0.5 0.1M288.3 662.7l0.6 0.6M372.6 677.1l-0.3 0.4M365.3 698.0l0.1 0.8M319.0 650.9l-0.1 0.1M259.4 641.9l-0.1 0.3M365.5 695.5l0.3 0.3M340.8 631.7l-0.2 0.0M360.5 660.5l0.1 0.0M275.6 636.3l-0.1 0.1M280.7 678.9l0.1 0.1M411.3 631.0l0.5 0.7M272.7 663.3l0.3 0.3M326.9 614.5l-0.3 0.5M414.6 684.9l0.0 0.7M281.6 670.5l-0.4 0.6M388.9 671.9l-0.4 0.7M266.4 669.5l0.4 0.0M293.7 687.0l-0.1 0.7M390.1 646.5l-0.3 0.5M271.4 679.9l0.2 0.0M294.9 704.5l0.3 0.0M286.2 658.9l-0.3 0.3M306.5 679.0l0.5 0.3M423.5 636.1l0.2 0.1M351.9 649.2l0.2 0.0M382.6 629.4l0.3 0.8M408.5 629.6l-0.3 0.2M319.5 697.6l0.0 0.1M338.1 694.1l0.6 0.1M357.7 621.7l0.1 0.3M393.9 698.8l-0.0 0.3M392.5 669.3l-0.1 0.6M433.9 688.1l-0.6 0.6M284.8 689.5l0.0 0.2M295.3 637.6l-0.5 0.2M265.0 682.8l-0.5 0.4M319.1 705.7l-0.7 0.4M273.5 638.8l0.1 0.1M355.3 658.5l0.8 0.5M300.2 624.9l-0.5 0.1M285.8 617.0l0.1 0.2M339.5 626.7l0.5 0.5M349.1 680.4l-0.3 0.1M434.8 683.9l0.4 0.5M354.2 686.7l-0.0 0.3M366.1 651.0l-0.5 0.4M260.7 617.0l0.5 0.3M393.4 629.4l-0.1 0.1M291.4 608.3l0.0 0.1M277.6 682.1l0.0 0.8M273.3 624.2l-0.6 0.4M429.1 698.8l-0.8 0.2M369.8 687.5l0.0 0.9M245.5 655.8l0.5 0.7M322.0 619.2l0.2 0.5M334.0 611.9l-0.2 0.7M320.4 650.4l0.6 0.2M383.2 641.4l-0.5 0.5M281.2 613.5l0.0 0.5M377.9 637.8l0.1 0.3M286.7 666.9l-0.6 0.5M262.7 695.9l-0.2 0.1M270.6 699.4l-0.1 0.2M415.7 700.8l-0.1 0.3M415.5 650.7l0.8 0.3M283.2 682.5l0.3 0.1M259.6 653.2l0.0 0.4M264.9 639.5l-0.8 0.2M318.4 624.8l0.5 0.3M296.6 688.4l-0.8 0.0M340.8 617.9l0.4 0.1M263.1 612.0l-0.9 0.3M380.9 656.0l-0.4 0.1M363.2 671.4l-0.1 0.2M284.2 700.7l0.4 0.3M247.9 664.8l0.6 0.3M266.7 682.4l0.4 0.3M413.8 671.0l-0.4 0.1M311.6 694.2l0.1 0.0M324.4 661.9l0.1 0.2M284.2 665.4l-0.3 0.2M422.9 653.8l-0.7 0.3M409.8 685.5l-0.1 0.7M375.3 697.4l-0.1 0.2M425.4 633.8l0.4 0.2M278.8 624.0l0.2 0.5M284.3 622.9l0.5 0.1M317.0 696.8l-0.0 0.2M364.2 693.3l0.2 0.4M319.2 683.4l-0.4 0.0M433.3 675.3l-0.8 0.2M378.5 696.1l0.4 0.1M263.5 611.0l0.0 0.1M269.7 620.1l-0.5 0.1M310.6 678.8l-0.2 0.1M277.1 621.0l-0.1 0.1M412.6 678.4l0.2 0.4M290.0 625.3l-0.6 0.4M318.3 674.3l0.1 0.4M266.9 679.0l0.3 0.1M255.9 697.5l-0.3 0.7M416.7 660.2l-0.1 0.3M422.9 680.5l0.3 0.2M352.1 653.8l-0.6 0.0M422.8 685.7l0.1 0.3M366.4 629.1l-0.8 0.0M325.7 696.3l0.5 0.6M256.5 648.6l0.2 0.2M354.2 673.9l-0.4 0.4M422.5 699.4l-0.3 0.6M366.7 642.4l-0.4 0.0M325.9 666.3l0.3 0.2M416.8 662.0l0.2 0.2M411.3 661.2l-0.3 0.7M327.8 677.2l0.3 0.0M255.6 624.3l0.3 0.1M420.3 696.0l-0.1 0.7M252.1 665.7l-0.2 0.9M435.5 633.1l-0.1 0.9M310.4 683.6l0.4 0.8M395.0 640.8l0.5 0.2M267.5 692.6l-0.5 0.4M421.1 635.0l-0.3 0.8M255.4 691.5l-0.1 0.0M276.0 653.2l-0.6 0.6M291.3 653.8l-0.0 0.4M425.1 701.3l0.2 0.7M315.7 652.9l-0.3 0.0M368.2 661.4l-0.6 0.4M357.3 702.9l-0.1 0.0M275.8 639.5l0.4 0.2M328.4 693.0l-0.8 0.2M323.3 670.0l0.3 0.2M348.9 638.9l-0.7 0.3M266.6 677.4l0.3 0.1M291.4 610.9l0.0 0.7M248.7 646.4l0.0 0.3M355.3 685.6l-0.1 0.1M403.6 642.9l0.1 0.3M369.4 672.9l0.5 0.3M348.1 626.5l0.2 0.5M281.7 611.2l0.3 0.2M291.2 609.0l0.1 0.7M297.7 685.6l0.0 0.3M283.3 625.9l-0.0 0.3M286.7 612.6l0.7 0.4M392.3 642.1l-0.0 0.5M265.5 629.3l0.5 0.4M248.8 646.0l0.3 0.2M372.2 676.3l-0.1 0.1M381.2 637.0l0.2 0.1M270.1 627.4l0.2 0.6M308.1 672.4l0.4 0.0M298.2 690.3l0.6 0.0M265.5 630.6l-0.1 0.2M252.2 664.0l0.1 0.2M302.1 687.1l-0.6 0.3M319.2 624.5l-0.2 0.1M255.9 636.5l0.1 0.0M288.6 638.3l-0.2 0.6M317.0 648.6l-0.2 0.4M321.0 657.1l-0.1 0.2M387.7 626.0l-0.2 0.7M244.3 687.1l-0.0 0.5M344.4 692.9l-0.1 0.1M372.8 666.7l0.4 0.1M338.5 629.1l-0.3 0.4M342.2 657.6l-0.2 0.1M303.0 681.9l-0.2 0.3M260.6 654.2l0.1 0.8M358.5 645.1l0.3 0.6M288.4 619.6l-0.0 0.1M348.9 687.4l0.1 0.4M396.5 639.6l0.1 0.7M411.8 630.1l-0.2 0.7M324.5 635.7l0.0 0.4M331.6 662.2l0.5 0.2M353.0 676.0l0.1 0.7M320.1 698.3l-0.4 0.4M409.8 660.1l-0.3 0.5M331.0 627.1l0.5 0.2M417.3 653.6l-0.5 0.6M371.8 638.4l0.5 0.0M275.9 693.3l-0.3 0.4M251.7 644.7l-0.1 0.9M248.4 638.3l0.1 0.0M306.7 608.1l-0.0 0.1M299.5 610.3l0.5 0.3M245.7 653.3l0.2 0.3M360.5 661.7l0.6 0.5M397.8 643.9l0.2 0.1M369.8 649.5l-0.0 0.3M264.0 607.3l-0.8 0.0M376.9 637.4l-0.2 0.7M361.9 678.5l0.1 0.6M413.7 694.0l-0.4 0.3M289.9 651.0l0.5 0.0M253.8 650.7l-0.8 0.2M348.0 632.6l0.6 0.5M375.7 676.6l-0.2 0.4M287.9 677.6l-0.5 0.3M257.8 634.9l-0.2 0.5M400.2 703.5l-0.2 0.8M278.2 690.6l0.2 0.1M281.7 616.5l0.5 0.6M267.2 615.9l-0.1 0.5M411.5 686.6l0.4 0.3M245.6 664.7l0.5 0.1M251.4 695.3l-0.5 0.7M340.6 698.0l-0.2 0.6M319.6 661.7l0.6 0.2M334.3 700.7l0.3 0.3M424.6 645.8l0.0 0.6M362.6 622.7l-0.7 0.2M351.0 679.6l-0.1 0.2M383.5 635.8l-0.3 0.7M289.0 625.9l-0.6 0.6M255.6 625.3l0.2 0.1M249.0 705.1l-0.7 0.1M352.6 657.3l-0.4 0.2M350.8 628.2l0.1 0.0M297.2 686.6l-0.1 0.1M346.3 652.3l0.7 0.0M258.8 635.0l0.0 0.3M347.7 628.7l0.0 0.4M317.3 612.8l0.2 0.3M321.5 646.1l0.1 0.6M303.4 682.6l0.6 0.3M263.8 617.2l0.8 0.5M402.2 627.2l-0.5 0.6M406.2 656.9l0.7 0.3M261.8 671.4l0.4 0.3M321.1 621.2l-0.3 0.0M360.0 702.8l-0.2 0.0M339.0 617.2l-0.7 0.0M275.5 694.5l-0.1 0.2M282.9 615.4l-0.5 0.5M257.0 700.7l-0.1 0.8M332.3 706.0l0.2 0.1M259.5 678.4l-0.4 0.4M419.5 673.4l-0.1 0.0M425.7 678.2l0.4 0.2M417.3 681.1l0.1 0.3M319.2 637.1l-0.6 0.5M361.9 705.9l-0.1 0.1M256.8 653.5l-0.5 0.3M341.5 694.3l-0.0 0.1M373.5 661.2l-0.4 0.7M395.3 688.0l-0.1 0.0M325.4 670.0l-0.3 0.4M340.1 653.3l0.2 0.0M396.0 639.7l-0.0 0.4M391.5 637.7l-0.2 0.5M349.1 664.6l-0.2 0.0M434.2 657.6l0.3 0.1M360.4 700.0l-0.4 0.1M320.2 629.6l-0.3 0.0M349.7 646.4l0.8 0.2M348.0 623.3l0.0 0.2M270.6 609.9l0.2 0.1M426.5 655.8l0.3 0.1M256.9 686.4l0.6 0.1M305.8 608.8l-0.4 0.2M322.8 663.3l-0.8 0.3M290.7 623.0l-0.1 0.1M288.7 618.8l0.8 0.2M409.8 656.7l-0.0 0.2M336.3 635.0l-0.3 0.0M370.0 650.8l-0.2 0.0M327.6 704.2l-0.1 0.6M249.1 665.4l0.0 0.5M391.7 698.0l0.1 0.2M333.7 703.6l-0.5 0.6M360.6 641.7l0.2 0.0M388.1 692.1l0.4 0.6M299.1 697.5l0.6 0.4M259.1 687.4l-0.1 0.1M416.3 644.3l0.5 0.2M348.7 701.2l-0.6 0.5M372.0 642.3l-0.3 0.1M261.1 635.1l0.3 0.5M396.8 641.0l-0.6 0.4M412.3 640.8l-0.2 0.4M325.5 674.9l0.6 0.0M411.6 688.1l-0.7 0.3M288.5 653.4l0.4 0.2M295.2 639.3l0.1 0.2M432.8 628.0l0.7 0.5M432.9 639.5l-0.4 0.1M418.8 672.6l0.1 0.1M307.3 671.0l0.2 0.7M346.4 679.4l-0.3 0.7M250.1 608.9l-0.5 0.3M282.7 614.6l-0.1 0.9M280.0 678.9l-0.7 0.5M361.0 655.7l-0.0 0.5M390.6 638.8l-0.1 0.2M279.4 631.3l-0.2 0.7M390.9 658.1l-0.3 0.2M268.9 683.8l-0.5 0.1M390.9 678.6l0.1 0.8M302.3 619.1l0.3 0.4M290.1 652.0l-0.2 0.2M377.5 626.6l0.4 0.7M340.5 684.7l0.8 0.2M312.9 659.8l0.3 0.7M294.0 646.7l0.3 0.4M336.8 684.9l0.0 0.5M255.2 661.6l0.0 0.4M413.4 661.2l-0.5 0.3M433.4 632.6l0.2 0.3M429.4 657.4l0.6 0.6M329.8 683.4l0.8 0.3M433.7 674.8l-0.3 0.3M333.3 630.9l0.7 0.2M409.8 643.1l0.1 0.8M368.1 620.3l0.0 0.5M250.3 703.9l0.3 0.4M386.2 637.1l0.1 0.1M379.6 677.3l-0.3 0.3M374.2 628.4l-0.2 0.5M315.4 656.9l0.7 0.4M399.6 655.7l0.0 0.8M269.4 669.1l-0.3 0.1M334.3 680.2l0.1 0.4M315.9 693.3l-0.7 0.2M279.2 657.3l0.8 0.4M382.7 644.3l0.5 0.3M432.5 705.3l0.2 0.7M380.3 705.2l0.2 0.1M380.1 641.0l-0.4 0.6M402.5 660.0l-0.4 0.3M419.4 666.6l-0.0 0.4M307.3 692.2l-0.3 0.1M307.4 687.9l-0.0 0.3M433.2 671.2l0.7 0.2M258.7 688.7l-0.1 0.1M268.0 657.5l0.2 0.2M337.7 697.2l-0.1 0.1M343.2 682.0l0.8 0.3M412.4 647.7l0.2 0.1M366.1 687.3l0.4 0.5M344.8 626.8l-0.2 0.2M370.5 665.8l0.0 0.1M394.5 694.1l-0.1 0.1M427.9 694.0l0.0 0.8M373.9 665.7l-0.4 0.7M324.2 677.2l-0.2 0.3M376.7 677.4l0.5 0.0M341.6 663.5l-0.2 0.1M283.5 649.5l-0.6 0.7M285.1 612.0l-0.5 0.1M309.8 674.7l-0.2 0.0M426.5 679.4l0.2 0.4M270.7 623.2l0.1 0.4M398.2 695.0l-0.6 0.6M409.9 661.3l-0.0 0.6M254.6 681.9l0.1 0.2M342.6 646.2l-0.6 0.2M368.3 641.7l0.5 0.1M341.2 617.2l0.7 0.5M294.7 622.0l-0.6 0.4M375.7 683.7l-0.1 0.2M353.8 617.9l0.7 0.3M362.8 633.7l-0.3 0.2M313.5 611.3l0.4 0.6M331.5 622.9l-0.2 0.1M346.0 619.3l0.3 0.0M340.1 658.6l0.3 0.2M318.7 703.0l0.5 0.7M300.8 695.4l0.1 0.0M340.6 703.4l-0.4 0.4M353.0 661.5l0.8 0.2M410.0 646.4l-0.2 0.2M337.1 636.5l0.7 0.3M360.9 667.3l0.5 0.1M261.9 656.8l0.4 0.2M396.5 641.5l0.4 0.0M292.6 642.5l0.4 0.2M282.8 620.7l-0.1 0.5M363.7 685.6l-0.3 0.1M247.5 701.1l0.4 0.2M333.8 672.9l0.0 0.2M359.4 626.6l-0.6 0.3M268.8 631.9l-0.1 0.0M282.0 610.4l-0.1 0.1M353.3 629.4l0.0 0.4M396.6 678.3l0.8 0.4M248.9 695.5l0.0 0.4M305.5 697.7l0.9 0.0M244.2 665.5l-0.6 0.1M307.3 689.1l-0.3 0.4M297.2 705.9l-0.1 0.7M279.0 623.0l0.8 0.0M270.2 705.2l0.2 0.3M268.7 674.7l-0.1 0.9M330.2 618.7l0.1 0.5M333.6 694.8l-0.1 0.0M367.1 650.0l-0.0 0.9M376.7 659.6l-0.2 0.0M291.2 672.5l0.1 0.6M429.0 678.8l0.2 0.2M295.7 628.6l0.3 0.4M405.0 669.5l-0.3 0.4M269.5 624.8l0.6 0.0M428.5 654.3l0.8 0.1M419.5 629.3l0.1 0.1M400.1 653.6l-0.6 0.3M276.1 650.6l-0.3 0.4M353.6 635.9l0.0 0.9M397.6 685.9l0.0 0.7M382.8 654.6l0.2 0.1M268.3 689.5l0.1 0.6M277.5 653.2l-0.4 0.3M348.3 654.1l0.7 0.2M274.1 612.2l-0.2 0.2M356.7 676.0l0.5 0.7M403.5 706.0l-0.1 0.2M336.0 696.4l-0.2 0.1M275.1 633.9l0.9 0.1M338.9 704.0l0.1 0.8M305.9 704.4l-0.3 0.4M312.4 614.5l-0.1 0.6M434.7 672.4l0.1 0.1M322.2 678.9l0.1 0.0M324.8 686.3l0.6 0.1M373.4 627.7l-0.2 0.5M378.3 704.6l-0.2 0.2M329.5 672.8l0.3 0.1M288.3 663.0l0.5 0.1M285.6 617.5l0.2 0.3M366.0 643.2l0.3 0.3M386.4 673.3l-0.3 0.5M391.6 685.7l0.3 0.0M249.7 699.5l0.7 0.2M399.5 698.6l-0.0 0.3M413.5 631.6l-0.2 0.2M332.8 687.2l-0.1 0.1M349.8 680.3l-0.2 0.1M369.9 638.8l-0.2 0.1M262.4 678.2l0.5 0.7M384.2 669.7l0.0 0.2M346.8 676.2l0.6 0.2M324.1 638.8l0.0 0.4M344.3 701.5l0.1 0.3M275.1 689.9l0.1 0.6M322.0 686.1l-0.1 0.7M334.8 620.8l-0.8 0.3M314.7 685.4l-0.1 0.1M373.0 663.3l0.4 0.0M425.3 680.4l0.1 0.6M279.2 608.9l-0.3 0.4M348.7 621.8l-0.1 0.1M432.4 662.5l0.3 0.6M388.9 684.9l-0.1 0.0M275.8 699.4l0.2 0.2M433.4 673.4l0.3 0.1M312.7 609.8l-0.5 0.6M278.6 666.0l0.1 0.2M289.5 661.6l-0.3 0.8M363.2 627.4l0.6 0.3M362.5 704.5l-0.3 0.2M354.2 645.3l-0.7 0.4M344.5 690.3l-0.0 0.4M337.6 617.7l0.2 0.4M317.6 658.5l-0.3 0.2M267.4 647.4l0.3 0.1M402.2 628.6l-0.3 0.8M363.5 683.6l-0.4 0.4M309.5 673.9l0.8 0.5M373.0 693.0l0.2 0.7M432.3 675.0l-0.7 0.0M272.9 627.3l0.6 0.3M335.0 619.6l-0.7 0.2M349.1 633.0l0.7 0.4M278.1 678.9l0.7 0.5M325.4 679.0l-0.5 0.0M288.2 695.4l-0.3 0.8M375.8 646.3l-0.0 0.2M408.7 679.3l-0.0 0.4M433.0 669.6l0.2 0.2M369.5 694.4l0.1 0.2M271.6 612.3l-0.6 0.5M279.4 675.9l-0.3 0.7M360.7 644.2l-0.2 0.7M427.4 652.4l0.2 0.8M412.7 632.7l-0.2 0.0M362.9 651.7l0.3 0.3M421.6 631.7l-0.5 0.0M260.0 691.0l0.5 0.5M258.0 677.1l-0.2 0.3M408.0 662.3l0.1 0.7M402.1 688.6l-0.2 0.6M354.9 692.1l0.2 0.3M344.1 683.4l-0.1 0.8M304.4 697.4l-0.1 0.5M372.6 666.5l-0.0 0.4M401.5 690.4l0.6 0.1M259.5 649.0l0.3 0.2M324.2 636.4l-0.0 0.7M254.1 609.2l-0.3 0.6M426.1 689.6l0.8 0.0M287.7 659.6l-0.1 0.3M427.6 684.1l0.2 0.1M378.9 629.6l-0.1 0.3M250.7 679.7l-0.4 0.1M263.1 621.6l0.1 0.1M337.9 674.3l-0.5 0.7M404.1 660.3l0.2 0.4M396.6 654.6l-0.2 0.7M333.0 609.1l0.1 0.2M279.8 687.7l-0.2 0.0M347.8 607.8l0.3 0.1M257.7 689.6l0.1 0.1M259.9 664.1l0.0 0.5M359.2 676.6l0.7 0.2M315.7 675.1l0.4 0.4M419.8 632.4l0.1 0.1M382.2 679.7l-0.4 0.4M357.5 681.1l0.1 0.3M396.2 686.0l-0.2 0.1M313.0 621.0l0.3 0.2M319.4 655.5l-0.3 0.2M318.9 658.3l-0.0 0.2M392.8 680.1l-0.2 0.1M320.4 701.4l0.1 0.2M268.4 687.7l-0.2 0.2M410.5 656.8l-0.1 0.3M360.1 671.9l0.2 0.5M353.1 664.8l-0.5 0.3M403.3 677.9l0.3 0.1M302.2 614.4l-0.1 0.2M326.6 614.8l0.1 0.1M280.8 651.5l0.5 0.7M262.6 640.4l-0.7 0.3M406.1 664.0l-0.3 0.0M320.5 705.4l0.6 0.2M352.0 690.9l0.5 0.5M351.4 685.0l-0.4 0.2M417.5 694.6l0.4 0.5M283.9 616.5l-0.3 0.2M419.5 657.2l-0.9 0.0M259.6 659.1l0.4 0.5M292.2 640.8l-0.4 0.5M263.0 618.9l0.2 0.2M317.7 609.5l0.2 0.0M270.2 699.9l-0.2 0.5M271.3 628.3l0.1 0.1M366.5 646.0l0.5 0.3M393.2 666.5l-0.3 0.0M350.6 635.5l-0.0 0.7M338.8 627.5l0.1 0.2M326.6 693.0l-0.1 0.5M399.4 643.3l-0.4 0.0M434.3 694.3l-0.7 0.1M299.2 680.1l0.1 0.1M244.5 702.1l-0.1 0.5M298.3 681.9l-0.2 0.4M284.4 693.1l0.1 0.0M410.6 629.4l0.2 0.6M425.6 683.6l0.3 0.6M275.0 617.5l0.4 0.4M413.9 693.3l0.1 0.4M273.5 667.7l-0.1 0.1M310.2 612.4l0.2 0.2M353.3 683.7l0.3 0.7M434.9 660.2l-0.3 0.6M338.4 619.4l-0.1 0.7M333.4 682.3l-0.3 0.4M430.3 696.5l-0.3 0.1M355.1 670.3l0.3 0.1M272.8 688.9l0.3 0.2M429.7 631.1l0.2 0.1M393.3 629.7l0.2 0.7M317.1 705.1l0.4 0.5M420.4 675.4l-0.6 0.5M344.3 667.0l-0.6 0.2M288.0 616.5l0.2 0.6M384.5 651.6l-0.7 0.4M281.6 648.9l0.3 0.1M393.1 638.9l-0.1 0.1M383.2 661.5l-0.5 0.1M262.5 689.9l-0.7 0.5M363.3 681.4l0.2 0.5M275.7 618.2l0.2 0.5M316.0 686.6l0.8 0.2M305.5 705.5l-0.2 0.7M286.4 624.2l-0.1 0.2M298.9 612.6l-0.1 0.0M393.3 633.5l0.0 0.2M286.6 704.1l-0.5 0.4M431.2 646.5l-0.1 0.1M255.7 673.1l-0.6 0.3M413.6 665.0l-0.3 0.1M280.3 624.5l-0.2 0.1M341.4 635.3l-0.2 0.4M427.3 698.8l0.6 0.1M302.5 700.3l-0.3 0.2M290.7 612.3l0.2 0.1M303.2 699.4l0.3 0.5M261.3 673.4l-0.6 0.3M418.2 689.7l0.1 0.6M403.0 643.3l0.4 0.6M257.3 647.5l0.2 0.4M269.2 609.2l0.4 0.3M394.6 640.8l-0.1 0.1M331.6 683.2l0.5 0.4M385.6 656.6l-0.2 0.2M271.9 651.5l0.8 0.3M376.1 679.4l0.5 0.6M268.0 687.1l-0.4 0.3M256.2 612.0l-0.4 0.0M350.7 623.6l0.1 0.3M276.3 699.0l-0.3 0.1M252.3 676.9l0.2 0.0M389.3 633.4l0.3 0.5M362.4 695.1l-0.7 0.5M265.4 673.5l0.4 0.3M297.6 695.7l0.0 0.2M261.9 680.4l-0.6 0.7M300.0 676.6l-0.3 0.2M248.2 647.2l-0.1 0.0M263.4 677.0l-0.2 0.3M360.2 680.1l-0.8 0.2M300.9 699.9l-0.4 0.7M378.1 701.2l0.0 0.8M382.0 670.3l0.5 0.7M254.5 619.2l-0.4 0.3M250.6 628.7l0.1 0.2M343.0 618.9l-0.4 0.6M392.3 633.9l-0.6 0.1M258.3 688.8l0.4 0.1M246.1 626.1l-0.5 0.4M416.6 649.5l0.1 0.2M359.8 656.5l0.3 0.3M342.7 687.6l-0.2 0.0M338.8 678.0l-0.2 0.5M324.8 685.4l-0.5 0.2M343.7 690.0l-0.1 0.1M344.4 659.5l0.1 0.2M308.5 678.3l0.5 0.2M355.4 622.2l-0.8 0.0M277.3 642.7l0.8 0.0M329.0 608.1l-0.1 0.3M310.2 684.6l-0.4 0.4M374.4 626.9l0.4 0.4M321.1 624.8l-0.4 0.3M417.6 670.9l0.6 0.2M281.2 676.1l0.1 0.1M254.6 650.0l0.8 0.1M381.5 676.0l-0.0 0.3M313.1 684.1l-0.0 0.1M395.0 656.6l0.3 0.4M333.1 665.2l-0.7 0.1M419.3 692.3l0.6 0.5M423.0 629.7l0.0 0.2M371.6 640.0l0.2 0.1M424.8 679.5l-0.3 0.1M271.8 673.6l-0.3 0.2M347.6 650.3l0.8 0.1M267.5 646.8l0.2 0.4M426.6 631.8l0.4 0.0M244.6 656.1l0.0 0.2M256.6 614.8l-0.2 0.8M265.2 608.5l-0.6 0.0M246.3 660.2l0.5 0.6M410.9 650.6l-0.3 0.6M347.0 666.7l0.1 0.3M283.7 655.1l0.5 0.5M284.0 681.3l0.4 0.3M269.0 677.3l-0.1 0.3M317.8 685.5l-0.6 0.0M267.4 690.9l-0.8 0.5M420.0 676.4l-0.2 0.4M271.5 612.7l-0.3 0.6M405.2 641.1l-0.1 0.1M351.7 632.1l0.9 0.0M422.8 669.3l-0.2 0.1M423.3 705.1l-0.5 0.7M273.0 615.1l-0.1 0.1M271.8 631.0l0.2 0.6M381.4 660.3l0.1 0.3M363.8 638.4l0.1 0.6M381.7 651.7l-0.2 0.0M352.9 646.8l-0.5 0.6M356.8 619.7l-0.3 0.6M319.8 646.5l-0.1 0.1M246.8 654.9l0.2 0.7M305.1 616.6l-0.0 0.9M336.4 612.3l-0.4 0.5M313.0 622.8l-0.1 0.2M372.8 675.5l-0.9 0.2M322.8 652.6l-0.7 0.4M341.0 636.5l0.7 0.1M266.0 673.0l0.1 0.2M378.9 665.7l0.0 0.2M375.6 651.9l0.5 0.1M274.5 682.3l-0.5 0.7M370.4 663.5l0.6 0.4M364.6 672.4l0.6 0.0M346.5 642.3l-0.0 0.7M360.2 625.3l0.2 0.2M248.1 663.6l-0.4 0.7M317.1 675.5l-0.1 0.1M359.0 683.7l0.4 0.4M259.6 617.0l-0.1 0.1M350.8 629.9l-0.1 0.6M246.2 613.1l-0.6 0.4M336.0 704.5l0.4 0.1M276.5 614.2l0.8 0.0M349.7 677.9l-0.0 0.4M381.2 695.5l0.4 0.3M304.7 612.7l-0.1 0.7M293.3 645.4l0.1 0.1M318.0 641.9l-0.0 0.5M409.8 647.4l0.0 0.6M380.6 662.2l0.8 0.4M298.5 617.8l0.1 0.0M265.3 644.4l0.4 0.2M265.5 632.8l0.4 0.5M364.1 706.0l0.2 0.4M363.3 658.1l0.4 0.2M322.5 636.2l-0.1 0.4M286.3 705.5l-0.6 0.3M326.6 634.7l-0.2 0.3M334.5 680.3l0.8 0.3M340.0 666.5l0.5 0.4M409.9 666.2l-0.2 0.1M270.5 632.6l0.2 0.0M288.7 636.6l0.8 0.1M245.1 623.3l0.2 0.1M255.9 673.5l0.4 0.1M384.6 646.6l-0.4 0.5M329.5 620.6l-0.4 0.5M257.2 637.6l-0.0 0.6M373.2 633.7l-0.4 0.8M414.6 629.7l-0.1 0.2M317.9 643.2l-0.1 0.2M307.5 689.4l-0.4 0.4M264.3 663.4l-0.3 0.6M292.6 633.7l-0.0 0.6M380.6 702.7l-0.1 0.1M419.5 657.0l0.6 0.6M371.0 688.8l-0.3 0.4M288.2 660.8l0.1 0.1M277.1 610.7l-0.2 0.0M340.5 637.3l-0.4 0.5M268.3 621.5l-0.5 0.2M285.0 678.5l-0.2 0.2M254.9 688.6l-0.5 0.3M410.8 644.6l0.2 0.0M419.1 632.7l-0.1 0.0M358.3 638.9l-0.1 0.2M246.8 676.7l0.7 0.4M331.0 625.6l-0.6 0.3M423.9 671.9l-0.3 0.4M401.2 696.5l-0.8 0.1M410.5 672.7l-0.4 0.1M368.4 649.0l-0.2 0.4M291.1 607.0l0.4 0.1M399.7 643.0l-0.5 0.3M431.9 631.1l0.1 0.8M398.5 671.2l-0.1 0.2M423.6 644.5l-0.3 0.2M337.3 694.9l-0.3 0.4M369.9 682.6l-0.3 0.3M356.8 625.0l-0.8 0.4M244.5 626.3l0.2 0.0M416.0 681.0l-0.2 0.3M364.9 688.5l0.8 0.0M315.3 695.0l-0.0 0.2M391.4 641.1l0.6 0.5M283.8 651.7l-0.1 0.1M397.2 678.5l0.6 0.3M362.8 657.9l0.1 0.1M330.6 627.1l0.3 0.6M310.7 615.0l0.1 0.8M316.1 612.4l-0.1 0.4M296.1 637.4l-0.3 0.4M278.3 631.7l-0.1 0.4M356.6 626.1l0.2 0.5M353.2 632.2l0.2 0.2M281.1 703.9l0.1 0.4M281.0 691.5l-0.0 0.2M320.6 629.5l0.1 0.5M431.6 677.0l0.5 0.4M279.9 653.9l0.3 0.2M281.3 672.2l0.1 0.3M424.9 688.5l-0.3 0.5M272.2 668.6l0.1 0.7M368.6 635.4l-0.3 0.3M261.3 660.3l0.1 0.3M333.5 616.9l-0.4 0.4M253.9 628.2l0.6 0.4M341.6 690.8l-0.1 0.1M428.9 700.8l-0.6 0.3M399.8 689.7l0.4 0.4M375.2 697.7l0.2 0.4M261.8 609.4l0.3 0.8M413.8 675.0l0.2 0.5M368.9 668.5l0.3 0.1M263.1 650.1l-0.5 0.1M362.0 700.2l-0.4 0.4M317.7 685.7l-0.1 0.1M320.8 663.6l-0.6 0.6M402.6 658.5l0.5 0.4M394.8 681.3l-0.0 0.7M346.2 610.1l0.8 0.1M288.8 666.8l-0.9 0.0M285.4 701.2l-0.2 0.5M412.6 671.8l-0.4 0.1M278.5 639.2l-0.1 0.1M271.5 677.8l-0.2 0.0M433.7 674.2l0.1 0.0M348.2 609.9l0.4 0.5M365.8 689.9l-0.2 0.6M246.1 617.6l-0.1 0.2M354.1 662.1l-0.2 0.6M357.6 669.0l-0.2 0.3M341.2 700.0l-0.1 0.4M400.1 675.8l0.5 0.4M257.9 635.4l-0.4 0.2M328.6 691.2l-0.2 0.4M382.8 635.7l0.1 0.1M276.9 657.3l-0.3 0.5M378.4 631.6l-0.1 0.4M377.1 694.8l-0.2 0.0M272.0 615.2l-0.9 0.0M342.5 615.5l-0.4 0.4M380.2 624.6l-0.6 0.0M246.8 612.3l-0.2 0.3M385.9 691.9l0.0 0.2M424.3 635.6l-0.2 0.5M252.3 667.7l0.6 0.4M276.0 685.4l0.2 0.2M343.5 630.0l-0.0 0.6M375.3 681.4l-0.5 0.0M290.3 623.0l0.6 0.3M412.1 641.7l0.1 0.4M335.4 624.6l0.5 0.5M343.0 697.7l0.2 0.2M429.7 696.7l0.3 0.0M399.6 677.3l-0.1 0.8M399.1 672.0l0.1 0.3M389.4 686.8l0.1 0.3M370.2 701.8l0.7 0.3M305.6 700.2l0.1 0.3M360.0 630.0l0.1 0.4M350.2 632.5l0.2 0.4M370.1 699.7l-0.2 0.0M328.1 620.3l-0.3 0.5M378.9 685.1l0.3 0.7M340.4 681.9l-0.1 0.1M288.1 700.8l-0.4 0.4M266.3 624.8l0.4 0.4M366.6 667.1l-0.2 0.2M412.6 637.1l-0.7 0.0M257.7 613.7l-0.7 0.1M428.4 667.7l-0.5 0.3M346.7 610.9l0.9 0.1M370.4 640.6l0.0 0.6M283.6 638.8l-0.6 0.1M334.8 680.3l-0.1 0.0M401.0 638.7l0.1 0.1M354.1 646.8l0.1 0.1M418.0 636.1l-0.6 0.4M261.9 653.0l0.5 0.3M361.1 625.1l-0.0 0.2M280.8 660.8l0.0 0.4M248.3 684.0l-0.4 0.1M342.5 667.0l-0.9 0.0M374.9 640.4l0.6 0.3M292.3 611.7l-0.1 0.4M303.3 615.0l-0.2 0.4M251.5 643.8l0.3 0.8M344.3 678.6l-0.4 0.1M373.7 682.9l-0.3 0.2M382.8 686.9l-0.1 0.3M289.9 619.4l-0.0 0.2M368.7 685.3l0.5 0.7M359.2 673.8l0.1 0.1M370.0 621.5l0.6 0.7M326.4 665.1l0.4 0.0M317.8 627.7l-0.5 0.3M287.6 631.5l0.1 0.2M345.8 656.7l-0.6 0.7M332.4 631.3l0.1 0.0M423.3 651.2l0.0 0.2M248.1 624.1l0.1 0.2M361.2 633.4l-0.6 0.4M390.9 628.3l-0.6 0.1M366.1 704.3l0.4 0.5M396.2 672.9l0.1 0.3M296.6 627.9l-0.2 0.6M427.4 697.0l0.1 0.0M427.0 685.1l-0.0 0.2M422.8 659.1l0.6 0.4M396.6 649.1l-0.2 0.0M385.2 666.0l-0.2 0.3M277.8 610.5l-0.4 0.1M337.4 614.0l-0.3 0.1M371.1 676.8l0.7 0.2M273.1 678.9l-0.1 0.4M294.9 688.5l0.2 0.6M424.9 660.5l0.2 0.4M324.9 668.7l0.1 0.7M397.2 694.2l-0.4 0.6M274.5 645.1l-0.5 0.0M320.2 645.1l0.2 0.6M259.6 673.4l-0.7 0.6M362.4 702.1l-0.3 0.7M340.9 657.4l-0.1 0.5M259.5 689.7l-0.0 0.5M412.7 683.4l0.6 0.1M345.6 692.5l-0.7 0.3M377.4 626.8l-0.4 0.5M349.3 610.2l0.1 0.4M318.7 622.6l-0.2 0.5M370.6 683.7l-0.0 0.1M273.5 658.2l0.5 0.4M320.1 689.5l0.5 0.1M271.8 646.1l-0.3 0.1M361.7 674.6l0.1 0.1M381.5 664.8l0.8 0.4M333.2 613.5l-0.1 0.4M412.0 671.5l-0.4 0.1M306.6 703.9l0.8 0.1M287.5 683.9l-0.4 0.5M400.1 669.9l-0.3 0.3M387.8 698.2l0.1 0.2M248.1 657.7l-0.7 0.4M366.6 647.2l0.1 0.2M379.1 679.2l-0.3 0.2M368.3 658.4l-0.2 0.1M264.7 642.0l-0.1 0.1M376.8 692.5l0.2 0.8M272.6 632.4l0.3 0.4M407.5 627.0l-0.1 0.4M265.4 705.5l0.3 0.1M396.8 668.1l-0.1 0.8M405.3 636.5l-0.4 0.2M372.3 693.1l-0.8 0.4M353.2 629.8l-0.6 0.7M349.2 637.1l-0.0 0.8M276.4 630.4l-0.5 0.1M365.5 669.5l-0.3 0.2M321.0 681.0l-0.2 0.4M398.8 678.7l-0.2 0.1M292.3 632.4l-0.0 0.4M384.1 688.2l-0.3 0.4M378.1 696.5l-0.2 0.2M325.7 703.9l-0.2 0.2M355.1 694.3l0.1 0.2M361.1 699.4l-0.1 0.7M281.7 654.1l-0.6 0.0M330.5 611.9l0.3 0.7M366.1 648.7l-0.0 0.2M248.6 679.2l-0.6 0.2M356.5 624.7l-0.0 0.2M426.5 651.4l0.5 0.1M285.7 655.6l0.3 0.2M390.1 639.6l-0.2 0.4M408.7 700.9l0.4 0.2M249.7 611.7l-0.1 0.2M251.8 697.2l0.3 0.1M334.4 661.5l-0.4 0.1M330.2 684.4l0.0 0.2M400.4 678.5l0.3 0.3M301.5 694.8l0.5 0.4M412.8 702.5l0.3 0.8M348.2 681.4l-0.3 0.2M263.7 612.4l-0.1 0.2M318.9 687.4l-0.2 0.8M338.4 662.3l0.8 0.0M328.5 671.0l0.5 0.2M425.5 697.2l-0.2 0.5M284.4 648.6l-0.3 0.1M372.7 645.6l0.5 0.6M284.1 698.0l0.0 0.5M400.3 649.0l-0.3 0.6M329.1 687.3l-0.1 0.0M427.2 671.4l0.3 0.1M294.8 680.4l0.1 0.0M281.7 627.8l0.1 0.6M325.4 704.9l-0.2 0.0M338.7 657.8l-0.0 0.2M356.1 692.0l0.1 0.6M403.6 633.7l-0.2 0.4M376.7 635.2l-0.4 0.2M366.7 662.8l-0.7 0.6M415.5 633.3l-0.9 0.1M390.4 696.0l0.5 0.1M415.0 652.4l0.2 0.1M261.9 660.1l-0.0 0.2M282.5 625.4l-0.6 0.2M314.7 654.6l-0.0 0.3M278.4 653.5l0.6 0.5M291.4 688.4l-0.1 0.1M370.9 648.9l-0.3 0.4M244.1 657.1l-0.5 0.6M325.6 667.3l-0.2 0.5M304.3 683.7l0.3 0.1M425.7 684.1l0.4 0.4M409.3 703.9l-0.3 0.0M316.1 658.6l-0.2 0.4M276.6 679.1l0.3 0.1M387.1 637.8l0.4 0.2M370.2 637.1l-0.8 0.1M332.0 658.9l0.3 0.4M379.6 686.7l-0.5 0.5M383.5 644.1l-0.6 0.3M289.1 642.0l0.0 0.1M301.3 691.6l0.0 0.1M246.2 701.3l-0.1 0.5M246.9 614.8l-0.1 0.4M367.3 627.5l0.3 0.6M425.8 630.1l-0.0 0.5M420.6 698.4l-0.2 0.8M382.4 685.7l-0.3 0.8M273.0 610.1l0.0 0.6M263.0 698.5l0.2 0.2M339.9 679.4l0.6 0.5M390.9 681.0l-0.2 0.0M386.7 681.7l-0.3 0.1M283.8 610.5l0.2 0.1M340.0 611.4l-0.6 0.2M337.9 656.4l0.5 0.3M302.2 704.6l0.3 0.2M396.2 661.0l0.2 0.4M339.5 656.7l-0.1 0.5M293.5 608.3l-0.0 0.3M317.6 618.4l-0.2 0.5M345.4 681.1l-0.6 0.5M350.5 677.6l-0.5 0.3M393.6 687.7l-0.5 0.3M276.0 613.7l-0.2 0.8M349.9 661.2l0.3 0.1M246.0 698.1l-0.0 0.8M342.0 690.4l-0.0 0.3M334.1 614.4l0.4 0.0M267.9 617.6l-0.1 0.7M276.8 689.4l-0.3 0.4M354.0 625.6l0.2 0.3M301.6 620.2l-0.4 0.1M404.8 698.5l-0.6 0.4M412.3 681.6l0.4 0.2M430.6 703.5l-0.2 0.3M246.9 617.0l0.2 0.1M269.3 680.3l-0.0 0.4M248.8 648.4l-0.1 0.1M268.7 621.5l0.7 0.2M359.1 674.2l-0.6 0.0M253.6 608.2l-0.1 0.1M421.7 688.6l0.1 0.0M366.3 696.1l-0.1 0.2M340.9 689.1l0.8 0.0M378.5 628.0l-0.2 0.3M423.9 632.2l0.3 0.8M251.9 676.4l0.3 0.3M391.8 667.3l-0.0 0.2M410.3 634.7l-0.7 0.3M285.8 670.0l0.2 0.9M369.2 663.4l0.0 0.2M337.9 686.9l-0.8 0.4M278.8 644.9l-0.3 0.5M382.7 664.6l-0.1 0.4M272.0 610.2l-0.2 0.8M313.7 704.3l-0.1 0.4M427.6 636.5l-0.1 0.1M425.6 660.8l0.1 0.2M267.7 698.5l0.1 0.2M264.5 607.7l0.1 0.4M351.7 631.1l-0.1 0.1M402.4 668.4l-0.7 0.0M380.7 680.4l0.6 0.3M354.6 672.1l0.6 0.1M346.5 685.2l-0.2 0.4M433.3 628.1l0.1 0.1M344.7 687.1l0.3 0.6M385.2 694.8l-0.6 0.2M424.4 645.8l-0.2 0.7M371.1 632.6l-0.2 0.9M307.6 681.3l0.1 0.1M360.7 630.0l0.2 0.5M314.3 700.4l0.0 0.3M417.5 660.3l-0.6 0.6M320.2 666.3l-0.1 0.1M402.6 668.4l-0.0 0.5M343.0 610.0l-0.2 0.1M250.3 610.6l0.8 0.4M351.7 617.7l-0.4 0.8M251.5 615.0l-0.3 0.4M300.6 622.6l-0.7 0.5M384.1 645.9l-0.2 0.2M304.8 688.5l0.6 0.7M386.4 628.3l-0.5 0.2M431.4 694.1l0.7 0.5M270.4 679.7l-0.7 0.1M431.6 669.6l-0.1 0.2M435.2 693.6l-0.6 0.1M353.7 669.8l-0.3 0.1M253.1 612.1l-0.3 0.2M334.9 673.8l-0.0 0.1M421.5 699.3l-0.6 0.7M383.7 667.0l0.3 0.8M329.6 621.5l-0.4 0.3M425.1 648.9l-0.4 0.3M276.0 697.1l0.2 0.3M320.1 697.8l-0.5 0.1M279.4 610.2l0.5 0.2M324.2 656.6l0.0 0.2M334.2 699.1l-0.7 0.3M388.1 645.6l0.1 0.2M307.3 614.2l-0.4 0.3M318.5 624.5l-0.4 0.6M385.4 672.2l-0.3 0.5M290.0 657.6l0.4 0.5M357.9 653.4l0.0 0.4M392.6 690.3l-0.2 0.7M427.3 679.3l0.2 0.5M393.8 680.4l-0.0 0.3M410.8 628.2l-0.2 0.1M263.5 664.1l0.6 0.4M260.3 679.2l0.2 0.1M316.1 693.6l-0.3 0.3M258.3 643.5l-0.1 0.7M286.1 694.4l0.5 0.2M311.1 613.9l-0.4 0.3M424.0 682.9l-0.2 0.1M283.4 625.0l-0.2 0.4" stroke="#918db8" stroke-width="0.95" stroke-linecap="round" fill="none" opacity="0.9"/>
<path d="M339.6 635.8l-0.2 0.2M338.8 651.7l0.2 0.4M337.4 637.5l-0.3 0.2M309.9 662.8l-0.1 0.3M296.5 638.1l0.4 0.5M302.0 671.8l-0.3 0.5M291.7 658.3l0.3 0.7M292.9 680.2l0.1 0.9M301.1 623.3l-0.5 0.6M293.8 650.3l-0.1 0.6M316.1 646.0l0.5 0.4M327.5 652.0l0.5 0.2M315.2 641.7l-0.3 0.1M295.4 650.9l-0.8 0.0M325.7 654.9l-0.5 0.7M315.5 653.6l0.3 0.6M295.6 635.3l-0.1 0.0M309.5 665.4l-0.3 0.2M291.3 666.7l0.3 0.4M299.7 677.2l-0.5 0.4M294.6 654.2l-0.3 0.1M302.9 674.8l-0.1 0.3M315.8 646.5l-0.2 0.1M296.9 630.4l-0.2 0.3M332.3 659.3l-0.1 0.2M318.0 638.8l0.1 0.1M315.4 649.8l0.2 0.0M314.0 624.7l-0.4 0.4M297.8 633.2l0.6 0.4M341.9 644.9l0.4 0.1M310.4 622.7l-0.2 0.0M329.2 638.4l-0.5 0.7M306.8 668.1l0.7 0.4M297.7 634.4l0.2 0.2M301.2 624.4l-0.3 0.3M307.0 621.1l0.4 0.0M315.5 624.3l-0.5 0.0M313.5 660.2l-0.8 0.2M312.0 660.4l0.4 0.3M341.8 643.1l0.5 0.1M291.8 657.8l0.0 0.4M317.5 639.2l-0.2 0.2M317.1 629.9l-0.7 0.4M293.1 648.2l0.4 0.2M338.9 642.9l-0.3 0.6M293.4 653.3l0.8 0.1M306.6 622.1l-0.7 0.2M294.6 679.4l-0.8 0.4M333.9 635.4l0.6 0.1M334.4 658.8l-0.1 0.6M312.9 655.9l-0.1 0.3M300.7 627.5l0.0 0.2M337.6 650.1l0.4 0.2M329.8 641.2l-0.6 0.3M336.0 635.6l0.1 0.2M291.0 681.8l0.8 0.1M307.5 666.4l-0.2 0.0M292.6 649.6l0.3 0.2M293.8 658.4l-0.1 0.1M293.2 679.9l0.2 0.5M336.7 636.4l0.2 0.1M298.3 630.6l-0.1 0.4M326.0 643.9l0.2 0.3M338.9 640.6l0.6 0.4M299.0 629.4l0.2 0.3M312.3 654.4l0.8 0.0M340.5 650.6l0.4 0.3M334.6 636.6l-0.2 0.3M305.2 669.5l-0.7 0.1M331.0 640.9l0.0 0.1M293.1 672.0l0.4 0.1M331.4 636.6l-0.0 0.2M327.8 646.1l0.7 0.1M327.4 645.5l0.2 0.1M296.2 646.3l-0.1 0.8M296.9 633.3l-0.2 0.5M294.4 651.9l0.0 0.2M339.4 652.4l-0.5 0.5M295.8 678.8l0.2 0.1M337.1 638.0l0.8 0.4M305.5 622.2l0.1 0.6M316.6 651.8l0.4 0.3M318.2 640.4l0.3 0.4M339.5 650.7l0.7 0.5M294.4 678.8l0.6 0.0M294.4 648.4l0.1 0.1M292.2 659.2l-0.2 0.6M296.2 677.6l-0.1 0.1M309.0 668.2l-0.4 0.7M293.4 656.9l-0.2 0.3M311.1 659.2l-0.0 0.4M334.5 657.2l-0.3 0.5M331.2 638.8l0.4 0.1M330.0 658.0l-0.3 0.0M309.4 624.4l-0.5 0.0M309.7 623.8l-0.6 0.0M316.0 642.0l0.4 0.3M293.8 651.6l-0.3 0.1M294.4 642.7l0.6 0.0M291.6 675.7l0.2 0.6M290.0 676.5l0.5 0.2M291.5 658.3l-0.0 0.1M315.4 648.5l0.5 0.0M340.3 649.3l0.5 0.6M310.5 661.3l0.1 0.0M299.7 677.5l0.2 0.6M325.2 654.5l-0.7 0.5M330.8 657.1l0.2 0.2M294.5 645.5l-0.1 0.1M316.8 640.4l-0.3 0.6M302.6 672.3l-0.2 0.0M340.8 642.4l0.5 0.0M297.3 635.6l-0.2 0.3M298.2 677.1l-0.3 0.6M325.6 651.2l0.3 0.3M317.8 641.6l-0.1 0.2M293.7 678.5l-0.4 0.3M298.5 674.9l0.2 0.4M314.4 647.0l-0.4 0.6M296.9 679.9l-0.3 0.7M338.5 640.6l-0.7 0.2M291.8 677.2l-0.2 0.1M298.5 629.0l-0.7 0.3M311.7 662.2l-0.1 0.7M331.6 636.7l0.6 0.2M342.3 643.9l-0.2 0.4M311.4 660.2l-0.2 0.0M315.8 653.2l0.1 0.1M296.8 644.0l0.1 0.2M299.5 675.2l0.5 0.6M297.9 631.9l-0.2 0.4M298.5 676.9l0.2 0.8M291.6 653.8l-0.4 0.1M309.5 660.9l0.7 0.1M300.0 676.3l-0.0 0.3M326.7 645.7l-0.5 0.1M324.9 653.5l-0.3 0.2M313.6 659.3l0.4 0.1M293.3 677.8l-0.4 0.2M338.4 639.4l-0.2 0.2M325.1 650.5l-0.1 0.3M318.2 642.2l-0.4 0.7M296.9 634.7l-0.0 0.5M295.0 679.3l0.0 0.2M336.3 634.8l0.2 0.1M305.6 669.7l0.2 0.5M292.8 676.2l0.2 0.3M339.4 644.7l-0.3 0.1M299.2 629.2l-0.5 0.3M316.7 634.2l0.1 0.3M341.0 647.2l0.6 0.1M304.3 669.1l-0.6 0.0M317.4 644.9l0.8 0.2M295.9 643.5l-0.3 0.0M315.2 632.4l-0.3 0.5M338.8 645.9l-0.4 0.0M295.1 680.1l-0.1 0.3M293.2 646.8l0.7 0.1M297.3 632.9l-0.4 0.3M294.1 647.2l0.4 0.0M292.5 677.4l-0.2 0.8M339.0 647.1l0.0 0.1M295.6 639.4l-0.3 0.5M314.9 644.5l-0.3 0.1M296.6 630.8l-0.7 0.2M302.9 622.8l-0.4 0.6M334.6 657.5l-0.5 0.5M340.2 652.4l-0.0 0.2M318.2 640.9l0.8 0.3M311.1 658.6l-0.2 0.1M329.1 643.3l0.5 0.0M300.2 674.2l0.2 0.4M292.2 652.0l0.6 0.1M292.8 657.2l-0.2 0.8M307.8 621.4l0.4 0.6M309.7 624.8l-0.5 0.6M315.3 643.4l-0.3 0.1M337.8 651.9l0.2 0.3M298.0 633.9l-0.5 0.1M293.3 661.7l0.0 0.4M300.7 623.5l-0.1 0.0M301.3 672.3l-0.2 0.1M294.2 651.1l0.3 0.1M291.4 663.7l0.4 0.2M297.4 636.8l-0.3 0.5M327.2 647.1l0.5 0.2M311.3 622.5l-0.0 0.8M292.8 664.2l0.7 0.3M315.4 630.0l-0.2 0.2M305.1 621.8l-0.8 0.2M328.1 645.8l0.4 0.7M318.3 642.2l0.7 0.4M332.1 636.0l-0.4 0.4M297.2 635.5l0.5 0.3M290.8 679.5l0.3 0.4M316.5 630.6l-0.6 0.5M337.8 637.6l-0.3 0.0M292.6 682.0l0.5 0.6M328.3 639.2l-0.6 0.5M304.5 671.6l-0.8 0.2M298.3 675.1l-0.3 0.8M332.7 658.1l-0.4 0.6M314.3 652.9l0.3 0.1M293.6 648.5l0.2 0.1M334.3 637.1l0.2 0.6M316.4 639.4l-0.3 0.3M336.8 651.7l-0.6 0.4M290.7 661.2l0.1 0.5M311.5 622.2l-0.2 0.0M297.5 634.3l0.1 0.6M309.0 669.1l0.2 0.3M296.7 676.6l-0.0 0.8M310.9 624.1l-0.3 0.1M327.2 644.6l0.2 0.2M293.8 659.8l0.0 0.1M328.0 646.4l0.2 0.4M316.0 641.3l-0.2 0.4M303.6 621.5l0.6 0.0M294.7 650.2l0.5 0.4M294.0 656.9l-0.1 0.7M292.0 675.4l0.1 0.4M327.8 643.0l-0.2 0.0M302.4 675.2l-0.3 0.1M303.2 623.5l0.0 0.2M326.7 642.0l-0.2 0.2M291.4 654.3l-0.4 0.7M314.2 658.3l-0.7 0.2M292.6 664.7l0.6 0.0M293.9 652.7l0.4 0.1M318.6 635.6l-0.2 0.1M329.3 640.7l-0.5 0.3M326.1 646.7l-0.7 0.4M309.9 663.3l-0.2 0.2M292.7 671.7l0.3 0.3M316.6 638.6l0.0 0.3M292.9 653.4l-0.4 0.2M333.0 637.8l0.3 0.2M305.2 622.7l-0.2 0.4M327.1 647.7l-0.1 0.1M334.5 636.9l-0.6 0.0M294.5 656.2l-0.1 0.9M316.7 626.5l-0.4 0.7M292.4 672.8l-0.1 0.4M325.3 647.9l-0.6 0.5M340.7 649.3l-0.2 0.1M292.4 682.4l0.7 0.0M306.1 623.6l-0.6 0.2M295.9 643.7l-0.3 0.0M295.6 676.9l0.7 0.6M331.1 657.4l-0.4 0.5M290.3 677.4l-0.2 0.5M339.5 636.8l0.7 0.0M316.5 625.3l0.0 0.1M315.7 640.1l0.2 0.7M326.2 646.9l-0.2 0.6M326.2 650.2l0.1 0.5M325.6 650.7l0.2 0.1M292.7 658.8l0.5 0.4M294.3 651.3l-0.9 0.1M328.5 658.5l0.5 0.6M316.0 644.0l-0.5 0.2M296.8 642.2l-0.2 0.3M301.0 626.5l0.1 0.1M312.6 624.6l-0.5 0.2M294.3 678.2l-0.5 0.2M312.4 622.3l-0.6 0.0M302.4 624.3l0.1 0.2M294.6 643.0l-0.2 0.5M316.8 650.2l-0.0 0.6M325.7 649.3l-0.1 0.6M337.7 638.3l-0.0 0.2M332.0 656.4l-0.6 0.0M293.2 671.1l-0.2 0.1M304.1 671.3l0.1 0.0M295.0 653.3l-0.2 0.1M294.4 639.3l-0.4 0.6M294.4 658.3l-0.2 0.0M341.5 642.4l-0.2 0.3M294.9 679.6l-0.2 0.5M339.8 649.7l-0.4 0.6M330.5 659.2l0.2 0.1M291.6 678.8l-0.3 0.7M316.5 636.1l-0.5 0.1M329.5 657.0l-0.7 0.5M292.9 646.7l-0.2 0.0M305.7 623.4l-0.2 0.4M315.9 635.7l0.1 0.0M289.8 669.9l0.6 0.1M313.5 626.8l0.1 0.8M314.1 656.6l-0.4 0.6M290.6 680.4l0.5 0.2M302.1 673.5l0.4 0.0M337.6 636.4l0.5 0.2M310.9 623.6l0.6 0.0M317.5 648.3l-0.2 0.1M315.9 642.0l-0.2 0.1M297.2 676.7l-0.1 0.8M291.8 668.4l-0.7 0.3M337.2 654.0l-0.3 0.2M326.2 650.4l-0.8 0.3M301.0 626.9l0.2 0.4M290.8 663.1l-0.2 0.1M297.8 636.3l-0.5 0.4M309.1 623.9l-0.0 0.2M329.0 640.6l-0.4 0.0M339.9 651.6l0.5 0.6M293.1 673.5l-0.3 0.3M309.5 623.5l0.0 0.9M294.6 652.9l0.4 0.3M314.8 649.2l0.4 0.3M290.2 673.9l0.4 0.3M318.7 641.1l-0.7 0.3M311.9 655.4l0.2 0.4M317.0 626.3l0.4 0.5M325.2 650.2l-0.0 0.1M334.5 656.5l0.5 0.6M339.8 647.5l-0.6 0.4M290.9 682.1l-0.1 0.2M327.7 658.4l0.1 0.3M307.1 669.2l0.5 0.2M317.1 632.8l-0.7 0.3M297.3 640.1l0.3 0.1M314.9 654.6l-0.6 0.1M296.0 677.9l0.4 0.2M290.3 665.7l0.2 0.7M331.5 658.6l-0.4 0.3M315.8 638.0l0.5 0.1M312.1 656.8l0.1 0.3M330.3 640.0l0.0 0.2M291.2 674.6l0.9 0.2M341.6 648.9l-0.2 0.2M316.9 639.1l0.1 0.1M340.0 645.6l-0.1 0.1M295.0 641.4l-0.0 0.8" stroke="#5f5998" stroke-width="1.0" stroke-linecap="round" fill="none" opacity="0.8"/>
</g>
<g clip-path="url(#cRi)">
<path fill="#efeef6" d="M355 626 L415 626 L415 706 L355 706Z" />
<path d="M415 626H423V684Q426 688 436 688V706H415Z" fill="#cdc9e6"/>
<path d="M389.7 676.8l-0.5 0.5M377.9 651.5l-0.3 1.1M370.5 634.7l-0.8 1.0M411.4 664.8l-0.8 1.1M413.4 626.2l0.7 0.7M356.5 663.7l-0.9 0.4M407.1 649.9l0.0 0.6M355.7 636.1l-0.8 0.2M365.3 633.1l-0.1 0.4M371.7 690.3l-0.6 1.2M412.7 657.5l0.4 0.1M361.1 628.6l0.2 1.3M407.3 691.4l0.1 0.9M358.3 649.9l-0.5 0.2M404.6 640.9l-0.4 0.1M395.9 631.0l0.7 0.7M364.7 705.3l-0.1 1.0M405.3 636.6l0.7 0.8M412.5 631.6l0.4 0.7M414.1 671.6l0.1 0.4M411.3 634.1l-0.4 0.1M406.0 672.0l-0.0 0.4M381.3 705.5l-1.1 0.2M360.8 694.8l0.1 1.1M377.4 659.1l0.7 1.0M365.0 695.9l0.4 1.0M380.9 662.6l-0.2 0.3M391.9 653.1l-0.6 1.0M388.4 697.7l-1.3 0.3M384.5 666.9l0.4 0.5M393.6 684.7l-0.6 0.7M414.9 659.2l-0.6 0.4M387.4 650.8l-0.2 1.0M395.2 703.5l-0.5 0.0M356.1 638.0l0.4 0.3M400.2 647.8l0.3 0.2M362.1 650.1l0.9 0.8M369.4 660.9l-1.0 0.0M398.7 660.7l0.6 0.3M382.3 692.7l-0.8 0.8M355.4 649.1l0.2 0.3M358.8 673.6l-0.6 0.2M385.0 683.3l-0.5 1.3M373.5 668.6l0.2 0.2M412.4 694.9l0.3 0.1M404.1 691.1l0.3 0.3M370.3 636.2l-1.1 0.2M382.5 631.5l-0.6 0.4M411.7 671.9l-0.3 0.9M381.6 651.5l-1.2 0.5M370.7 686.1l-0.7 0.7M389.5 693.9l0.8 0.8M385.1 662.4l0.4 0.1M374.1 692.3l-0.0 0.7M387.1 645.5l-0.7 0.7M371.8 650.8l0.2 0.3M412.9 643.6l-0.7 0.1M404.7 642.9l-0.4 0.6M397.5 651.6l-0.5 0.1M386.7 687.9l-0.4 0.7M386.7 678.3l-1.4 0.1M390.0 643.2l0.6 0.4M375.0 672.8l0.1 0.4M388.6 666.8l-0.5 0.3M364.6 683.1l0.9 0.2M374.5 667.9l-1.2 0.6M407.5 705.0l-1.1 0.2M385.2 693.2l-0.5 0.8M390.3 644.6l0.2 1.1M375.6 704.7l-0.9 0.4M410.6 697.6l0.1 0.4M415.0 681.7l0.7 1.1M390.8 685.8l-0.6 0.9M399.7 697.2l-0.2 0.2M396.4 645.4l0.3 0.8M380.3 679.7l0.2 0.3M402.5 676.6l0.9 0.3M406.4 638.5l0.4 0.3M355.5 656.9l-0.5 0.6M389.5 670.7l-0.4 0.7M355.6 685.8l0.3 0.1M358.9 639.2l-0.6 0.5M395.8 691.7l0.3 0.4M359.5 673.6l0.4 0.3M388.5 681.7l0.9 0.9M375.1 657.5l-0.4 0.1M356.7 689.4l-0.6 0.2M364.9 692.8l-0.6 0.1M397.5 655.2l0.1 1.4M368.5 665.0l0.5 1.2M365.6 665.5l0.2 1.0M383.7 651.8l0.3 0.1M368.8 663.5l-0.6 0.3M370.7 670.7l-0.4 1.2M382.3 686.7l0.7 0.2M363.3 682.7l-0.0 0.4M401.8 648.7l-0.7 0.3M355.8 665.0l-0.4 0.7M366.9 701.8l-1.2 0.6M409.9 626.3l-0.8 0.6M394.0 641.6l-0.6 0.8M385.8 628.8l-0.1 0.8M406.5 667.9l0.3 0.2M410.3 637.3l0.3 0.2M409.9 694.7l1.0 0.1M388.4 700.2l0.6 0.1M386.6 631.1l-0.7 1.2M364.4 636.5l-0.9 0.7M387.4 680.7l-1.1 0.1M411.5 692.9l-0.2 1.1M370.4 637.1l-0.4 0.3M397.1 660.6l-0.7 0.1M407.9 669.5l-0.3 0.4M359.9 683.2l0.3 0.4M383.8 650.5l-0.5 0.3M408.4 640.0l-0.7 1.0M369.9 630.0l0.1 0.7M375.1 684.2l0.1 0.6M356.1 656.5l-1.2 0.3M374.7 665.4l0.4 0.2M393.8 697.0l0.5 1.0M405.1 643.3l-1.2 0.1M381.1 632.0l0.4 0.8M368.0 635.3l-0.7 0.5M360.6 656.0l0.3 0.4M383.8 698.0l0.9 0.2M378.7 644.4l0.7 0.4M370.8 655.7l0.1 0.5M385.0 694.4l0.1 0.5M391.0 687.7l-0.5 0.8M401.3 670.4l0.0 0.7M357.7 643.5l0.3 0.6M362.7 675.7l0.6 0.2M386.8 646.8l-1.3 0.4M397.3 681.1l0.3 0.2M412.2 655.6l-0.9 0.5M392.8 677.8l-0.5 0.8M376.1 689.8l-0.5 0.3M406.3 700.8l0.6 1.2M402.9 672.7l-0.6 0.6M383.8 705.6l-0.9 0.9M358.8 651.8l0.7 1.1M411.4 663.8l0.3 0.2M401.9 694.9l0.1 0.9M388.0 657.7l-0.1 1.4M397.4 655.0l-0.8 0.1M403.4 702.2l0.6 1.2M412.3 685.5l0.4 0.7M412.2 655.5l1.1 0.1M409.2 657.8l0.9 0.8M363.3 683.2l-0.2 0.8M408.9 654.7l-0.8 0.8M376.3 683.9l-0.3 0.0M381.3 672.0l0.7 1.1M357.0 693.3l0.7 0.0M414.8 626.1l-0.2 0.6M380.2 630.9l-0.1 1.0M399.7 680.2l0.8 0.5M405.6 678.7l1.0 0.8M367.6 698.1l-0.2 0.7M404.6 694.1l-0.7 1.0M406.9 658.2l0.9 0.6M366.5 704.4l-0.9 0.6M384.3 704.3l0.5 0.8M409.2 640.1l1.0 0.5M369.4 635.2l-0.5 0.6M363.8 660.1l1.0 0.4M390.3 639.9l-0.3 0.6M412.7 669.6l-0.4 1.1M371.1 699.7l-0.9 0.7M397.4 645.3l-0.1 1.1M381.5 641.5l-0.4 0.9M383.4 684.7l0.1 1.0M379.6 675.2l-0.5 0.5M358.0 704.5l0.9 0.5M396.5 638.0l-0.6 0.6M403.3 638.7l-0.1 0.7M360.8 692.1l0.1 1.1M364.5 629.5l1.3 0.5M385.6 637.0l0.4 1.0M408.2 626.1l-0.2 0.4M410.0 694.2l-0.3 1.2M382.1 656.0l0.4 0.7M396.5 670.4l-0.4 0.9M365.9 628.3l0.4 0.2M367.4 705.2l0.7 0.2M413.4 653.3l-0.7 0.1M363.7 681.4l-0.2 0.5M387.0 631.1l-0.2 0.6M380.4 705.3l-0.4 0.5M394.1 701.4l0.9 0.7M377.2 648.9l-0.4 0.2M359.3 678.8l0.3 0.2M364.2 632.1l-1.1 0.4M364.0 671.2l0.8 0.2M357.4 704.9l-1.0 0.2M362.4 636.8l1.3 0.3M356.9 626.6l1.3 0.1M377.0 682.5l-0.2 0.6M403.4 699.6l-0.4 0.3M381.4 630.7l0.3 0.7M382.1 675.8l-0.2 0.3M392.4 689.9l-0.9 0.4M411.8 649.8l-0.9 0.6M412.8 626.2l0.1 1.4M392.7 641.3l0.7 0.2M355.2 675.7l1.2 0.1M384.8 698.3l1.0 0.1M355.9 676.0l-0.1 1.0M387.3 668.2l-0.3 0.3M382.9 637.2l-0.4 0.2M387.4 686.1l-0.2 0.2M407.0 699.5l-1.0 0.2M397.3 641.9l0.7 0.9M377.4 664.7l-0.3 0.3M387.3 686.3l-0.4 1.3M388.6 637.8l-0.9 1.1M407.1 673.7l0.5 0.7M392.8 700.3l0.6 0.2M383.4 644.3l-0.5 0.7M364.1 662.0l-0.7 1.2M373.0 705.6l-0.9 0.1M380.7 658.3l-0.7 0.2M381.3 637.2l1.1 0.2M395.1 645.5l-0.3 0.6M397.4 651.6l0.0 0.3M367.1 666.1l0.6 1.0M402.3 632.0l-0.1 1.1M414.1 704.4l0.4 0.6M404.8 666.1l-1.1 0.4M403.6 653.0l0.4 0.1M356.8 629.9l-0.6 0.5M359.9 629.7l-1.0 0.8M382.5 682.7l0.6 0.5M367.8 638.1l0.4 0.5M405.0 655.0l0.0 0.4M396.5 643.0l-0.6 0.2M384.0 630.2l0.8 1.0M368.2 694.1l0.2 0.3M404.3 690.7l-0.2 0.6M387.7 697.4l0.1 0.3M370.4 643.8l-0.3 0.8M362.0 659.9l0.3 1.3M407.7 626.3l0.4 0.1M375.0 703.0l0.5 0.1M374.6 654.5l0.6 0.5M393.7 696.0l0.7 0.3M355.1 702.2l-0.5 0.3M395.0 632.6l0.3 0.1M377.3 700.7l-0.4 1.1M413.7 663.7l-0.3 0.3M373.6 630.1l0.8 0.5M373.6 634.0l0.5 0.6M388.5 686.4l-0.5 0.9M407.3 664.9l0.8 0.1M390.5 671.1l-1.0 0.6M410.2 695.2l0.3 0.2M360.3 692.4l-0.6 0.9M376.1 669.9l-0.8 0.7M403.0 668.9l0.1 1.2M393.7 664.1l0.0 0.5M358.7 650.8l-0.3 0.6M358.8 681.0l0.2 1.3M414.4 668.9l0.4 1.2M356.1 694.0l0.6 0.1M371.3 651.8l0.9 0.1M355.9 655.5l-0.5 0.0M363.6 700.1l-0.0 0.9M404.7 639.7l-1.0 0.5M393.2 689.4l0.7 0.7M377.1 704.4l0.3 0.7M405.2 638.4l0.5 0.1M363.6 634.4l0.8 0.1M362.4 691.9l0.1 1.4M362.7 647.8l-0.8 1.0M386.8 662.7l-0.2 0.4M389.8 678.5l0.1 1.1M356.4 676.6l-1.3 0.4M368.9 689.4l0.7 0.7M385.9 658.9l0.7 0.6M384.9 638.3l0.6 0.0M404.2 652.8l1.2 0.1M411.2 675.7l0.4 1.2M365.5 705.9l0.7 0.2M388.2 663.1l0.0 0.7M360.2 684.5l1.0 0.8M392.8 667.0l-1.3 0.1M359.2 658.1l1.3 0.2M382.3 637.6l-0.6 1.1M359.4 648.7l-0.8 0.6M380.1 661.0l-0.2 0.4M368.5 672.4l-0.1 1.0M361.4 664.7l-0.5 0.5M410.2 648.1l0.1 0.9M401.9 636.3l-0.5 0.0M382.7 668.5l-0.5 0.7M408.2 665.4l-0.5 0.5M358.8 690.3l0.3 0.6M411.0 671.6l-0.2 0.5M376.8 684.3l-0.3 0.7M366.8 647.2l-0.5 0.3M373.8 687.9l-0.7 1.0M401.9 652.8l0.3 0.3M360.3 680.5l0.5 0.4M398.2 661.3l-0.2 0.4M409.2 646.5l0.3 1.1M396.7 702.9l0.2 0.4M366.6 687.6l0.7 0.3M360.8 664.7l0.3 0.1M397.8 654.3l-0.7 0.4M360.1 656.4l-0.7 0.4M379.6 698.9l-0.1 0.3M395.7 649.6l0.3 1.2M395.9 654.3l0.4 0.1M408.8 646.0l0.2 0.9M359.5 649.7l-0.9 0.6M376.4 702.7l-0.7 0.5M404.4 688.0l0.5 0.2M376.3 652.3l-0.6 0.5M372.8 689.9l-0.2 0.9M415.0 627.3l0.3 0.2M406.5 684.4l-1.0 0.7M396.0 667.2l-0.7 1.2M360.5 629.9l-0.3 0.2M409.1 670.1l0.8 0.1M376.8 681.5l0.2 0.4M375.6 656.1l-0.2 1.1M410.1 693.0l1.0 0.4M368.0 629.1l-0.3 1.2M374.8 636.0l-0.1 0.6M393.7 671.5l0.5 0.2M406.4 689.5l-0.1 0.5M367.8 637.0l0.6 0.4M397.7 663.3l1.3 0.1M411.2 691.9l-0.4 0.3M394.2 681.8l0.6 0.3M378.8 703.6l-0.8 0.7M396.8 626.9l0.3 0.6M379.1 690.5l-0.0 0.9M412.2 669.7l1.3 0.3M411.6 645.3l0.9 0.4M373.9 644.2l-0.3 0.7M384.9 663.5l1.2 0.5M374.8 648.3l-0.7 0.4M405.5 648.4l-0.4 0.9M378.5 677.3l-0.3 0.9M363.8 703.2l-0.3 0.2M382.4 692.2l1.0 0.8M375.4 670.7l0.8 0.9M357.7 669.0l0.3 0.1M366.8 701.8l0.2 0.3M380.6 659.5l-0.7 0.1M408.6 648.3l-0.4 0.2M402.0 631.4l-0.5 0.8M404.0 638.9l1.1 0.1M389.1 627.2l-0.4 0.8M359.2 690.9l-0.3 1.1M409.6 692.9l-0.1 0.3M374.9 675.8l0.8 0.2M407.2 682.1l0.9 0.3M407.9 626.6l-0.4 1.3M373.5 696.3l-0.5 1.2M370.6 694.0l-0.4 0.1M371.2 641.4l1.1 0.4M396.8 697.3l-0.4 0.1M375.6 688.1l-0.1 0.9M374.1 636.2l0.3 0.9M375.4 670.9l-0.8 0.3M413.5 671.7l-0.7 0.5M395.1 637.7l0.4 0.1M371.3 689.7l0.4 1.2M356.6 646.1l0.0 1.2M402.5 669.1l-0.8 0.2M395.7 634.9l0.3 1.0M414.1 677.9l0.7 0.1M412.1 684.3l-1.2 0.5M377.6 632.3l-0.6 0.5M405.0 644.3l-0.6 1.0M360.0 688.6l-0.2 1.2M359.9 698.5l-0.7 0.7M394.7 637.9l0.8 0.2M381.9 663.3l0.2 0.3M407.7 698.0l0.4 0.4M400.0 671.9l-0.9 0.5M357.3 635.3l-1.1 0.4M365.4 630.5l-0.2 0.5M369.3 657.6l-0.8 0.8M378.9 639.9l1.1 0.6M394.6 654.1l1.2 0.4M359.5 631.3l-0.2 0.5M404.0 662.0l0.6 0.4M371.5 626.3l-1.0 0.5M357.6 668.5l0.1 1.3M401.9 642.5l1.4 0.3M402.6 658.0l0.3 0.1M406.4 650.8l-0.8 0.1M378.7 705.8l0.5 0.5M394.0 630.1l-0.2 0.2M369.0 631.1l-1.1 0.3M407.9 662.9l-0.8 1.0M358.9 655.9l-0.7 1.0M376.8 661.5l-0.1 1.1M360.2 671.8l-0.1 0.5M366.0 654.9l-1.2 0.4M361.9 692.5l-0.7 0.3" stroke="#a29dca" stroke-width="1.3" stroke-linecap="round" fill="none" opacity="0.8"/>
<path d="M392.4 674.2l0.4 0.6M405.4 692.8l0.7 0.5M358.5 677.1l1.2 0.5M384.3 640.9l0.2 0.6M414.8 669.4l-0.9 0.5M362.2 667.5l-0.2 0.8M400.3 644.9l-0.3 0.3M412.5 646.1l0.1 0.9M378.0 648.9l-0.1 0.5M367.6 666.6l-0.5 0.4M412.3 701.7l0.8 0.5M374.1 682.0l-0.3 1.1M411.9 678.6l-0.7 0.5M399.8 694.4l-0.2 0.3M402.9 649.3l1.1 0.6M408.4 701.6l1.0 0.4M373.4 697.3l0.5 1.1M368.7 665.4l-0.3 0.4M362.2 671.3l-0.1 0.4M367.5 650.1l-0.2 1.0M356.5 630.3l-1.1 0.3M357.8 662.7l0.5 0.2M379.4 634.3l0.2 0.2M386.4 700.8l-0.5 0.9M394.4 661.1l0.7 0.4M375.6 697.2l0.6 0.7M405.7 668.7l0.3 0.1M368.1 666.3l-0.4 0.0M369.5 637.6l-0.2 0.3M390.4 697.4l1.1 0.3M381.7 688.1l-1.1 0.2M355.1 692.8l-0.0 0.9M392.7 633.5l0.1 0.7M403.7 672.3l0.8 0.3M392.8 673.3l-0.6 0.3M405.1 643.7l-0.5 0.9M386.3 692.1l-0.4 0.5M414.9 654.8l0.3 0.3M390.1 685.6l0.2 0.6M364.3 692.1l-0.5 0.6M357.3 647.9l-0.9 0.0M393.8 666.6l-0.9 0.1M376.9 629.4l0.7 0.0M382.1 634.7l-1.0 0.3M365.3 631.5l0.2 0.5M383.3 630.8l0.4 1.2M380.3 678.4l0.4 0.2M375.5 688.7l0.5 0.2M408.6 654.7l-0.4 0.6M408.7 699.3l-0.4 1.0M383.3 628.2l0.6 1.0M367.8 630.1l-0.5 0.2M393.8 691.6l0.1 0.5M368.0 647.2l-0.1 0.6M375.2 671.8l-0.2 0.3M378.2 644.9l-0.4 0.6M365.6 649.2l0.2 0.3M376.7 635.5l-0.3 1.2M391.6 686.1l0.0 0.6M383.6 672.0l-0.6 0.5M401.1 690.3l0.8 0.2M406.0 690.6l1.2 0.3M400.4 679.8l-0.1 0.7M393.8 703.1l0.6 0.1M396.2 655.7l-0.4 0.3M403.4 702.4l-0.3 1.2M414.5 681.8l0.0 0.6M379.2 663.0l-0.5 0.2M365.8 698.7l0.4 1.0M407.7 677.6l0.3 0.5M370.8 641.5l0.8 0.1M355.7 657.5l0.8 0.6M368.5 683.2l0.8 0.5M398.0 631.0l-0.8 0.3M359.9 699.7l-0.7 0.7M397.5 651.7l-0.1 0.4M404.2 689.1l0.7 0.3M375.1 626.6l-0.3 0.4M385.1 693.6l-0.2 0.6M357.6 696.2l-0.8 0.3M378.8 684.4l-1.0 0.3M409.0 665.5l0.3 0.0M396.7 641.8l0.8 0.8M410.1 679.2l0.4 0.4M409.0 647.9l0.0 1.0M399.6 649.5l-0.5 0.1M389.2 667.6l1.0 0.1M362.0 647.6l0.1 0.5M367.9 669.5l1.0 0.5M369.2 651.6l0.7 0.7M362.0 683.3l0.3 0.8M372.1 673.4l-0.5 0.1M376.1 638.2l1.0 0.7M389.2 641.3l0.2 0.3M382.3 629.9l-0.2 1.0M403.6 655.5l-1.1 0.0M382.7 668.9l-0.8 0.8M392.8 638.0l-0.6 0.8M375.5 648.5l0.3 0.2M355.2 698.4l0.4 1.1M382.7 629.7l0.9 0.1M364.3 663.4l0.2 0.3M388.9 705.6l1.1 0.7M381.3 648.4l0.5 0.3M389.3 650.2l0.2 0.3M362.7 693.0l0.3 0.3M373.0 630.4l0.7 0.5M362.3 639.8l-0.2 0.8M377.7 688.7l-0.7 0.5M362.1 691.9l-0.9 0.4M404.2 679.0l0.2 0.3M378.8 671.6l-0.0 0.3M388.1 633.8l0.4 0.5M364.7 630.1l-0.5 0.5M409.7 700.9l-0.2 0.8M399.3 632.7l-0.5 1.0M411.7 693.0l-0.3 0.2M410.1 679.9l-0.4 0.0M413.3 657.5l-0.3 1.1M386.2 670.9l-0.2 0.7M409.1 672.4l-1.0 0.2M357.9 698.6l0.3 1.2M398.7 671.7l-0.1 1.2M355.5 678.5l-0.5 0.4M399.4 689.9l-0.1 0.5M394.8 704.3l0.6 0.5M406.8 666.6l0.3 0.2M409.0 644.5l-0.3 0.4M384.2 628.7l-0.8 0.3M385.0 651.1l0.5 0.5M403.6 690.8l-0.4 0.3M401.3 670.4l0.4 1.2M371.0 654.7l-1.2 0.1M398.8 634.5l0.8 1.0M364.2 683.5l-0.6 1.1M378.4 635.1l-0.0 1.2M410.3 687.6l-0.4 0.3M379.9 667.1l1.1 0.6M389.4 634.1l0.7 0.8M391.4 672.9l-0.4 0.4M365.3 664.1l0.4 0.6M376.2 647.5l-0.3 0.0M363.8 659.7l-0.7 0.1M395.6 663.0l0.1 0.6M408.6 666.1l-0.5 0.1M401.9 634.9l-1.2 0.5M377.3 670.1l-0.3 0.0M400.2 649.9l-0.2 0.8M413.7 635.2l-0.5 0.5M403.4 682.4l-0.3 0.9M357.1 669.1l-0.8 0.6M358.9 669.2l0.0 0.3M379.0 684.5l0.2 0.8M363.6 640.7l-0.9 0.3M358.4 667.6l-0.6 0.3M366.9 634.7l-0.9 0.6M394.5 693.3l1.0 0.7M403.2 668.6l-0.9 0.5M360.9 661.3l0.4 0.0M367.4 704.8l-0.4 0.1M355.2 643.9l0.2 0.6M387.0 688.0l-0.6 0.1M358.4 643.5l-0.5 1.0M411.8 653.7l-0.8 0.3M402.6 628.3l0.6 0.0M391.0 637.5l0.3 0.2M385.7 670.4l0.9 0.7M364.0 663.1l0.8 0.7M372.4 637.9l0.6 0.5M363.5 673.2l1.1 0.1M399.8 644.6l0.5 0.5M375.5 657.8l-0.8 0.6M364.9 676.3l0.0 0.7M369.7 646.0l-0.9 0.3M365.5 651.9l0.2 0.6M386.0 672.3l0.1 0.8M359.0 647.5l-1.1 0.4" stroke="#4a4480" stroke-width="1.6" stroke-linecap="round" fill="none" opacity="0.8"/>
<path d="M422.1 674.6l-0.3 0.0M425.4 704.8l0.5 0.4M415.6 638.5l0.5 0.8M415.7 667.9l0.8 0.6M416.8 657.5l-0.4 0.6M414.1 678.0l0.6 0.2M420.6 665.6l0.2 0.2M415.4 687.7l-0.8 0.4M421.8 687.7l-0.5 0.4M435.6 706.0l0.7 0.9M432.9 703.3l-0.4 0.4M419.9 690.3l-0.0 0.4M421.1 648.4l0.3 0.2M422.2 662.9l-0.2 0.7M421.4 683.0l1.0 0.2M421.4 695.0l0.4 0.2M419.3 631.3l0.1 1.2M415.6 656.0l0.6 0.0M415.1 686.7l0.3 0.1M434.1 700.9l0.4 0.1M432.5 700.6l1.1 0.5M416.5 655.9l0.7 0.9M418.3 671.3l0.1 0.2M419.2 661.9l-0.9 0.1M416.1 646.9l-0.3 0.6M418.5 694.5l0.6 0.2M415.4 691.0l-0.7 0.2M423.4 634.1l0.3 0.5M420.6 702.4l0.4 0.2M421.1 662.7l-0.6 0.5M428.5 698.7l-0.4 0.0M435.7 695.4l-0.2 0.4M415.8 680.2l-0.3 0.3M418.4 630.1l0.3 0.3M423.2 693.5l-0.7 0.6M417.2 651.9l-0.6 0.9M423.2 639.2l0.7 0.3M415.6 646.0l0.6 0.7M425.9 690.4l-0.2 0.3M423.1 662.6l-0.8 0.6M421.3 665.8l-0.0 0.8M422.0 634.8l-0.5 0.8M419.0 674.3l-0.2 0.1M423.2 674.6l-0.0 0.8M417.6 698.5l1.1 0.5M417.9 673.4l-0.5 1.0M414.1 652.7l0.4 0.3M414.1 659.5l-0.1 0.4M419.8 664.2l-0.1 0.4M421.5 683.7l0.3 0.2M434.6 703.9l0.0 0.8M417.1 651.5l0.3 0.2M423.1 662.5l0.9 0.1M420.0 646.8l0.1 0.3M422.5 641.9l-0.2 0.1M423.4 646.1l-0.6 0.1M414.8 656.0l-0.7 0.6M422.5 642.2l0.1 1.0M419.9 641.2l-0.0 0.5M414.1 643.4l-0.7 0.6M420.1 664.3l-0.6 0.1M418.4 670.5l0.5 0.3M415.5 695.1l0.5 0.2M415.3 681.2l-0.3 0.3M423.3 701.1l-0.3 0.5M425.6 689.9l-0.8 0.7M418.6 694.3l-0.5 0.2M418.2 649.3l-0.8 0.7M423.2 646.3l0.1 0.2M415.9 704.3l-0.8 0.5M418.1 680.9l0.4 0.1M423.2 640.0l0.1 0.5M434.5 702.4l0.7 0.7M416.8 673.8l0.2 0.1M416.3 632.6l0.3 0.2M429.2 698.2l-0.1 0.2M415.7 676.9l0.6 0.0M435.4 692.6l-0.2 0.7M417.8 701.6l-0.6 0.6M415.3 701.8l0.3 0.9M421.0 669.5l-0.6 0.4M420.0 686.4l-0.7 0.4M421.6 672.7l0.9 0.7M416.7 662.8l-0.2 0.7M421.4 689.2l-0.2 0.3M420.4 693.5l0.4 0.2M419.8 682.9l0.1 0.2M421.5 700.1l0.1 0.4M422.6 643.7l0.6 0.3M418.3 694.3l0.4 0.9M420.1 661.8l0.6 0.1M418.6 695.4l0.7 0.9M419.5 655.7l1.0 0.2M415.8 647.7l-0.2 0.5M421.4 639.4l0.4 0.7M422.4 657.4l-0.1 0.5M416.3 695.8l0.4 0.8M428.4 690.6l-1.0 0.5M421.5 626.7l0.4 0.8M427.5 687.6l0.2 0.4M422.8 665.3l-0.6 0.6M418.9 679.0l0.4 0.7M421.5 633.8l0.9 0.0M422.7 689.4l0.2 0.0M427.8 695.9l1.0 0.3M434.2 696.6l-0.3 0.5M431.6 689.4l-0.0 0.3M428.2 700.6l0.9 0.2M414.2 645.3l-0.1 0.5M423.4 644.3l0.1 0.3M414.8 687.2l-0.1 0.7M419.7 659.0l-0.3 0.9M429.0 698.0l0.6 0.5M423.0 647.6l0.2 0.5M415.9 647.6l-0.3 0.4M419.5 669.4l-0.9 0.1M430.0 701.3l-0.2 0.3M415.6 642.6l-0.3 0.2M426.0 689.2l-0.4 0.2M428.4 697.3l-0.5 0.8M416.0 687.5l0.1 0.8M420.4 643.3l-0.2 0.7M417.4 682.4l0.3 0.3M424.7 696.4l0.3 0.2M416.0 654.4l0.1 0.2M432.6 700.8l0.3 0.1M417.0 687.8l-0.3 0.5" stroke="#5f5898" stroke-width="1.4" stroke-linecap="round" fill="none" opacity="0.8"/>
</g>
<g fill="none" stroke="#555" stroke-width="0.9">
<rect x="52.5" y="578.7" width="190.7" height="126.9"/>
<rect x="244.7" y="578.7" width="191.1" height="126.9"/>
<path d="M163.6 705.6V626.5H243.2M355.8 705.6V626.5H435.8"/>
</g>
<text x="111.7" y="591.1" font-size="8.6" fill="#333" textLength="83.7" lengthAdjust="spacingAndGlyphs">Low USP17L expressor</text>
<text x="309.6" y="591.1" font-size="8.6" fill="#333" textLength="86" lengthAdjust="spacingAndGlyphs">High USP17L expressor</text>
<line x1="61.5" y1="692.5" x2="83.2" y2="692.5" stroke="#222" stroke-width="0.9"/>
<text x="57.5" y="700.9" font-size="8.8" font-weight="bold" fill="#111" textLength="31" lengthAdjust="spacingAndGlyphs">100 µm</text>
<line x1="252.5" y1="693.8" x2="273.8" y2="693.8" stroke="#222" stroke-width="0.9"/>
<text x="247.5" y="702" font-size="8.8" font-weight="bold" fill="#111" textLength="32" lengthAdjust="spacingAndGlyphs">100 µm</text>
<rect x="164.2" y="699.3" width="24" height="6" fill="#fff" opacity="0.75"/>
<line x1="164.2" y1="698.5" x2="188.3" y2="698.5" stroke="#333" stroke-width="0.9"/>
<text x="168.5" y="704.6" font-size="5.6" font-weight="bold" fill="#222" textLength="16.4" lengthAdjust="spacingAndGlyphs">50 µm</text>
<rect x="357.2" y="699.3" width="23.4" height="6" fill="#fff" opacity="0.75"/>
<line x1="357.2" y1="698.5" x2="380.6" y2="698.5" stroke="#333" stroke-width="0.9"/>
<text x="361" y="704.6" font-size="5.6" font-weight="bold" fill="#222" textLength="16.2" lengthAdjust="spacingAndGlyphs">50 µm</text>
<rect x="0.5" y="0.5" width="519" height="712" fill="none" stroke="#585858" stroke-width="1"/>
</svg></body></html>
